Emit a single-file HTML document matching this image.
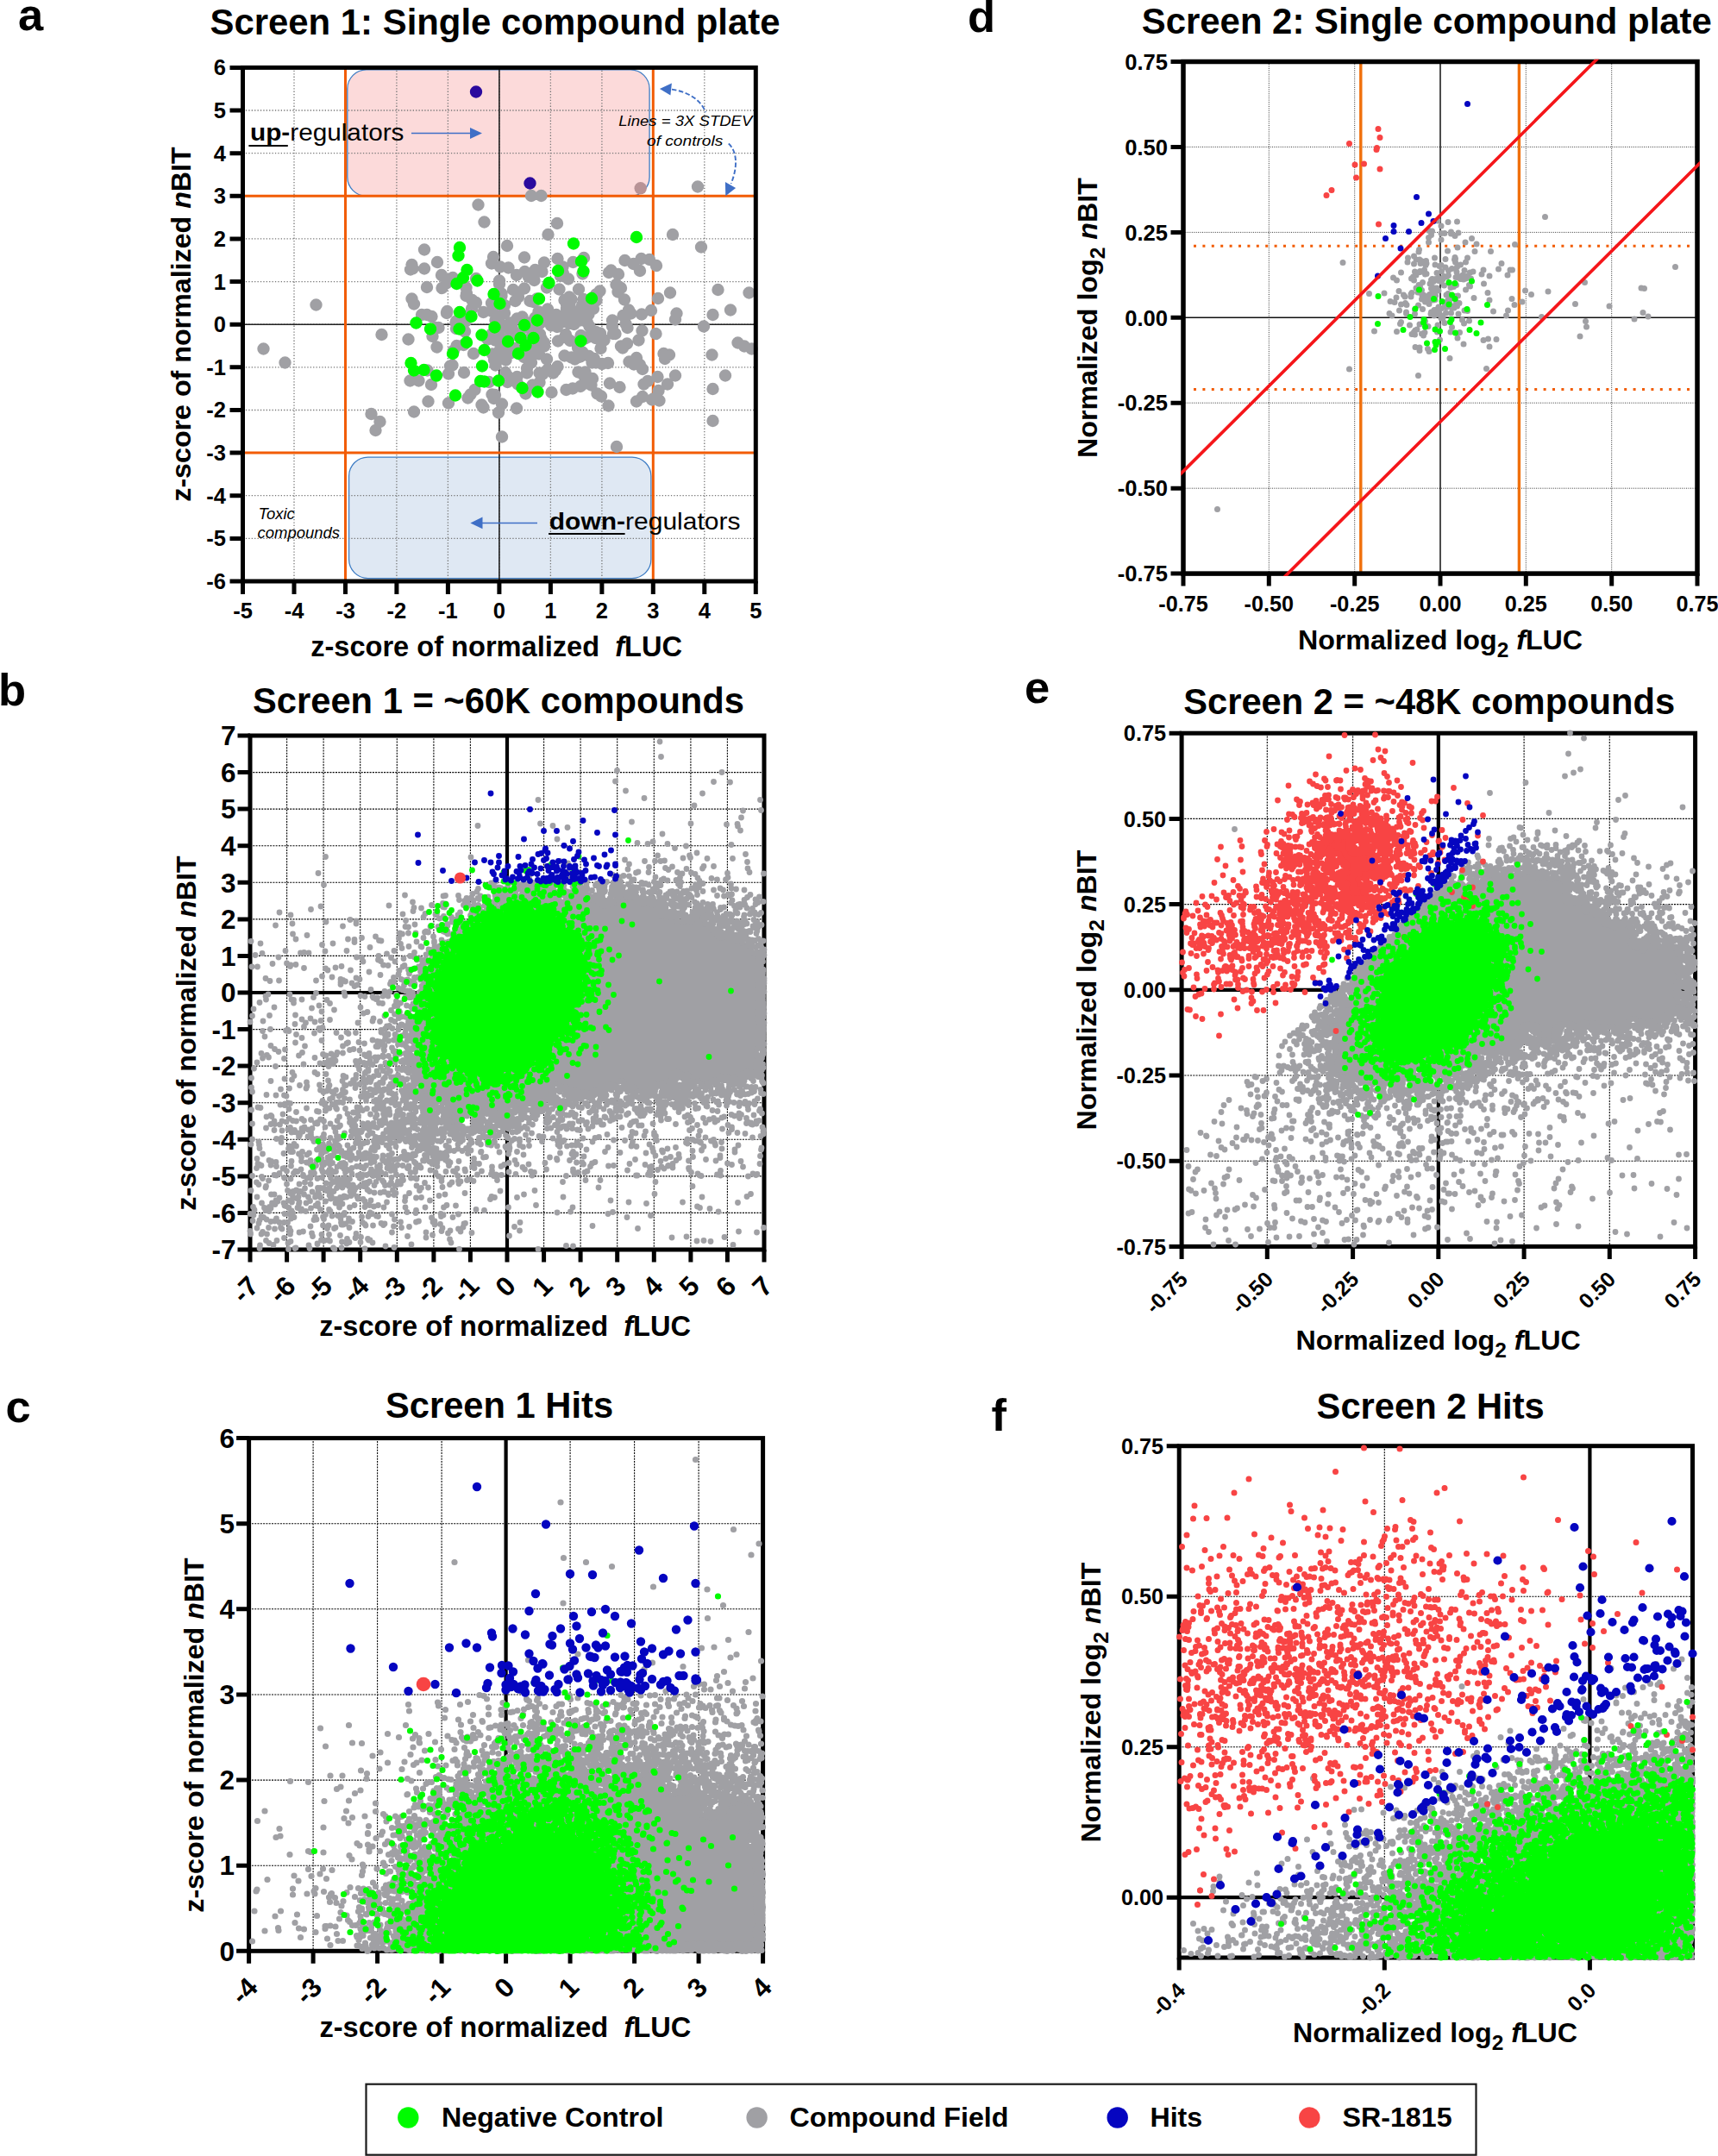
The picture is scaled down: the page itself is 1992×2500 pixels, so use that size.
<!DOCTYPE html><html><head><meta charset="utf-8"><title>Screen figure</title>
<style>html,body{margin:0;padding:0;background:#fff}svg{display:block}text{font-family:"Liberation Sans", Arial, Helvetica, sans-serif;font-weight:bold;fill:#000}</style></head><body>
<svg width="1992" height="2500" viewBox="0 0 1992 2500">
<rect width="1992" height="2500" fill="#fff"/>
<rect x="402.5" y="81" width="470" height="0" fill="none"/>
<rect x="402.8" y="80.9" width="350.3" height="146.4" rx="22" fill="#fcdada" stroke="#3d7cc4" stroke-width="1.3"/>
<rect x="404.6" y="530.1" width="350.3" height="140.5" rx="22" fill="#dfe8f3" stroke="#3d7cc4" stroke-width="1.3"/>
<path d="M341 78.4V674M400.5 78.4V674M459.9 78.4V674M519.4 78.4V674M578.9 78.4V674M638.4 78.4V674M697.9 78.4V674M757.3 78.4V674M816.8 78.4V674M281.5 624.4H876.3M281.5 574.7H876.3M281.5 525.1H876.3M281.5 475.5H876.3M281.5 425.8H876.3M281.5 376.2H876.3M281.5 326.6H876.3M281.5 276.9H876.3M281.5 227.3H876.3M281.5 177.7H876.3M281.5 128H876.3" stroke="#777" stroke-width="1.3" stroke-dasharray="1.3 2.1" fill="none"/>
<path d="M578.9 78.4V674M281.5 376.2H876.3" stroke="#222" stroke-width="1.6" fill="none"/>
<path d="M400.5 78.4V674M757.3 78.4V674M281.5 227.3H876.3M281.5 525.1H876.3" stroke="#f25c05" stroke-width="3" fill="none"/>
<path transform="scale(.5)" d="M1232 454h0m23 0h0m363-21h0m-509 42h0m183 43h0m-169-3h0m148 29h0m289 0h0m66 29h0m-450-3h0m-192 9h0m160 17h0m72 1h0m138 1h0m168 18h0m-16-14h0m-19-2h0m-18 12h0m-20-8h0m-120 4h0m-24 11h0m-12-19h0m-31 9h0m-83 12h0m-19-2h0m-20-8h0m-126-3h0m-30 15h0m-27 0h0m-2-9h0m-3 11h0m72 13h0m26 6h0m54 2h0m94-8h0m19-8h0m7 5h0m2 7h0m15-16h0m16 4h0m43 10h0m6-6h0m12 13h0m33-12h0m61-3h0m5-5h0m17 9h0m50-8h0m-44 40h0m-11-8h0m-87 11h0m-45 0h0m-29-4h0m-29-17h0m-23 19h0m-58-18h0m0 8h0m-77 8h0m-38-19h0m-8 9h0m-10 11h0m-35-2h0m-35 27h0m126-7h0m1-6h0m81 1h0m0 5h0m27-14h0m12 17h0m43 4h0m75-4h0m5 5h0m28 0h0m29-11h0m9-8h0m42 2h0m15 18h0m78-3h0m28-13h0m111-7h0m72 7h0m-43 40h0m-236 0h0m-75-22h0m-7 19h0m-2-8h0m-24 0h0m-29 1h0m-7-2h0m0 10h0m0-3h0m-5-18h0m-39 21h0m-33-17h0m-8-2h0m-34 0h0m-25 10h0m-14 4h0m-16-9h0m-36-1h0m-9-6h0m-1 20h0m-134-11h0m-227 2h0m245 23h0m12 0h0m11 4h0m35-10h0m0 2h0m1-4h0m45 12h0m39-10h0m20-2h0m8 21h0m11-11h0m10-6h0m29 13h0m12-4h0m30 2h0m8-14h0m18 13h0m16 1h0m7-7h0m3 5h0m7 0h0m23 2h0m7 0h0m5-13h0m10 19h0m5-7h0m3-9h0m12 2h0m55 14h0m25-11h0m18-5h0m25 2h0m22-9h0m56 21h0m3-14h0m84 3h0m-21 27h0m-143 10h0m-34-7h0m-4-9h0m-31 6h0m-53 0h0m-5-9h0m-31 4h0m0-7h0m-11 5h0m0-6h0m-13 2h0m-6-1h0m-9 13h0m-14-3h0m-26-5h0m-9-4h0m-7 13h0m0-14h0m-4 4h0m-10 10h0m-35-2h0m-4-8h0m0 14h0m-2-8h0m-22 10h0m0-17h0m-7 9h0m-73-11h0m-4 1h0m-17-2h0m0 17h0m-1-13h0m-40 11h0m-6 0h0m-126 16h0m62 11h0m56-7h0m75-11h0m53 18h0m10-13h0m5 1h0m2 14h0m17-3h0m18-6h0m7-8h0m2-3h0m13 6h0m27 7h0m6 8h0m11-12h0m3-3h0m3 10h0m2 4h0m37 2h0m16-9h0m2-6h0m10 14h0m25-12h0m1 4h0m9 3h0m6-3h0m18 2h0m1-14h0m10 3h0m9 16h0m21-15h0m5 0h0m54 15h0m40-15h0m222 35h0m-17-6h0m-15-8h0m-257 2h0m-10 10h0m-4-4h0m-47 5h0m-53-2h0m-78-3h0m0-8h0m-7 5h0m-22 15h0m-38-2h0m-1-5h0m-24-15h0m-1 19h0m-9-1h0m-85-11h0m-16 2h0m-7 11h0m-39-8h0m-402 4h0m487 11h0m44 1h0m4 13h0m16-17h0m11 18h0m11-16h0m31 9h0m22-12h0m13 5h0m18 12h0m41-8h0m16 4h0m8 4h0m10-5h0m3-1h0m5-10h0m15 9h0m12 6h0m81 7h0m17-9h0m63-10h0m3 12h0m10-9h0m99 0h0m-161 33h0m-6-10h0m-14-1h0m-60-3h0m-14 2h0m-14-3h0m-9 0h0m-16 22h0m-16 0h0m-48-13h0m-5 9h0m-18-2h0m-38-16h0m-10 13h0m-73-7h0m-100 0h0m-5 2h0m-53 10h0m-330-18h0m290 42h0m20 0h0m69-16h0m36-3h0m58 22h0m38-22h0m4 7h0m1 15h0m22-12h0m23-9h0m29 22h0m0-22h0m7 3h0m25-3h0m72 7h0m19 6h0m128 6h0m23-10h0m41-3h0m116 0h0m-29 31h0m-105-11h0m-21 15h0m-34-15h0m-56 7h0m-23-9h0m-43 4h0m-17-3h0m-8 6h0m-18 5h0m-15 3h0m-34 6h0m-44-17h0m-2 5h0m-32-7h0m-100 13h0m-101-12h0m-7 39h0m47 4h0m45-12h0m6-8h0m50 0h0m4 9h0m3-8h0m71-3h0m166 0h0m9 6h0m82 12h0m14-11h0m22 7h0m3-2h0m14 4h0m-118 12h0m-213 6h0m-34-10h0m-8 20h0m-35-12h0m-4-6h0m-157 16h0m-99 5h0m20 18h0m772-2h0m-782 22h0m293 15h0m266 23h0" stroke="#a0a0a4" stroke-width="28.8" stroke-linecap="round" fill="none"/><circle cx="742.7" cy="218.3" r="7.2" fill="#b89396"/><path transform="scale(.5)" d="M1476 550h0m-146 15h0m-264 9h0m-3 19h0m285 13h0m-274 38h0m9-18h0m211 2h0m59 1h0m-80 27h0m-166-5h0m-48 7h0m86 24h0m105 11h0m122-1h0m-213 12h0m-93 20h0m27 10h0m153 9h0m-30 11h0m-69 5h0m-82 4h0m-67 0h0m-33-14h0m152 28h0m90 7h0m30 0h0m110 7h0m-128 10h0m-41-9h0m-55 20h0m-41-18h0m-32 26h0m152 0h0m-84 29h0m-135 9h0m-23 1h0m-7-17h0m59 29h0m102 13h0m9 1h0m33-2h0m91 26h0m-36-9h0m-155 17h0" stroke="#00fb00" stroke-width="28.8" stroke-linecap="round" fill="none"/><path transform="scale(.5)" d="M1104 213h0m125 212h0" stroke="#2a0a9e" stroke-width="28.8" stroke-linecap="round" fill="none"/>
<rect x="281.5" y="78.4" width="594.8" height="595.6" fill="none" stroke="#000" stroke-width="5"/>
<path d="M281.5 674v15.0M341 674v15.0M400.5 674v15.0M459.9 674v15.0M519.4 674v15.0M578.9 674v15.0M638.4 674v15.0M697.9 674v15.0M757.3 674v15.0M816.8 674v15.0M876.3 674v15.0M281.5 674h-15.0M281.5 624.4h-15.0M281.5 574.7h-15.0M281.5 525.1h-15.0M281.5 475.5h-15.0M281.5 425.8h-15.0M281.5 376.2h-15.0M281.5 326.6h-15.0M281.5 276.9h-15.0M281.5 227.3h-15.0M281.5 177.7h-15.0M281.5 128h-15.0M281.5 78.4h-15.0" stroke="#000" stroke-width="5" fill="none"/>
<text x="262" y="682.9" font-size="25.5" text-anchor="end">-6</text>
<text x="262" y="633.3" font-size="25.5" text-anchor="end">-5</text>
<text x="262" y="583.7" font-size="25.5" text-anchor="end">-4</text>
<text x="262" y="534" font-size="25.5" text-anchor="end">-3</text>
<text x="262" y="484.4" font-size="25.5" text-anchor="end">-2</text>
<text x="262" y="434.8" font-size="25.5" text-anchor="end">-1</text>
<text x="262" y="385.1" font-size="25.5" text-anchor="end">0</text>
<text x="262" y="335.5" font-size="25.5" text-anchor="end">1</text>
<text x="262" y="285.9" font-size="25.5" text-anchor="end">2</text>
<text x="262" y="236.2" font-size="25.5" text-anchor="end">3</text>
<text x="262" y="186.6" font-size="25.5" text-anchor="end">4</text>
<text x="262" y="137" font-size="25.5" text-anchor="end">5</text>
<text x="262" y="87.3" font-size="25.5" text-anchor="end">6</text>
<text x="281.5" y="716.5" font-size="25.5" text-anchor="middle">-5</text>
<text x="341" y="716.5" font-size="25.5" text-anchor="middle">-4</text>
<text x="400.5" y="716.5" font-size="25.5" text-anchor="middle">-3</text>
<text x="459.9" y="716.5" font-size="25.5" text-anchor="middle">-2</text>
<text x="519.4" y="716.5" font-size="25.5" text-anchor="middle">-1</text>
<text x="578.9" y="716.5" font-size="25.5" text-anchor="middle">0</text>
<text x="638.4" y="716.5" font-size="25.5" text-anchor="middle">1</text>
<text x="697.9" y="716.5" font-size="25.5" text-anchor="middle">2</text>
<text x="757.3" y="716.5" font-size="25.5" text-anchor="middle">3</text>
<text x="816.8" y="716.5" font-size="25.5" text-anchor="middle">4</text>
<text x="876.3" y="716.5" font-size="25.5" text-anchor="middle">5</text>
<text x="574" y="40" font-size="41.9" text-anchor="middle">Screen 1: Single compound plate</text>
<text x="21" y="35" font-size="52.5" text-anchor="start">a</text>
<text x="575.6" y="760.8" font-size="32.6" text-anchor="middle" xml:space="preserve">z-score of normalized  <tspan font-style="italic">f</tspan>LUC</text>
<text x="221" y="376" font-size="32.2" text-anchor="middle" transform="rotate(-90 221 376)">z-score of normalized <tspan font-style="italic">n</tspan>BIT</text>
<text x="290" y="163.3" font-size="28.3" style="font-weight:normal" text-anchor="start" textLength="178.5" lengthAdjust="spacingAndGlyphs"><tspan style="font-weight:bold">up-</tspan>regulators</text>
<path d="M288.4 169H333.8" stroke="#000" stroke-width="2.2"/>
<text x="636.8" y="614.1" font-size="28.3" style="font-weight:normal" text-anchor="start" textLength="221.6" lengthAdjust="spacingAndGlyphs"><tspan style="font-weight:bold">down-</tspan>regulators</text>
<path d="M636.1 619H724.6" stroke="#000" stroke-width="2.2"/>
<text x="299.4" y="602" font-size="17.5" style="font-weight:normal" font-style="italic" text-anchor="start" fill="#111" textLength="42.4" lengthAdjust="spacingAndGlyphs">Toxic</text>
<text x="298.6" y="624.3" font-size="17.5" style="font-weight:normal" font-style="italic" text-anchor="start" fill="#111" textLength="95.4" lengthAdjust="spacingAndGlyphs">compounds</text>
<text x="717.3" y="145.9" font-size="17.3" style="font-weight:normal" font-style="italic" text-anchor="start" fill="#111" textLength="155" lengthAdjust="spacingAndGlyphs">Lines = 3X STDEV</text>
<text x="750" y="168.6" font-size="17.3" style="font-weight:normal" font-style="italic" text-anchor="start" fill="#111" textLength="88.3" lengthAdjust="spacingAndGlyphs">of controls</text>
<g stroke="#3f6fc6" fill="none" stroke-width="1.5">
<path d="M477 154.5H548"/><path d="M623 606.4H558"/>
<path d="M779 103.6C795 106 812 114 818.2 130.2" stroke-dasharray="5.5 2.6" stroke-width="1.9"/>
<path d="M844.8 166.5C853 174 857 190 847.6 213" stroke-dasharray="5.5 2.6" stroke-width="1.9"/>
</g>
<g fill="#3f6fc6"><path d="M559 154.5L545 148v13z"/><path d="M545.4 606.4L559.5 599.6v13.6z"/><path d="M764.9 103.1L778.9 96.6L777.4 110.6z"/><path d="M841.3 227.2L840.9 211L853.1 218z"/></g>
<path d="M1471.3 71.5V665.1M1570.7 71.5V665.1M1769.3 71.5V665.1M1868.7 71.5V665.1M1372 566.2H1968M1372 467.2H1968M1372 269.4H1968M1372 170.4H1968" stroke="#333" stroke-width="1" stroke-dasharray="1 1.45" fill="none"/>
<path d="M1670 71.5V665.1M1372 368.3H1968" stroke="#111" stroke-width="1.5" fill="none"/>
<path d="M1384 285.2H1962M1384 451.4H1962" stroke="#f25c05" stroke-width="3" stroke-dasharray="3 7.4" fill="none"/>
<path d="M1577.8 71.5V665.1M1761.4 71.5V665.1" stroke="#f0700c" stroke-width="3.4" fill="none"/>
<path transform="scale(.5)" d="M3583 503h0m-204 11h0m-21 1h0m-16 9h0m-8-12h0m-21 39h0m1-16h0m5 10h0m2-9h0m21 5h0m8 0h0m15 1h0m0-4h0m9 9h0m8-7h0m131 27h0m-89-1h0m-11-13h0m-15 9h0m-18 12h0m-38-18h0m-29 6h0m-48 36h0m14-4h0m11-10h0m1-5h0m36 19h0m30-16h0m17 15h0m29 1h0m17-15h0m37 0h0m428 36h0m-403-8h0m-83-3h0m-12 6h0m-8 5h0m-4-11h0m0-8h0m-2 2h0m-6 21h0m-15-3h0m0-19h0m-10 14h0m-4 2h0m-10-3h0m-20-3h0m-1-6h0m-1 10h0m-10-10h0m-2 6h0m-2-9h0m-8 0h0m-5 10h0m-15-4h0m-150 1h0m117 35h0m18-12h0m24 14h0m4-4h0m4-12h0m3 8h0m9-7h0m0-2h0m5 0h0m5-3h0m2 10h0m3-1h0m13 12h0m9 0h0m2-14h0m4 12h0m7-16h0m3 18h0m3-6h0m6 1h0m1-1h0m3-13h0m0 11h0m17 4h0m2-12h0m5 10h0m1 4h0m3 2h0m5-9h0m4-11h0m3 19h0m4-6h0m6-8h0m2 14h0m5-16h0m20 6h0m4-10h0m14 14h0m21-16h0m21 14h0m6-12h0m5 0h0m306 43h0m-7-1h0m-131-13h0m-234 3h0m-32 6h0m-2-3h0m-13-13h0m-17 13h0m-6 4h0m-2 0h0m-5 2h0m-3-10h0m-12 5h0m-5-12h0m-2 3h0m-6-2h0m-4 17h0m-3-20h0m-1 22h0m-1-2h0m0-19h0m-2-1h0m-1 5h0m-5 5h0m0-1h0m0 12h0m0-20h0m-3 9h0m-17-3h0m-6 10h0m-3-4h0m-6 7h0m-5-18h0m-40 0h0m-64 31h0m35-1h0m28 10h0m6-15h0m11 9h0m3 4h0m14-6h0m0 6h0m2-9h0m14-1h0m3-3h0m6 19h0m0-13h0m0-8h0m1 13h0m3-2h0m2 11h0m7-8h0m3 6h0m0 0h0m2-10h0m7-6h0m1-3h0m3 11h0m1 1h0m1 9h0m1-9h0m4-13h0m3 1h0m18 10h0m4-3h0m1 2h0m5 9h0m4-1h0m7-4h0m6-1h0m18-14h0m19 19h0m32-12h0m56 14h0m31-19h0m14 9h0m39-7h0m142 34h0m-79-5h0m-123-5h0m-18 7h0m-58-11h0m-70 7h0m-5 7h0m-2-10h0m-5 14h0m-4-4h0m-2 3h0m-5-12h0m0 3h0m-4-7h0m-3 16h0m-2-2h0m-1-5h0m-8 9h0m-7-3h0m-3 5h0m-7 2h0m-2-23h0m-10 9h0m-9-5h0m-6 17h0m-10-9h0m-8 10h0m-19-11h0m-3-4h0m-10 3h0m-15-5h0m-10-2h0m-2 28h0m6 5h0m17-12h0m16 7h0m0-3h0m20 4h0m37 0h0m1-4h0m4 4h0m1 1h0m2 3h0m3-3h0m8-6h0m4 8h0m1 7h0m4-1h0m7-11h0m12 0h0m17 2h0m9 14h0m5-22h0m7 1h0m60 1h0m30 10h0m4-12h0m78 15h0m215 5h0m20-15h0m12 9h0m-143 24h0m-2-13h0m-270-1h0m-12 6h0m-28 9h0m-17-10h0m-16 5h0m-22 3h0m-7-12h0m-13 7h0m-6 12h0m-4 2h0m-13-12h0m-20-7h0m-2 4h0m-60 17h0m52 1h0m35 6h0m5-5h0m2 6h0m16-2h0m4 4h0m3-7h0m29-1h0m6 18h0m25-18h0m16 14h0m5-13h0m55 18h0m11-3h0m19 1h0m194-7h0m-210 24h0m-60-6h0m-80 17h0m-3-6h0m-19-3h0m0 7h0m-10-8h0m80 26h0m85 24h0m-318 1h0m160 15h0m-466 310h0" stroke="#a0a0a4" stroke-width="14" stroke-linecap="round" fill="none"/><path transform="scale(.5)" d="M3413 652h0m-39 5h0m-14-2h0m-164 32h0m95-15h0m34 21h0m42-9h0m7 9h0m75 14h0m-47 10h0m-42-11h0m-16-7h0m-62 17h0m-12 19h0m32 6h0m64 0h0m68 7h0m-26 17h0m-45-18h0m-35 17h0m-23-6h0m-4-10h0m-47 17h0m-59-14h0m144 17h0m36 4h0m49 1h0m-73 36h0m-16-16h0m-5 7h0m-2-7h0m-1 18h0m-18-15h0" stroke="#00fb00" stroke-width="14" stroke-linecap="round" fill="none"/><path transform="scale(.5)" d="M3196 299h0m4 20h0m-71 14h0m63 14h0m1-4h0m-30 37h0m-21 2h0m58 10h0m-55 20h0m-69 41h0m12-12h0m109 79h0" stroke="#f84444" stroke-width="14" stroke-linecap="round" fill="none"/><path transform="scale(.5)" d="M3403 241h0m-118 216h0m28 39h0m11 17h0m-28 4h0m-64 6h0m0 14h0m35 0h0m-54 16h0m35 23h0m-53 64h0" stroke="#0505c0" stroke-width="14" stroke-linecap="round" fill="none"/>
<rect x="1372" y="71.5" width="596" height="593.6" fill="none" stroke="#000" stroke-width="5.5"/>
<clipPath id="cd"><rect x="1369.2" y="68.7" width="601.6" height="599.2"/></clipPath>
<path clip-path="url(#cd)" d="M1360.1 558.3L1860.7 59.6M1479.3 679L1979.9 180.3" stroke="#f5161a" stroke-width="3.7" fill="none"/>
<path d="M1372 665.1v14.5M1471.3 665.1v14.5M1570.7 665.1v14.5M1670 665.1v14.5M1769.3 665.1v14.5M1868.7 665.1v14.5M1968 665.1v14.5M1372 665.1h-14.5M1372 566.2h-14.5M1372 467.2h-14.5M1372 368.3h-14.5M1372 269.4h-14.5M1372 170.4h-14.5M1372 71.5h-14.5" stroke="#000" stroke-width="5" fill="none"/>
<text x="1354" y="674.3" font-size="25.6" text-anchor="end">-0.75</text>
<text x="1354" y="575.4" font-size="25.6" text-anchor="end">-0.50</text>
<text x="1354" y="476.4" font-size="25.6" text-anchor="end">-0.25</text>
<text x="1354" y="377.5" font-size="25.6" text-anchor="end">0.00</text>
<text x="1354" y="278.6" font-size="25.6" text-anchor="end">0.25</text>
<text x="1354" y="179.6" font-size="25.6" text-anchor="end">0.50</text>
<text x="1354" y="80.7" font-size="25.6" text-anchor="end">0.75</text>
<text x="1372" y="709.4" font-size="25.2" text-anchor="middle">-0.75</text>
<text x="1471.3" y="709.4" font-size="25.2" text-anchor="middle">-0.50</text>
<text x="1570.7" y="709.4" font-size="25.2" text-anchor="middle">-0.25</text>
<text x="1670" y="709.4" font-size="25.2" text-anchor="middle">0.00</text>
<text x="1769.3" y="709.4" font-size="25.2" text-anchor="middle">0.25</text>
<text x="1868.7" y="709.4" font-size="25.2" text-anchor="middle">0.50</text>
<text x="1968" y="709.4" font-size="25.2" text-anchor="middle">0.75</text>
<text x="1654.3" y="39" font-size="41.9" text-anchor="middle">Screen 2: Single compound plate</text>
<text x="1122" y="36.5" font-size="52.5" text-anchor="start">d</text>
<text x="1670" y="753" font-size="32.2" text-anchor="middle">Normalized log<tspan font-size="24.5" dy="9">2</tspan><tspan dy="-9"> </tspan><tspan font-style="italic">f</tspan>LUC</text>
<text x="1272.5" y="368.6" font-size="32.2" text-anchor="middle" transform="rotate(-90 1272.5 368.6)">Normalized log<tspan font-size="24.5" dy="9">2</tspan><tspan dy="-9"> </tspan><tspan font-style="italic">n</tspan>BIT</text>
<path d="M332.6 853V1449M375.1 853V1449M417.7 853V1449M460.3 853V1449M502.9 853V1449M545.4 853V1449M588 853V1449M630.6 853V1449M673.1 853V1449M715.7 853V1449M758.3 853V1449M800.9 853V1449M843.4 853V1449M290 1406.4H886M290 1363.9H886M290 1321.3H886M290 1278.7H886M290 1236.1H886M290 1193.6H886M290 1151H886M290 1108.4H886M290 1065.9H886M290 1023.3H886M290 980.7H886M290 938.1H886M290 895.6H886" stroke="#000" stroke-width="1.1" stroke-dasharray="2 1.3" fill="none"/>
<path d="M588 853V1449M290 1151H886" stroke="#000" stroke-width="4.2" fill="none"/>
<rect x="290" y="853" width="596" height="596" fill="none" stroke="#000" stroke-width="5"/>
<path d="M290 1449v14.5M332.6 1449v14.5M375.1 1449v14.5M417.7 1449v14.5M460.3 1449v14.5M502.9 1449v14.5M545.4 1449v14.5M588 1449v14.5M630.6 1449v14.5M673.1 1449v14.5M715.7 1449v14.5M758.3 1449v14.5M800.9 1449v14.5M843.4 1449v14.5M886 1449v14.5M290 1449h-14.5M290 1406.4h-14.5M290 1363.9h-14.5M290 1321.3h-14.5M290 1278.7h-14.5M290 1236.1h-14.5M290 1193.6h-14.5M290 1151h-14.5M290 1108.4h-14.5M290 1065.9h-14.5M290 1023.3h-14.5M290 980.7h-14.5M290 938.1h-14.5M290 895.6h-14.5M290 853h-14.5" stroke="#000" stroke-width="5" fill="none"/>
<path transform="scale(.5)" d="M1761 2211l-5-5l-8-3l-1-10l-5-5l-14-3l-10-11l-23-1l-10-4l-18 0l-3-12l-7-6l-9-1l-2-7l-6-7l9-7l1-10l-2-6l-9-8l-8-1l-7 2l-5 5l-10 20l-25 0l-8 3l-2-6l-7-6l-14-3l-20 0l5-9l0-9l-8-9l-59-6l-7-9l-7-2l-27-1l-7 6l-2 10l-3 3l-24 0l-7-10l-17-2l-7-9l-10-7l-7-2l-7 2l-8 9l-18 3l-8 10l-9-10l-15-3l-4-4l-7-2l-7 2l-5 5l-1 7l-4 4l-23 0l-3-3l-1-6l-5-5l-7-2l-10 4l-7 9l-15-3l-17 0l-7 6l0 11l-8 7l0 12l-3 3l-9 0l-7 6l-3 15l-28 3l-6 5l-9 3l-7 10l-9 2l-14 13l-1 10l-4 4l-14 2l-9 8l-11 2l-12 11l0 12l8 8l7 2l-4 2l-6 8l-1 28l-4 3l-9 1l-7 6l-4 15l-1 13l8 10l0 23l-4 6l1 31l-6 4l-16 1l-8 9l0 7l7 9l1 10l11 10l0 23l-4 4l-5-1l-7 2l-6 8l1 10l5 5l6 2l-3 5l2 25l4 7l-6 8l1 9l7 6l11 1l2 2l1 20l8 9l5 1l7-2l9-8l3-8l5 4l8 0l4 13l-1 33l7 9l8 2l7-2l5-5l1-21l5-8l12-4l16-1l5-4l10 5l8-3l22 0l4 4l2 16l5 5l19 4l6-1l8-9l0-8l-3-5l0-7l3-7l19 4l6-1l7-5l10-1l13 1l9 4l10-1l7-6l2-8l7 0l7-6l1-12l-2-13l9-5l26 8l8-2l5-5l2 11l7 6l8 1l22-2l6-4l20-1l9-10l27-2l6-5l5-1l6 5l13 3l13 14l19 2l16-5l5-5l1-7l3-4l23 0l9 4l7-2l6-8l0-15l6-3l22 1l2 2l1 15l7 6l15-1l4-3l6 6l7 2l7-2l6-6l18-2l8-10l23 0l9 8l10 0l7-6l3-9l30-5l8-9l-1-41l4-6l1-158l-1-17l-3-7z" fill="#a0a0a4" fill-rule="evenodd"/><path transform="scale(.5)" d="M1530 1720h0m3 35h0m-102 32h0m243 4h0m19 23h0m-38-1h0m-228-1h0m24 22h0m178 6h0m134 15h0m-153 13h0m-116-17h0m-246 4h0m475 25h0m42-1h0m-46 17h0m-8 20h0m-1-5h0m-25 1h0m-83-2h0m-137-4h0m-149 13h0m-34-4h0m-29-5h0m-145 5h0m428 19h0m181-8h0m-21 33h0m-105 3h0m-26 5h0m-17-10h0m-34-5h0m-12 5h0m-24-2h0m-186-9h0m-537 41h0m337 1h0m433-4h0m59 6h0m15-6h0m2 5h0m15-11h0m24 13h0m59 0h0m30-10h0m5 33h0m-1-15h0m-78 10h0m-23 0h0m-3 5h0m-37 1h0m-33-5h0m-16 3h0m-2-17h0m-9 1h0m-13 0h0m-14 14h0m-10-14h0m-36 7h0m-10-10h0m-132 8h0m-19-5h0m-560 28h0m490 6h0m87-9h0m7 15h0m2-10h0m97 2h0m16 5h0m9-3h0m10-15h0m3 16h0m16-8h0m5-2h0m24 1h0m16 11h0m18 5h0m1-1h0m11-21h0m21 6h0m6 12h0m5-9h0m21-2h0m9 3h0m6 9h0m32 1h0m37-12h0m1 10h0m50-12h0m33 3h0m-64 36h0m-11-2h0m-1-10h0m-12-10h0m-13 20h0m-7-20h0m-33 9h0m-8-6h0m-1 10h0m0 4h0m-8-5h0m-9 8h0m-25-14h0m-2 9h0m-4-5h0m-5-9h0m-20 1h0m-14-1h0m-2 12h0m-7-4h0m-1 8h0m-3-3h0m-4-9h0m-3 17h0m-10-10h0m-7-3h0m-2 1h0m-7-3h0m0 3h0m-8 9h0m-4 0h0m-1-1h0m0 5h0m-5-23h0m-3 17h0m-2-14h0m-1 19h0m-2 1h0m-5-12h0m-12 6h0m-5-12h0m-4 6h0m0-9h0m-2 19h0m0-10h0m-3 10h0m0-6h0m-2 5h0m-7-7h0m0-6h0m-3 10h0m-12-12h0m-2 2h0m-3 9h0m0-2h0m-5 1h0m-7 4h0m-1 1h0m-4-11h0m-4 4h0m-19 9h0m-1-19h0m0 16h0m-1-9h0m-9 9h0m0 4h0m-4-16h0m-2 14h0m-4-4h0m-5-1h0m0-1h0m-2 7h0m0-7h0m-6-1h0m0 2h0m-20-4h0m-1 7h0m-3-5h0m0 8h0m0-13h0m-1-2h0m0 11h0m-2 4h0m-11-11h0m0-1h0m-2-3h0m-1 6h0m-3-5h0m-1 14h0m-1-1h0m-9-8h0m-5 1h0m-7 8h0m-2-5h0m0 2h0m-1 1h0m-4-4h0m-5-5h0m-1-2h0m-1-7h0m-6 20h0m0-4h0m-4-11h0m-3 5h0m-5-1h0m-2 12h0m0-13h0m-1 1h0m-2 6h0m-2 5h0m-6-12h0m-1 7h0m-4-3h0m-6-2h0m-3 4h0m0 6h0m-2-7h0m-2-3h0m0 0h0m-2-4h0m-15-1h0m-3 6h0m-5 10h0m-6-1h0m-6-3h0m-4-1h0m-8-13h0m0 17h0m-4-8h0m-4-2h0m-2-4h0m-1 10h0m-29 3h0m-358-9h0m188 24h0m89 2h0m5-1h0m30 0h0m2 10h0m17-4h0m11-1h0m3-9h0m10-5h0m2 15h0m3 2h0m3-7h0m13 3h0m5-1h0m16-4h0m1 7h0m1-8h0m6-4h0m4 11h0m1 4h0m1-13h0m1-3h0m3-6h0m1 20h0m2 3h0m2-16h0m2 6h0m1 8h0m3-21h0m0 12h0m0 6h0m3-1h0m3 4h0m0-7h0m2 1h0m2 5h0m0-1h0m2-5h0m2-7h0m2 4h0m3-8h0m0 9h0m1 10h0m2 0h0m4-1h0m6-9h0m1-1h0m2-7h0m6 4h0m0-6h0m3 16h0m0 4h0m1-7h0m3-10h0m0-3h0m0 17h0m4-18h0m1 12h0m0 4h0m1-1h0m0-2h0m1-5h0m1-7h0m9 21h0m0-5h0m4 1h0m2-4h0m1 5h0m1-8h0m1 1h0m1-8h0m1 15h0m4-2h0m0-3h0m1-9h0m0 3h0m3-6h0m3 13h0m3-7h0m2-3h0m4-4h0m0 10h0m3-11h0m4 14h0m2-9h0m0 11h0m1-12h0m1-3h0m6 3h0m4 9h0m2 0h0m0 4h0m1-14h0m1 5h0m1 3h0m2-1h0m3 0h0m5-4h0m2-2h0m0-2h0m1 0h0m0 14h0m1-4h0m0 5h0m1-3h0m1 2h0m1-13h0m2 15h0m1-6h0m1-7h0m3 10h0m0-1h0m2-3h0m0-7h0m6 7h0m2 4h0m2-13h0m2-1h0m2-2h0m3 2h0m12 2h0m1 0h0m1 8h0m1 1h0m1-2h0m1 2h0m2-2h0m4 0h0m0 6h0m4 6h0m1-8h0m2 6h0m1-20h0m0 21h0m1-3h0m7 0h0m0-7h0m6 0h0m3-11h0m2 13h0m1-10h0m1 9h0m1 1h0m0 7h0m2-1h0m0-5h0m1-7h0m0 12h0m4-16h0m1-2h0m11 18h0m2-11h0m1 11h0m0-5h0m1-14h0m3 1h0m4 9h0m1-7h0m9 2h0m1 8h0m4-3h0m1-3h0m4-5h0m5 7h0m2 2h0m1 3h0m4-10h0m3 14h0m0-1h0m2-4h0m1 3h0m2-1h0m2-10h0m3 1h0m1 7h0m0-9h0m1 10h0m1 5h0m1-8h0m1-7h0m2 11h0m11 4h0m2-4h0m0-13h0m1-3h0m1 11h0m1 5h0m0-9h0m1 16h0m6 0h0m2-2h0m3-16h0m4 3h0m1 4h0m1 11h0m1-5h0m3 1h0m3-16h0m9 5h0m2 7h0m1-10h0m0 17h0m4-3h0m10-7h0m1 2h0m1 5h0m3-10h0m4-1h0m1-4h0m1 4h0m4-5h0m2 10h0m3-5h0m1 13h0m1-3h0m4-14h0m1 16h0m1-2h0m4 4h0m1-7h0m3-6h0m3-2h0m1 14h0m1-18h0m7 3h0m1 14h0m0-18h0m1 6h0m7 5h0m3 4h0m11-16h0m2 10h0m13-8h0m25-3h0m8 13h0m14-13h0m2 14h0m10-4h0m1 3h0m7-3h0m29 13h0m0-23h0m7 17h0m7-6h0m12 11h0m9-6h0m9 11h0m-12 2h0m-6 4h0m-7 10h0m-13-1h0m-4-7h0m-1-2h0m-10 0h0m-1 7h0m-1-7h0m-3 1h0m-6 13h0m-3-10h0m-5-13h0m-3 6h0m-16 10h0m-8 5h0m0-4h0m-16 3h0m-2-11h0m0 6h0m-9 4h0m-3-10h0m0 10h0m-1-2h0m-2 3h0m-5 3h0m-3-2h0m0-16h0m-4 7h0m-7 6h0m-2 4h0m-1-15h0m-4 10h0m-1-13h0m-14 6h0m-8-2h0m-2 5h0m0 4h0m-2 2h0m-1 2h0m-1-14h0m0 5h0m0 11h0m-2-22h0m-2 2h0m-1 12h0m-6-1h0m-4-3h0m-5 2h0m-1-3h0m-1-6h0m-1 8h0m-1 0h0m-3-3h0m0-7h0m-12 8h0m0 7h0m-2 4h0m0 2h0m-1-11h0m-1-8h0m-4-1h0m-1 17h0m-2-15h0m0 16h0m-1-6h0m-1 0h0m0-15h0m-6 6h0m-1-3h0m0 6h0m-3-3h0m-5 0h0m-4 4h0m-3-3h0m0 2h0m-2-7h0m-2 5h0m-2-1h0m-12 2h0m-5-2h0m-10-4h0m-53 5h0m-3-5h0m-2 5h0m-3-5h0m-5 9h0m-3 0h0m-2-10h0m-2 11h0m-2 0h0m-1-11h0m0 3h0m-3 1h0m-1 6h0m-1-4h0m0-4h0m-2 2h0m-3-2h0m-2 0h0m-1-3h0m-1 3h0m-76 0h0m-9 1h0m-46-1h0m-1-2h0m-6 1h0m-1 1h0m-2-1h0m-2-1h0m-5 2h0m-5-1h0m-7 2h0m-27-4h0m0 0h0m-35 6h0m-2 7h0m-7-12h0m-1 17h0m-2 3h0m-2-16h0m-1 10h0m-1 4h0m-1-7h0m-1-2h0m-1 6h0m-3-3h0m-2 4h0m-1-12h0m0 18h0m0-16h0m-1-3h0m-10 19h0m-1-11h0m-3 0h0m-11 4h0m-2 0h0m0 0h0m-2-5h0m-1 9h0m-4 1h0m-3-9h0m0 10h0m-2-9h0m0 4h0m-1-16h0m-4 13h0m-9-6h0m-1-6h0m-2 5h0m-4-6h0m-3 10h0m-40-1h0m-2-2h0m-2 8h0m-3-3h0m-1-6h0m0 8h0m-26-4h0m-24 7h0m-17-1h0m-3-13h0m-55 8h0m-158 2h0m-23 7h0m-73 7h0m26 6h0m138 11h0m122-13h0m7 15h0m17-22h0m24 14h0m4-8h0m24 2h0m3-1h0m6 10h0m8-2h0m2-3h0m18 2h0m7 6h0m8-11h0m3 3h0m1 8h0m0-1h0m1-16h0m24 7h0m2 9h0m1-16h0m5 16h0m4-18h0m2 6h0m8 15h0m1-20h0m2-1h0m5 20h0m2-13h0m3-1h0m2-6h0m0 20h0m0-5h0m2-2h0m2-1h0m0-1h0m5 8h0m0-12h0m2-6h0m5 10h0m8-2h0m2-1h0m3-6h0m376 9h0m1-9h0m6 0h0m0-1h0m4-2h0m4 2h0m0 9h0m3 0h0m2 2h0m3-12h0m2 8h0m0 4h0m0-12h0m5 7h0m0-8h0m3 10h0m1 3h0m3 2h0m1-6h0m0-4h0m1 7h0m2-7h0m2 0h0m6 1h0m0 2h0m1-9h0m1 23h0m0-9h0m3 3h0m2-4h0m1-3h0m4 8h0m0 2h0m6 1h0m0 2h0m2-9h0m4-7h0m0-4h0m2 12h0m2-8h0m4 11h0m1-6h0m1 9h0m0-4h0m1-9h0m1-4h0m1 3h0m3-6h0m1-1h0m3 1h0m8 21h0m5-6h0m6 0h0m2-9h0m1 9h0m1-8h0m0 14h0m7-6h0m5 6h0m2-18h0m1 18h0m0-7h0m0-3h0m6 9h0m0-4h0m8-5h0m1 8h0m3-4h0m2-9h0m8 1h0m3 13h0m1-6h0m2-5h0m12-4h0m15 8h0m1-4h0m2 13h0m11-15h0m2-3h0m7 16h0m2-17h0m1 4h0m8 1h0m6-4h0m1 28h0m-8 6h0m-2 8h0m0-21h0m-4 2h0m-1 12h0m-5-4h0m-8 11h0m-6-17h0m-7 2h0m-1 15h0m-2-13h0m0-7h0m-2 0h0m-3 20h0m-5-5h0m-2-8h0m-2-10h0m-5 13h0m-1 2h0m-2-13h0m-1 1h0m-2 19h0m-1-4h0m0 0h0m-2 1h0m-1-17h0m-2-1h0m0 1h0m-2 13h0m0 6h0m0-1h0m-1 3h0m-1-12h0m-6-8h0m-1 8h0m-2 0h0m-5-8h0m-4 18h0m-1-8h0m0-3h0m-10 9h0m-4-13h0m-2-1h0m-1 16h0m0-1h0m-2-16h0m-1 11h0m0-9h0m-2 10h0m-3-5h0m-8-7h0m0 2h0m-33-6h0m-6 1h0m-13 2h0m-1 0h0m-12-2h0m-440 2h0m-1 1h0m0 1h0m-2-5h0m-7 5h0m0 0h0m-3 0h0m-2 7h0m-1-3h0m-2-4h0m0 0h0m-1 5h0m0 2h0m-1-5h0m0 3h0m0-7h0m-2 4h0m-1-5h0m-1-2h0m-3 10h0m-2-5h0m-1 1h0m-1 7h0m-1-1h0m-1-6h0m-1 5h0m-1 7h0m-6 2h0m-1-13h0m0-3h0m-5 1h0m0 18h0m-7-13h0m-4 10h0m0-6h0m0-10h0m0 14h0m-6-15h0m-5 20h0m-1-4h0m-2-8h0m-10-9h0m-10 9h0m-1-4h0m-2 10h0m-1 0h0m-1-6h0m-9 2h0m-8 0h0m0 1h0m-18-1h0m-36-5h0m-15 6h0m-7-1h0m-114-13h0m0 6h0m-31 6h0m-39-10h0m-78 4h0m-39 4h0m-57 37h0m97-17h0m7 12h0m26-9h0m95 9h0m15 1h0m17-4h0m32-3h0m8 9h0m5 1h0m41-6h0m2-12h0m6 2h0m14-2h0m17 0h0m18 11h0m3-13h0m3-2h0m5 2h0m12 10h0m2 11h0m17-3h0m4-20h0m5 2h0m5 4h0m0-6h0m7 23h0m5-10h0m0-3h0m1-5h0m1 8h0m1 1h0m3 4h0m0-12h0m1 11h0m3 5h0m1-7h0m2 1h0m1-10h0m3 3h0m9-9h0m9 1h0m573 3h0m2 0h0m3 4h0m2 3h0m3 3h0m1-14h0m2 9h0m0 6h0m2-1h0m0-13h0m6 7h0m2-1h0m2 5h0m2-6h0m0-2h0m1 4h0m2 6h0m1-13h0m0 13h0m0-8h0m4-1h0m3 11h0m0-13h0m2 15h0m2 2h0m3-6h0m0-5h0m4 11h0m1-12h0m3 9h0m0-8h0m0 3h0m1-4h0m0 11h0m5-15h0m1 9h0m1-10h0m0 8h0m1-4h0m0 16h0m1-12h0m2-11h0m0 2h0m1-1h0m1 8h0m0-2h0m3 9h0m1 1h0m0-2h0m1-6h0m3 10h0m1 0h0m1 2h0m0-21h0m2 19h0m0 1h0m3-19h0m4 19h0m3 1h0m4 0h0m3-16h0m5 12h0m11 5h0m2 20h0m-1 3h0m-4-4h0m-2-6h0m-1-7h0m-2 5h0m-5 0h0m-4 5h0m-9-8h0m-2 5h0m0-7h0m-2 3h0m-3 2h0m-1-6h0m-1-1h0m0 5h0m-14-4h0m-668-2h0m-6 2h0m-1 11h0m-2-12h0m-3-2h0m-3 14h0m-2 0h0m-2-12h0m0 13h0m-3 1h0m-1-10h0m-6 16h0m-2-11h0m0 3h0m-2-4h0m-7 12h0m-2-5h0m0 3h0m-2-1h0m-1-9h0m-1-8h0m-8 17h0m-5-1h0m-16-6h0m-2-1h0m-10-11h0m-18 11h0m-16 4h0m-3-10h0m-15 16h0m-56-8h0m-36-12h0m-18 20h0m-32-17h0m-18 18h0m-7-15h0m-85 14h0m-58-17h0m-12 27h0m16-4h0m38 9h0m51-10h0m8-1h0m11 1h0m111 10h0m12 1h0m3 9h0m35-4h0m1-9h0m5 12h0m14-17h0m10 9h0m9 9h0m20-7h0m15-6h0m9 2h0m1-10h0m6 17h0m7-3h0m4 4h0m9-2h0m1-11h0m10 14h0m3-4h0m1-7h0m0-1h0m2 0h0m0-3h0m2 13h0m7-15h0m0 14h0m1 5h0m0-21h0m0 22h0m4-21h0m1 20h0m0 1h0m728-20h0m7 0h0m2-3h0m0 6h0m2 5h0m0-9h0m4 6h0m3 5h0m1 9h0m0 1h0m3-1h0m0-11h0m1-9h0m2 5h0m-2 36h0m0-2h0m-1-1h0m-2 0h0m-2-10h0m-1 6h0m-1 0h0m-1-12h0m-1 16h0m0-7h0m0 2h0m-3 0h0m0 3h0m0 2h0m-1-15h0m0 16h0m0-15h0m-1 8h0m-738 0h0m-3-2h0m-1 8h0m0 4h0m-1-8h0m-1 9h0m0-6h0m-1-12h0m0 1h0m-10 2h0m-2 13h0m-9-19h0m-1 22h0m-1-5h0m-5-5h0m0-12h0m-3 8h0m0 5h0m0-9h0m-2 3h0m-3 14h0m-1-7h0m-3-4h0m-12 5h0m-12 2h0m-9-10h0m-4 3h0m-8 9h0m-26-12h0m-11-1h0m-33 16h0m-43-4h0m-21-9h0m-14 3h0m-18 6h0m-5-4h0m-50-1h0m-19-8h0m-12 1h0m-1 3h0m-8-7h0m-33 1h0m-35 7h0m-13 0h0m32 27h0m10 6h0m21-1h0m86 0h0m14-10h0m23 2h0m20 5h0m0 7h0m5-5h0m6 3h0m25-8h0m8 3h0m48-10h0m25 16h0m6-10h0m1 10h0m10-17h0m6 11h0m5 2h0m10-1h0m4-14h0m0 17h0m0-19h0m5 23h0m3-2h0m4-10h0m1 2h0m7-3h0m6 6h0m2-5h0m0-1h0m1-10h0m1 15h0m2-9h0m3 12h0m1-14h0m2 4h0m12 7h0m0 6h0m3-19h0m0 18h0m1 3h0m1-17h0m1 15h0m5-6h0m0 7h0m0-16h0m1 15h0m1 1h0m744-4h0m0-14h0m0 13h0m0 2h0m2 4h0m0-12h0m1 10h0m0-6h0m0-4h0m1-10h0m0 10h0m2-8h0m0 5h0m0 7h0m0-3h0m0-8h0m0 4h0m0 2h0m1-5h0m0 12h0m0-2h0m0-5h0m2-9h0m0 8h0m1-2h0m1 13h0m1-4h0m1-5h0m0-9h0m0 8h0m2 10h0m1-7h0m0 5h0m0 6h0m0 20h0m-2-10h0m0 5h0m-1-2h0m0 2h0m-1-13h0m0-1h0m-1 7h0m0 15h0m0-13h0m-2-10h0m0 17h0m0-8h0m-1 7h0m-1-3h0m-2-1h0m0-5h0m0 11h0m-1 4h0m-1-8h0m0-4h0m0 4h0m-1-14h0m-1 14h0m-753-11h0m-10 0h0m-2 15h0m-1-12h0m0 17h0m0-4h0m-1 0h0m-1-9h0m-3 0h0m-2 13h0m-1-11h0m-2-7h0m-3 12h0m0-10h0m-2 12h0m-4 3h0m-10-20h0m-2 2h0m-3 18h0m-5-20h0m-2 17h0m0-1h0m-5 0h0m-5 0h0m-3-13h0m-3 11h0m-5-2h0m-6-3h0m-18-9h0m-1 18h0m-12-1h0m-32-4h0m-31-11h0m-7 3h0m-6-7h0m-18 22h0m-8-19h0m-57 20h0m-131 22h0m14-15h0m1 8h0m5-12h0m50 0h0m4 12h0m5 1h0m0 7h0m19-8h0m27-5h0m31 6h0m7 8h0m35-18h0m36 0h0m10 2h0m18 0h0m2 3h0m6 3h0m3-3h0m4 12h0m8 1h0m1-17h0m12 0h0m19 15h0m0-3h0m0-15h0m6 19h0m4 0h0m11-13h0m8-7h0m0 7h0m5 0h0m11-1h0m1 7h0m0 2h0m1-9h0m4 10h0m1 1h0m0-6h0m0-2h0m1-3h0m0 14h0m1-12h0m3 10h0m4-16h0m3 17h0m1-11h0m0 5h0m1 7h0m0-17h0m0 15h0m2 0h0m1-9h0m1 12h0m0-12h0m0 2h0m5 5h0m0-4h0m763-7h0m0-7h0m0 2h0m0 9h0m0 6h0m1-11h0m1 5h0m0 8h0m0-18h0m1 2h0m0 4h0m0-1h0m1 8h0m1-3h0m0 4h0m0-7h0m0-2h0m1 2h0m0-2h0m0 9h0m1-4h0m0-5h0m2 2h0m0 4h0m1-5h0m1 2h0m1-1h0m0 6h0m0-8h0m0-1h0m1 16h0m2 25h0m-1-14h0m0 10h0m0 3h0m-1-19h0m0 3h0m-1 6h0m0-9h0m0 1h0m0 1h0m-1 4h0m-1 15h0m-1-13h0m0-4h0m-1 17h0m0-19h0m-2 16h0m0-16h0m0 11h0m0-4h0m-1-4h0m0-3h0m-1 6h0m-1-6h0m-1 8h0m0 1h0m-1 4h0m0-13h0m-1 3h0m0-4h0m0 2h0m-1 15h0m0 3h0m-758-12h0m0 0h0m-3 12h0m0-21h0m-1 0h0m0 17h0m-1-9h0m-1 5h0m-1 0h0m0 5h0m-1-11h0m-4 8h0m-2-7h0m-1 9h0m-1-6h0m0 8h0m-1 0h0m-5 2h0m-4-5h0m0-6h0m-2 5h0m-1-11h0m-3 2h0m-6 4h0m-2-12h0m-2 11h0m-1-5h0m-2 1h0m-5 16h0m-5-19h0m-16 15h0m-1-2h0m-4-12h0m-7 0h0m-8 10h0m-55 4h0m-9 3h0m-7-14h0m-61 6h0m-29 4h0m-6-14h0m-17 6h0m-87-2h0m-48 4h0m-8 30h0m5-14h0m25 12h0m15-13h0m59 20h0m1-21h0m15 10h0m9 8h0m11-10h0m10 8h0m14-3h0m21-2h0m65 7h0m34-4h0m2-6h0m15 7h0m11-13h0m15 9h0m8 4h0m0-17h0m8 2h0m2 7h0m5-3h0m9 0h0m4-5h0m2 7h0m0-8h0m2 18h0m5-8h0m3 9h0m5-2h0m1-9h0m7 0h0m5 0h0m1-7h0m2 6h0m4 1h0m1 14h0m2-8h0m1-13h0m1 5h0m0 1h0m3 4h0m0 9h0m1-6h0m0-9h0m1 0h0m0 10h0m0 8h0m1-5h0m1-2h0m764-3h0m1-4h0m0 5h0m0-6h0m2 11h0m0-1h0m0-8h0m2 12h0m0-1h0m1-20h0m0 6h0m0 6h0m0-2h0m3-6h0m2 18h0m1 0h0m2 0h0m0-16h0m0 12h0m2 1h0m-1 11h0m0 7h0m0-8h0m-1 13h0m-2-18h0m-1 22h0m-1-16h0m0 9h0m0-2h0m-1-12h0m0 6h0m0 4h0m-1 8h0m0-15h0m-3 1h0m0 5h0m-1 11h0m0-8h0m0 7h0m0-16h0m-1 10h0m0 4h0m0-2h0m0 2h0m-1-6h0m0 10h0m-1-4h0m-762-18h0m-1 6h0m-3 3h0m-1-4h0m0-3h0m-1 3h0m-5 3h0m0 1h0m-1-3h0m-1-2h0m0 7h0m-2 3h0m-1-4h0m-1 0h0m-1-2h0m-1-1h0m-1 2h0m-2-2h0m0 0h0m-2 4h0m-1-8h0m-3-2h0m-3 16h0m0-15h0m-5 2h0m-2 18h0m-2-6h0m-2-7h0m-1-6h0m0-2h0m-5 0h0m-6 10h0m-1-8h0m0 15h0m-7-18h0m-2-1h0m-4 3h0m-2 2h0m-1 7h0m-8 11h0m-6-14h0m-7-6h0m-3 19h0m-3-18h0m-4 6h0m-9 3h0m0 5h0m-59 1h0m-17 2h0m-4-3h0m-24 1h0m-32-12h0m-6 6h0m-2-4h0m-11 11h0m-24-15h0m-18 18h0m-17-8h0m-3-3h0m-4 2h0m-36-3h0m-18 4h0m5 13h0m71 14h0m15-11h0m46 6h0m45-7h0m13 14h0m3-2h0m25-1h0m13 3h0m19-8h0m11 3h0m6 1h0m2 5h0m4-4h0m6-17h0m0 10h0m1-9h0m2 1h0m4-2h0m1 14h0m12-2h0m4-11h0m6 21h0m1-18h0m0 8h0m4-7h0m3 14h0m1 3h0m1-20h0m7 0h0m1-2h0m3 15h0m2-12h0m1 0h0m4 10h0m2-7h0m4-1h0m1 12h0m1-2h0m1-13h0m0 13h0m1-9h0m0 10h0m5-13h0m1 15h0m0-9h0m0-5h0m1 12h0m0 3h0m2-4h0m786 8h0m0-21h0m1 4h0m0 7h0m0-12h0m0 3h0m0-1h0m1 2h0m2-2h0m1 20h0m0-4h0m1-18h0m1 18h0m0-1h0m0-3h0m1-1h0m0-2h0m0-5h0m2 6h0m0 9h0m0-22h0m0 0h0m0 2h0m1 6h0m1-3h0m0 8h0m0-2h0m1-4h0m0 10h0m1-14h0m0 6h0m2 12h0m-1 15h0m-1 8h0m-1-14h0m0-3h0m0 8h0m0 8h0m-1-9h0m0 3h0m0-1h0m-1 9h0m-2-16h0m-1-2h0m-2 3h0m0-5h0m-5 4h0m-2 4h0m-1 11h0m-770-15h0m-6-5h0m-2 9h0m-1-8h0m-2 12h0m-1 6h0m-9-11h0m-2-5h0m-4 6h0m-1-2h0m-6 10h0m-6-11h0m-2 17h0m-1-21h0m-1 17h0m-12 1h0m-10-5h0m-2-1h0m-4 0h0m-3-8h0m-17-5h0m-1 11h0m-1-3h0m-13-6h0m-5 0h0m-16 16h0m-11 3h0m-11-10h0m-14-3h0m-9 2h0m-16-9h0m0 16h0m-13-1h0m-2 5h0m-12-2h0m-19 1h0m-42-19h0m-6 15h0m-40-7h0m-15 5h0m-9-6h0m-9-8h0m-9 22h0m-13-4h0m-10 21h0m13-10h0m14-2h0m36 3h0m34-7h0m11 20h0m26-15h0m12 13h0m13-1h0m1-17h0m6 12h0m5-1h0m2 5h0m4 3h0m1-12h0m2-6h0m2 11h0m0 0h0m47 1h0m2 8h0m7-8h0m10 4h0m4 5h0m1-21h0m1 18h0m7-15h0m1 8h0m3 8h0m3 1h0m6-17h0m2 8h0m1-2h0m4-6h0m11-4h0m1 3h0m5 14h0m7-16h0m6 9h0m6 1h0m1 0h0m0-1h0m2 6h0m1-16h0m1 3h0m12 11h0m2-1h0m3-2h0m1 6h0m0-2h0m9-12h0m1 3h0m0 0h0m1 11h0m2-9h0m3 2h0m1-10h0m0 8h0m1 9h0m0-5h0m4 0h0m1 7h0m0-8h0m0-9h0m0 1h0m3 19h0m5-13h0m1-5h0m3-1h0m5-1h0m0 8h0m1-4h0m0-4h0m0 4h0m4 2h0m2 1h0m770 9h0m1-17h0m2 17h0m1-10h0m0 11h0m0-4h0m2-6h0m0 7h0m0 7h0m2-3h0m1-8h0m1-12h0m0 11h0m1 4h0m1 4h0m2-13h0m1-6h0m1 20h0m1 8h0m-3 18h0m0-13h0m-2 10h0m-1 0h0m-1 0h0m0-14h0m-1-5h0m-3 20h0m0 3h0m-1-21h0m-2 1h0m-1 7h0m-1-7h0m-1 9h0m-2 5h0m-2-2h0m-3 2h0m-1-2h0m-8 2h0m-2 0h0m-1 3h0m-2-6h0m0 2h0m-1-2h0m0 0h0m-9 4h0m-7 1h0m-48 4h0m-1 0h0m-72-4h0m-2 3h0m-6 1h0m-4-2h0m-1-1h0m-2 3h0m-6-8h0m-6-1h0m0 3h0m-1-1h0m-1 7h0m0-7h0m-2 3h0m-3 2h0m-2-4h0m-1 2h0m-584-7h0m-4-5h0m-1 11h0m-5-11h0m-1-6h0m-1 13h0m-3-2h0m0-5h0m-1 2h0m-7 3h0m-3 4h0m0-11h0m-5 6h0m-5-5h0m-5 3h0m-1-2h0m-8 14h0m-1-14h0m-17 5h0m-7-9h0m-1 14h0m-9-6h0m-5-9h0m-5 19h0m-4-9h0m-20 0h0m0-4h0m-5 6h0m-3 3h0m-13-9h0m-1-5h0m-6 18h0m-30 2h0m-34-22h0m-6 18h0m-20 0h0m-6-4h0m-48 8h0m-4-8h0m-39-14h0m-50 5h0m-6 22h0m45 7h0m32-5h0m17 2h0m18 13h0m16-7h0m1 9h0m29-3h0m20-10h0m3 11h0m30-10h0m5 9h0m3 1h0m0-19h0m11 15h0m6-8h0m2 3h0m4 9h0m0-16h0m9 13h0m8-14h0m1 7h0m3 5h0m0-7h0m4 5h0m6-11h0m3 10h0m2-6h0m6-7h0m6 20h0m4-1h0m4-4h0m7 0h0m1-8h0m4-4h0m13 15h0m1-16h0m2 15h0m1-14h0m1 20h0m3-20h0m0-1h0m4 14h0m1-11h0m3 7h0m5 2h0m0-10h0m2 7h0m3 5h0m1-11h0m2 13h0m1-4h0m8-7h0m5 14h0m8-18h0m0-2h0m0 22h0m2-12h0m2 9h0m0-16h0m8 12h0m1-13h0m0 14h0m3-1h0m309 6h0m5-4h0m108 5h0m3 0h0m6 0h0m8-5h0m0 3h0m1-2h0m4 2h0m7 1h0m4 1h0m8-11h0m8 0h0m3 6h0m65 3h0m1-1h0m1-3h0m2-2h0m0 7h0m3-5h0m5 3h0m3 2h0m1-2h0m7 2h0m1-6h0m12 7h0m2-1h0m2-4h0m1-4h0m1-3h0m1 2h0m1-3h0m2-4h0m2 3h0m1 11h0m0-18h0m1 1h0m0 6h0m1 11h0m1-20h0m0 9h0m2 9h0m1-10h0m5-5h0m4 17h0m3 1h0m0-19h0m1 0h0m2 2h0m2 19h0m3-12h0m1-1h0m0 4h0m0 0h0m1-13h0m3 14h0m0-7h0m2 10h0m1-4h0m0-9h0m2-5h0m3 23h0m3 0h0m0-1h0m2-3h0m1-5h0m1 3h0m0 6h0m1-1h0m2-9h0m1 9h0m8-11h0m6 11h0m1-5h0m14-2h0m2 4h0m6-4h0m0 0h0m4-5h0m8 10h0m2-2h0m2-7h0m2-3h0m5-4h0m1 3h0m1 14h0m1-17h0m6 5h0m2-5h0m3 5h0m0-7h0m2 8h0m3-4h0m0 3h0m1-2h0m0-2h0m0 12h0m0 6h0m4-15h0m0 10h0m5 1h0m1-4h0m1-11h0m5 13h0m2-6h0m3 2h0m0-5h0m1 8h0m2 2h0m2-6h0m2 2h0m0 7h0m1-10h0m0-4h0m2 0h0m1 7h0m3-3h0m0-6h0m5-3h0m11 3h0m3-2h0m2 8h0m11-10h0m3-1h0m1 1h0m4 3h0m1 7h0m1 2h0m1 1h0m1 2h0m0 25h0m-5-2h0m-1-8h0m-12-6h0m-2 2h0m-1 3h0m0 5h0m-6-10h0m0 13h0m-1-9h0m-7 12h0m-3-17h0m-2 0h0m-2 18h0m-7-8h0m-3 10h0m-1 1h0m-1-4h0m-1-17h0m-2 14h0m-4 4h0m-6-11h0m-10 6h0m-3 6h0m0-16h0m-1 20h0m-3-9h0m-3 7h0m-3-10h0m-1 3h0m-4-9h0m-1 8h0m-1 1h0m0 6h0m-1-8h0m-6-7h0m0 7h0m0-7h0m-2 3h0m-3 8h0m-1-1h0m-6 0h0m-3 2h0m-2-6h0m-1-9h0m-4-2h0m-6 0h0m-2 8h0m-1-6h0m-4-2h0m-4 22h0m0-6h0m-4 1h0m-3-11h0m-1 8h0m-3 6h0m0-8h0m-2-3h0m-2 4h0m0-6h0m-5 16h0m0-6h0m-4 5h0m-6-17h0m-2 8h0m-2-9h0m-1 12h0m0 7h0m-2-13h0m-5-9h0m-2 0h0m0 9h0m-1 4h0m0 1h0m-9-1h0m-2-11h0m-2 7h0m-1 12h0m-6-3h0m0-12h0m-3-3h0m-5 7h0m-1 2h0m-1-11h0m0 18h0m-1-12h0m-1 9h0m-1-7h0m-6 12h0m-1-9h0m0-4h0m-5-4h0m-1 17h0m-1-20h0m-1 11h0m0 4h0m-6 6h0m-7-19h0m-2 7h0m-1 6h0m-5-12h0m-1 15h0m0-1h0m-2-18h0m-1 18h0m0-6h0m-1 8h0m-6-14h0m-3 14h0m-1-6h0m0-6h0m-5 5h0m0-2h0m-1 7h0m0-7h0m-2 1h0m-1 0h0m-1 9h0m-11-11h0m-5 8h0m-2 4h0m-1-21h0m-2 14h0m-4-13h0m-1 2h0m-2-1h0m-3 1h0m-2 7h0m-4-6h0m-8-4h0m-4 9h0m-3-8h0m-4 14h0m-1-1h0m0 6h0m0-5h0m0-2h0m-1-14h0m-1 2h0m-1 15h0m-10-10h0m-2-1h0m-2-3h0m-8 16h0m-1-2h0m-1 1h0m0-10h0m-3 11h0m-2-5h0m-6 6h0m-1-6h0m0 6h0m-1-14h0m-1 1h0m-3 8h0m-3 0h0m-3-6h0m-3 10h0m-1-2h0m-1 0h0m-1 3h0m0-13h0m-1 1h0m-1 1h0m-1 6h0m-1 2h0m0-4h0m-8 2h0m-5 4h0m-3-2h0m-3 0h0m0-4h0m0 3h0m-2-2h0m0 1h0m-4 7h0m0-1h0m0 1h0m-1-10h0m-6 6h0m-2-3h0m-1-3h0m-1 4h0m-1 4h0m0-13h0m-3 14h0m-6-15h0m0 7h0m-4-6h0m-3 1h0m-1-2h0m-2-1h0m-1 10h0m-1-15h0m-1 2h0m-1 4h0m-1 1h0m-1 11h0m-2-16h0m-4-2h0m-4-1h0m0 1h0m-1 11h0m-1-6h0m-1 0h0m-10 4h0m-1 2h0m0-4h0m-1 9h0m-1-4h0m-2-5h0m-1 4h0m-1-8h0m0 18h0m0-15h0m0-6h0m0 18h0m-1-16h0m-1 7h0m-1-5h0m0 2h0m-294 14h0m-2 2h0m-1-1h0m-2-20h0m-2 18h0m0 2h0m-3-14h0m-1 2h0m-3 3h0m-2 6h0m-4 2h0m-1-3h0m-1-15h0m-1-2h0m-1 19h0m-1-9h0m0 6h0m-2 6h0m-4-20h0m-4 6h0m-2 6h0m0-15h0m-5 6h0m-4 14h0m-2-6h0m-3-5h0m-14 9h0m-1 2h0m-7-4h0m-5-7h0m-2-9h0m0 14h0m-11-8h0m-2 3h0m-4 12h0m-2-13h0m-1 2h0m-5-8h0m-6 11h0m-5-5h0m-4 12h0m-4-14h0m-6 17h0m-1-6h0m-3 6h0m-1-5h0m-2-15h0m-1 11h0m-7 9h0m-13-20h0m-23 10h0m-6-6h0m-2 10h0m-7 5h0m-7-14h0m-5 9h0m-4-5h0m-8-11h0m-4 9h0m-8 3h0m-7-5h0m-33-4h0m-39 0h0m-7 18h0m-5-2h0m-8-14h0m-11 14h0m-22-1h0m-33-7h0m-2-10h0m67 40h0m10 1h0m1-3h0m8-2h0m4 1h0m73-1h0m0 0h0m2-5h0m5 9h0m1-3h0m11-10h0m6 12h0m0-15h0m9 11h0m7-1h0m8 1h0m4-10h0m12 3h0m27-6h0m11 8h0m18 2h0m2 0h0m3-1h0m0-2h0m3 12h0m4-6h0m0-1h0m1 4h0m2-15h0m7 21h0m1-9h0m7-5h0m10 5h0m1-6h0m1 0h0m1 0h0m3-5h0m2 6h0m2 11h0m1-16h0m7 14h0m9-10h0m1-1h0m7 9h0m0-8h0m1 14h0m3-20h0m3 21h0m4-5h0m8-14h0m2 8h0m6-8h0m2 0h0m5 20h0m3-11h0m2-10h0m6 17h0m0-2h0m2-17h0m0 14h0m1-6h0m14 15h0m6 0h0m2-11h0m1-2h0m13 5h0m5-3h0m4 1h0m1 1h0m141 9h0m6-4h0m11 3h0m2 1h0m0 0h0m15-1h0m3-3h0m4 2h0m1-2h0m9-4h0m8 3h0m22 5h0m3-6h0m4-11h0m2 16h0m2-16h0m2-1h0m4 4h0m2 5h0m5-1h0m3-9h0m1-3h0m2 19h0m1-4h0m0-1h0m1-14h0m0 18h0m0-7h0m5-6h0m1 4h0m3 11h0m7-6h0m1-6h0m6 3h0m1 5h0m5-15h0m2 12h0m2 4h0m5-15h0m0 19h0m3-5h0m3-7h0m1 4h0m1-1h0m5-10h0m1 20h0m6-18h0m5-5h0m4 15h0m4 0h0m0 1h0m2-15h0m0 20h0m2-21h0m7 7h0m2 0h0m6 7h0m10-3h0m0 11h0m1-15h0m7-3h0m4-3h0m5 8h0m0 9h0m2-8h0m8 1h0m0 1h0m2-4h0m4 5h0m3 1h0m4-13h0m8 9h0m0 11h0m4-7h0m8 6h0m2-17h0m2 14h0m4-7h0m2-9h0m5 5h0m1 10h0m12-16h0m6 5h0m2 16h0m0-19h0m7 5h0m7-3h0m1 9h0m3 0h0m2 1h0m15-14h0m3 3h0m0 2h0m1 4h0m2 7h0m2-11h0m1 14h0m9-5h0m1-2h0m3 7h0m1-7h0m2 3h0m7-12h0m5 14h0m5-16h0m5 14h0m2-3h0m1 11h0m0-9h0m2-9h0m1 4h0m2 6h0m2-15h0m3 15h0m2-4h0m3-10h0m6 14h0m3-5h0m2 9h0m14-4h0m12-15h0m4 5h0m1-1h0m4 9h0m4-4h0m2-5h0m0 17h0m1-11h0m1 12h0m1-22h0m13 6h0m8 6h0m3-2h0m2 8h0m17-10h0m1 12h0m0-8h0m6-1h0m11 2h0m12 8h0m1-8h0m11 2h0m2-4h0m6 11h0m3-7h0m13 2h0m0-7h0m7-6h0m10 34h0m-4-10h0m-2 4h0m-13 10h0m-13-13h0m-16 12h0m-5-3h0m-11 6h0m-7-3h0m-17 5h0m-15-13h0m-12-2h0m-33-5h0m-6-1h0m0 2h0m-12 20h0m-6-5h0m-7 4h0m-5-20h0m-4 1h0m-5 8h0m-9-11h0m-23 14h0m-3-2h0m0-3h0m0-7h0m-7 20h0m-2-4h0m-1-16h0m-1 2h0m-2 7h0m-3 6h0m-14-13h0m-1 4h0m-7-4h0m-6 10h0m-2 0h0m-1 5h0m-4-14h0m-2 13h0m-1-10h0m0 12h0m-3-12h0m-3 5h0m-2-4h0m-2-4h0m0-2h0m-3 1h0m-15 10h0m-4 3h0m-12-9h0m-3 14h0m-6 0h0m-2-13h0m-2-8h0m0 4h0m-9 11h0m0 4h0m-2-7h0m-3-4h0m-12 13h0m-2-18h0m-18 16h0m0-11h0m-5-9h0m-4 8h0m-6 4h0m-18-11h0m-14 16h0m-2 5h0m-5-9h0m-3-1h0m-5 6h0m-7 0h0m-4-17h0m-2 0h0m-3 12h0m-4 0h0m-3-5h0m-3 5h0m-11 10h0m-2-19h0m-8 8h0m-3 6h0m0-13h0m0 16h0m0-15h0m-12 3h0m-4 0h0m-6-6h0m-1 6h0m-1 9h0m-4-16h0m-2 11h0m-1-8h0m-4 18h0m-1-11h0m0 11h0m0-17h0m-11 0h0m-6-5h0m-1 14h0m-1-12h0m-7 14h0m0-3h0m-5-6h0m-9-4h0m0 8h0m-7 11h0m-2-1h0m-1 1h0m-1-7h0m0-7h0m-4 5h0m-3-4h0m-2 5h0m-24 7h0m-3-13h0m-1 10h0m0-8h0m-3-5h0m-1 6h0m-2-8h0m-2 13h0m-2-11h0m-1 5h0m-1 0h0m-4-8h0m-1 12h0m-1-4h0m-4 0h0m0-9h0m-2 1h0m-1 12h0m-1-7h0m-1 6h0m0-2h0m-3-1h0m-1 12h0m-1-3h0m-1-11h0m-4 1h0m-2 3h0m0-9h0m-1 14h0m-1-4h0m0 4h0m-1-17h0m-5 17h0m-2 0h0m0-3h0m-1-13h0m0 12h0m0 3h0m-1-2h0m-2-3h0m-1-2h0m-3 3h0m0-6h0m-2 1h0m-4 12h0m-1-13h0m-2-2h0m-1 7h0m-1 4h0m-2-7h0m-1-2h0m-1 2h0m0 10h0m-3-2h0m0-1h0m-1-8h0m-1 5h0m-8 6h0m-1-5h0m-18-1h0m-3-12h0m-2 8h0m-4 7h0m-2-7h0m0 8h0m-1-13h0m-1 11h0m-1 8h0m-3-17h0m-2 2h0m-2-8h0m-6 1h0m-1 0h0m0 12h0m-4 2h0m-4-2h0m-1 0h0m0-12h0m0 19h0m-3-7h0m-3 9h0m0-7h0m0-8h0m-1 14h0m-2-10h0m-1-11h0m-4 14h0m0-3h0m-1 12h0m-4-16h0m-2 5h0m-1-6h0m-2 6h0m-1-7h0m-2 17h0m-13-21h0m-1 9h0m-1-10h0m0 2h0m-4 15h0m-1-16h0m-2 16h0m-4-13h0m-3 14h0m0-16h0m0 20h0m-9-20h0m-5 15h0m-1 2h0m-6-13h0m-1-1h0m-3 13h0m0-8h0m-2-1h0m-3 10h0m-15-2h0m-1-8h0m-1-5h0m-1 12h0m-4-10h0m-3 13h0m-2-8h0m-1 10h0m-2-6h0m-6-12h0m-9 15h0m-3-11h0m-3-3h0m-9 12h0m-8-13h0m-10 4h0m-6-6h0m-4 19h0m-2-9h0m-1-11h0m-7 12h0m-2 0h0m-13 3h0m-5-12h0m-14 19h0m-6-18h0m-2-3h0m-15 1h0m-5 1h0m-3-3h0m-1 8h0m-16 2h0m-4-1h0m-24-7h0m-24 9h0m-17-7h0m-14 12h0m-26 5h0m-2-2h0m-10 3h0m-14-21h0m-6-1h0m-15 6h0m2 32h0m43 1h0m8-7h0m1 7h0m12 1h0m5-8h0m10 2h0m7-8h0m2 21h0m6-16h0m8 1h0m13-5h0m5 4h0m1 15h0m15-17h0m10 8h0m5-2h0m0 3h0m7-10h0m8 4h0m3 14h0m12-8h0m9 9h0m7-16h0m4 14h0m3-3h0m22-17h0m0 10h0m1-8h0m4 15h0m2-11h0m2 7h0m1-3h0m3 8h0m2-16h0m15 11h0m1 4h0m1-1h0m10-4h0m10 7h0m3-7h0m2 8h0m3-21h0m4 23h0m5-12h0m2-3h0m3 9h0m4-12h0m4-1h0m2 8h0m8 8h0m5-8h0m4 1h0m2 3h0m2 4h0m2-19h0m1 18h0m3-5h0m4 9h0m0-11h0m1-2h0m6-4h0m4 8h0m3-10h0m6 6h0m4 0h0m6 0h0m1 10h0m0-12h0m0-4h0m2-3h0m1 4h0m0-1h0m0 15h0m1 3h0m2-19h0m0 13h0m11-4h0m0-1h0m2-10h0m6 4h0m0 9h0m2-13h0m0 0h0m1 15h0m2-6h0m0 2h0m3-6h0m2 4h0m0-4h0m5 7h0m2 9h0m1-14h0m0-6h0m0 12h0m3-14h0m3 18h0m5-8h0m1 3h0m0-12h0m2 2h0m2 6h0m4 1h0m1-1h0m2 2h0m1 0h0m2-6h0m2-2h0m2 1h0m1-1h0m4 20h0m0-7h0m4 7h0m0-17h0m2 0h0m1 16h0m0-15h0m0 2h0m1 14h0m3-1h0m11-19h0m1 6h0m1 1h0m1 6h0m0 1h0m3 2h0m0 3h0m5-22h0m0 8h0m2-6h0m1 21h0m1-23h0m1 21h0m25-16h0m0 11h0m1-5h0m1-10h0m4 13h0m0-4h0m2 12h0m3-18h0m1 10h0m2 8h0m1-10h0m3-3h0m0 5h0m1-7h0m4-3h0m8 6h0m0 11h0m2 1h0m1-5h0m2-6h0m2 0h0m2-7h0m1-1h0m1 17h0m2 3h0m1-2h0m1-16h0m5 0h0m4 9h0m1 3h0m4-11h0m2 6h0m0-1h0m2 7h0m0 1h0m4-5h0m5 6h0m1 2h0m2-10h0m1-3h0m2 5h0m0-5h0m2-2h0m4-5h0m3 12h0m1 3h0m2 3h0m1-17h0m1 16h0m1-6h0m5-8h0m3-2h0m3 12h0m0-12h0m7 1h0m7 17h0m4-21h0m4 2h0m2 10h0m1-10h0m7 14h0m7-13h0m24 8h0m2-10h0m3 10h0m3-4h0m13 10h0m7-10h0m0 14h0m1-11h0m5-10h0m4 5h0m2 15h0m6 0h0m9-6h0m3 2h0m4-2h0m14-6h0m8-2h0m9 10h0m2-5h0m13 9h0m2-18h0m0 7h0m8 1h0m7-3h0m4 9h0m4 0h0m5-16h0m11 7h0m6-3h0m4-2h0m17 21h0m19-6h0m3-5h0m5-3h0m6-1h0m6 10h0m7 0h0m26-4h0m19-8h0m14-3h0m4 0h0m16 12h0m28-4h0m10-5h0m12 11h0m14-16h0m5 11h0m9-8h0m10-3h0m3 9h0m6-4h0m10-6h0m14 17h0m9 5h0m18-21h0m16 0h0m0 12h0m3-3h0m7 2h0m1 3h0m3 1h0m9-2h0m0-6h0m6-1h0m8 15h0m3 7h0m-1 9h0m0-6h0m-6 11h0m-19 3h0m-17-9h0m-18-2h0m-13-8h0m0-3h0m-7 11h0m-15-9h0m-39 20h0m0 0h0m-13-15h0m-3 11h0m-15-17h0m-6 4h0m-78 14h0m-4-8h0m0 5h0m-20-8h0m-3 10h0m-20-6h0m-8-3h0m-3 11h0m-55-5h0m-19 6h0m-9 2h0m-16-21h0m-19 3h0m-6-1h0m-12-3h0m-13 1h0m-14-2h0m-3 20h0m-5-11h0m-14-9h0m-9 1h0m-9 19h0m-10-1h0m-17-7h0m-10-10h0m-4 14h0m-11-15h0m-6 6h0m-3-7h0m-1 9h0m-10 1h0m-9-8h0m-1 21h0m-2-3h0m-3-3h0m-7-10h0m-8 4h0m-1 6h0m-8-13h0m0 14h0m-1 3h0m-1-16h0m-3 4h0m-3-2h0m0 8h0m-2-4h0m0-5h0m-4 14h0m-7 1h0m-2-15h0m0-5h0m-1 3h0m-4 16h0m-1-5h0m0 5h0m-1-20h0m-6 4h0m-2 3h0m0 16h0m-1-21h0m-10 7h0m-5 3h0m-1-11h0m-1 2h0m-6 3h0m-1-4h0m0 18h0m-4-18h0m-1 3h0m-5 5h0m-1-4h0m-1 8h0m-2 0h0m0 6h0m-1-6h0m-1-14h0m-2 15h0m-2-14h0m-6 19h0m-1-13h0m-2-5h0m-1 3h0m-2 18h0m-3-7h0m-2-14h0m-4 5h0m-1 7h0m-3-14h0m-6 1h0m-4 9h0m-1-7h0m-1 0h0m0 18h0m-1-19h0m-1 18h0m-3-18h0m-1 3h0m0 2h0m-6 4h0m-2-4h0m0 6h0m-2-5h0m-3-7h0m-3 9h0m0-6h0m0 6h0m-1 3h0m-1 9h0m-4-11h0m-3 8h0m0-14h0m0 13h0m-1-2h0m-1-10h0m-2 1h0m-2-6h0m-1 16h0m-2-12h0m-1 8h0m-2 5h0m-2-17h0m-1 0h0m-2 7h0m-1-2h0m0 0h0m-3 17h0m0-5h0m-3-2h0m-1 6h0m-5-19h0m-1 19h0m-3-2h0m-1-2h0m-2-18h0m-2 22h0m-8-4h0m-2-11h0m0-2h0m-3 18h0m-2-15h0m-1 4h0m-4-3h0m-2-7h0m-3 12h0m0-4h0m-3-9h0m-3 22h0m-4-2h0m0-9h0m-3 3h0m-2-14h0m-2 5h0m-2 15h0m-1-15h0m0 7h0m0-3h0m0 5h0m-1 4h0m-1-6h0m-2-6h0m-3 6h0m-2 4h0m0-15h0m-1 15h0m-2-14h0m-2 6h0m0-5h0m-4 1h0m-7 9h0m-8 9h0m-6 0h0m-4-2h0m-7-9h0m-3 0h0m-5-8h0m-2-4h0m-1 17h0m-8-17h0m-6 6h0m-1 3h0m-8 5h0m0-5h0m-1-3h0m-4 8h0m-5-6h0m-3-1h0m-2 0h0m-1 13h0m-15-8h0m-14 8h0m-4-1h0m-3-10h0m-12 14h0m-15-8h0m-4 8h0m-23-22h0m-1 22h0m-2-13h0m0 5h0m-1-9h0m-5-2h0m-1 16h0m-12-12h0m-2-7h0m-5 15h0m-2 4h0m0-8h0m-2 0h0m-8-7h0m0 4h0m-7 1h0m-3-10h0m-5 3h0m-14 3h0m-1 17h0m-17-18h0m-19-5h0m-35 38h0m3-12h0m15 6h0m1 7h0m1 8h0m39-22h0m9 1h0m2 7h0m19 9h0m5 4h0m6-9h0m5 5h0m39-16h0m2 5h0m7-6h0m5 21h0m3-7h0m6-1h0m2-14h0m4 21h0m5 1h0m3-10h0m5 7h0m1 1h0m6-3h0m2-11h0m5-3h0m2 13h0m3-16h0m0 19h0m19-3h0m14 6h0m5-11h0m2-9h0m1 1h0m1 3h0m2 5h0m0-10h0m1 10h0m1 1h0m0-12h0m3 21h0m6-9h0m2-1h0m8-2h0m11 13h0m4-3h0m0-12h0m2-4h0m1 17h0m2 0h0m3-3h0m1 3h0m1-14h0m9 3h0m7-9h0m3 16h0m6 7h0m2-19h0m2 7h0m0-11h0m10 11h0m2 8h0m8-14h0m12-3h0m3 5h0m3-5h0m5 5h0m5 4h0m1-8h0m0 18h0m3-8h0m2-13h0m0 5h0m0 1h0m1 6h0m2-1h0m4 6h0m8-15h0m1 15h0m4-15h0m0 21h0m1-13h0m2 6h0m6-14h0m4 7h0m1 13h0m1-2h0m1-19h0m1 8h0m4-4h0m1 5h0m3-7h0m2 20h0m8-17h0m6 1h0m3-2h0m10 12h0m7 4h0m0-15h0m15-5h0m6 13h0m4-5h0m2-2h0m0 1h0m3-3h0m2-1h0m8 19h0m7-8h0m3-12h0m3 7h0m14 0h0m3-6h0m1-4h0m3 14h0m15-8h0m1 2h0m0 6h0m2-3h0m6 5h0m3-6h0m5-2h0m6 10h0m19 1h0m2 3h0m7-7h0m1 7h0m5-17h0m6-4h0m12 15h0m0-14h0m0 5h0m8 13h0m13-16h0m1 13h0m30-10h0m25-7h0m11 6h0m1 9h0m4 4h0m6-11h0m4-3h0m7 13h0m11-2h0m9 0h0m3-7h0m1 1h0m7 7h0m6-17h0m22 8h0m36 13h0m13-17h0m26 1h0m15 13h0m2-4h0m1-6h0m9 11h0m30-5h0m7 9h0m7-20h0m3 2h0m44 16h0m24-11h0m3-8h0m0 10h0m12-9h0m6 3h0m10 2h0m3 2h0m7 9h0m17-13h0m6-3h0m3 9h0m1 4h0m14-7h0m39 7h0m54 6h0m-1 4h0m-2 15h0m-59-15h0m0 6h0m-30-8h0m-4 21h0m0-5h0m-43-12h0m0-1h0m-20 16h0m-1-14h0m-31 16h0m-1-8h0m-19 6h0m-7-19h0m-4 23h0m-7-15h0m-2-4h0m-15 12h0m-5-9h0m-17 3h0m-60-1h0m-35-2h0m-43-5h0m-6 16h0m-18-5h0m-6 6h0m-1-12h0m-3 5h0m-27-2h0m-8 13h0m-16-3h0m-61-6h0m-15-7h0m-18-3h0m-1-4h0m-1 12h0m-21-4h0m-31 11h0m-6 1h0m-5-13h0m-1 1h0m-16 15h0m-7-19h0m-7 7h0m-13-6h0m-10-5h0m-9 5h0m-10-1h0m-3-1h0m-4 14h0m0-10h0m-4 14h0m-1-2h0m-2-8h0m-7 11h0m-2-12h0m-1 2h0m-7 2h0m0-14h0m-4 14h0m-3-4h0m-1 7h0m0-7h0m-2-4h0m-3 0h0m0-5h0m-1 8h0m-6-6h0m-2 17h0m-1-4h0m-2-15h0m-2 14h0m-11-12h0m-1-1h0m-5 3h0m-5 10h0m-5-3h0m-2 6h0m-2 4h0m-2-1h0m-5-6h0m-7-2h0m-3 10h0m0-16h0m-6 12h0m-22-8h0m-6 11h0m0-22h0m-2 16h0m-13 2h0m0-2h0m0 6h0m-15-3h0m-4-15h0m-4 14h0m-4-15h0m-4 9h0m-9-2h0m-1 7h0m0 5h0m-2-10h0m-4 11h0m-3-3h0m-1-4h0m-4-3h0m-1-4h0m-6 14h0m-10-7h0m-4-8h0m-1-7h0m0 20h0m-1-14h0m-5 5h0m0 6h0m-1 1h0m-2-8h0m-1 0h0m-4 5h0m-5-11h0m0 4h0m-9-4h0m-9-2h0m0 12h0m-5 1h0m-3 6h0m0-5h0m-6 3h0m-3-15h0m-6 2h0m0-2h0m-3 1h0m-1-6h0m-2 12h0m-2 8h0m-8-18h0m-18 8h0m-5 4h0m-11-7h0m-2 13h0m-6-8h0m-14-5h0m-5 0h0m-5-7h0m-11 11h0m-49 1h0m-13 11h0m-1 22h0m3-10h0m4 2h0m4 2h0m18-12h0m4 11h0m1-9h0m11 2h0m1 10h0m15 5h0m3-1h0m16-5h0m1-11h0m23 0h0m12 3h0m9-5h0m0 9h0m6 2h0m1 8h0m6-7h0m1-11h0m12-4h0m1 10h0m1 5h0m3-2h0m7-6h0m1 1h0m2-5h0m4 9h0m6-3h0m11 9h0m6-5h0m3-3h0m2 8h0m4-9h0m1 14h0m3-2h0m0-9h0m12-10h0m3 19h0m11-4h0m7 0h0m3 1h0m7 4h0m5-7h0m10-15h0m0 0h0m1 2h0m0 7h0m1-3h0m7 0h0m7 12h0m6-4h0m0 5h0m6-18h0m2 2h0m0 0h0m6 5h0m3 13h0m0-16h0m1 16h0m0-3h0m3 4h0m4-22h0m0 15h0m2 1h0m1-3h0m2 4h0m4-16h0m1 19h0m5-20h0m1 14h0m2-14h0m10 15h0m9-13h0m2 19h0m3-2h0m0-3h0m13-9h0m3 16h0m0-13h0m9 5h0m0 0h0m3 5h0m5-17h0m3 1h0m12 2h0m6 5h0m2-4h0m3-7h0m2 1h0m1 10h0m2-10h0m2 2h0m0 5h0m0 9h0m19-15h0m6 5h0m1-2h0m1 10h0m3-7h0m16 14h0m4-17h0m31 13h0m3-7h0m2 10h0m1-11h0m1 0h0m9 1h0m30 7h0m21-1h0m7-4h0m11-4h0m14-6h0m4 9h0m14 7h0m14-7h0m38-3h0m28-7h0m29 1h0m0 0h0m16 5h0m13 0h0m3 4h0m16 5h0m4-7h0m7-3h0m31 9h0m12-1h0m37-4h0m13-10h0m23 12h0m11 6h0m4-2h0m21-12h0m2 13h0m6 4h0m9-6h0m1-1h0m10-4h0m0 1h0m0 8h0m8-17h0m29 1h0m0 17h0m40-20h0m23 3h0m27 6h0m10 3h0m21-8h0m5 13h0m39-7h0m-6 24h0m-3 2h0m-7-3h0m-11 6h0m-64-2h0m0-11h0m-8 9h0m-37 3h0m-3-1h0m-5-4h0m-15-3h0m-5-7h0m-73 1h0m-15 3h0m-2 9h0m-2-7h0m-3 6h0m-25 2h0m-3 0h0m-20-12h0m-93 2h0m-6 3h0m-15 0h0m-9 4h0m-3-11h0m0 5h0m-16 10h0m-46-15h0m-28 7h0m-5 7h0m-3-9h0m-14-5h0m-21 11h0m-16-5h0m-17 7h0m-9 1h0m-4-2h0m-5 3h0m-4-12h0m-2 8h0m-22-7h0m-10 8h0m-17 11h0m-11-19h0m-1-4h0m-16 15h0m-6-9h0m-5-2h0m-17 1h0m-10 15h0m-7-4h0m-7-9h0m-12-5h0m-32 20h0m-3-2h0m0-14h0m-10 14h0m-1-13h0m-19 14h0m-1-6h0m-13-3h0m-3-9h0m-8 16h0m-2-16h0m-12 8h0m-10-4h0m-2-2h0m-4 13h0m0 1h0m-2-19h0m-5 10h0m-4 4h0m-1-9h0m-1 10h0m-3-5h0m-1-10h0m-3 9h0m-8 4h0m-8 0h0m-3 5h0m-2-6h0m-2 0h0m-1 8h0m-4-6h0m-14-4h0m-5 12h0m-1-21h0m-7 22h0m-2-16h0m-2 12h0m-18 2h0m-2-16h0m0 0h0m-6 0h0m-3 3h0m-3-7h0m0 19h0m-3-19h0m0 5h0m-1 4h0m-2-4h0m-11 1h0m-2-2h0m-1 14h0m-1-19h0m-10 21h0m-7-12h0m-8-2h0m-1 13h0m-1-3h0m-7 3h0m-9-7h0m0 2h0m-5-15h0m-8 5h0m-5-1h0m-4 5h0m-7 13h0m-9-18h0m-5 16h0m-1-1h0m-11-10h0m-7 5h0m-5-1h0m-27 8h0m-2-4h0m-22-2h0m10 15h0m5 5h0m16 7h0m1-3h0m6-13h0m42 8h0m29 0h0m13-4h0m0 14h0m13-10h0m17 9h0m6 0h0m7 1h0m6-12h0m5 14h0m3-2h0m3-10h0m7-5h0m7-5h0m0 19h0m3-6h0m1-13h0m2 13h0m4-13h0m2 7h0m1 11h0m3-5h0m4-10h0m3 8h0m0-6h0m1-2h0m1 4h0m1-4h0m2 12h0m6-1h0m2 0h0m1-2h0m1 1h0m3 7h0m3-1h0m10-4h0m8 0h0m1-7h0m5 5h0m1-6h0m2 16h0m1-15h0m4-4h0m11 9h0m4-8h0m15-3h0m3 4h0m3 7h0m10-1h0m4-6h0m9 8h0m5-3h0m2-7h0m6 6h0m6-9h0m31 13h0m11 5h0m8-12h0m8 11h0m31-15h0m2 14h0m17-6h0m5-5h0m15-3h0m1 6h0m4-5h0m15-3h0m15 2h0m55-2h0m152 4h0m53-4h0m30 17h0m4-17h0m128 4h0m86 10h0m135 18h0m-9 6h0m-104 1h0m-110-7h0m-212 7h0m-66-15h0m-25 9h0m-16 7h0m-39-15h0m-13 15h0m-7-2h0m-3 6h0m-59-14h0m-46 3h0m-14 3h0m-41 4h0m-4-16h0m-8 17h0m-16-11h0m-9 9h0m-22-9h0m-4 4h0m-3-11h0m-10 11h0m-1-3h0m-9-4h0m-9 2h0m-14 0h0m-11-3h0m-15 18h0m-12-1h0m-2-5h0m-6-15h0m-2 8h0m-6 5h0m-2-10h0m-8 13h0m-6-2h0m-1 3h0m-8 0h0m-10 4h0m-5-18h0m-5 13h0m-2 4h0m0-14h0m-2 4h0m-1 2h0m-7-11h0m-14 16h0m-3-7h0m-2-8h0m-3 9h0m-4 5h0m-7-12h0m-9 12h0m-10-6h0m-8-7h0m-4 2h0m-1 11h0m-1-14h0m-3 17h0m-1-19h0m-7 5h0m0-2h0m-1 12h0m-1-5h0m-1-6h0m0 3h0m-3 1h0m-7-7h0m-19 17h0m-12-8h0m-7 0h0m-33 6h0m-14-15h0m5 38h0m3 7h0m17-16h0m6 11h0m3 6h0m9-8h0m3 3h0m3-12h0m7 3h0m2-9h0m4 2h0m14 4h0m2 6h0m3 1h0m6-13h0m1 17h0m7-13h0m13 13h0m3-9h0m1-4h0m5 16h0m11-14h0m9-5h0m2 17h0m11-6h0m5-5h0m0 6h0m6 8h0m12-19h0m8 19h0m15-15h0m8 2h0m1 8h0m1-13h0m1-2h0m3 6h0m2 1h0m17 8h0m11-5h0m24 4h0m0-13h0m5 8h0m6 1h0m3-11h0m7 14h0m10-3h0m13 5h0m7-12h0m42-3h0m1 15h0m25 7h0m21-7h0m11-16h0m32 16h0m7-5h0m21 1h0m47 9h0m19 2h0m56-7h0m64-5h0m85 5h0m88-16h0m42 4h0m41 3h0m84-3h0m34 10h0m6 3h0m23 2h0m65-14h0m-45 21h0m-157 9h0m-55 4h0m-33-12h0m-11 4h0m-87-5h0m-31 2h0m-229 4h0m-13 7h0m-22-5h0m-5 3h0m-1-6h0m-21 9h0m-37-11h0m0 0h0m-20-2h0m-29 17h0m-6-12h0m-32 5h0m-4-1h0m-10-5h0m-5-3h0m-4 9h0m-15 1h0m-30 4h0m0 4h0m-10-17h0m-1 4h0m-8 9h0m-2-6h0m-5-1h0m-13 1h0m-4-11h0m-11 8h0m-4 10h0m-2-5h0m-15 6h0m-3-6h0m-3 7h0m-19-20h0m-11-1h0m0 0h0m-16 15h0m-3-10h0m-3-5h0m-1 18h0m-5-11h0m-10 0h0m-19 11h0m-17-17h0m-6 19h0m-7-5h0m-5-2h0m-4 9h0m-14-12h0m-2 13h0m-6-16h0m0 40h0m16-7h0m4-11h0m23 10h0m5-14h0m9-1h0m0 18h0m11-15h0m3 12h0m3 3h0m5-15h0m8 0h0m4 19h0m0-6h0m3 7h0m46-11h0m29-2h0m10 7h0m3-7h0m13 7h0m3-2h0m13-12h0m1 5h0m4 0h0m5-2h0m8-6h0m1 0h0m0 15h0m7-14h0m24 2h0m5 4h0m2 3h0m17 0h0m19-5h0m5 4h0m3-3h0m21 6h0m16-10h0m2 13h0m18-2h0m16-11h0m6-2h0m33 2h0m4-2h0m0 8h0m13-1h0m3 16h0m2-7h0m18 6h0m19-4h0m11-4h0m2-8h0m3-1h0m114 8h0m12 9h0m1-19h0m168 8h0m105 6h0m292-2h0m-16 11h0m-42-2h0m-33 13h0m-32 10h0m-16-2h0m-16 1h0m-24-10h0m-34 2h0m-377-4h0m-87-7h0m-26-3h0m-25 18h0m-4-14h0m-36 4h0m-15-6h0m0 12h0m-43-3h0m-36-9h0m-51 18h0m-3 0h0m-2-3h0m-16-4h0m-11-8h0m-2 10h0m-19 2h0m-16-8h0m-24 13h0m-2-15h0m-2 13h0m-9 1h0m-6-14h0m-1 13h0m-20-9h0m-2-7h0m-20-4h0m-9 2h0m-20 21h0m-1-17h0m-14 9h0m-17 6h0m-23-15h0m-2 15h0m-8-20h0m-3 5h0m-25-2h0m0 2h0m21 33h0m1-7h0m21-5h0m10 4h0m34-4h0m1 14h0m15-2h0m2-1h0m30-6h0m2 7h0m18-10h0m0-1h0m37 10h0m3 3h0m16-3h0m1-14h0m11 4h0m6-3h0m26 0h0m10 15h0m18-14h0m30 8h0m20 3h0m40-7h0m92-4h0m19 15h0m183 0h0m65-8h0m16 1h0m371-3h0" stroke="#a0a0a4" stroke-width="13.6" stroke-linecap="round" fill="none"/><path transform="scale(.5)" d="M1271 2111l-5-1l-7 2l-7 9l-24 0l-2-12l-5-5l-9-3l-18 1l-16 7l-10 10l-22 1l-16 5l-12 10l-2 5l-7-2l-7 2l-5 7l-10 8l-2 17l-3 6l-17 2l-7 6l-1 21l2 4l-3 5l-15 1l-14 10l-2 33l-9 12l2 35l-11 4l-6 8l2 19l6 6l8 3l0 24l-6 8l1 27l11 8l1 22l9 8l16 1l4 5l2 12l5 5l9 2l8 7l9 1l9 8l26 1l4 5l3 10l7 6l11 0l11-9l2-24l25-1l21 2l7-2l7-8l17-3l4-3l10 5l12-3l6-8l1-36l14-4l8-10l10-2l7-6l0-31l2-4l6-1l5-5l1-27l12-4l6-6l1-14l8-8l2-15l-3-18l3-30l-6-8l-6-2l1-33l-4-13l-7-6l-9-1l-8-7l-10-1l-3-4l-1-23l-5-5l-11-5l-3-6z" fill="#00fb00" fill-rule="evenodd"/><path transform="scale(.5)" d="M1457 1949h0m-115 37h0m-15 27h0m-47-7h0m-1-2h0m-6 4h0m-178 10h0m73 5h0m50-4h0m8-2h0m82 11h0m37 18h0m-5-3h0m-8 8h0m-31 2h0m-1 8h0m-9-9h0m-16-5h0m-9 6h0m-4 0h0m-8-3h0m-8 5h0m0 7h0m-54-14h0m0 12h0m-14-13h0m-10-3h0m-34 14h0m-6-2h0m-2-3h0m-2 28h0m21-14h0m8 19h0m4-21h0m14-1h0m10 23h0m3-22h0m9 15h0m17 1h0m13-16h0m15 7h0m4 15h0m10-14h0m6 6h0m3-10h0m15 7h0m10-5h0m11 4h0m2-10h0m8 5h0m18 8h0m8-14h0m2 3h0m24 19h0m3-3h0m84 17h0m-85 11h0m-18-8h0m-22 3h0m-4-2h0m-1-9h0m-7 15h0m-22-13h0m-3 12h0m-3-10h0m-2 8h0m-4-6h0m-4 6h0m-5-6h0m-2 6h0m-2-1h0m-3-2h0m-3 3h0m0 4h0m-1-5h0m-6-2h0m-1-12h0m0 9h0m-7-2h0m-1-1h0m-1-8h0m-1 1h0m-6 4h0m-2 12h0m-2 1h0m0-2h0m-8 2h0m0-9h0m-1-7h0m0 5h0m-1-1h0m-1 1h0m-1-8h0m0 0h0m-1 18h0m0 1h0m-4-6h0m-2 4h0m-3-10h0m-1 8h0m-4-2h0m-3-9h0m-6 9h0m-1 6h0m-1 0h0m-2-13h0m-6 11h0m-2-4h0m-1-3h0m-2 10h0m-2-5h0m0 5h0m-2-7h0m-1 7h0m-6-3h0m-21 2h0m-3 2h0m-2-6h0m-5-4h0m-1 8h0m-1-18h0m-3 3h0m0-5h0m-6 1h0m-15 18h0m-12 3h0m-16-4h0m-34 5h0m-13-14h0m-19 4h0m-20 14h0m19-2h0m19 18h0m9-14h0m25 18h0m3-7h0m23 1h0m0 5h0m12-1h0m0-21h0m1 18h0m5-5h0m1 7h0m3-2h0m5 2h0m1-14h0m1 14h0m3-1h0m2 4h0m2-7h0m1-3h0m2 0h0m1-5h0m0-4h0m0 16h0m3-1h0m2-7h0m1-10h0m0-2h0m0 5h0m2 5h0m0 6h0m3-8h0m1 7h0m0 1h0m9-14h0m0 12h0m1-11h0m3 12h0m2-10h0m2 3h0m1 7h0m5-2h0m6-12h0m1 3h0m10-4h0m1 0h0m33 0h0m3 7h0m2 7h0m5-5h0m2 7h0m0-12h0m2 11h0m0-14h0m0 15h0m3-11h0m3 5h0m3-5h0m5-2h0m1 10h0m3-6h0m7-6h0m1 9h0m2-3h0m8-6h0m4 6h0m6 11h0m1-6h0m5-8h0m0 4h0m3 13h0m5-14h0m3 11h0m1-5h0m4-1h0m0 9h0m7-12h0m0 14h0m3-19h0m18 10h0m13 1h0m8-1h0m1 5h0m2-11h0m8-5h0m105 29h0m-24-8h0m-39 18h0m-21-1h0m-14 0h0m-7 1h0m-7-7h0m-13 11h0m-15-17h0m0 7h0m-3 3h0m0-6h0m-1 1h0m-2 9h0m0-14h0m-7 18h0m-6-2h0m0-21h0m-2 14h0m0-2h0m-2 0h0m-2 4h0m-4 2h0m-1-13h0m0 7h0m-1 0h0m-1 11h0m0-4h0m-1-7h0m-170-7h0m-2 4h0m-1 0h0m0 0h0m-11 0h0m-1-2h0m-1-7h0m-6 11h0m0 4h0m-3-2h0m-1-3h0m-3 10h0m-4-19h0m-5 19h0m-3-11h0m-2-3h0m0 6h0m-1 1h0m-3-2h0m-1 3h0m-11-13h0m-1 2h0m-5 7h0m0-8h0m-1 9h0m-2 7h0m-21 2h0m-1 1h0m-8-12h0m-1 10h0m-5 2h0m-19-10h0m-37 21h0m86 13h0m2 2h0m1-6h0m0-10h0m10 9h0m1 7h0m0-4h0m2-7h0m6 1h0m1 1h0m5 1h0m2-14h0m1 7h0m1 7h0m3 1h0m0 6h0m1-4h0m0-4h0m5-12h0m1 11h0m1-3h0m0 1h0m201-10h0m8 5h0m1 2h0m6-3h0m0-4h0m5 4h0m4-2h0m0 2h0m3 9h0m1-9h0m0 1h0m2 5h0m2-6h0m3 11h0m2-13h0m2 18h0m1-9h0m4-9h0m2 20h0m0-20h0m3 12h0m1 1h0m0-6h0m4 12h0m1-1h0m1 2h0m7-20h0m9 13h0m7-5h0m13 11h0m7-2h0m2-8h0m19 30h0m-19 4h0m-16-20h0m0 8h0m-4-2h0m-5 3h0m-4 9h0m0-14h0m-1 13h0m-4-13h0m-8 6h0m-3 2h0m0 3h0m-1-8h0m-4 2h0m-2-1h0m-2 4h0m-1 4h0m0 5h0m-1-19h0m-1 4h0m0 9h0m-1 0h0m-1-13h0m0 4h0m-1 7h0m-1 3h0m-1 4h0m-255-22h0m-11 1h0m0 3h0m-2 5h0m-3 10h0m-4-11h0m0 10h0m-1-14h0m-4 14h0m-5-8h0m-8-5h0m-3 17h0m-2-6h0m-8-12h0m0 13h0m-37-14h0m-23 37h0m28 4h0m6-18h0m6 19h0m0-21h0m4 12h0m2 6h0m1-11h0m1 0h0m0 8h0m0-6h0m3-2h0m1 14h0m0-15h0m5 1h0m2 3h0m10 10h0m1-10h0m1-8h0m1 17h0m3-10h0m0 2h0m1 3h0m3 1h0m4-10h0m2-4h0m3 14h0m2-1h0m7-5h0m2-4h0m268 4h0m0-8h0m0 17h0m0 0h0m1-18h0m1 2h0m1 6h0m0 7h0m1-10h0m3-5h0m0 0h0m3 17h0m2-11h0m0 11h0m3-6h0m5 2h0m2 10h0m6-18h0m2 7h0m0-3h0m3-7h0m1 3h0m18 1h0m1-5h0m2 5h0m1 11h0m31 1h0m15-10h0m-40 35h0m-6-11h0m-9 0h0m-4-1h0m-8-2h0m-3 12h0m-4-4h0m-3-10h0m0 8h0m-1-5h0m-2 14h0m0-5h0m-1-5h0m-1-8h0m-1 21h0m0-19h0m-2 10h0m-1-4h0m-1-6h0m-1 3h0m-1 14h0m0-12h0m-1 6h0m-2 4h0m-312-7h0m0 5h0m-1-16h0m-2-1h0m0 9h0m-4 2h0m-8 11h0m-3-14h0m-3-2h0m-7-3h0m-3 13h0m-2-4h0m-11 9h0m0-6h0m-25-1h0m-8 3h0m-11 28h0m33-8h0m6-4h0m4-5h0m3 10h0m2-3h0m2-2h0m1 1h0m1 10h0m2-11h0m2 7h0m0 2h0m6-12h0m3 0h0m4 2h0m1 12h0m0-12h0m1 10h0m1-16h0m1 17h0m2 2h0m0 0h0m1-12h0m0 12h0m1-11h0m1-8h0m0 8h0m2 6h0m1-15h0m3 7h0m0-5h0m1 8h0m0-4h0m315 12h0m1-14h0m2-1h0m6 7h0m1-2h0m2 1h0m2 1h0m1 11h0m0-12h0m3 5h0m0 2h0m3 3h0m8-20h0m4 22h0m1-19h0m10 17h0m1-18h0m2-1h0m4 2h0m135 17h0m166 22h0m-284-14h0m-24 19h0m-1-6h0m-7-3h0m-3-11h0m-9 12h0m-3 5h0m-5-4h0m-2-4h0m-1-5h0m-5-4h0m-2 13h0m-1-10h0m0 7h0m-2 3h0m-3-7h0m-2 9h0m-7 5h0m-309-2h0m-2-13h0m-1 0h0m-2-2h0m0 14h0m0-19h0m-1 10h0m-1-7h0m-1 15h0m-1-11h0m-1 1h0m-3 5h0m-1-6h0m-2 1h0m-3-7h0m-6 1h0m-4 14h0m-1-16h0m-1 20h0m0-20h0m0 22h0m-2-12h0m-4-1h0m0 7h0m-1 2h0m-26-12h0m-50 3h0m10 20h0m17 7h0m27 7h0m1-4h0m4-8h0m3 6h0m6-13h0m0 7h0m4-1h0m5-7h0m2 6h0m2 6h0m3-3h0m2 5h0m2-9h0m2 17h0m1-8h0m1-9h0m0 5h0m1-8h0m0 2h0m2-1h0m1 1h0m4 1h0m1 2h0m1-6h0m0 8h0m1 1h0m2-8h0m0 8h0m1-1h0m0-1h0m2-8h0m0 8h0m1 0h0m1-5h0m2 2h0m0-2h0m296 19h0m4-3h0m2-3h0m1 5h0m2-3h0m6-2h0m1-11h0m1-3h0m0 9h0m1-5h0m2 4h0m0-7h0m1 17h0m0 3h0m1-1h0m0-2h0m3-20h0m0 13h0m5 6h0m1-14h0m12-4h0m1 15h0m3 0h0m0-9h0m3 7h0m3-13h0m1 9h0m7 5h0m30 6h0m13-18h0m-19 28h0m-14 11h0m0 1h0m-49-17h0m-5 20h0m-1-20h0m-1 18h0m-2-1h0m-2-17h0m0 21h0m0-21h0m-3 14h0m-1 2h0m0-10h0m-3-6h0m-1 15h0m-1-14h0m-1 4h0m0 15h0m0-3h0m-1-8h0m0-1h0m0 2h0m0 5h0m-1-11h0m0 13h0m0 3h0m0-11h0m-3-7h0m0-4h0m-291 23h0m-4 0h0m0-11h0m-1 8h0m0 0h0m-1 0h0m0-7h0m-1 4h0m0-5h0m-1 4h0m0 7h0m-6 0h0m-2-13h0m0-6h0m-3-4h0m0 0h0m-4 23h0m-2-3h0m-1-10h0m-1 7h0m0 5h0m-1-3h0m-5-16h0m-1 19h0m-5-6h0m-2-16h0m-4 0h0m-1 2h0m-5 18h0m-4 3h0m-7-11h0m-17 9h0m-21-3h0m-29 7h0m57 4h0m10 1h0m6 4h0m0 7h0m3 0h0m3-15h0m0 10h0m10-7h0m1 2h0m1-7h0m0 8h0m2-2h0m6 12h0m0-14h0m1-2h0m1 14h0m9 3h0m1 3h0m1-3h0m1-5h0m1 5h0m2-5h0m1-13h0m2 9h0m2-3h0m1 11h0m0 2h0m0-2h0m0 4h0m1-21h0m0 11h0m1 9h0m0-14h0m1-5h0m0 2h0m0 10h0m2-13h0m0 0h0m0 18h0m2-12h0m279 13h0m2 3h0m0-12h0m0 4h0m2-8h0m1-4h0m1 8h0m1-3h0m3-1h0m1 15h0m2-15h0m0 1h0m0-1h0m2 5h0m4-11h0m1 2h0m0 5h0m1-4h0m5 2h0m1 11h0m1-1h0m1-13h0m2 11h0m1-9h0m4 8h0m0-1h0m3-9h0m1 0h0m4-1h0m11 20h0m2-21h0m52 36h0m-7-7h0m-30 3h0m-5-2h0m-11 2h0m-4-8h0m0 10h0m-1-1h0m-10-7h0m-1 4h0m0-7h0m-9 7h0m0-6h0m-1-1h0m-5 17h0m-3 4h0m-3-13h0m-4 3h0m0 0h0m-1 3h0m0 7h0m-1-1h0m-1-12h0m-1 5h0m-2 1h0m-2 2h0m-1-14h0m-3-1h0m-3 19h0m0 1h0m-1-14h0m-1-6h0m-5 22h0m-3-1h0m-1 1h0m-4-1h0m-271-21h0m-2 5h0m-1 2h0m0-3h0m-2 6h0m0 5h0m-2 2h0m0-13h0m-3 6h0m-1-7h0m-3 17h0m-3-15h0m-6-6h0m-4 10h0m-8 12h0m-16-12h0m-2-2h0m-37 27h0m1-6h0m36 8h0m9 10h0m7-12h0m10-11h0m0 2h0m1 1h0m6 0h0m4 3h0m3 11h0m1-14h0m0 1h0m2-4h0m5 9h0m3 9h0m1-7h0m3 0h0m0-6h0m0 0h0m1 6h0m1 11h0m1-17h0m0 3h0m1 12h0m0-7h0m1 4h0m0-2h0m0 6h0m2-7h0m1 5h0m1 1h0m235-3h0m0 4h0m3-11h0m2 12h0m0-13h0m6-1h0m3 2h0m0 11h0m1-14h0m0 8h0m6-15h0m0 5h0m1 2h0m1 1h0m1 1h0m1 0h0m2 14h0m3-1h0m1-8h0m2 7h0m7-20h0m2 7h0m8 2h0m0 2h0m6-1h0m9 2h0m4-11h0m2-1h0m2 1h0m0 2h0m3-2h0m43 26h0m-1 18h0m-22-20h0m-5-1h0m-7 8h0m-4 10h0m-24 2h0m-6-12h0m-7 1h0m-7 7h0m-1-11h0m-1-1h0m-22-4h0m-1 9h0m-1 7h0m0-15h0m-3 11h0m-3-4h0m-4 11h0m0-4h0m0 5h0m0-8h0m-1-2h0m0 8h0m-209-2h0m-1 2h0m0-4h0m-3-1h0m-2 1h0m-2 5h0m-1 2h0m-2-2h0m-2-4h0m-2 4h0m-2-3h0m0 6h0m-5-1h0m-1-22h0m-1 15h0m-3 5h0m-1-6h0m-2-3h0m-4-1h0m-3-2h0m-1 13h0m-1-9h0m-2 0h0m-3 3h0m-7-11h0m-1 18h0m-1-9h0m-16-7h0m-2 2h0m-1 14h0m-2-13h0m-2 12h0m-7-21h0m-3 18h0m-41-2h0m-22 26h0m14-10h0m54 14h0m9-13h0m4 9h0m2 4h0m9-14h0m2-7h0m0 0h0m4 19h0m2-15h0m3-2h0m2 5h0m5 10h0m8-4h0m2-2h0m1 3h0m1-14h0m0 7h0m1 0h0m1 8h0m1-12h0m0 2h0m1 14h0m3-19h0m1 0h0m1 1h0m11 5h0m2 8h0m0 3h0m4-6h0m0-3h0m0-5h0m1 2h0m3 2h0m1 5h0m3 10h0m0-4h0m3-6h0m5 2h0m1 0h0m0-1h0m2 4h0m2-2h0m1 1h0m0-1h0m0 2h0m92 4h0m1 1h0m10 0h0m3-1h0m4-3h0m1 3h0m11 1h0m9-2h0m8 2h0m0-2h0m2 2h0m3-7h0m1-6h0m0 5h0m1 8h0m2-10h0m2 6h0m5 2h0m1-13h0m0 4h0m5 6h0m1-12h0m9 0h0m2 15h0m1-7h0m0-3h0m4 8h0m4-11h0m1 2h0m2 11h0m3 2h0m3-4h0m0-3h0m3-11h0m3-1h0m1 7h0m5 6h0m4-17h0m2 3h0m7 11h0m38 3h0m12 3h0m304-17h0m-329 44h0m-36-17h0m-1-6h0m-7 11h0m-5 6h0m-10-8h0m-4-5h0m-2 6h0m-11-2h0m-10 12h0m-5-19h0m-3 6h0m-2-4h0m0 6h0m-1 2h0m-2-11h0m-1 13h0m-4-9h0m0 2h0m-1-6h0m0 1h0m0 22h0m0-8h0m-5 6h0m-1-12h0m-2-4h0m-3 15h0m0-16h0m0 17h0m-5-16h0m-1 4h0m-1-3h0m-4-5h0m-6 3h0m0 3h0m-1-4h0m-2 9h0m0-2h0m0 10h0m-2-17h0m-3 20h0m-2-19h0m-1 0h0m-1 3h0m-1-6h0m0-1h0m-1 3h0m-6 0h0m0 12h0m0-13h0m0 6h0m-1 13h0m-1-9h0m-2-6h0m0-4h0m-1 1h0m-1-2h0m-3 8h0m-24 3h0m-1 8h0m-1-9h0m0 7h0m-3 5h0m-1-6h0m-5-8h0m0-2h0m-2 7h0m-2 3h0m-1 2h0m-1-3h0m-1-5h0m-1-3h0m-1 6h0m0 1h0m-3-7h0m-1 0h0m0 3h0m-1 3h0m-3-4h0m-6 10h0m0 3h0m-2-16h0m-1 2h0m-2-8h0m-2 5h0m-2 6h0m-1-12h0m-1 18h0m0-2h0m-2-6h0m-2-6h0m0 6h0m-5-6h0m-1-3h0m0 2h0m-3-3h0m-3 12h0m-3-5h0m-5 14h0m-3-1h0m-5-19h0m-3 5h0m-1-1h0m-7-2h0m-5 8h0m-1-7h0m-1 1h0m-4-2h0m-1 4h0m0 11h0m-3-8h0m-2-6h0m-2 12h0m-5 4h0m-2-18h0m-1 6h0m-3 11h0m-5-3h0m-7 4h0m-9-12h0m-5-5h0m0 11h0m-67 20h0m10 9h0m49 3h0m11-22h0m18 21h0m3-20h0m12 1h0m8 0h0m2 16h0m4 1h0m6-5h0m14-9h0m4 10h0m1-5h0m1-9h0m2 10h0m5 2h0m3-12h0m0 1h0m5 5h0m10 10h0m3-4h0m1-9h0m4 4h0m5-8h0m1 1h0m2 10h0m3 6h0m0 3h0m14-18h0m0 4h0m3 4h0m0 9h0m2-18h0m1-1h0m2 5h0m1 15h0m2-10h0m1 5h0m3 1h0m6 0h0m4-5h0m0 2h0m2-10h0m0 14h0m0-3h0m0 5h0m1-14h0m2 3h0m1 11h0m4-11h0m0 10h0m2-10h0m3 4h0m0-12h0m3 4h0m1 6h0m2-5h0m3 8h0m0-7h0m1 3h0m2-3h0m3 13h0m3-5h0m2-9h0m5 1h0m0-1h0m3-3h0m3 20h0m4-21h0m2 22h0m1-12h0m1-4h0m7-7h0m6 23h0m12-10h0m3 0h0m1-8h0m8 4h0m18 3h0m6-11h0m9 7h0m-59 29h0m0-1h0m-8 10h0m-3-15h0m-8-6h0m-6 0h0m-2 19h0m-3-3h0m-6 4h0m-3-18h0m-16 19h0m-4-7h0m-8-1h0m-6 5h0m-6-19h0m-11 3h0m-11 4h0m-1-6h0m-12 9h0m-7-6h0m-6 14h0m0-11h0m-78 3h0m-1 6h0m-39-4h0m54 17h0m33 1h0m13-4h0m23 21h0m54-4h0m0-13h0m32-6h0m4 8h0m35-5h0m42 13h0m45 10h0m-123 17h0m-71-17h0m-4 15h0m-4-17h0m-3 13h0m-3-3h0m-24-2h0m-70-1h0m74 22h0m66 29h0m-340 8h0m-59 13h0m395 2h0m-349 36h0m-21-21h0m-38 42h0m13-17h0" stroke="#00fb00" stroke-width="13.6" stroke-linecap="round" fill="none"/><path transform="scale(.5)" d="M1138 1840h0m91 37h0m196 2h0m-73 24h0m-383 33h0m292-9h0m30 0h0m94 4h0m42 5h0m-98 15h0m-21 10h0m-93-15h0m-58 39h0m45 2h0m46-6h0m7-2h0m9-7h0m1-4h0m2 23h0m3-13h0m51-10h0m18 17h0m3-9h0m35 14h0m25-8h0m15-10h0m10 35h0m0-3h0m-19 2h0m-2 4h0m-17-1h0m-4-2h0m-26-3h0m-4-10h0m-21 21h0m0-7h0m-2 7h0m-1-22h0m-10 19h0m0-3h0m-13-11h0m-1 11h0m-12-12h0m-4 13h0m-1 5h0m-2-2h0m-6-13h0m-1 11h0m-12-2h0m-8-14h0m-7 19h0m-15-2h0m-4-19h0m-3 11h0m-14 3h0m-12 2h0m-28 0h0m-21-9h0m-3 12h0m-16-12h0m-15-5h0m-22 5h0m-131 1h0m57 18h0m55 17h0m60-14h0m3 5h0m19 3h0m6-10h0m0 5h0m5 12h0m14-3h0m9-13h0m3 17h0m3-13h0m1 8h0m3-15h0m7 21h0m8-4h0m1-9h0m3-5h0m4 1h0m3 3h0m12 2h0m14 10h0m8 0h0m0 1h0m4-19h0m5 14h0m1 3h0m2-7h0m1 9h0m3 0h0m7-18h0m2 15h0m1-18h0m6 17h0m3-4h0m0 2h0m2-12h0m4 16h0m1-8h0m1-5h0m0 3h0m1 13h0m2-12h0m13-1h0m1 9h0m1-5h0m2 9h0m1-8h0m6 6h0m1-14h0m5 14h0m6-8h0m0-4h0m8-6h0m13 16h0m8-1h0m14 5h0m22-13h0m12 12h0m2-6h0m-32 12h0m-41-4h0m-9 3h0m0 1h0m-26 1h0m-13-1h0m-14 1h0m-2-1h0m-2-3h0m-1 1h0m-9-2h0m-3 0h0m-1 1h0m-2 2h0m-8 1h0m-12 0h0m-7-3h0m-18 2h0m-15-3h0m-29 2h0m-13-2h0m-22 0h0m-40 5h0m-63-2h0" stroke="#0505c0" stroke-width="13.8" stroke-linecap="round" fill="none"/><path transform="scale(.5)" d="M1067 2036h0" stroke="#f84444" stroke-width="26.4" stroke-linecap="round" fill="none"/>
<text x="273.5" y="1460.2" font-size="31.5" text-anchor="end">-7</text>
<text x="273.5" y="1417.6" font-size="31.5" text-anchor="end">-6</text>
<text x="273.5" y="1375" font-size="31.5" text-anchor="end">-5</text>
<text x="273.5" y="1332.5" font-size="31.5" text-anchor="end">-4</text>
<text x="273.5" y="1289.9" font-size="31.5" text-anchor="end">-3</text>
<text x="273.5" y="1247.3" font-size="31.5" text-anchor="end">-2</text>
<text x="273.5" y="1204.8" font-size="31.5" text-anchor="end">-1</text>
<text x="273.5" y="1162.2" font-size="31.5" text-anchor="end">0</text>
<text x="273.5" y="1119.6" font-size="31.5" text-anchor="end">1</text>
<text x="273.5" y="1077" font-size="31.5" text-anchor="end">2</text>
<text x="273.5" y="1034.5" font-size="31.5" text-anchor="end">3</text>
<text x="273.5" y="991.9" font-size="31.5" text-anchor="end">4</text>
<text x="273.5" y="949.3" font-size="31.5" text-anchor="end">5</text>
<text x="273.5" y="906.8" font-size="31.5" text-anchor="end">6</text>
<text x="273.5" y="864.2" font-size="31.5" text-anchor="end">7</text>
<text x="302" y="1493" font-size="31.5" text-anchor="end" transform="rotate(-45 302 1493)">-7</text>
<text x="344.6" y="1493" font-size="31.5" text-anchor="end" transform="rotate(-45 344.6 1493)">-6</text>
<text x="387.1" y="1493" font-size="31.5" text-anchor="end" transform="rotate(-45 387.1 1493)">-5</text>
<text x="429.7" y="1493" font-size="31.5" text-anchor="end" transform="rotate(-45 429.7 1493)">-4</text>
<text x="472.3" y="1493" font-size="31.5" text-anchor="end" transform="rotate(-45 472.3 1493)">-3</text>
<text x="514.9" y="1493" font-size="31.5" text-anchor="end" transform="rotate(-45 514.9 1493)">-2</text>
<text x="557.4" y="1493" font-size="31.5" text-anchor="end" transform="rotate(-45 557.4 1493)">-1</text>
<text x="600" y="1493" font-size="31.5" text-anchor="end" transform="rotate(-45 600 1493)">0</text>
<text x="642.6" y="1493" font-size="31.5" text-anchor="end" transform="rotate(-45 642.6 1493)">1</text>
<text x="685.1" y="1493" font-size="31.5" text-anchor="end" transform="rotate(-45 685.1 1493)">2</text>
<text x="727.7" y="1493" font-size="31.5" text-anchor="end" transform="rotate(-45 727.7 1493)">3</text>
<text x="770.3" y="1493" font-size="31.5" text-anchor="end" transform="rotate(-45 770.3 1493)">4</text>
<text x="812.9" y="1493" font-size="31.5" text-anchor="end" transform="rotate(-45 812.9 1493)">5</text>
<text x="855.4" y="1493" font-size="31.5" text-anchor="end" transform="rotate(-45 855.4 1493)">6</text>
<text x="898" y="1493" font-size="31.5" text-anchor="end" transform="rotate(-45 898 1493)">7</text>
<text x="578" y="827" font-size="41.7" text-anchor="middle">Screen 1 = ~60K compounds</text>
<text x="-2" y="818" font-size="52.5" text-anchor="start">b</text>
<text x="585.6" y="1548.5" font-size="32.6" text-anchor="middle" xml:space="preserve">z-score of normalized  <tspan font-style="italic">f</tspan>LUC</text>
<text x="227" y="1198" font-size="32.2" text-anchor="middle" transform="rotate(-90 227 1198)">z-score of normalized <tspan font-style="italic">n</tspan>BIT</text>
<path d="M363.1 1667.6V2262.3M437.6 1667.6V2262.3M512.1 1667.6V2262.3M586.6 1667.6V2262.3M661.1 1667.6V2262.3M735.6 1667.6V2262.3M810.1 1667.6V2262.3M288.6 2163.2H884.6M288.6 2064.1H884.6M288.6 1965H884.6M288.6 1865.8H884.6M288.6 1766.7H884.6" stroke="#000" stroke-width="1.1" stroke-dasharray="2 1.3" fill="none"/>
<path d="M586.6 1667.6V2262.3" stroke="#000" stroke-width="4.2" fill="none"/>
<rect x="288.6" y="1667.6" width="596" height="594.7" fill="none" stroke="#000" stroke-width="5"/>
<path d="M288.6 2262.3v14.5M363.1 2262.3v14.5M437.6 2262.3v14.5M512.1 2262.3v14.5M586.6 2262.3v14.5M661.1 2262.3v14.5M735.6 2262.3v14.5M810.1 2262.3v14.5M884.6 2262.3v14.5M288.6 2262.3h-14.5M288.6 2163.2h-14.5M288.6 2064.1h-14.5M288.6 1965h-14.5M288.6 1865.8h-14.5M288.6 1766.7h-14.5M288.6 1667.6h-14.5" stroke="#000" stroke-width="5" fill="none"/>
<path transform="scale(.5)" d="M924 4496l1 9l8 7l38 1l11-5l4 5l9 3l96 0l27-2l25 3l55 0l11-2l27 0l6 2l148-2l6 2l87-3l6 2l71 1l64-3l8 3l16 0l6-2l35 2l9-3l24 0l6 2l21-1l8-7l1-14l3-7l-2-168l-3-35l-4-5l-9-3l-5 1l-2-3l6-3l4-5l1-28l11-14l-1-24l-5-16l-6-8l-13-5l-11 2l-35-1l-8 7l-1 17l-10 12l-27 0l-12-6l7-5l3-6l1-17l-5-8l-9-3l-11 0l-7-14l-11-5l-9 3l-4 5l-17 1l-10 5l-5-8l-10-5l1-9l-4-10l-6-4l-10-1l5-8l-1-10l-4-5l-9-3l-24 6l-6 12l-6-10l-9-3l-28 1l-9 3l-5 8l0 15l-2 2l-11 1l-8 7l-1 20l-2 2l-26 0l-15-5l0-4l9-3l12-16l4 0l6-4l3-6l0-6l-3-6l-6-4l-9 0l-10-4l-5 1l-5-6l-9-3l-11 5l-3 6l0 12l-6 5l-26-1l-1-13l-6-11l-7-8l-9-3l-17 0l-11 5l-3 6l0 34l-21 0l-14-4l-20 2l-6 4l-2-9l-5-6l-9-3l-5 1l-7 5l-15 4l-11 18l-9 8l-1 9l8 13l7 3l3 6l-9 3l-5 6l0 14l-7 1l-8 6l-3-4l8-7l0-12l-12-10l-10 0l-6 4l-2 5l-7 7l-1 19l-10 5l-3 11l-14 17l-22 1l-6 4l-3 6l0 7l3 6l14 7l1 10l8 7l10 2l9-1l6-4l5-11l25 0l1 26l-2 2l-34 0l-6 4l-6 13l-8 1l-8 7l-3-5l-8-6l-2-5l-7-5l-12 0l-6 4l-3 6l0 6l4 7l0 25l-4 3l-9 0l-9 3l-12 19l-1 32l6 11l-13 0l-6 4l-3 6l0 18l-2 2l-16 1l-6 4l-3 6l0 6l8 11l-6 4z" fill="#a0a0a4" fill-rule="evenodd"/><path transform="scale(.5)" d="M1613 3385h0m-313 99h0m401 63h0m59 33h0m-706 43h0m253-10h0m52 10h0m383-17h0m-323 27h0m221 53h0m-125-6h0m-209 38h0m371 5h0m-36 30h0m95 32h0m-47 18h0m19 34h0m-52-17h0m-29 2h0m-287 14h0m-115 14h0m288 6h0m181-12h0m71 8h0m-86 25h0m-16 10h0m-79-22h0m-90 6h0m-54 10h0m-103 11h0m128 18h0m144 1h0m13-6h0m11 1h0m28-9h0m8 14h0m19-8h0m0 0h0m41-2h0m17-9h0m22 42h0m-41-18h0m-28 6h0m-51-4h0m-15 0h0m-20 12h0m-21 0h0m-25 1h0m-23-9h0m-25 9h0m-12 1h0m-21 0h0m-4-18h0m-4 4h0m-38 13h0m-119 1h0m-199 1h0m-10-2h0m-165 22h0m68-5h0m2 8h0m50-3h0m18-6h0m44-7h0m37 9h0m6 10h0m49-19h0m1 2h0m3 17h0m2-14h0m7 12h0m11-14h0m2-5h0m4 13h0m13 8h0m26-2h0m6-5h0m7 0h0m20-11h0m17-3h0m22 11h0m7 2h0m11 4h0m18 2h0m11-4h0m13-6h0m9 7h0m11-1h0m5-6h0m0 12h0m1-21h0m8 3h0m12 10h0m8-1h0m23 4h0m20-2h0m11 7h0m2-18h0m17 10h0m1-9h0m1 15h0m12-17h0m13 12h0m11-3h0m8 6h0m1-17h0m10 7h0m18 6h0m6 5h0m16-1h0m15 1h0m2-18h0m2 17h0m3-17h0m19 5h0m14 12h0m20-10h0m4 12h0m28-6h0m-1 17h0m-42 3h0m-2 3h0m0-12h0m-36 10h0m-3-5h0m-17 4h0m-1-5h0m-15-5h0m-12-1h0m-3 0h0m-8 21h0m-8-3h0m-16 2h0m-9-17h0m-11 9h0m0 0h0m-12 11h0m-21-1h0m-14-13h0m-6 13h0m-17-7h0m-3-3h0m-1-1h0m-8 2h0m-12-10h0m-11 12h0m-2-10h0m-17-5h0m-14 2h0m0-1h0m-3 12h0m-1 3h0m-24-6h0m-4 3h0m-12-3h0m-4-5h0m0 4h0m-1 9h0m-17-7h0m-1-6h0m-29 0h0m-6 2h0m-4 3h0m-4 3h0m-1-3h0m-18 9h0m-1-9h0m-2 8h0m-17-7h0m-37-1h0m-1 11h0m-1-21h0m-2 21h0m0-15h0m-26-2h0m-2 12h0m-13-9h0m-11 3h0m-5 1h0m-21 6h0m-1-12h0m-29-5h0m0 16h0m-36 1h0m-64-12h0m-84 3h0m-140 33h0m132 0h0m90-17h0m32 4h0m6 12h0m22-8h0m7 15h0m20-16h0m1 2h0m15 14h0m4-1h0m11-4h0m13-2h0m1 1h0m10-3h0m5-1h0m0 6h0m14-2h0m16-16h0m5 16h0m15 4h0m2-10h0m3-2h0m3 4h0m0 3h0m0-2h0m4 9h0m7-10h0m0-11h0m3 0h0m9 17h0m2-7h0m17-2h0m11 10h0m5-15h0m14 7h0m5 1h0m2-8h0m8 4h0m7 14h0m0-15h0m4-2h0m1 7h0m4 1h0m2 7h0m7-18h0m6 17h0m0-19h0m6-1h0m7 9h0m6-5h0m7 16h0m3-18h0m3-2h0m7 14h0m3 6h0m4-1h0m6-12h0m10 0h0m18 11h0m1 0h0m1-1h0m9-17h0m3 18h0m24-4h0m1-7h0m8-3h0m7 16h0m0-19h0m17 20h0m0-4h0m2-7h0m1 3h0m26 0h0m24-2h0m12 11h0m8-2h0m7 3h0m3-22h0m2 20h0m15 0h0m13 2h0m0-23h0m10 14h0m1 9h0m2-14h0m28 1h0m1-6h0m19 0h0m0-4h0m7 8h0m9 8h0m9 2h0m8 1h0m8-2h0m28-7h0m4 2h0m1-6h0m3-5h0m8 7h0m-1 33h0m-3-10h0m-1-3h0m-28 14h0m-7-14h0m-35 10h0m-9 0h0m-5 9h0m-2-5h0m-7-2h0m-7-8h0m-27-1h0m-2 11h0m-22-2h0m-10 5h0m-4-15h0m-11 13h0m-4-15h0m-1 10h0m-13-7h0m-4 7h0m-5 3h0m-1-15h0m0 9h0m-2-2h0m-2-8h0m0 19h0m-9-6h0m-15 7h0m-11-10h0m-1-5h0m-1-2h0m-14 6h0m-7-3h0m-3 11h0m-1 1h0m-1-1h0m-1-4h0m-5-11h0m-4 13h0m-1-8h0m-1 12h0m0-1h0m-1-11h0m-4-1h0m-8 4h0m-4-5h0m0 8h0m-1 9h0m-4-23h0m-6 5h0m0 4h0m-4 2h0m-1-4h0m0 9h0m-7 7h0m0-18h0m-2 12h0m-1-3h0m0-1h0m-10-8h0m-4 14h0m-1-1h0m-2-11h0m-3 3h0m-1 12h0m-15-17h0m0 12h0m-9 2h0m-1 2h0m-7-1h0m-6 2h0m-2-12h0m-9-9h0m-2 4h0m-3 9h0m-3-10h0m0 2h0m-3 6h0m-2 1h0m-5-9h0m-2-1h0m-7 3h0m-9 15h0m-1-10h0m-1 5h0m0-4h0m0-8h0m-4 14h0m-16-1h0m-4-15h0m0 11h0m-1-5h0m-5 2h0m-1 0h0m-1-3h0m-1-5h0m-1 0h0m-1 5h0m-2 9h0m-1-7h0m-5-7h0m-2 16h0m-1-13h0m-1 0h0m-3 18h0m-3-17h0m-3-3h0m-1 13h0m-7 3h0m-3-17h0m-2 0h0m-5 0h0m-6 10h0m-2 7h0m-6-7h0m-4 6h0m-4-4h0m-3-3h0m-3 3h0m-6 6h0m-13-3h0m-1 1h0m-7-18h0m-1 19h0m-12-14h0m-2 15h0m-2-10h0m-8 2h0m-3-6h0m-8-3h0m-4 20h0m-23 0h0m-19-7h0m-5-7h0m-7 14h0m-5-8h0m-13 5h0m-13 1h0m-3-12h0m-30 9h0m-44-5h0m-22 10h0m-9-8h0m-38 6h0m-26-8h0m-156-13h0m12 42h0m62-8h0m22 1h0m118-11h0m1 20h0m14-12h0m1 2h0m36-2h0m39-5h0m6 1h0m4 6h0m16-9h0m2 2h0m1 18h0m5-15h0m9 0h0m4-5h0m28 14h0m18 4h0m6-8h0m0 9h0m4-1h0m0-12h0m7 0h0m8-7h0m4 19h0m8 2h0m5-12h0m0-1h0m3-5h0m10 1h0m2 5h0m12 8h0m5-16h0m8 12h0m5 3h0m3-13h0m1-1h0m2 9h0m5 9h0m1 2h0m2-3h0m4-4h0m3 8h0m1-17h0m2 6h0m2 3h0m2 7h0m6-1h0m7 0h0m0 1h0m23-7h0m1-10h0m2 18h0m10-5h0m3 3h0m3-4h0m1-14h0m10 1h0m10 8h0m12 10h0m2-7h0m8 6h0m4-3h0m7-8h0m4-6h0m0 16h0m4-14h0m1 9h0m4-9h0m0-4h0m6 4h0m1 0h0m1 4h0m1-1h0m0 11h0m3-11h0m3 4h0m0 8h0m0-1h0m1-20h0m5 3h0m19 19h0m0-22h0m2 5h0m1 8h0m1-12h0m6-1h0m2 6h0m0 14h0m0-14h0m1 14h0m5-4h0m2 7h0m2-21h0m4 15h0m5-14h0m1 19h0m0 0h0m4-17h0m0 3h0m7 7h0m1-6h0m10 0h0m3 14h0m13-4h0m0 1h0m2-10h0m2 13h0m3-11h0m2 9h0m11 2h0m1-23h0m1 18h0m6 5h0m2-19h0m9 12h0m2-16h0m6 16h0m0 1h0m2-4h0m1 6h0m3-5h0m0-13h0m7 2h0m0 7h0m2-4h0m1 8h0m8 1h0m8-6h0m3 14h0m5-13h0m3 0h0m4 6h0m19-10h0m2 1h0m1 2h0m5-6h0m11 15h0m0-8h0m3-3h0m3 1h0m5-2h0m0 1h0m2 3h0m9-3h0m23 12h0m2-3h0m9-2h0m8 6h0m7-2h0m16-6h0m2 4h0m5 7h0m0-8h0m5 2h0m0-3h0m2 2h0m6-10h0m9 8h0m13 5h0m2 0h0m14-7h0m2 22h0m0 0h0m-1 11h0m-1-7h0m-1 3h0m-2 6h0m-3-18h0m-11 2h0m-1 8h0m-3-8h0m-1-3h0m-1 17h0m-8-16h0m-5 11h0m-1 0h0m-1-12h0m-3 14h0m-12-17h0m-2 2h0m-1 10h0m-4 7h0m-4 3h0m-6-8h0m-2 7h0m-21-5h0m-1-7h0m-11-8h0m-2 9h0m-18 12h0m-1-14h0m-3 12h0m0 2h0m-3-8h0m-5-15h0m-3 10h0m-1 0h0m-3-9h0m-2 9h0m0-6h0m-2 9h0m-1 7h0m-1-4h0m-3 5h0m-1-10h0m-3-2h0m-4 4h0m-1-13h0m-9 10h0m-5 11h0m-5-5h0m-1-4h0m-1-8h0m0 17h0m-1 2h0m-1-18h0m-1 13h0m-12 3h0m-1-17h0m-1 10h0m-1 4h0m-3-12h0m0-1h0m-1 10h0m-3-3h0m-2 1h0m-2 1h0m-2-1h0m-3 7h0m-8-19h0m-1 12h0m-2 0h0m-8 0h0m-4 3h0m-1-1h0m-3-13h0m0 10h0m-1 0h0m-1 8h0m-5-8h0m-6 1h0m-3 5h0m-3-3h0m-1-13h0m-1 19h0m-1-6h0m-3-9h0m-2 2h0m-10 6h0m-5 7h0m-7 1h0m-4-11h0m-6 0h0m-6 12h0m-14-4h0m-8-7h0m-2 4h0m-2-8h0m-1 3h0m-4-7h0m-1 12h0m0-3h0m-3-1h0m-4-3h0m-1 2h0m-1-1h0m-2 0h0m-4-1h0m-1 7h0m-2-7h0m0 12h0m-3-2h0m-5-2h0m0 1h0m-3 1h0m-6-6h0m-3-4h0m-2-3h0m-1-6h0m-3 6h0m-2 10h0m-2 6h0m0-19h0m-1-1h0m-4 10h0m0-10h0m-1 14h0m-8 2h0m-9-12h0m-2 4h0m-7-5h0m-1 17h0m-1-14h0m0 4h0m-1-7h0m-3 12h0m-3-16h0m-1 12h0m-2 2h0m0-1h0m-1-14h0m0 6h0m0-1h0m-4 5h0m-5 5h0m0 3h0m-4 2h0m0-3h0m-5-10h0m-3 7h0m-3-13h0m-8 5h0m-5 12h0m-3-1h0m-4-13h0m-1 13h0m-2-9h0m-4 13h0m-1-9h0m-2 6h0m-2-15h0m-14 18h0m-1-1h0m-1 0h0m-1 3h0m-3-18h0m0 10h0m-2-13h0m-4 20h0m-5-14h0m-4-1h0m-2-1h0m-6 11h0m-6-16h0m-4 17h0m-11 3h0m-2-5h0m0 4h0m-1-14h0m0 12h0m0 3h0m-2-1h0m-1-13h0m-5 5h0m-1-2h0m-2 9h0m-3-6h0m-9 6h0m-1-15h0m0 13h0m-2 3h0m-4-1h0m-22-8h0m-14-3h0m-13 10h0m0-6h0m-2 3h0m-1 2h0m0-1h0m-5-1h0m-3-11h0m-11 18h0m-3-1h0m-17-6h0m-4-8h0m-1 6h0m0-1h0m-3 11h0m-25-22h0m-31 0h0m-38 3h0m-33 9h0m-70-5h0m-18 8h0m16 30h0m19-14h0m33 15h0m6-17h0m21 7h0m7-5h0m12-6h0m32-1h0m5 15h0m19-2h0m16-11h0m6-3h0m4 6h0m1 8h0m14 8h0m1-11h0m11 8h0m12-2h0m0-10h0m10-4h0m3 14h0m7-6h0m5-9h0m11 20h0m1-7h0m2 0h0m5 2h0m1-12h0m5 1h0m1 8h0m6-11h0m1 16h0m0 1h0m4-7h0m1 10h0m3-20h0m1 13h0m0-1h0m4 7h0m0-6h0m6-11h0m1-4h0m5 7h0m4-7h0m7 0h0m2 1h0m2 3h0m0 4h0m2 13h0m2-10h0m0-10h0m4 9h0m3 10h0m2-8h0m1 2h0m1-15h0m2 5h0m0 16h0m1-1h0m1-14h0m0-2h0m3 0h0m3 4h0m1 1h0m3 8h0m1-2h0m0-14h0m4 16h0m1-7h0m8-6h0m0 12h0m1 7h0m1-1h0m4-15h0m1-3h0m6 13h0m1-14h0m7 3h0m1-6h0m3 1h0m2 11h0m6 0h0m0-5h0m9 6h0m2-8h0m2-3h0m2 15h0m0 1h0m2-18h0m0 16h0m1-1h0m2-15h0m1 7h0m2 14h0m0-20h0m1 1h0m1 4h0m0-2h0m4 2h0m5 13h0m1-3h0m6 1h0m6-17h0m3 11h0m2 3h0m4 1h0m1-11h0m1-2h0m0 21h0m2-11h0m3-1h0m1 5h0m4-7h0m1-3h0m2 2h0m1 5h0m2 3h0m0 1h0m1-2h0m2-13h0m2 9h0m0 2h0m3 10h0m2-16h0m0 1h0m4-4h0m7 10h0m0-14h0m2 15h0m5 2h0m2-11h0m2-5h0m1-1h0m2 1h0m1 8h0m1 2h0m1 6h0m2 2h0m4-4h0m4-1h0m1-13h0m3 1h0m0 5h0m2 0h0m0-5h0m2 3h0m1 1h0m0 5h0m2-10h0m2 20h0m3-13h0m3 11h0m2-11h0m2 13h0m1 0h0m0-20h0m4 13h0m0-11h0m0 20h0m7-1h0m2-2h0m3-14h0m2-2h0m0 9h0m6 0h0m0-1h0m3 4h0m7 0h0m4 2h0m1 1h0m1-7h0m8 8h0m0-5h0m1-2h0m2 3h0m1-3h0m1-1h0m3-7h0m0 7h0m1-6h0m0 6h0m4-10h0m2 9h0m0 7h0m0-6h0m2-7h0m6 9h0m1 5h0m3-6h0m3 0h0m3 2h0m3-9h0m1 11h0m0-12h0m1 6h0m1 1h0m0-8h0m3 0h0m3 9h0m1 9h0m6-19h0m1 9h0m4-6h0m5-2h0m3 17h0m2-6h0m0-3h0m2 0h0m1 11h0m1-1h0m0-3h0m1 1h0m0-9h0m1-5h0m9 1h0m2 11h0m4-7h0m6-7h0m3 17h0m2-17h0m3 5h0m1 9h0m5-10h0m0 3h0m3 9h0m3-16h0m5 2h0m3 11h0m6 5h0m2-14h0m3 8h0m7 6h0m1-22h0m6 6h0m1-5h0m2 13h0m3 5h0m2-15h0m1 11h0m1-11h0m0 9h0m6 10h0m5-10h0m5 1h0m1-1h0m3 5h0m6-8h0m5 9h0m3-16h0m1 6h0m3-1h0m1 2h0m10-5h0m11 12h0m8-6h0m3-1h0m1 9h0m1-16h0m1 13h0m3 7h0m4-1h0m24-18h0m1 19h0m4-21h0m13 18h0m3-12h0m2-3h0m15 39h0m-4-5h0m0 2h0m-6 6h0m-1-18h0m-6 3h0m-2 0h0m0 14h0m-7-6h0m-2 7h0m-4-20h0m-12 14h0m-7 4h0m-9 2h0m-3-9h0m-6 3h0m-1-8h0m-3 6h0m-5-14h0m-2 10h0m-1 0h0m-1 8h0m-11-1h0m-6-6h0m-2 9h0m-2-9h0m-2-1h0m-2 10h0m-7-4h0m-1-12h0m-11 5h0m-4 11h0m-2-11h0m-1-8h0m-2 5h0m-1 7h0m-4-10h0m-2 16h0m-5-18h0m-10 16h0m-3 3h0m-3 1h0m-3-9h0m-10 3h0m0-16h0m-2 3h0m-1 1h0m-3-2h0m-1 17h0m-1-3h0m-1 7h0m-1 0h0m0-5h0m0-6h0m-5-1h0m0-8h0m-2 5h0m0 0h0m-1 12h0m-2-10h0m-3 0h0m0 4h0m-14 6h0m-3 1h0m0-18h0m-1 19h0m-1 0h0m0-14h0m-2 7h0m0 4h0m-1 4h0m-4-11h0m-1 3h0m0 0h0m-1-1h0m0-12h0m-2 4h0m-2 16h0m-4-14h0m-2 13h0m-5-13h0m-2 2h0m-2-8h0m-21-1h0m-9 2h0m0 9h0m-8 3h0m-6-11h0m-1-2h0m-1 1h0m-11 1h0m-5-1h0m-10-1h0m0-2h0m-4 1h0m-1 2h0m-4 0h0m-6 19h0m-3 1h0m0-1h0m-3 1h0m-3-13h0m-2 9h0m-6-17h0m-3-2h0m0 22h0m-4-4h0m0-18h0m-4 23h0m-3 0h0m0-3h0m-1-15h0m-1 4h0m-1-1h0m0 14h0m-1-5h0m0-3h0m-1-2h0m0-8h0m-1 19h0m0-5h0m-1-13h0m-1-3h0m-1 21h0m-1-17h0m-2 2h0m-2 7h0m-3-10h0m-8 3h0m-9-4h0m-12-2h0m-18 15h0m-2 2h0m0-1h0m-1-14h0m0 10h0m-2-6h0m-1 11h0m-1-19h0m-2 9h0m0-6h0m-2 5h0m-3 3h0m-2 7h0m0-10h0m-2 10h0m0 4h0m-1-11h0m-6 8h0m-6-8h0m-1 10h0m0-19h0m0 13h0m0-12h0m-1 0h0m-3-2h0m-2 20h0m-1-1h0m-4-16h0m-1 10h0m0 1h0m0-12h0m-40 4h0m-1-4h0m0 7h0m-3 5h0m-1 7h0m-4-21h0m-4 22h0m0-18h0m-2 17h0m-3-2h0m-8-20h0m-3 14h0m-2 1h0m-4-1h0m0-14h0m-2 0h0m-1 19h0m-2-13h0m-1 2h0m0-3h0m-1 13h0m-1-18h0m-3 16h0m0-4h0m-3 4h0m-3 2h0m-4 0h0m-6-17h0m-2 4h0m-2 6h0m-2 9h0m-4-18h0m0 21h0m0-1h0m-5-15h0m-1 5h0m0 2h0m-2 0h0m-3-13h0m0 15h0m-2-10h0m0-6h0m0 5h0m-2 7h0m-3-3h0m0-2h0m-5-6h0m-4 16h0m-1-10h0m-1 2h0m-3 6h0m-6-5h0m-10 7h0m-1-10h0m0 10h0m-12-16h0m-6 14h0m-1-14h0m-6 10h0m-1 12h0m-22-20h0m-5 18h0m-1-16h0m0 7h0m-3 11h0m-10-15h0m-3 14h0m-2-7h0m-16 8h0m-6-1h0m-10-3h0m-10-4h0m-2-2h0m-7 4h0m-38-10h0m-28 14h0m-94-12h0m-1 12h0m-13-19h0m-43 12h0m-28 0h0m-93 13h0m42 2h0m66 16h0m9-5h0m164-14h0m11 18h0m16 0h0m7-11h0m4-3h0m9-1h0m12 14h0m6 0h0m0 1h0m17-2h0m6 5h0m15-7h0m1-8h0m1 15h0m2-19h0m0 10h0m8-2h0m1 6h0m1-11h0m4-1h0m0-1h0m3 15h0m1 1h0m2-10h0m2 5h0m2-7h0m8 3h0m7 2h0m4-13h0m2 11h0m2-6h0m3 0h0m4 10h0m0 2h0m3-3h0m8 7h0m1-4h0m0-15h0m2 12h0m3-3h0m0-4h0m4-7h0m1 8h0m1 4h0m2-1h0m3-8h0m2-4h0m5 2h0m0-1h0m32 3h0m5 4h0m1 0h0m3-3h0m4-1h0m12-3h0m5 0h0m2 0h0m4 0h0m7 1h0m0 1h0m3 3h0m6 0h0m0 2h0m1 0h0m6-6h0m3 0h0m0 3h0m4 1h0m5 2h0m2-3h0m1-4h0m62-1h0m11 0h0m26 23h0m9-9h0m2 0h0m3 1h0m2 7h0m7-14h0m0-8h0m1 16h0m2 7h0m1-10h0m1-10h0m1 6h0m0 14h0m9-15h0m4 1h0m0-9h0m1 6h0m0 2h0m4 2h0m2 3h0m0-4h0m1 8h0m1-3h0m0-8h0m1 15h0m3-19h0m2 0h0m8 6h0m1-7h0m106-1h0m8 16h0m1-12h0m1 16h0m2-6h0m5 5h0m1 0h0m2-3h0m6-6h0m4 2h0m2 1h0m0 8h0m3-7h0m13 9h0m3-4h0m0-2h0m0-3h0m1-12h0m4 15h0m3 4h0m2-15h0m3 16h0m1-12h0m3-6h0m1 8h0m1-2h0m1 10h0m2-14h0m3 1h0m1 10h0m4 3h0m0-16h0m2 15h0m3-1h0m4-18h0m0 11h0m1 4h0m0 3h0m0-10h0m6-2h0m8-3h0m1 5h0m2 8h0m2 5h0m0-2h0m1 0h0m4-6h0m2-9h0m1 12h0m2-5h0m8 11h0m1-9h0m2 1h0m8-11h0m2 2h0m3 12h0m1 0h0m2-16h0m2 10h0m2-3h0m2-5h0m0 0h0m1 13h0m1 0h0m6-9h0m1 15h0m2-2h0m2-9h0m0-4h0m3-1h0m2 12h0m0 1h0m1-18h0m2 1h0m8 21h0m0-9h0m1-4h0m3-4h0m3 4h0m1 5h0m3-11h0m0-2h0m6 10h0m0 4h0m2 1h0m0-5h0m3-2h0m8-1h0m1-3h0m3 1h0m2-6h0m2 10h0m1 10h0m3-9h0m8 0h0m3 0h0m2-8h0m1 2h0m3 18h0m0 17h0m-10-2h0m-1 0h0m-3 4h0m-7-17h0m-1 9h0m-8 10h0m0-15h0m-9 7h0m-3 7h0m-1 0h0m-3 3h0m0-9h0m-2-4h0m-3-5h0m-3 14h0m-1-18h0m-8 3h0m-1 15h0m-2-11h0m-4 7h0m-2 5h0m-1 2h0m-4-8h0m0 9h0m-1-6h0m-2-4h0m-2-8h0m0 17h0m0-5h0m-1 3h0m-2-1h0m0-3h0m0-13h0m-5 3h0m-4 5h0m0 10h0m-2-8h0m-2 3h0m-4-12h0m-5 11h0m0-11h0m-7-1h0m0 5h0m-1-3h0m-2 2h0m0 5h0m0-1h0m-2 2h0m-2-11h0m-1-2h0m-1 19h0m-5 0h0m0-3h0m-4-13h0m-3 3h0m-1 0h0m-1 4h0m-2 3h0m-3-3h0m-4-5h0m0 7h0m-3-11h0m-3 3h0m-4 9h0m-1 3h0m0-13h0m0 1h0m0-4h0m-1 0h0m-2 8h0m0-1h0m-1-5h0m-14-1h0m-7 5h0m-10-5h0m-8 6h0m-3-5h0m-1 6h0m-14-7h0m-1-1h0m-1 2h0m-142 1h0m0-2h0m-1 2h0m-3 11h0m0-4h0m-2-9h0m-2 2h0m-4 11h0m-1-10h0m-2 3h0m0-7h0m-2 11h0m-2 3h0m0-2h0m-3-1h0m0-5h0m-1-5h0m0 12h0m-3-11h0m-1 3h0m-1 0h0m0 3h0m-2-4h0m-3 3h0m-1 1h0m-8 3h0m-6-3h0m-213 14h0m-5-5h0m-3-1h0m-1-3h0m0 2h0m-2 0h0m0-5h0m-10-3h0m-4 15h0m-3-8h0m-1-8h0m-2-6h0m0 11h0m-1-10h0m-1 9h0m-1-2h0m-1-4h0m0-3h0m-3 20h0m-1-6h0m-1 1h0m0-16h0m-9 16h0m-3-8h0m-2-2h0m0-3h0m-8 17h0m-2-3h0m0 3h0m-1-14h0m-1 2h0m-1 4h0m-5-9h0m-7 8h0m0 3h0m-9-6h0m0 1h0m-6 12h0m-9 1h0m-17-2h0m-6-7h0m0-9h0m-9 16h0m-2-13h0m0 4h0m0 3h0m-2-10h0m0-3h0m-5 19h0m-3-1h0m-31-14h0m-22 4h0m-1 1h0m-108-10h0m-13 7h0m-71 18h0m57-1h0m62 6h0m89 10h0m3-7h0m7 5h0m5-13h0m2 12h0m4 7h0m6-4h0m7-5h0m1 5h0m4-4h0m5 5h0m6-3h0m1-6h0m13 0h0m2-7h0m3 16h0m8-9h0m2 9h0m9-7h0m1 2h0m2 3h0m2 0h0m7-14h0m5 7h0m1-6h0m1 5h0m2-2h0m3 12h0m0-6h0m0-4h0m0 3h0m1 3h0m10 0h0m1-6h0m4 15h0m9-16h0m2-1h0m7 2h0m5 7h0m1 6h0m6-14h0m0 14h0m6 2h0m2-1h0m2-15h0m3 13h0m1-16h0m0 1h0m1 16h0m1-15h0m0 11h0m8-10h0m2 1h0m4-2h0m1 0h0m478 14h0m5-6h0m3-6h0m0-3h0m0 4h0m3-3h0m3 16h0m4-18h0m2-2h0m0 21h0m1-18h0m0 6h0m1-4h0m3-2h0m6-3h0m8 18h0m6-16h0m0-1h0m0 8h0m1 9h0m1-13h0m2 7h0m0 2h0m1 5h0m2-16h0m2 8h0m0 8h0m0-12h0m2-5h0m1 15h0m2-11h0m16-3h0m28-3h0m9 4h0m2 0h0m0-2h0m7 7h0m1 4h0m0 9h0m1-2h0m7-18h0m2 19h0m1-2h0m1-12h0m3 5h0m4 26h0m-3 1h0m0-10h0m-1-4h0m0 21h0m-1-12h0m-1 11h0m-3-5h0m0-10h0m-2 1h0m-1 12h0m-1-1h0m-3-1h0m-2-10h0m-73-3h0m-5-1h0m-1 3h0m-3 0h0m-1 7h0m-1-6h0m-1 0h0m-2-7h0m-1 3h0m0 8h0m-1-10h0m-1 1h0m-1-1h0m-4 6h0m-1 1h0m-1 5h0m-5 1h0m0-7h0m-3 3h0m-2 0h0m-3-7h0m0 5h0m0 3h0m-1-2h0m-1-10h0m-2 8h0m-10 1h0m-1-1h0m-507 7h0m0-11h0m-5 14h0m-7-6h0m-20-7h0m0 1h0m-5 4h0m-4 11h0m0-21h0m-3 23h0m-1-16h0m-1 2h0m-5 10h0m-1-6h0m-7 10h0m-1-18h0m-2 2h0m-19 1h0m-3-5h0m-1 11h0m-4-2h0m-2 4h0m-2 4h0m-9-5h0m-2-5h0m-1 6h0m-2 3h0m-1 1h0m-2-13h0m-11-4h0m-9 18h0m-15-1h0m-10-3h0m-2-5h0m0-1h0m-12 7h0m0-17h0m-18 12h0m-8 4h0m-6-5h0m-23 0h0m-5-5h0m-18-6h0m-25 11h0m-29 3h0m-14-15h0m-5 17h0m-184-17h0m-17 23h0m51 18h0m102-3h0m58-10h0m47 7h0m41-11h0m13 15h0m12 0h0m1-13h0m7 9h0m4 8h0m3-8h0m1 10h0m8-19h0m3 9h0m2-2h0m5-5h0m0 6h0m1 3h0m5 8h0m3-7h0m3-7h0m6 3h0m7-4h0m1 6h0m3 11h0m1-11h0m2-8h0m7 1h0m1-2h0m6 14h0m4-7h0m0-9h0m1 19h0m1-15h0m2 11h0m6-3h0m1 1h0m0-2h0m2-11h0m2 4h0m1 1h0m1 4h0m0 12h0m1-11h0m5 4h0m0-8h0m4 1h0m1 9h0m13 1h0m1-5h0m3-5h0m2 3h0m0 9h0m5-8h0m0-11h0m5 6h0m1 11h0m0 2h0m1-5h0m2-1h0m1-11h0m3-2h0m4 6h0m0 0h0m671-2h0m0 15h0m0-13h0m4 3h0m2 8h0m1-3h0m1 3h0m3-14h0m3 10h0m1-7h0m2 5h0m1-12h0m1 0h0m1 14h0m4-1h0m-2 32h0m-3-8h0m-1-1h0m-3 6h0m0-4h0m-5 5h0m-1-16h0m-1 9h0m0 6h0m-1 1h0m-1-2h0m0 1h0m0-4h0m0-5h0m-5-3h0m-1 7h0m-2-4h0m-1-5h0m0-3h0m-1 2h0m0 14h0m-1 2h0m0-4h0m-3 3h0m-680-16h0m-2 2h0m-2-4h0m-2 5h0m-7-1h0m-3-3h0m0-1h0m-3 5h0m-5 16h0m-7-16h0m-1 5h0m-3 0h0m0 10h0m0-20h0m-5 8h0m-1 15h0m-4-12h0m-8-8h0m-17-1h0m-5 4h0m0-2h0m-7-3h0m-1 7h0m0 12h0m-7-12h0m-8 12h0m-6-1h0m-4-15h0m0 9h0m-6 5h0m-11-8h0m-4 5h0m-2-10h0m-7 2h0m-7 1h0m-13 14h0m-12-22h0m-3 7h0m-12 8h0m-19-12h0m0 2h0m-203 5h0m-10 3h0m75 32h0m5 2h0m108-20h0m6 5h0m19-2h0m3 16h0m0-5h0m8-7h0m17 11h0m12-16h0m13-4h0m7 7h0m2 11h0m11 4h0m3-13h0m3-2h0m1 8h0m5 4h0m6-12h0m0 13h0m4-21h0m2 9h0m2-4h0m7 8h0m2-12h0m0 0h0m2 7h0m1 3h0m2-3h0m2-3h0m3 1h0m4 17h0m3-5h0m2-1h0m4 3h0m1-9h0m0 5h0m1 4h0m6-7h0m1 5h0m7-8h0m0-6h0m3 3h0m2-6h0m1 2h0m3 13h0m0 0h0m5-1h0m9-6h0m10 5h0m0-5h0m1-2h0m1 9h0m1-5h0m3-2h0m0-6h0m1 9h0m0 8h0m2 2h0m1-7h0m1 0h0m0-15h0m0 17h0m1-12h0m1 13h0m1 1h0m1 4h0m1-1h0m6-5h0m5 3h0m2-3h0m3 4h0m5-12h0m0 0h0m3 14h0m0-3h0m1-12h0m3-6h0m1 1h0m0 4h0m1 14h0m0-4h0m0-9h0m0-7h0m5 16h0m4-5h0m5-6h0m0 1h0m2-6h0m1 3h0m0 0h0m0 1h0m0 8h0m1-7h0m3 9h0m1 5h0m0-9h0m2-4h0m3 12h0m1-11h0m0-4h0m4 17h0m620-15h0m9 5h0m3 0h0m1-1h0m2 0h0m1 1h0m0-1h0m2-7h0m1 11h0m1 4h0m0-14h0m2 4h0m0 11h0m1-11h0m1 11h0m0-10h0m1 0h0m0-5h0m1 12h0m1-3h0m0-7h0m0 0h0m1-3h0m0-3h0m0 14h0m0-4h0m0-7h0m1 2h0m0-2h0m0 4h0m1 2h0m2-4h0m0 18h0m0 0h0m0-21h0m1-1h0m1 2h0m2 13h0m1-12h0m-1 39h0m-1 0h0m-1 2h0m0-7h0m0 1h0m-1-13h0m0 18h0m-1-6h0m0-9h0m-1 7h0m-2 7h0m0-3h0m-1-5h0m-1-10h0m-2 19h0m0 2h0m0-13h0m-2 9h0m-2-6h0m-642-11h0m-1 7h0m0 4h0m-2 3h0m-2 0h0m-1-11h0m-3 12h0m0-2h0m-1-10h0m-4 0h0m-3 11h0m-2-5h0m-2 3h0m-1-2h0m-1 0h0m-3-2h0m-3 9h0m0-14h0m-4 13h0m0-6h0m-2 4h0m0-6h0m0 6h0m-7-10h0m0 13h0m-2-15h0m-2 4h0m0 2h0m0 5h0m-1 8h0m0-16h0m-1 11h0m-2-11h0m0 5h0m-1-7h0m-1 1h0m-2 2h0m-3 4h0m0 6h0m-1-17h0m-2 3h0m-2 0h0m-12 3h0m-1 2h0m-1 6h0m-1-3h0m-1-3h0m-2-3h0m-1 6h0m0 10h0m0-3h0m-1-3h0m0-5h0m-1-8h0m-4 6h0m-2 3h0m-1 11h0m-1-8h0m-3-10h0m0 6h0m-1 3h0m-1-5h0m-2 4h0m0 9h0m-5 1h0m0-1h0m-3-12h0m-3 14h0m-3-8h0m-2-1h0m-1-11h0m-1 19h0m-2-9h0m-3 3h0m-1-9h0m0 12h0m-9 2h0m-1-14h0m-5 9h0m-2 7h0m-1-18h0m-1 4h0m-2 8h0m-3-6h0m-2-7h0m-10 9h0m0 4h0m-4-9h0m0 13h0m-6-16h0m0 4h0m-1 3h0m-3 3h0m-9-2h0m-6-1h0m-2-11h0m-10 4h0m-2-4h0m-1 18h0m-7-14h0m-85 11h0m-6-9h0m-60-7h0m-78 5h0m43 34h0m34-1h0m21 3h0m71 3h0m0-16h0m2 5h0m31 5h0m15-14h0m4 7h0m9 13h0m3 0h0m12-11h0m7 8h0m2-3h0m1-14h0m3 21h0m4-1h0m15-3h0m7-5h0m5-3h0m0-3h0m16 0h0m2 7h0m1 9h0m8-4h0m0-14h0m1 9h0m1 1h0m3-1h0m5-10h0m0 3h0m1-5h0m4 18h0m0-2h0m3-13h0m0 18h0m1-12h0m0 7h0m2 6h0m1-7h0m13-14h0m1-2h0m4 6h0m4-6h0m2 14h0m0-10h0m2 10h0m2-9h0m2 12h0m4-17h0m0 15h0m5-1h0m3-10h0m1 5h0m1-3h0m1-4h0m2 9h0m1-7h0m0 0h0m3 6h0m4-10h0m687 15h0m1-13h0m2 12h0m1 4h0m0-13h0m1 1h0m1 11h0m0-2h0m2-5h0m1 6h0m0-16h0m1 13h0m0-12h0m0 1h0m1 16h0m2-14h0m0-3h0m2 8h0m1 13h0m1 5h0m-1 17h0m0-14h0m-2 2h0m-1-7h0m-1 9h0m-2 0h0m-2-3h0m0 11h0m-3 4h0m0-17h0m0 9h0m-1-4h0m-1 10h0m-1-17h0m-1 6h0m0 5h0m-746 8h0m0-12h0m-1-10h0m-1 10h0m-1 2h0m0 0h0m-2 10h0m-1-18h0m0 18h0m-1-16h0m0 0h0m-1 0h0m-1 2h0m0 1h0m-1-4h0m0 14h0m0 2h0m-1-8h0m-6 2h0m-2-1h0m-3-1h0m-3 10h0m-3-1h0m-2-16h0m-2 6h0m-3-7h0m0-4h0m-4 10h0m-3-6h0m0 3h0m-5 4h0m0 0h0m0 1h0m-4-10h0m-5 11h0m-4 6h0m-2-1h0m-3-14h0m-6 15h0m-6-13h0m-3 11h0m-1-17h0m-10 10h0m0 5h0m-2-2h0m-2 5h0m-17-18h0m-30 21h0m-26-17h0m-82 8h0m-15-11h0m-20 5h0m-30 11h0m-10-12h0m-62 9h0m-26 27h0m2-4h0m83-2h0m49 6h0m4-7h0m19 8h0m18 4h0m35-2h0m8-12h0m19 2h0m6 12h0m5-1h0m1-2h0m0-8h0m4 11h0m8-10h0m7 7h0m9-13h0m7 14h0m12-9h0m5-8h0m2 19h0m2-13h0m4-8h0m1 15h0m6-1h0m1-16h0m3 18h0m1-10h0m2 10h0m6-12h0m8 12h0m1 1h0m3-7h0m3-3h0m7 12h0m0-9h0m7 4h0m1-11h0m9 1h0m0-4h0m0 1h0m3 0h0m0 17h0m1 3h0m0-19h0m4-1h0m0 11h0m2-3h0m2 1h0m6-8h0m1 8h0m3-6h0m6-6h0m763 22h0m0-10h0m0-5h0m2 4h0m2-9h0m1 11h0m0 1h0m1-4h0m1 12h0m0-3h0m0-8h0m1-5h0m0 7h0m1-6h0m0 3h0m1 7h0m0-8h0m0-5h0m1 7h0m0-6h0m3 1h0m0 12h0m0-6h0m0 7h0m1-3h0m0 4h0m0 2h0m1-1h0m-1 11h0m-1 8h0m0-15h0m0 17h0m0-18h0m0 21h0m0-15h0m-3-3h0m-1 8h0m0 2h0m-1-7h0m0 14h0m-1-10h0m0-4h0m0 14h0m-1-9h0m0 12h0m-1-22h0m0 18h0m0-11h0m0-2h0m0 10h0m-1-6h0m-1-8h0m-1 1h0m-1 16h0m0-19h0m-1 21h0m-1-10h0m-779-7h0m-5 11h0m-1-4h0m-2 8h0m-1-10h0m0-1h0m-1-3h0m-4 14h0m-2-15h0m-1-3h0m-2 21h0m-7 1h0m-16-7h0m-8-10h0m-2 4h0m-10 2h0m-4 3h0m-1 8h0m-4-13h0m-9 11h0m0 0h0m-1-18h0m-1-3h0m-12 23h0m-2-13h0m0-6h0m-1-3h0m-4 16h0m0 0h0m-1-2h0m-5-2h0m-4-11h0m-5 16h0m0-11h0m-9 12h0m-4-6h0m-10 2h0m-12-8h0m-27 10h0m-16 4h0m-3-12h0m-10-8h0m-2 18h0m-2-11h0m-33-8h0m-18 0h0m-33 2h0m-89 38h0m61 0h0m139 3h0m2-15h0m39 13h0m2-10h0m6 3h0m0 3h0m10 10h0m6-16h0m1 6h0m9-8h0m2 3h0m5 14h0m1 0h0m14-11h0m1 10h0m4 2h0m2-2h0m10 1h0m4-2h0m5-19h0m2 13h0m7-10h0m0 8h0m1-10h0m4 16h0m1-11h0m3 6h0m5 3h0m0 0h0m2-5h0m0-7h0m0 1h0m4 8h0m1-1h0m1 4h0m1 7h0m1-20h0m7-3h0m2 6h0m0 0h0m0 9h0m3-5h0m3-1h0m0 6h0m3-9h0m3 7h0m0 2h0m1-6h0m0 0h0m1 8h0m1-15h0m0 17h0m6-15h0m778 11h0m0-10h0m0-1h0m1 16h0m0-20h0m0 6h0m0 3h0m1-7h0m0 13h0m1 5h0m0-3h0m2-1h0m0-5h0m1-10h0m1-1h0m1 16h0m0-16h0m0 11h0m1 0h0m0-3h0m1-3h0m0 7h0m0-1h0m1 10h0m1-5h0m0-10h0m0 6h0m0-10h0m1 19h0m0-1h0m0-13h0m0 6h0m0 4h0m1-3h0m0-12h0m0 10h0m0-6h0m1 1h0m-1 25h0m0 10h0m0-4h0m0-13h0m0 0h0m-1 4h0m0 9h0m-1-10h0m0 0h0m0 14h0m0-13h0m0-4h0m-2 8h0m0 5h0m0 4h0m-1 2h0m-1 2h0m0-6h0m0 0h0m-1-10h0m0 4h0m-1-1h0m0-5h0m0 9h0m0-5h0m0 1h0m-1 9h0m0-17h0m0 21h0m-1-14h0m-1 6h0m0-14h0m-1 14h0m-2-9h0m0 9h0m-1-2h0m0-6h0m-794 0h0m-3 16h0m-1-2h0m-1 1h0m0-19h0m0 3h0m-4 5h0m-1 3h0m0 7h0m-3 2h0m-1-9h0m-8 0h0m-4-3h0m-7 9h0m-1-13h0m-6 10h0m-1-10h0m-4 6h0m-1 6h0m-5-6h0m-1 9h0m0-6h0m-1-10h0m-1-4h0m-5 0h0m-1 20h0m-24-19h0m-7 16h0m-12 1h0m-6-19h0m-13 12h0m-1-8h0m-2 15h0m-23-2h0m-4-4h0m-3-11h0m-17 8h0m-52-7h0m-46-3h0m-5 19h0m-46-15h0m-24 34h0m31-7h0m1 6h0m47-5h0m12 2h0m27 7h0m22-8h0m0-6h0m3 0h0m9-1h0m12 2h0m3 17h0m36-20h0m8 0h0m11 8h0m2 9h0m3-14h0m1 14h0m5-4h0m0-8h0m6 7h0m8-7h0m0 8h0m9 7h0m11-10h0m1-11h0m2 16h0m6 4h0m4 2h0m2-11h0m2 0h0m0-5h0m0 2h0m1 9h0m0-8h0m2-4h0m1 13h0m7-15h0m1-1h0m8 13h0m0-3h0m0-1h0m3 2h0m2-12h0m8 4h0m2 8h0m1-10h0m6 20h0m813-8h0m0-4h0m0 3h0m2-2h0m0 9h0m1-14h0m0 0h0m0-2h0m0 7h0m2 3h0m1-6h0m0-9h0m1 6h0m0-5h0m0 10h0m0 5h0m0-4h0m1-10h0m0 2h0m1 9h0m1-12h0m1 13h0m0-11h0m1 9h0m0-7h0m0 16h0m1 2h0m0-15h0m1 14h0m1 0h0m1-13h0m0 14h0m0-16h0m0 26h0m-3-3h0m0-2h0m0 3h0m-1-2h0m0 16h0m0-10h0m0-3h0m-2 2h0m0 8h0m-1-1h0m-1-15h0m0 21h0m0-9h0m-2 8h0m-1-19h0m0 19h0m0-18h0m0 1h0m-1 14h0m0-5h0m0-10h0m0 5h0m0 0h0m-1-6h0m0 5h0m0 0h0m0 15h0m-1-21h0m0 21h0m0-13h0m0-5h0m0 8h0m0-12h0m-1 9h0m0 7h0m-1-16h0m0 12h0m-2-3h0m0 10h0m0-6h0m-2 8h0m-4 0h0m-8 1h0m0-2h0m-11 1h0m-5 0h0m0-2h0m-1 2h0m-1-1h0m-1 2h0m-2-3h0m-1 1h0m-4 1h0m-4-3h0m-1 3h0m-2 1h0m-1-2h0m0 1h0m-8 0h0m-2 0h0m-1-1h0m-1 0h0m-5 2h0m-4-1h0m-2 0h0m-5 1h0m-3 0h0m-4-1h0m-2-1h0m-2 0h0m-2-1h0m-7 3h0m-7 0h0m-5-1h0m-6 1h0m0 0h0m-3 0h0m0-1h0m-3 1h0m0 0h0m-3-3h0m-2 3h0m0-2h0m-2 1h0m-3 1h0m-1-4h0m-4 3h0m-1-1h0m0 0h0m-7-1h0m-11 3h0m0-1h0m-3 0h0m0-1h0m-8 1h0m0-1h0m0 1h0m-3-1h0m-2 1h0m-5 0h0m0-1h0m-13 2h0m0 0h0m-2-1h0m-5 0h0m-17 1h0m-4-1h0m-1 1h0m-3-1h0m-3 1h0m-8-2h0m-7 0h0m-1 0h0m-6 2h0m-2-2h0m0 2h0m-7 0h0m-15 0h0m0-2h0m0-2h0m0 0h0m-1 1h0m-1 2h0m0-1h0m-3-2h0m0 4h0m-2-3h0m0 1h0m-3-2h0m-2 0h0m-7 3h0m-1-1h0m-10 0h0m0 2h0m-1 0h0m-2-3h0m-2 3h0m0-3h0m-1 3h0m0-2h0m-1 1h0m-2-1h0m0 1h0m-3 1h0m0-2h0m0 0h0m-6 2h0m-8 0h0m-2-1h0m-1-1h0m0 2h0m-4-1h0m-3 0h0m0 0h0m-1 0h0m-2 0h0m-21-1h0m-2 0h0m0 2h0m-1-1h0m0-1h0m0 0h0m-3 1h0m-1 0h0m-1-1h0m-1 2h0m0-1h0m-1 1h0m-2-3h0m-3 3h0m-5 0h0m-7 0h0m-7 0h0m-3 0h0m-3-1h0m-13 1h0m-1-2h0m-3 2h0m0-2h0m-1 1h0m-3 0h0m-2-1h0m-2 1h0m-2 1h0m-2-1h0m-3 1h0m-1-1h0m-2 1h0m-13-1h0m-11 0h0m-6 1h0m-3 0h0m-8 0h0m-1-1h0m0 0h0m-6-1h0m-2 1h0m-1-1h0m-8 2h0m-1 0h0m0-2h0m-1 1h0m-2 1h0m0 0h0m-1-1h0m0 1h0m-3 0h0m0-1h0m-6 1h0m-1 0h0m-2 0h0m-1 0h0m0-2h0m0 0h0m-1 2h0m-1 0h0m-3-1h0m-2-2h0m-1 3h0m-4-2h0m-8 2h0m-1-2h0m0 0h0m-1 2h0m-9-3h0m-1 1h0m-3 1h0m0 1h0m-5 0h0m-1-1h0m-6 0h0m-2 0h0m-2 0h0m-2 0h0m-5 1h0m-8 0h0m-2 0h0m-1 0h0m-4 0h0m-1 0h0m-6-1h0m-2 1h0m-6-1h0m-1-1h0m-4 2h0m-6 0h0m-4-2h0m-5 1h0m-1 0h0m-3-1h0m-1-1h0m-3 2h0m-1-1h0m-2 1h0m-2 1h0m-1-2h0m-1 1h0m-2 1h0m-1-1h0m-6 1h0m-6-2h0m-1 2h0m-5-3h0m-3 1h0m-1-1h0m-8 2h0m-2-1h0m-2 2h0m-2 0h0m0-2h0m-1 0h0m-13 0h0m0 2h0m-10-2h0m-4-1h0m-7 2h0m-2 1h0m-12-1h0m-4 0h0m-9 0h0m-3-1h0m0 2h0m-1-2h0m-2 1h0m-4 0h0m-16-1h0m0 1h0m-12-8h0m-3 4h0m-3 4h0m-3 1h0m-3-3h0m0-1h0m-7 4h0m-1 0h0m-12-1h0m-10-2h0m0-3h0m-1 1h0m-4-1h0m0 4h0m-1-7h0m-1-2h0m-1-7h0m-3-4h0m-3 19h0m-5-14h0m0-3h0m-3 11h0m-1-12h0m-4 16h0m-3 2h0m-7-6h0m-2-1h0m-4-10h0m-2 12h0m-5 2h0m-3-12h0m-3 2h0m-2-5h0m0 11h0m-4 5h0m-8-9h0m0-7h0m0 8h0m-3 12h0m-4-16h0m-12 12h0m-5-17h0m-7 3h0m-3 7h0m-4-7h0m-1-3h0m-32 12h0m-11 0h0m-18 10h0m-7-15h0m-62-3h0m-112 9h0m243 10h0m4 0h0m7 3h0m1 4h0m8-6h0m4 8h0m0 4h0m3-4h0m13-3h0m7-2h0m5 2h0m9-1h0m1 1h0m7 4h0m8-4h0m3 4h0m3-7h0m3 5h0m9-3h0m1-4h0m1 4h0m0 5h0m6-4h0m1-5h0m3-1h0m5 8h0m9 3h0m1 0h0m0-9h0m2 6h0m1-7h0m5-1h0m4 6h0m1-2h0m0-3h0m4 9h0m2-8h0m1 6h0m0-6h0m4 9h0m3-1h0m4 0h0m0-4h0m5 6h0m2-3h0m1-3h0m1-5h0m2 9h0m3-4h0m1 6h0m0-1h0m2-8h0m0 3h0m0 6h0m1-10h0m0 10h0m3-10h0m3 8h0m1-4h0m2 1h0m0-7h0m0 11h0m1-9h0m0-1h0m1 2h0m1-3h0m2 5h0m1-3h0m0 6h0m1-6h0m3 11h0m2-10h0m0-2h0m0 3h0m6 5h0m2-5h0m0 0h0m1 2h0m2 0h0m1 6h0m0-12h0m3 6h0m0 6h0m2-2h0m1-2h0m3-2h0m3-6h0m2 10h0m0 0h0m1-8h0m1-2h0m1 10h0m2-10h0m2 11h0m4-11h0m3 6h0m0 4h0m0-1h0m1-1h0m1 1h0m1-6h0m0-2h0m1 2h0m1 2h0m0-3h0m2 9h0m0-4h0m1 5h0m0 0h0m1-1h0m3-5h0m1-1h0m1-1h0m2 1h0m0-3h0m1 9h0m0-3h0m1-5h0m0 1h0m0 7h0m0-11h0m0 5h0m1 3h0m0 4h0m1-9h0m0 1h0m1 7h0m0-7h0m3 2h0m0 0h0m2 5h0m1-6h0m0-2h0m1-3h0m1 3h0m0 2h0m1 1h0m1 2h0m2-2h0m1-6h0m0 7h0m1-7h0m1 12h0m0-2h0m0 1h0m2-9h0m1 2h0m0-3h0m3 9h0m0-5h0m3 1h0m0-4h0m6 1h0m0 4h0m0-6h0m0 7h0m2-3h0m0 4h0m0 1h0m0 1h0m1-3h0m0-1h0m0-4h0m1-1h0m1 8h0m0-10h0m0 3h0m0 1h0m2-1h0m0-2h0m0 6h0m2-3h0m0 2h0m1-2h0m1-4h0m1 0h0m0 6h0m3 4h0m0-8h0m0 8h0m1-7h0m0 8h0m0-10h0m1 4h0m0 2h0m1-1h0m1 0h0m0-3h0m0 4h0m0-5h0m0 0h0m1 9h0m1-2h0m0 1h0m1-1h0m1-1h0m0 1h0m0-1h0m1 1h0m0 3h0m0-7h0m2 4h0m0-7h0m1 5h0m0-5h0m1 6h0m1 3h0m0 0h0m0-7h0m1 4h0m1-8h0m0 6h0m0-4h0m2 9h0m1-10h0m1 1h0m1 6h0m0 0h0m0 1h0m0-4h0m2-1h0m0 0h0m0 1h0m1 4h0m0-2h0m1 2h0m0 2h0m0-11h0m1 12h0m0-2h0m1 1h0m0-1h0m0 3h0m1-2h0m0-3h0m0-6h0m0 5h0m0-5h0m0 6h0m0-6h0m1 6h0m0-1h0m1 5h0m2-8h0m0 2h0m0 5h0m1-4h0m1-5h0m3 1h0m1 0h0m0 5h0m0 3h0m1-4h0m1 3h0m0-7h0m0 5h0m1 3h0m0 0h0m1-1h0m1 2h0m0-1h0m0-5h0m0 1h0m0-4h0m1 6h0m0-6h0m2-3h0m0 0h0m0 11h0m0-6h0m0-1h0m0-2h0m1 8h0m0 0h0m2-9h0m0 2h0m0 4h0m1-2h0m1 4h0m0 3h0m0-9h0m1-3h0m0 4h0m0-1h0m1 0h0m1-1h0m0 5h0m0 4h0m0 0h0m1-4h0m1-6h0m0 10h0m2-7h0m0 6h0m1-5h0m1 0h0m0 1h0m0-4h0m0 5h0m2 6h0m1-7h0m0 3h0m1-4h0m2 7h0m1-2h0m0-7h0m1 2h0m1 2h0m1-5h0m1 10h0m0-4h0m1-1h0m0-1h0m1 0h0m1 0h0m0 4h0m0-4h0m1 3h0m0-1h0m0-5h0m1 0h0m0 4h0m0 3h0m1 1h0m0 0h0m0 1h0m0-4h0m1-6h0m0 8h0m1-1h0m0-2h0m1-6h0m0 2h0m1 4h0m1 0h0m0 2h0m1-6h0m0 7h0m1-5h0m0-2h0m0 2h0m0-4h0m0 9h0m1-2h0m1-8h0m0 8h0m1-2h0m0 2h0m0-7h0m0 8h0m1 2h0m0-4h0m0 0h0m0 1h0m1 2h0m0-3h0m1 2h0m0-9h0m0 1h0m1 9h0m1-2h0m1 3h0m1-5h0m0 2h0m0-3h0m0-3h0m0 3h0m2 0h0m1 1h0m0 0h0m1 1h0m0-1h0m1-4h0m0 4h0m0 3h0m0-6h0m1-1h0m0 5h0m0 3h0m0-7h0m0 1h0m0-3h0m3 6h0m1-5h0m0 0h0m0 1h0m0 1h0m0 1h0m3 0h0m0-1h0m0 1h0m1 2h0m0-3h0m1-4h0m0 9h0m0-3h0m1-2h0m0 0h0m0 8h0m2-2h0m0-8h0m1 0h0m0 0h0m1 5h0m0 1h0m1-3h0m1-5h0m0 10h0m0 1h0m0-3h0m1 1h0m0 4h0m0-13h0m0 11h0m1-2h0m1 1h0m0 2h0m1 0h0m0-9h0m1 7h0m0-5h0m0 4h0m2 3h0m1-4h0m0 3h0m0-11h0m1 2h0m1 3h0m0 5h0m0 3h0m0-3h0m1-3h0m1-4h0m0 7h0m0-4h0m2-4h0m0 8h0m1-2h0m1 1h0m2-6h0m0 9h0m1-3h0m0 1h0m0-5h0m1 2h0m0-3h0m1-1h0m0 8h0m1-7h0m2 2h0m0 4h0m2 1h0m0-9h0m0-1h0m0 1h0m0 9h0m2-7h0m1-3h0m0 9h0m0-6h0m1-1h0m0 6h0m0-2h0m0 4h0m0-11h0m1 6h0m0 2h0m0-7h0m1 0h0m0 3h0m1-4h0m0 0h0m1 0h0m1 12h0m1-10h0m0 9h0m0-11h0m1 9h0m0-4h0m0 3h0m1 0h0m0-8h0m0 4h0m1 3h0m0 1h0m0 0h0m0-8h0m1 1h0m1 2h0m0-2h0m2 5h0m0 6h0m0-5h0m1 0h0m0-1h0m1-3h0m1 4h0m0 1h0m0-5h0m2-3h0m0 9h0m0-2h0m1 4h0m0-4h0m1-4h0m0 6h0m0 2h0m2-5h0m0 5h0m0-3h0m0 1h0m0 3h0m2-2h0m0 2h0m2-12h0m2 9h0m1 2h0m0-10h0m1 4h0m1 4h0m0 3h0m0-11h0m0 11h0m1-9h0m0 7h0m0-3h0m0 1h0m1 4h0m0-7h0m2-5h0m0 1h0m2 7h0m0-6h0m0-1h0m0 3h0m1-2h0m1 0h0m0 9h0m1 0h0m0-5h0m0 5h0m0-10h0m1 1h0m1 0h0m1 10h0m2-6h0m2-2h0m0 1h0m0 5h0m1-9h0m1 5h0m0-2h0m0 3h0m0-7h0m1 9h0m0 3h0m1-7h0m1-3h0m0 7h0m0-2h0m0 1h0m1 5h0m0-13h0m1 4h0m0 6h0m1-4h0m0-5h0m2 9h0m0-8h0m1 2h0m0-2h0m0 2h0m2 4h0m1-7h0m0 3h0m1 1h0m1 2h0m0-2h0m0-1h0m1 0h0m1 7h0m0-10h0m1 7h0m0 1h0m1-4h0m1-2h0m0 7h0m0-1h0m1-4h0m0 0h0m0 3h0m0-8h0m1 2h0m1 2h0m0 6h0m1-8h0m0-2h0m0 2h0m0-1h0m0 0h0m1 1h0m1 3h0m0-3h0m0 5h0m0 0h0m0 5h0m1-11h0m0 4h0m1 0h0m0 0h0m1 2h0m1 3h0m1-7h0m1-2h0m0 5h0m1-2h0m0-4h0m0 9h0m1 1h0m1 0h0m0-1h0m0 3h0m1-12h0m0 11h0m2-10h0m0 8h0m1 1h0m0-7h0m1 9h0m1-11h0m1 2h0m0 3h0m1-1h0m0-2h0m2-3h0m0 10h0m1 1h0m1-11h0m0 5h0m2 5h0m1-3h0m0-4h0m0 2h0m0-1h0m2 0h0m1 3h0m0 3h0m0-2h0m1-5h0m0 5h0m0-6h0m1 4h0m1 4h0m0-7h0m1 4h0m0 3h0m0-10h0m2 5h0m0-3h0m2 6h0m1-7h0m0 6h0m1-3h0m1-4h0m1 2h0m1 0h0m0 6h0m1-4h0m1 0h0m0 8h0m0-9h0m1-3h0m1 12h0m0-9h0m1-1h0m1 5h0m0 4h0m0-3h0m2 2h0m1-1h0m1-9h0m0 2h0m1-1h0m1 8h0m0-5h0m0 0h0m2-4h0m1 3h0m0 9h0m1-1h0m0-2h0m0-4h0m4 0h0m1 1h0m1 5h0m0-1h0m0 2h0m2-6h0m1-3h0m0-1h0m1 6h0m0-4h0m0 4h0m1-6h0m2 8h0m0 2h0m2-10h0m0 0h0m0-1h0m1 3h0m0 0h0m1 2h0m0 0h0m0-2h0m0 8h0m1 0h0m0-4h0m1 3h0m1-9h0m0 8h0m1 2h0m0-9h0m1 3h0m1 1h0m0 1h0m1-5h0m0 8h0m1-10h0m0 9h0m2 1h0m0-3h0m1-5h0m1-1h0m0 4h0m0-5h0m1 5h0m1 2h0m1-2h0m1-3h0m1 8h0m0-4h0m2-7h0m0 1h0m1 8h0m1-1h0m0-1h0m1-4h0m2 3h0m1-6h0m1 10h0m1-2h0m0-6h0m0-2h0m1 1h0m1 5h0m2 3h0m0 1h0m1-4h0m1 4h0m0-5h0m1 2h0m2 3h0m0-5h0m0-2h0m2 2h0m1-5h0m0 3h0m0 6h0m1-6h0m3 1h0m0 7h0m1-4h0m0-4h0m0 3h0m1 4h0m0-3h0m1-5h0m1 5h0m0 1h0m1 0h0m1-3h0m1-1h0m1 4h0m1-7h0m1 1h0m1 3h0m1 3h0m1-7h0m1 1h0m0 1h0m0-3h0m2 9h0m0 1h0m1-10h0m2 12h0m0-6h0m1 4h0m0-4h0m2 4h0m1-3h0m0-6h0m0 9h0m2-4h0m1 2h0m0 2h0m1-4h0m1 5h0m1-2h0m0 1h0m2 2h0m0-2h0m1 2h0m0 0h0m1-12h0m1 9h0m1-7h0m1 9h0m1-6h0m0-5h0m1 12h0m0-1h0m2 1h0m2-4h0m1-8h0m0 2h0m1 3h0m2 0h0m0 0h0m6 2h0m1 4h0m2-1h0m0-9h0m1 9h0m2 2h0m1-5h0m1-5h0m0 0h0m0 1h0m1 10h0m0-3h0m4-10h0m0 3h0m1 0h0m1 4h0m0 0h0m1-5h0m0 9h0m1-11h0m0 10h0m1-5h0m0 4h0m0 0h0m1-4h0m3-5h0m0 12h0m0-11h0m2 2h0m1 1h0m1-3h0m3 4h0m0 1h0m0-6h0m2 0h0m1 12h0m0-10h0m1 2h0m0 0h0m1-1h0m0 2h0m0 5h0m2 0h0m0-7h0m0 1h0m1 3h0m0-3h0m0-1h0m1 0h0m0 4h0m0-1h0m2 6h0m0 0h0m1-11h0m3 2h0m3 5h0m0 4h0m1-9h0m0-2h0m1 2h0m1 9h0m1-11h0m1 11h0m1 0h0m0-11h0m2 7h0m0-6h0m0 5h0m1 3h0m2-9h0m1 10h0m1-11h0m1 10h0m1-1h0m0-3h0m1-3h0m2 7h0m0-1h0m1 2h0m0-5h0m1 1h0m1-1h0m0 1h0m1-4h0m1 3h0m0 6h0m2-9h0m1 2h0m2 0h0m1-2h0m0 4h0m1-3h0m0 3h0m2-4h0m0 7h0m3-4h0m2-2h0m1 4h0m1-6h0m2-1h0m0 0h0m0 10h0m1 0h0m1-11h0m0 1h0m6 0h0m2-1h0m0 1h0m0 2h0m1-3h0m2 2h0m0 6h0m0-1h0m4-2h0m0 3h0m1 2h0m0-1h0m1 3h0m0-8h0m0 8h0m2 0h0m2-6h0m2 0h0m2-2h0m1 8h0m1-3h0m0 2h0m1-6h0m0 3h0m1-2h0m0 6h0m0-10h0m1 6h0m1-4h0m0 0h0m2 1h0m0-3h0m1 6h0m1-3h0m0 4h0m1 2h0m1-5h0m1 1h0m0-1h0m1 1h0m1-1h0m0 6h0m1-2h0m2-9h0m2 10h0m0-3h0m1-6h0m0 9h0m0-7h0m0 0h0m0 6h0m1-6h0m0 3h0m0-6h0m1 9h0m0-3h0m1-4h0m1 6h0m0-8h0m0 11h0m0-6h0m2 0h0m1 6h0m1-8h0m2 2h0m0 3h0m1-3h0m3 3h0m0-5h0m2 0h0m2 2h0m0 1h0m0-7h0m3 5h0m0-4h0m2 10h0m1-8h0m0 7h0m1-3h0m0-1h0m1-5h0m1 7h0m1-4h0m0 7h0m1-3h0m1 4h0m0-5h0m0 5h0m0 0h0m1-2h0m1-2h0m3-5h0m0 2h0m0 0h0m1-2h0m0 10h0m0-1h0m1-12h0m2 8h0m1 3h0m0-8h0m0-3h0m0 2h0m1 5h0m0 4h0m0-11h0m1 2h0m0 8h0m0-4h0m0 1h0m0 1h0m1 3h0m2-8h0m1 4h0m1 4h0m0-4h0m0-3h0m0 1h0m1-2h0m1-3h0m0 12h0m2-2h0m0-4h0m1-5h0m1 7h0m1-2h0m2-1h0m2 3h0m0-2h0m4 2h0m1-5h0m1 6h0m0-3h0m1-1h0m0-1h0m1-2h0m0 1h0m2 4h0m1 3h0m0-1h0m0-3h0m0-5h0m2 11h0m0 1h0m1-9h0m0 1h0m0 5h0m1-10h0m0 9h0m0-3h0m1-1h0m0 2h0m1-2h0m0-3h0m1 3h0m2 4h0m0-9h0m0 1h0m1 4h0m1 8h0m0-12h0m2 7h0m0 0h0m2-4h0m0-4h0m0 3h0m1 5h0m1 0h0m2 0h0m1-5h0m0 8h0m0-4h0m3 1h0m0-3h0m1 7h0m0-1h0m0-2h0m0-9h0m1 1h0m0 4h0m0-3h0m1 9h0m0-8h0m0 1h0m1-2h0m0 4h0m1 0h0m0-4h0m0 0h0m0 5h0m1-1h0m0 4h0m1-5h0m0-2h0m1 0h0m2 7h0m1-1h0m0 0h0m2-3h0m3 6h0m0-7h0m1 4h0m1-5h0m0 2h0m1 4h0m1 1h0m2-9h0m0 9h0m1-1h0m0-10h0m1 11h0" stroke="#a0a0a4" stroke-width="14.4" stroke-linecap="round" fill="none"/><path transform="scale(.5)" d="M1413 4293l-4-5l-10-3l-11 4l-6 9l-5-2l2-14l-7-15l0-11l-4-5l-9-3l-11 2l-6 4l-3 6l-6-6l-1-8l-4-5l-14-4l-12 4l-3 4l-6 0l-8 6l-5-6l-9-3l-11 1l-7 5l-25 0l-7-5l-10 0l-8 7l-1 11l-2 2l-19 1l-6 4l-4 7l-8 2l-29-6l-9 3l-5 6l-14 3l-4 5l-3 12l-9 5l-4 5l-2 26l-12 6l-3 10l-7 7l-1 33l-4 2l-23 1l-6 4l-3 6l1 30l-2 11l5 18l13 6l0 37l8 7l37 2l252 0l22-7l5-8l0-10l8 7l5 1l9-3l5-8l0-15l2-3l19-1l7-6l13-3l5-8l-2-19l-6-9l9-8l0-12l-9-8l-19 0l7-7l1-7l6-3l5-6l1-9l-2-9l-9-8l-14-1l-8-4l5-8l0-17l10-15z" fill="#00fb00" fill-rule="evenodd"/><path transform="scale(.5)" d="M1665 3702h0m-257 91h0m-103 75h0m-67 35h0m141-3h0m40-2h0m-57 32h0m-52-5h0m-135 29h0m141-18h0m67 12h0m22 4h0m52 31h0m-245-4h0m48 15h0m22 6h0m37-1h0m14 3h0m27-1h0m48-17h0m111 21h0m-76 7h0m-14 19h0m-55-2h0m-58-9h0m-34 11h0m-7-21h0m-67 6h0m-125 14h0m-132-16h0m204 22h0m7-4h0m4 22h0m4-12h0m23 10h0m26-16h0m5 8h0m20 8h0m2-15h0m3 8h0m3-12h0m24 5h0m91 13h0m83-4h0m-11 17h0m-75-7h0m-23 0h0m-8 0h0m-9 21h0m-7-10h0m0 9h0m-29-18h0m-4 2h0m-12 17h0m-1-2h0m0-5h0m-6-3h0m-6 6h0m-13-1h0m-9-15h0m-39 16h0m-30 5h0m-67-16h0m-77 12h0m-26-17h0m-7 25h0m13 12h0m131-9h0m18 5h0m33 7h0m28-6h0m0 11h0m1-3h0m29 2h0m1-21h0m18 19h0m8 3h0m16-9h0m2-6h0m6 2h0m6-2h0m9-6h0m5 18h0m3-11h0m1 1h0m6 11h0m100-16h0m1-3h0m147 40h0m-55-11h0m-2-3h0m-45 8h0m-5 3h0m-20-3h0m-15 10h0m-4-5h0m-16-14h0m-15 7h0m-7-8h0m-16 2h0m-2 15h0m-51 2h0m-9-3h0m-6-18h0m-11 20h0m-4-9h0m-1 0h0m-23 0h0m-2-4h0m-3 14h0m-3-6h0m-5 1h0m-28-3h0m-14 8h0m-4-10h0m-17-7h0m-13 11h0m-2-14h0m-2 19h0m-27-12h0m-2 11h0m-3-13h0m-16 2h0m-46 0h0m-53-7h0m-13 21h0m-83 1h0m98 12h0m20 11h0m86-21h0m8 22h0m4-19h0m2 6h0m8 11h0m5-3h0m15-11h0m5 12h0m4-15h0m8 12h0m6-12h0m14 16h0m1-10h0m7 1h0m11 12h0m6 0h0m9-1h0m4-9h0m4-2h0m1 3h0m0-12h0m1 17h0m3-13h0m0 0h0m4 2h0m1 11h0m7-8h0m3 10h0m1-16h0m0 11h0m0-1h0m7 1h0m1-16h0m0 1h0m1 5h0m1-6h0m18 9h0m1-9h0m2 13h0m10 1h0m0-12h0m4 1h0m10 9h0m2-10h0m0 5h0m13 7h0m12 4h0m31-18h0m29 14h0m7 6h0m2-1h0m0-16h0m24-2h0m6 1h0m3 14h0m3-2h0m17-3h0m53 11h0m-76 3h0m-12 0h0m-9 5h0m-2 3h0m-18 13h0m-13-10h0m-10 2h0m-11 9h0m-4-8h0m-6-6h0m-7 14h0m-5-21h0m-9 13h0m-8-10h0m-5 0h0m-21-3h0m-4 20h0m-3-21h0m0 4h0m-2 4h0m0-7h0m0 5h0m-1 14h0m-1-7h0m-6 7h0m-1-19h0m-10-2h0m-2 23h0m-6-20h0m-3 4h0m0-1h0m-3 11h0m-1 4h0m-9-11h0m-5-7h0m-1-2h0m-14 14h0m-4-9h0m-18 1h0m-3-1h0m-1 0h0m-5 6h0m-4 4h0m0-1h0m-4 1h0m-6-1h0m-1-8h0m-4 1h0m0-7h0m-1 2h0m-13 17h0m-3-14h0m-3 17h0m-18-18h0m-13 11h0m-24-7h0m-3 1h0m-4 11h0m-31-1h0m-2-7h0m-7-3h0m-2 8h0m-66-12h0m-26 4h0m-4 5h0m-15 5h0m22 16h0m15 8h0m19-9h0m3-6h0m0-5h0m20 21h0m17-10h0m1-4h0m4 11h0m8-7h0m4 2h0m2 7h0m12-18h0m14 3h0m24-3h0m7 7h0m13 1h0m1-3h0m10 6h0m10-12h0m8 18h0m1 2h0m1-8h0m0 10h0m11-13h0m0 11h0m1-13h0m9-8h0m1 20h0m2-14h0m2 17h0m6-16h0m0 4h0m2-2h0m1 8h0m5-13h0m4 17h0m5-11h0m10 12h0m6-18h0m2 17h0m1-11h0m1 6h0m4-1h0m2 0h0m0-4h0m0-1h0m6 10h0m5-19h0m2 1h0m4 8h0m1 2h0m2-12h0m1 22h0m2-2h0m8-1h0m1-8h0m1 11h0m4-2h0m3 2h0m0-9h0m0 3h0m1-10h0m1 1h0m3 3h0m0-1h0m3 6h0m1-11h0m1-4h0m3 14h0m6-12h0m1 19h0m1-7h0m2-11h0m2-1h0m1 1h0m2 0h0m3 19h0m1-15h0m1-1h0m5 6h0m1 7h0m0-14h0m3 5h0m1-2h0m0 2h0m1-4h0m0 13h0m2-8h0m1 6h0m2-17h0m7 23h0m2-11h0m2 4h0m1 0h0m3-1h0m2-12h0m2 2h0m2-2h0m10 4h0m4 1h0m1 10h0m4-4h0m1 6h0m0-15h0m3 18h0m7-18h0m9 0h0m26 9h0m3 8h0m4-7h0m1 6h0m1-11h0m20-1h0m6-2h0m2 15h0m1-12h0m5 9h0m5-2h0m7 2h0m6-18h0m2 12h0m13 9h0m23 21h0m-20-19h0m-8 2h0m-36 14h0m-6-6h0m-19-1h0m-23-9h0m-1 4h0m-2-1h0m-9 18h0m-17-21h0m-2 21h0m-4-9h0m-3-1h0m-12 1h0m-3 1h0m0-12h0m-1 15h0m-4-16h0m-2 8h0m-5 3h0m-3 5h0m-2-15h0m-1 9h0m-2-6h0m-1-3h0m-1 8h0m0 11h0m-15-10h0m-3 8h0m-2 4h0m-1-8h0m-8-8h0m-5-6h0m-1 5h0m0 4h0m-1 12h0m-6-9h0m-1-10h0m-2 12h0m-3 3h0m0 1h0m-3-6h0m-3-6h0m-2 10h0m-4-4h0m-6 7h0m0-15h0m-3 11h0m-1-7h0m0 4h0m0-1h0m-3-4h0m-2 9h0m-1-14h0m0-2h0m0 18h0m-2-3h0m-2-9h0m0 12h0m0 4h0m-1-16h0m0 14h0m-2-11h0m-6 14h0m-1-21h0m-1-2h0m-1 3h0m0 16h0m-3-7h0m-2-8h0m-3 5h0m0 10h0m-7-14h0m-2 14h0m-1-1h0m-2-7h0m-7-1h0m0 11h0m-1-11h0m-1 13h0m-1-19h0m-2 16h0m-1-13h0m-3 14h0m0-7h0m-4 3h0m0-5h0m0 3h0m-5-14h0m-2-1h0m-8 21h0m0-3h0m-3 4h0m-3-9h0m-2-8h0m0 8h0m-3 5h0m0-15h0m-13 0h0m-1 13h0m0 4h0m-1-11h0m-3 4h0m0-4h0m0-6h0m-2-1h0m-3 1h0m-1 13h0m0 1h0m-1-2h0m-3-7h0m0-1h0m-6 14h0m-3-10h0m-1-2h0m-9-6h0m-14 19h0m-5-19h0m-4 5h0m-2 2h0m-5 0h0m-6 13h0m-4-1h0m-5-14h0m-4 1h0m0 1h0m-19 7h0m-5 4h0m0-17h0m-12 16h0m-20-6h0m-12-10h0m-5 19h0m-75-13h0m-33 7h0m22 30h0m25-11h0m34-5h0m42 7h0m6-8h0m12 4h0m11 0h0m11 0h0m9 8h0m9 5h0m3-7h0m8 6h0m5-3h0m0-8h0m4 6h0m1-3h0m8 8h0m1-10h0m6-11h0m2 18h0m2-11h0m0-2h0m2 5h0m1 7h0m1-8h0m2-4h0m1-5h0m1 12h0m0 1h0m1-7h0m0 2h0m4-9h0m1 19h0m2-8h0m1 5h0m0 3h0m2-10h0m2 5h0m3 0h0m3 2h0m1-3h0m0-6h0m7 8h0m1-11h0m1 8h0m2-7h0m3 11h0m1 4h0m1 2h0m0-3h0m9-11h0m4-2h0m5-6h0m2 8h0m2 3h0m0 1h0m1 4h0m5-16h0m1 3h0m0 19h0m3-22h0m0 9h0m4 9h0m2-13h0m2 11h0m0-13h0m0 1h0m0 10h0m6 3h0m1-15h0m0 3h0m1 18h0m4-3h0m2-19h0m0 13h0m1-7h0m0 2h0m1-4h0m2 5h0m2-3h0m0-3h0m1 14h0m0-5h0m2-2h0m1-8h0m0 11h0m1 7h0m0-1h0m2 0h0m4-1h0m2 4h0m9-7h0m0-7h0m3 1h0m0 1h0m2 12h0m3-17h0m1-4h0m1 7h0m0 7h0m0 6h0m1-10h0m6 6h0m0-7h0m0 7h0m0-6h0m1 4h0m5-5h0m3 5h0m0-3h0m2 6h0m6-9h0m0 6h0m1-9h0m2-2h0m0 3h0m5 12h0m1 2h0m0-19h0m3 17h0m0-18h0m1 18h0m6-6h0m1-6h0m0-2h0m1 1h0m1 9h0m0-5h0m9 5h0m2-4h0m2 9h0m0-2h0m1-10h0m1 6h0m0-10h0m2 18h0m11-17h0m0 6h0m2 2h0m2 1h0m4 6h0m4-18h0m2 10h0m0 5h0m0-12h0m1 9h0m0-7h0m1-7h0m2 11h0m4 3h0m2 4h0m7-10h0m1-9h0m4 13h0m1-3h0m0 13h0m7-17h0m2 7h0m3 3h0m4 3h0m0-17h0m1 4h0m2-4h0m1 11h0m8-5h0m2-1h0m1 15h0m0-9h0m2 4h0m1-2h0m1-12h0m4 16h0m5-4h0m3-14h0m5 13h0m2-9h0m3 11h0m8-5h0m15-3h0m26 13h0m3-14h0m20 3h0m0 3h0m17-8h0m13 15h0m169 17h0m-68 5h0m-65-13h0m-8-2h0m-46 13h0m-6-3h0m-14-9h0m-1 3h0m-33 9h0m-4 0h0m-8-7h0m0-8h0m-8 20h0m-1-19h0m-10-1h0m-5 18h0m-2-16h0m-3 13h0m-5-11h0m-1 10h0m-1 4h0m-2 4h0m-1-20h0m-3 9h0m-1 10h0m-4-16h0m-2 3h0m0 10h0m-1 2h0m0-2h0m-1 4h0m-1-22h0m-1 5h0m0 14h0m-7 1h0m-1 0h0m-3-3h0m-1-11h0m-3 3h0m-10 2h0m-3 9h0m-1-14h0m-1 0h0m-2-7h0m-2 7h0m-7 2h0m-5 0h0m-1 5h0m0-8h0m-3-2h0m-12 9h0m-3-12h0m-2 3h0m0-4h0m-1 0h0m-33 6h0m-7 4h0m-7-6h0m-2-2h0m-17 0h0m-6 4h0m-1-1h0m-6 0h0m-3 1h0m-2 0h0m-6-3h0m-2 4h0m0 0h0m-3-1h0m-1 1h0m-20-3h0m-1 5h0m-2-2h0m0-7h0m-1 13h0m-1-5h0m0-6h0m-1 16h0m-1-14h0m0-1h0m0 13h0m0 1h0m-4-14h0m0 8h0m-1-8h0m0 2h0m-2 5h0m0 5h0m-1-3h0m-2 4h0m-2 2h0m-2-1h0m-2-3h0m-1-4h0m-6-5h0m0 4h0m0 7h0m0-2h0m0-11h0m-2 1h0m-1 11h0m0-5h0m-1-2h0m0 14h0m-2-6h0m0-8h0m-4 13h0m-2-5h0m-2-12h0m-7-4h0m-2 22h0m-1-16h0m-4 12h0m-2-2h0m-1-4h0m-2 3h0m-1 1h0m-2 6h0m0-1h0m-1-10h0m-2 1h0m-1 2h0m-6 2h0m-14-5h0m0-4h0m0 15h0m-1 0h0m0-6h0m-5-16h0m-1 6h0m-13 17h0m-3-19h0m-1 14h0m-4-14h0m-1 18h0m0-7h0m-6-10h0m0 14h0m-3 0h0m-16-6h0m-3-13h0m-3 17h0m-7-12h0m-12 0h0m-2 5h0m-1 8h0m-2-1h0m-27 4h0m-8-12h0m-16 9h0m-33-2h0m-2 0h0m-220 29h0m180-18h0m26 4h0m2 13h0m2-13h0m56 4h0m11-11h0m10 8h0m1 9h0m6-6h0m20-10h0m1 18h0m3-9h0m2 2h0m2 6h0m1-2h0m9 4h0m6-18h0m1 5h0m7-2h0m17 15h0m1-3h0m1-10h0m3 9h0m3-12h0m4 4h0m4 10h0m2-2h0m0-14h0m5 9h0m0-3h0m2-7h0m0 11h0m0-4h0m1-4h0m1 6h0m5-1h0m1 3h0m0-6h0m1 0h0m6 1h0m4-7h0m0 5h0m2 1h0m0-6h0m5 2h0m2 1h0m2-1h0m5 2h0m1-2h0m3 4h0m7 6h0m1 0h0m4-2h0m5-4h0m1 1h0m2-1h0m193 17h0m4-20h0m7 2h0m0 7h0m1 4h0m0-15h0m2 9h0m8-5h0m3-5h0m2 19h0m1-2h0m3-13h0m9 12h0m1-5h0m4 11h0m0-10h0m8-11h0m3 18h0m2-15h0m9 7h0m8 7h0m3-18h0m0 0h0m0 4h0m6 1h0m3 11h0m1 5h0m5-17h0m5 15h0m6 4h0m5-16h0m37 9h0m31-13h0m1-1h0m50 12h0m52-5h0m-74 28h0m-27 5h0m-70 1h0m-10-3h0m-4-14h0m-7 2h0m-17 13h0m-17-14h0m0 9h0m-3 7h0m-5-16h0m0 17h0m-2-19h0m-1 3h0m0-3h0m-3 15h0m0 7h0m0-2h0m-1-11h0m-1 4h0m-1-5h0m0 10h0m-8 2h0m-8-21h0m-12 7h0m-273 1h0m-2-5h0m-1 4h0m-1 2h0m-1 2h0m-1-6h0m-7 7h0m-2 0h0m-1-9h0m-3 15h0m-5 3h0m-2-20h0m-2 8h0m-5 2h0m-5-6h0m-4 0h0m-2 15h0m-1 2h0m-5-1h0m-1-19h0m0 17h0m-8 0h0m-3 3h0m-8-21h0m-1 10h0m-11-8h0m-6 13h0m-4 4h0m-8-4h0m-1-5h0m-7 9h0m-37-10h0m-7-2h0m-66 37h0m40-17h0m13 2h0m0 5h0m2-5h0m31 8h0m0-14h0m2 15h0m22-2h0m2-11h0m23 15h0m1 2h0m3-19h0m3 14h0m3 9h0m2-9h0m3 5h0m4-9h0m1-1h0m0-2h0m3 1h0m1 15h0m6-18h0m3 5h0m3-10h0m4 6h0m1 6h0m1 4h0m0-4h0m8 10h0m0 1h0m0-4h0m2-4h0m3-14h0m1 18h0m0-6h0m1 1h0m0-14h0m0 17h0m3 0h0m5 0h0m1-10h0m3 2h0m0-8h0m307-1h0m1 11h0m3-2h0m1 2h0m4 5h0m0-16h0m0 12h0m0-1h0m1-10h0m0 0h0m0 13h0m1 0h0m2-9h0m0 16h0m5 2h0m7-5h0m10 5h0m4-15h0m2 8h0m5-15h0m1 20h0m2-2h0m0-17h0m4 20h0m3-18h0m9 9h0m3 10h0m1-16h0m3 11h0m6-14h0m3-2h0m9 5h0m4 14h0m3-19h0m3 17h0m4-5h0m2-7h0m1 15h0m40-1h0m50-20h0m94 5h0m-45 38h0m-37-4h0m-35 0h0m-5 4h0m-6-18h0m-37 10h0m-24 6h0m-11-2h0m-15 4h0m-4-10h0m-2-7h0m-3-2h0m-1 0h0m-1 12h0m-3 0h0m-6-12h0m-1 7h0m-2 6h0m-8 6h0m-3-6h0m-2-7h0m-1 14h0m0-1h0m-6-1h0m0 1h0m-3 1h0m-2 0h0m-1-9h0m-4-9h0m-3-3h0m-1 7h0m-14-5h0m-6 0h0m-317-1h0m-9-1h0m-1 2h0m-4 8h0m-4 8h0m-2-1h0m-1 2h0m-2-15h0m-2 6h0m-1 7h0m-2-6h0m-3-7h0m-7 12h0m0-10h0m-4 1h0m-2 16h0m-9-8h0m-3-7h0m-17 4h0m-8-11h0m-29 8h0m-2-2h0m-5-2h0m-9-4h0m-20 2h0m-2 11h0m-16-3h0m-67 29h0m10 6h0m6 1h0m45-18h0m17 12h0m4-5h0m1-10h0m4-2h0m7 15h0m9-14h0m3 19h0m19-12h0m0 0h0m0 12h0m3-6h0m7-11h0m9 17h0m5-14h0m6 15h0m2-3h0m1-1h0m7 6h0m1 0h0m2-11h0m1-8h0m0-2h0m2 18h0m1-3h0m2-4h0m2-3h0m1 13h0m2-7h0m1 1h0m2 0h0m2 5h0m0-10h0m3 5h0m0 1h0m1-17h0m5 18h0m4 2h0m1-19h0m3 20h0m5-4h0m0-2h0m1-7h0m0 6h0m1-1h0m0-3h0m1 12h0m3-19h0m1-4h0m3 18h0m1 0h0m2-11h0m341 15h0m3-4h0m2-2h0m1 3h0m4-7h0m3 6h0m3 4h0m1-9h0m1-9h0m1 13h0m0-7h0m2 5h0m1 0h0m2-1h0m9 1h0m2-4h0m0 1h0m1-10h0m8 11h0m9-4h0m0 5h0m13-12h0m6 10h0m0 7h0m7 2h0m3-13h0m9-5h0m0 9h0m1-8h0m1 4h0m24 12h0m16 2h0m44-12h0m7 6h0m10 1h0m100-5h0m-172 30h0m-17-6h0m-1 6h0m-4-2h0m-4-2h0m-1-3h0m-2-8h0m-7 16h0m-4-8h0m-5-5h0m-3 6h0m-1-4h0m-2 7h0m-1-13h0m-1 1h0m-7 4h0m-3 2h0m-7 6h0m0-7h0m-3 0h0m-2 14h0m-1-2h0m-2-2h0m-2-2h0m-2 7h0m-3-19h0m0 14h0m-2-3h0m-1 8h0m0-6h0m-7-2h0m-1-13h0m-1 3h0m0 2h0m-7-1h0m-11 5h0m-352-4h0m-3-7h0m-3 6h0m0-6h0m-1 6h0m0 3h0m-1 0h0m-1-3h0m0-3h0m-8 2h0m-12-1h0m-2-3h0m-3 10h0m0 2h0m-2 8h0m-9-19h0m-2 6h0m0 15h0m-2-8h0m-7-13h0m-1-1h0m-2 16h0m-1-10h0m-3 6h0m-1-8h0m-1 5h0m-5-1h0m-2 10h0m0-10h0m-2 3h0m0 5h0m-12-10h0m-2 2h0m-2 0h0m-1 4h0m0 10h0m-12-19h0m-6 3h0m-86-1h0m-12-5h0m-16 17h0m-44-17h0m66 44h0m4-19h0m14 9h0m22 1h0m12 10h0m7-8h0m7 9h0m16-5h0m11-12h0m0 1h0m1-3h0m10-4h0m24 5h0m1 14h0m1 0h0m2-10h0m1-8h0m2 5h0m0-6h0m6 20h0m0-20h0m3 13h0m4 1h0m2 1h0m4 6h0m4-3h0m1 1h0m0-15h0m2 3h0m2-6h0m1-1h0m2 23h0m1-19h0m0 12h0m397-14h0m4 14h0m6 0h0m1 0h0m1 2h0m0 1h0m0 3h0m1-6h0m0-13h0m2 13h0m3 3h0m3-4h0m4-5h0m0-10h0m3 16h0m1-6h0m0 4h0m2-1h0m2-9h0m5 14h0m5-12h0m2-6h0m11 10h0m4 8h0m1-18h0m8 6h0m6 1h0m6 9h0m5 5h0m15-9h0m3-11h0m1 7h0m5 8h0m45-8h0m2 3h0m-50 32h0m-27-6h0m-8 8h0m-15-20h0m0 12h0m-2 6h0m-15 0h0m-1-13h0m-1 0h0m-14 3h0m-3 4h0m-1 2h0m-3 6h0m-3 2h0m-3-16h0m0-1h0m-1 11h0m-5-3h0m-5 3h0m-1 5h0m-1 1h0m-1-1h0m-2-1h0m-1 2h0m-7 0h0m-10 0h0m-369-1h0m-4-12h0m0 11h0m0-8h0m0 10h0m-1-5h0m0-8h0m0-1h0m-1 11h0m-1 3h0m-1-13h0m0 2h0m-2-7h0m-6 11h0m0 2h0m-8-16h0m-1 11h0m-2-6h0m-2 8h0m-2-5h0m-1 13h0m-1-16h0m-3-4h0m0 6h0m0 4h0m-4 5h0m0-12h0m0-1h0m-5 8h0m-5 4h0m-1-10h0m-3 9h0m-2-7h0m-2 0h0m0 5h0m0-7h0m-17 14h0m-12-11h0m-22-2h0m-5 3h0m-15 5h0m-31-4h0m-3 9h0m-29-4h0m-45-16h0m14 40h0m36-7h0m28-9h0m20 18h0m31-8h0m1-1h0m6 7h0m4 3h0m3-2h0m0 0h0m9-10h0m15-8h0m7 7h0m3 12h0m3-8h0m1-4h0m8-6h0m5 1h0m4 17h0m2-8h0m1-2h0m2-2h0m1 4h0m1 5h0m4-10h0m2 9h0m1 5h0m1-4h0m1-5h0m3 2h0m0-5h0m2-2h0m0 1h0m1-1h0m0 17h0m2-8h0m1-5h0m2-5h0m1 3h0m3-8h0m3 4h0m1 5h0m2-3h0m1-2h0m0 0h0m3 13h0m3-15h0m0-2h0m0 13h0m0 5h0m1-18h0m1 23h0m1-14h0m0-3h0m1-2h0m0 19h0m1-17h0m1 7h0m1-3h0m1 9h0m0 1h0m317 1h0m7 2h0m13 0h0m2-17h0m0 16h0m0-7h0m1 5h0m0-16h0m1 0h0m1 10h0m3 8h0m1-18h0m0 3h0m1 4h0m0-1h0m0 3h0m2-11h0m1 15h0m1-4h0m0 5h0m1-3h0m2-14h0m4 1h0m4 7h0m0-4h0m4-3h0m0 10h0m2 10h0m3-15h0m1 10h0m0 5h0m5-8h0m3-13h0m2 2h0m3 19h0m2-19h0m7 5h0m0-7h0m5 1h0m3 6h0m8-3h0m1-4h0m10 16h0m3 3h0m4 1h0m0 0h0m0-11h0m1 13h0m9-12h0m0-8h0m1 5h0m3-4h0m7-4h0m27 7h0m7-7h0m18 21h0m24-18h0m-10 37h0m-11 5h0m-11-13h0m-43-3h0m-12 5h0m-3 7h0m-2-15h0m-1 4h0m-4 0h0m-5 4h0m0 12h0m-1-22h0m-1 3h0m-2 17h0m-7-7h0m-1-11h0m-1 11h0m-1-6h0m0 9h0m-3-13h0m-1 20h0m-2-7h0m-7-6h0m-4 10h0m0-6h0m0-4h0m0 11h0m-2-18h0m0-2h0m-1 7h0m-1-5h0m0-3h0m-2 9h0m-3 8h0m0 6h0m-1-2h0m-1-1h0m-2-3h0m-1-3h0m-2-10h0m-2 5h0m0 0h0m-1-7h0m-3 20h0m-1-10h0m-1 8h0m-1-1h0m-2 0h0m-2-7h0m0-6h0m-2 3h0m-1 6h0m0 2h0m-2 5h0m-6-4h0m-1-15h0m-1 13h0m-1 1h0m0 2h0m-2-14h0m-1 17h0m0-3h0m-1-19h0m-1 12h0m-1-8h0m-1-2h0m0-2h0m-1 1h0m-1 11h0m-2 11h0m0-9h0m-3-11h0m0 0h0m-1 18h0m-1-5h0m0-4h0m0 11h0m0-19h0m0 2h0m-1 0h0m0 6h0m-2-9h0m-1 4h0m-1 8h0m-1 0h0m0-3h0m0-9h0m-1 3h0m-2 6h0m-1 10h0m0-1h0m-2-1h0m-2 3h0m-1-3h0m-2 1h0m-2-5h0m0 0h0m0 1h0m-4-9h0m0-1h0m0 5h0m-1 6h0m0 5h0m-1-8h0m0 7h0m-1-6h0m-1 3h0m-3 0h0m-1 2h0m-2-2h0m0 2h0m-4-2h0m-3 4h0m-10-1h0m-2 0h0m-6-1h0m0 2h0m-1-2h0m-2 1h0m0 0h0m-1 0h0m-2 1h0m-5 0h0m-9-2h0m-3 1h0m-1 0h0m-5 0h0m-1 1h0m-1-1h0m0 0h0m-4 1h0m0 0h0m-1 0h0m-8 0h0m-8-1h0m-1 1h0m-1 0h0m-6 0h0m-2-1h0m-6-1h0m-3 0h0m-1 2h0m-1 0h0m-1 0h0m0 0h0m-1 0h0m-1-2h0m0 1h0m-3-1h0m0 2h0m0 0h0m-2-1h0m-2 0h0m0-1h0m0 1h0m-1 0h0m-1 1h0m-2-1h0m0 0h0m-1 0h0m-4-1h0m-1 2h0m-1-1h0m0-1h0m-2 0h0m-4 0h0m0 2h0m0-1h0m-6 1h0m-1 0h0m-5 0h0m-1-2h0m-3 1h0m-3 0h0m0-1h0m-4 0h0m0 0h0m-5 0h0m-3 0h0m-2 2h0m-7 0h0m-2-1h0m-1-1h0m-1 2h0m0-2h0m-7 1h0m0 0h0m-2 0h0m0 0h0m-1 0h0m-4 1h0m-1-1h0m-1 0h0m-5-1h0m0 1h0m-2 0h0m-2 0h0m-1 0h0m-1-1h0m-4 2h0m-2-1h0m-1 1h0m-1-1h0m-1 0h0m-1-1h0m-3 2h0m-2-2h0m-1 1h0m-1 0h0m-5 1h0m-3-1h0m-3 0h0m-1-1h0m-6 0h0m-3 2h0m-3-2h0m-2 1h0m0-1h0m-1 1h0m-5 1h0m-3 0h0m-2-2h0m-3 1h0m-14-1h0m-8-1h0m-3 3h0m-3-2h0m0 0h0m-2-1h0m-8 3h0m-6-5h0m-3-9h0m-1 3h0m-1-8h0m0 12h0m-1 0h0m0-13h0m0 20h0m-1-2h0m0 2h0m-2-12h0m0 6h0m-1 4h0m-1-8h0m0-12h0m-1 11h0m0 3h0m-1 4h0m0 2h0m0-16h0m-1-2h0m-3 14h0m-1-3h0m-2-1h0m-2 3h0m0-5h0m-3-8h0m0 2h0m-1 17h0m0-7h0m-3-11h0m0 16h0m-1-16h0m-1 7h0m-3 2h0m-1 8h0m-2 0h0m-2-15h0m-3 10h0m-1-1h0m-2 1h0m-2-9h0m-6 2h0m-15 11h0m-5-12h0m-2 5h0m-3-9h0m-1 19h0m-1-7h0m-6-4h0m-7-9h0m0 17h0m0-11h0m-5 1h0m-1 3h0m-7-3h0m0 13h0m-9-17h0m-1 0h0m-16 10h0m-2 3h0m-20-8h0m-1-5h0m16 21h0m12 2h0m1 4h0m4 3h0m32 0h0m0 0h0m5 0h0m11-5h0m1-4h0m5-2h0m1 1h0m3-1h0m0 6h0m1-7h0m2 11h0m2-2h0m1-8h0m5 3h0m5 8h0m3-4h0m1-5h0m3 6h0m3-2h0m0 1h0m2 2h0m5-10h0m5 4h0m0 1h0m2 5h0m2 1h0m0-9h0m1-2h0m1 9h0m0-6h0m2 4h0m1-5h0m1 0h0m2 9h0m0-5h0m1 4h0m1-2h0m1 1h0m0 1h0m1 2h0m0-6h0m3 0h0m1 0h0m2 6h0m1-11h0m0 9h0m1-4h0m0 6h0m1-3h0m2-9h0m1 9h0m2-1h0m0-3h0m0 7h0m1-1h0m1-9h0m1 4h0m4 0h0m0 0h0m1 3h0m2 1h0m1-6h0m1 4h0m1-7h0m1 0h0m0 2h0m1 1h0m0 3h0m2-7h0m1 3h0m1 3h0m1 4h0m1-7h0m1-1h0m1 2h0m0 8h0m1-8h0m0 6h0m1-2h0m1 2h0m2-2h0m1 2h0m0 0h0m2-10h0m1 1h0m0 1h0m0-1h0m0 6h0m1 2h0m0-9h0m1 0h0m2 3h0m1 2h0m1-3h0m2 8h0m0 1h0m1-7h0m0 5h0m1 1h0m1-8h0m0-2h0m0 8h0m1 4h0m0-1h0m2-8h0m0 6h0m2 1h0m2-7h0m0-3h0m1 8h0m1 1h0m0-2h0m1 6h0m0-4h0m1-1h0m1-7h0m1 10h0m0-10h0m3 3h0m0 3h0m1 0h0m1 4h0m0-11h0m3 6h0m0 3h0m1 2h0m0-4h0m1-2h0m0 6h0m0-6h0m0-4h0m0 8h0m1 0h0m1-8h0m0 3h0m1-3h0m1 7h0m1-4h0m1 2h0m0 3h0m3-4h0m1-4h0m0 10h0m0-4h0m0 4h0m1-6h0m0 4h0m0-5h0m1 1h0m0-4h0m0-1h0m0 1h0m1 9h0m0-5h0m0-1h0m2 8h0m0-9h0m1 8h0m0-3h0m1-7h0m1 7h0m0-7h0m0 10h0m0-8h0m2 0h0m0 8h0m1-2h0m0-4h0m0 1h0m0 1h0m1 2h0m0-5h0m1 1h0m1-5h0m0 2h0m0-1h0m0 8h0m1-5h0m0-2h0m1 4h0m1 2h0m0-7h0m0 7h0m0-8h0m1 5h0m0 4h0m1-4h0m0 0h0m1 7h0m0-1h0m1-4h0m1 3h0m0-10h0m0 11h0m0-4h0m0 6h0m0-1h0m1-2h0m1-9h0m0 4h0m1 7h0m0-5h0m0-3h0m0 3h0m0 2h0m0-1h0m0-3h0m1-5h0m0 2h0m0 2h0m1 1h0m0-2h0m0 1h0m0 5h0m0-2h0m0-1h0m1-6h0m0 6h0m1 0h0m0 6h0m0 0h0m0-6h0m1 0h0m0-3h0m0 0h0m2 8h0m0-5h0m1 1h0m0 2h0m2-2h0m0-2h0m0 0h0m0 1h0m1-2h0m0-4h0m1 3h0m0 4h0m1-5h0m0 0h0m0 1h0m0 6h0m1-2h0m0-1h0m1 6h0m0-1h0m1-11h0m0 8h0m0-1h0m0 1h0m1-3h0m0-4h0m0 9h0m0 0h0m0-9h0m2 1h0m2-2h0m0 11h0m0-3h0m1-6h0m0 2h0m0-2h0m0 8h0m0 0h0m1-7h0m0 1h0m1 8h0m0-9h0m1 3h0m1 1h0m0 1h0m0 1h0m1 2h0m0-11h0m0 4h0m0 3h0m0-7h0m1 2h0m1 5h0m0 0h0m0 0h0m0-6h0m0 11h0m1-7h0m0 3h0m0 4h0m1-12h0m0 12h0m2-7h0m0-4h0m1 2h0m1 6h0m0 1h0m0 0h0m0-7h0m1 1h0m0-1h0m2 8h0m0-2h0m1 1h0m0 0h0m1-7h0m0 0h0m1 3h0m1 3h0m0 2h0m0-6h0m0-2h0m0-1h0m1 1h0m0 3h0m0-4h0m0-2h0m0 8h0m1-4h0m0 7h0m0-5h0m1 5h0m1-1h0m0-4h0m1 0h0m1 1h0m0-4h0m1-3h0m0 2h0m0 5h0m1-6h0m1 8h0m0 1h0m0-8h0m0 6h0m1-7h0m0-1h0m1 12h0m0-11h0m0 0h0m1-1h0m0 10h0m0-6h0m1 8h0m0-5h0m1-1h0m0 3h0m1-4h0m0 4h0m1-1h0m0-6h0m1 4h0m0-1h0m0-4h0m0 10h0m0-4h0m1-5h0m0-2h0m0 5h0m0 6h0m1-6h0m0-4h0m1 3h0m0-2h0m1 8h0m0-7h0m1 5h0m1-5h0m0 7h0m0-3h0m0-1h0m1-2h0m0-2h0m0-2h0m0 11h0m0-3h0m1 3h0m0-2h0m1-3h0m0 5h0m1-9h0m0 10h0m0-10h0m1 3h0m0 4h0m0-7h0m0-1h0m2 9h0m0 0h0m1-4h0m0-3h0m1 7h0m0 0h0m0-3h0m0-7h0m1 9h0m1-4h0m1 5h0m0-8h0m0 9h0m0 1h0m2-4h0m0-8h0m1 7h0m0 4h0m0-9h0m0 6h0m1 2h0m0-6h0m0 7h0m0-7h0m0-3h0m1 8h0m0 2h0m1-9h0m0-1h0m0 2h0m1 1h0m0 8h0m0-5h0m0-2h0m0 7h0m0 0h0m1-9h0m0-1h0m1 3h0m1-4h0m0 5h0m0-4h0m2 5h0m0-7h0m0 9h0m1-3h0m0-4h0m0 10h0m0-12h0m1 6h0m2-4h0m0 0h0m2 4h0m0 4h0m0-5h0m1-3h0m0 3h0m0-1h0m0 0h0m0 5h0m0-9h0m1 10h0m1-5h0m0 0h0m0 0h0m1 4h0m2-1h0m0 3h0m0-6h0m1-4h0m0 0h0m1 8h0m0 1h0m0-3h0m0 3h0m1 0h0m0-10h0m0 5h0m1-5h0m0 12h0m1-9h0m3 6h0m1-7h0m0 10h0m0-11h0m1-1h0m1 7h0m0-3h0m0 1h0m0 7h0m0-5h0m1-5h0m3-2h0m0 8h0m1-3h0m0 6h0m1-5h0m0 3h0m0-2h0m0-3h0m0-3h0m0 2h0m0 5h0m1-8h0m2 12h0m1-5h0m0 0h0m1-4h0m0 4h0m1 1h0m0-2h0m1 2h0m0-7h0m0 5h0m3-4h0m0 2h0m1-1h0m0 1h0m1 1h0m0 5h0m0 1h0m0-11h0m0 3h0m1 5h0m0-4h0m0 4h0m0-6h0m1 6h0m1 1h0m0-8h0m0 8h0m0-3h0m1-5h0m0-1h0m0 0h0m1 10h0m0 1h0m1-10h0m0-1h0m0 4h0m0 8h0m0-1h0m1-10h0m0 6h0m1 5h0m0-11h0m0 9h0m0-8h0m1 9h0m0-2h0m1-2h0m1-5h0m0 2h0m1 9h0m0-6h0m1-2h0m0 1h0m0-5h0m0 3h0m0 7h0m0 1h0m1-3h0m0-7h0m0 10h0m0-9h0m2 0h0m1 6h0m1 3h0m0-1h0m0 1h0m1-4h0m2 0h0m0-3h0m0-2h0m1 4h0m0 0h0m1 4h0m0-9h0m0 6h0m1-8h0m0 0h0m0 5h0m3-5h0m1 4h0m0 0h0m1 2h0m0-4h0m0 1h0m1 0h0m1 7h0m0-6h0m2 4h0m0-4h0m1 4h0m0-7h0m2 9h0m1-3h0m1-3h0m1 3h0m0-4h0m1 8h0m0-1h0m0 2h0m0-7h0m1-2h0m0 6h0m1 2h0m1 1h0m0-1h0m0-3h0m1-5h0m0-2h0m1 0h0m0 5h0m0 1h0m0 4h0m3-10h0m1 6h0m2-7h0m2 7h0m1 4h0m1 0h0m0-10h0m3 0h0m0 10h0m0-6h0m2-3h0m1 0h0m1 1h0m1 2h0m0 5h0m1-7h0m1 2h0m0 5h0m1 0h0m0-9h0m0 6h0m1 0h0m1-3h0m1 1h0m9-5h0m1 7h0m2-6h0m2 2h0m1 4h0m1-3h0m1-2h0m1 0h0m4 0h0m2 7h0m3 3h0m0 0h0m1 0h0m1-1h0m1 0h0m1-11h0m2 9h0m8-5h0m0 3h0m2-3h0m2 2h0m2-1h0m3 2h0m0 2h0m1-5h0m1-1h0m0 9h0m1-9h0m1 2h0m6 2h0m4-3h0m2 0h0m5 0h0m4-1h0m0 2h0m3-2h0m7 5h0m11 2h0m4-9h0m4 7h0m0-3h0m20 7h0m2-10h0m4 6h0m8-4h0m6 1h0m5-4h0m16 5h0" stroke="#00fb00" stroke-width="14.4" stroke-linecap="round" fill="none"/><path transform="scale(.5)" d="M1106 3448h0m504 91h0m-344-4h0m216 60h0m-160 55h0m52 2h0m164 8h0m75 12h0m-802 0h0m431 24h0m162 36h0m-32 6h0m-145-2h0m103 12h0m96 0h0m38 17h0m131-8h0m-27 22h0m-170 8h0m-61-16h0m-37 6h0m-82 14h0m-29-14h0m-49 10h0m-59 24h0m61-16h0m133 18h0m5 2h0m1-21h0m41 17h0m22-11h0m38 15h0m104-8h0m127 24h0m-35 4h0m-27-6h0m-13 8h0m-26-14h0m-18 8h0m-90-14h0m-17 4h0m-28 0h0m-31 4h0m-101 10h0m-121-14h0m-64 0h0m-229 2h0m351 39h0m15 1h0m58-11h0m21 6h0m1 1h0m73-8h0m36-10h0m3 1h0m8 2h0m47-1h0m23-2h0m6 21h0m12 1h0m21-16h0m13 11h0m84 28h0m-10 0h0m-85-6h0m-5 4h0m-31-6h0m-6-11h0m-6 10h0m-3-1h0m-23 7h0m-8-10h0m-25 13h0m-19-5h0m-27 2h0m-16-19h0m-12 7h0m-35 14h0m-27-16h0m-57 8h0m-27 3h0m-27-13h0m-224-1h0m97 40h0m122-2h0m42 3h0m9-15h0m9 14h0m16 5h0m10-4h0m24-5h0m2-6h0m12 14h0m40-4h0m22-11h0m1 0h0m22-4h0m35 7h0m1 11h0m18-13h0m4 12h0m5-10h0m1 3h0m23 1h0m6 2h0m6-3h0m13 1h0m3 3h0m9 5h0m19-15h0m13 15h0m16-16h0m20 13h0m6-7h0m9-2h0m66-1h0m0-4h0m0 4h0m3-1h0m-52 25h0m-9-7h0m-69 5h0m-6-4h0m-16-2h0m-1 4h0m-3 8h0m-1-8h0m-2 2h0m-19-5h0m-22 6h0m-22 3h0m-49 2h0m-54-1h0m-4-6h0m-24 0h0m-3 5h0m-9 0h0m-3-2h0m-30 4h0m-3-7h0m-11-1h0m-3-1h0m-16-4h0m-12 7h0m-45-5h0m-70 12h0m-111-4h0" stroke="#0505c0" stroke-width="20.8" stroke-linecap="round" fill="none"/><path transform="scale(.5)" d="M982 3906h0" stroke="#f84444" stroke-width="33.2" stroke-linecap="round" fill="none"/>
<text x="272.1" y="2273.5" font-size="31.5" text-anchor="end">0</text>
<text x="272.1" y="2174.4" font-size="31.5" text-anchor="end">1</text>
<text x="272.1" y="2075.2" font-size="31.5" text-anchor="end">2</text>
<text x="272.1" y="1976.1" font-size="31.5" text-anchor="end">3</text>
<text x="272.1" y="1877" font-size="31.5" text-anchor="end">4</text>
<text x="272.1" y="1777.9" font-size="31.5" text-anchor="end">5</text>
<text x="272.1" y="1678.8" font-size="31.5" text-anchor="end">6</text>
<text x="300.6" y="2306.3" font-size="31.5" text-anchor="end" transform="rotate(-45 300.6 2306.3)">-4</text>
<text x="375.1" y="2306.3" font-size="31.5" text-anchor="end" transform="rotate(-45 375.1 2306.3)">-3</text>
<text x="449.6" y="2306.3" font-size="31.5" text-anchor="end" transform="rotate(-45 449.6 2306.3)">-2</text>
<text x="524.1" y="2306.3" font-size="31.5" text-anchor="end" transform="rotate(-45 524.1 2306.3)">-1</text>
<text x="598.6" y="2306.3" font-size="31.5" text-anchor="end" transform="rotate(-45 598.6 2306.3)">0</text>
<text x="673.1" y="2306.3" font-size="31.5" text-anchor="end" transform="rotate(-45 673.1 2306.3)">1</text>
<text x="747.6" y="2306.3" font-size="31.5" text-anchor="end" transform="rotate(-45 747.6 2306.3)">2</text>
<text x="822.1" y="2306.3" font-size="31.5" text-anchor="end" transform="rotate(-45 822.1 2306.3)">3</text>
<text x="896.6" y="2306.3" font-size="31.5" text-anchor="end" transform="rotate(-45 896.6 2306.3)">4</text>
<text x="579" y="1644" font-size="41.7" text-anchor="middle">Screen 1 Hits</text>
<text x="6.5" y="1649.3" font-size="52.5" text-anchor="start">c</text>
<text x="585.8" y="2362" font-size="32.6" text-anchor="middle" xml:space="preserve">z-score of normalized  <tspan font-style="italic">f</tspan>LUC</text>
<text x="236" y="2012" font-size="32.2" text-anchor="middle" transform="rotate(-90 236 2012)">z-score of normalized <tspan font-style="italic">n</tspan>BIT</text>
<path d="M1469.3 850.2V1445.4M1568.6 850.2V1445.4M1767.1 850.2V1445.4M1866.3 850.2V1445.4M1370.1 1346.2H1965.6M1370.1 1247H1965.6M1370.1 1048.6H1965.6M1370.1 949.4H1965.6" stroke="#000" stroke-width="1.1" stroke-dasharray="2 1.3" fill="none"/>
<path d="M1667.8 850.2V1445.4M1370.1 1147.8H1965.6" stroke="#000" stroke-width="4.2" fill="none"/>
<rect x="1370.1" y="850.2" width="595.5" height="595.2" fill="none" stroke="#000" stroke-width="5"/>
<path d="M1370.1 1445.4v14.5M1469.3 1445.4v14.5M1568.6 1445.4v14.5M1667.8 1445.4v14.5M1767.1 1445.4v14.5M1866.3 1445.4v14.5M1965.6 1445.4v14.5M1370.1 1445.4h-14.5M1370.1 1346.2h-14.5M1370.1 1247h-14.5M1370.1 1147.8h-14.5M1370.1 1048.6h-14.5M1370.1 949.4h-14.5M1370.1 850.2h-14.5" stroke="#000" stroke-width="5" fill="none"/>
<path transform="scale(.5)" d="M3896 2207l-6-6l-1-6l-11-10l-8-1l-18 5l-11-2l-5-5l-7-2l-16 8l-5 5l-2 8l-2-6l-5-5l-13-5l1-33l-6-8l-7-2l-23 2l-24-2l-4-4l-1-13l-5-5l-17-2l-7-9l-14-2l-2-2l-1-9l-5-5l-7-2l-21 0l-9-3l-2-3l2-43l-8-9l-23 1l-45-4l-8-9l-7-2l-32 8l-11-3l-16 0l-6 2l-5-4l-14 0l-8 7l-12 3l-8 11l-10 1l-5 5l-1 9l-3 4l-17 1l-10 11l-37-2l-8 7l-10 3l-15 14l-6 12l-5 2l-15 16l-9 6l-7 7l-2 5l-18 13l-3 9l-13 14l-10 7l-6 9l-6 2l-12 14l-12 8l-2 11l-4 6l-10 3l-19 14l-5 7l-4 14l-9 11l0 11l3 5l0 24l-30 3l-9 12l-1 10l-4 4l-2 7l-9-3l-5 1l-6 5l-5 1l-6 8l1 12l5 5l7 2l21 0l3 4l0 22l-11 15l0 11l-8 16l0 16l8 15l5 5l12 2l6 6l7 2l8-2l13-14l6 7l9 2l7 6l71 6l7-2l8-11l18 0l10-3l7-10l11 4l7-2l4-4l17-1l5-4l11 18l6 6l7 2l10-5l10-1l7-6l2-22l3-3l32 0l7-2l6-8l0-18l3-3l24 2l6 7l7 2l41-4l6-8l0-14l7-8l6-1l5-5l2-23l23 0l4 7l1 20l7 6l15 1l11 4l7-2l5-5l2-27l6-5l14-1l4-3l7 0l7 9l7 2l7-2l8-9l21 0l10 8l7 2l17-1l27 3l11-2l5-5l2-8l16-7l6 4l10 2l21-2l8 2l5 4l10 0l25-24l2-7l23 0l8 3l7-2l7-9l-1-15l-5-5l-7-2l-9 3l-2-7l-5-5l1-23l8-7l3-13l-1-10l-9-8l0-24l5-7z" fill="#a0a0a4" fill-rule="evenodd"/><path transform="scale(.5)" d="M3641 1700h0m32 12h0m-36 36h0m12 44h0m16-8h0m-36 16h0m-91 15h0m-83 24h0m314 6h0m-16 10h0m-161 30h0m310-13h0m-155 29h0m-44 6h0m-179 12h0m-661 4h0m647 19h0m17-22h0m5 16h0m34-6h0m0 3h0m40-7h0m26 13h0m68-19h0m65 21h0m3-8h0m-33 27h0m-60 1h0m-13-11h0m-4 4h0m-6 6h0m-5 0h0m-2 5h0m-6-1h0m-31-5h0m0 8h0m-20-7h0m-1 6h0m-10-4h0m-4-2h0m-10-14h0m-7 19h0m-14-17h0m-9 17h0m-3 0h0m-14-13h0m-13-7h0m-2 17h0m-18 4h0m-4 1h0m-26-22h0m-1 15h0m-26 24h0m2 5h0m48-17h0m11 2h0m6 13h0m16-16h0m1 9h0m12 10h0m4-6h0m13-10h0m2 14h0m5-10h0m8 6h0m0-1h0m2-2h0m7-6h0m7 5h0m12 11h0m3-2h0m1-8h0m3 10h0m9-20h0m14 20h0m0-6h0m6-9h0m11-3h0m0 12h0m2-12h0m3 4h0m0-6h0m26 1h0m8 14h0m9-11h0m33-1h0m17-1h0m2 2h0m10 6h0m23-2h0m27 11h0m85 12h0m-9 4h0m-9 9h0m-33-5h0m-26-9h0m-51-7h0m-16 19h0m-33-4h0m-6-13h0m-2 17h0m-5-5h0m-11-11h0m0 15h0m-8-11h0m-4 0h0m-11 2h0m-2 8h0m-2-17h0m-2 21h0m-4-4h0m-4-6h0m-1-10h0m-1 13h0m0 7h0m-12-17h0m-1 11h0m-4 1h0m-1-3h0m-6-10h0m0 3h0m0 0h0m-1 6h0m-2-11h0m-1 12h0m-6-13h0m0 5h0m-7 6h0m0 6h0m-7-7h0m-2-8h0m-6 8h0m-6-8h0m-7-2h0m-4 5h0m-1 13h0m-1-2h0m-2-14h0m-7 19h0m-3-7h0m0-12h0m-2 15h0m-2-7h0m-1-10h0m-2 17h0m-1-18h0m-2-1h0m0 9h0m-2 9h0m-1 3h0m-8-19h0m-2 19h0m-3-1h0m-1-15h0m-2-2h0m-1-1h0m0 8h0m-10 11h0m-1-21h0m-3 3h0m-4 18h0m-5-17h0m-13 7h0m-2-4h0m-2 2h0m0-7h0m0 19h0m0-13h0m-3 11h0m0-13h0m-5 15h0m-2 2h0m-11-6h0m0 6h0m-6-2h0m-6-7h0m-6-6h0m-9 3h0m0 10h0m-2-9h0m-6 6h0m-12 2h0m-4 0h0m0-12h0m-11 14h0m-1-12h0m-1 2h0m-30 30h0m3-4h0m3 2h0m3 0h0m17 5h0m2-13h0m1 12h0m4-12h0m1-1h0m2 2h0m0-2h0m9 15h0m1-15h0m1 12h0m1-7h0m1 1h0m6-2h0m5 12h0m1-1h0m2-3h0m0-8h0m1-4h0m3 1h0m4 0h0m1-1h0m2 7h0m3 5h0m0-11h0m0 10h0m2-12h0m2 9h0m4-11h0m1 10h0m2-2h0m7 0h0m2-2h0m1 0h0m6-8h0m0 8h0m1 0h0m2-4h0m2 0h0m4 8h0m10-9h0m3 3h0m1-8h0m1 1h0m4 10h0m1-10h0m1 11h0m0-6h0m1-1h0m5 7h0m2-9h0m2 11h0m2-14h0m1 15h0m6-1h0m2-11h0m6 10h0m1-3h0m5 1h0m5-2h0m4-6h0m0 2h0m4-3h0m6 4h0m4 4h0m1-5h0m2 0h0m4 4h0m2 9h0m2-3h0m2-4h0m0-5h0m2 10h0m1-6h0m0 9h0m3-1h0m1 0h0m2-6h0m0-1h0m1 5h0m1-12h0m1 0h0m6 9h0m2-1h0m1-5h0m2 3h0m3 11h0m7 1h0m1-14h0m2 0h0m0 10h0m1-2h0m5 5h0m0-8h0m0-4h0m1 3h0m1 7h0m4 2h0m3-15h0m7-5h0m0 21h0m1-11h0m8-4h0m1 10h0m4-8h0m3 12h0m4-8h0m0 5h0m3-16h0m1 4h0m0 3h0m6 7h0m2-2h0m3 7h0m6-17h0m8 14h0m9 0h0m3-8h0m2 8h0m1-18h0m1 20h0m1 0h0m4-16h0m3 9h0m4-13h0m17 3h0m4 2h0m5 5h0m6 2h0m2 7h0m3-12h0m8 5h0m48 0h0m71 6h0m23 4h0m37-18h0m-10 26h0m-20 7h0m-71-2h0m-20 7h0m-5 0h0m-13-16h0m-12 18h0m-15-6h0m-4-1h0m-8 7h0m-9-16h0m-13 16h0m-20-5h0m-3-9h0m0 12h0m-1-3h0m-5-13h0m-2 3h0m-6-1h0m-4 0h0m-1 1h0m-3 8h0m-1-1h0m-11 0h0m-1 11h0m-3-1h0m0-1h0m-2-3h0m-2-18h0m0 19h0m-2-9h0m-1 3h0m0-10h0m0 14h0m-3 6h0m-1-1h0m-5-4h0m-2-1h0m-1-6h0m-2-1h0m-2 11h0m-1-1h0m-1-6h0m-1-7h0m0 11h0m-1-6h0m-5 9h0m-3-7h0m0 7h0m-2-20h0m0 2h0m-1 18h0m-188-19h0m-13 3h0m-3 2h0m-1-3h0m0 14h0m-3 1h0m0-14h0m-1 5h0m-1-3h0m-2-3h0m-1-3h0m0 8h0m-1 0h0m0 1h0m-2-1h0m-1 5h0m0 9h0m-2-11h0m0 11h0m-1-1h0m0-2h0m-2 0h0m-1 3h0m0-5h0m-1-2h0m0 6h0m-2-4h0m-3 5h0m-2-8h0m-3-3h0m-1 0h0m-1-2h0m-3 4h0m-1-10h0m-2 10h0m0 7h0m-1 1h0m-2-9h0m-2-2h0m-7-2h0m-6-6h0m-1 11h0m-1 1h0m-1-3h0m-1-2h0m-1 5h0m-2 0h0m-1 2h0m-4-6h0m0 5h0m-1 0h0m-1 5h0m-2-11h0m-3 2h0m-2 9h0m-2-1h0m-1 1h0m-32 24h0m4-2h0m1-3h0m1 5h0m2-6h0m2 6h0m1 2h0m2-12h0m1 4h0m2-7h0m1 4h0m1 9h0m2 1h0m1-10h0m1 2h0m5 0h0m0-9h0m0-5h0m1 20h0m4-8h0m0 7h0m7-12h0m1 6h0m0-6h0m5 6h0m1-10h0m2-1h0m0 6h0m1-6h0m2 10h0m1-8h0m0 1h0m0 6h0m1-7h0m6-1h0m2 2h0m3 10h0m0-4h0m3-9h0m1 11h0m1-10h0m7 3h0m2 1h0m2 1h0m1 4h0m0-9h0m0-1h0m1 0h0m16-2h0m6 2h0m0 0h0m211 14h0m1-14h0m2 18h0m1-9h0m1 9h0m0-14h0m1 5h0m1-11h0m0 14h0m2-10h0m1 16h0m1-5h0m2 7h0m2-21h0m0 19h0m1-5h0m1 1h0m7 3h0m0 3h0m3-3h0m3 1h0m3-18h0m5 16h0m4-10h0m1-2h0m0 3h0m2-2h0m2 2h0m3 8h0m9-1h0m2-10h0m2 6h0m1 7h0m0 1h0m1-15h0m6 16h0m3 0h0m3-11h0m10 13h0m15-5h0m1-14h0m8-2h0m0 12h0m0 9h0m7-3h0m7-14h0m4 7h0m7-7h0m3 0h0m26 10h0m3 1h0m7-17h0m2 8h0m6-3h0m4-4h0m5 6h0m13 6h0m25 5h0m3-13h0m8 10h0m6-14h0m21 7h0m2-4h0m27 35h0m-51 3h0m-4-2h0m-3-1h0m-1 1h0m-4 1h0m-11-15h0m-2 13h0m-6 0h0m-3-7h0m-30 7h0m-12 5h0m-8-15h0m-5-4h0m0 8h0m-7 12h0m-1 0h0m-19-1h0m-3-17h0m-5 16h0m-1-14h0m-11-1h0m-5 5h0m-6 8h0m-1 2h0m0-14h0m-4 17h0m-1-19h0m-10-1h0m-1 8h0m-2-9h0m0 22h0m-2-21h0m-1 17h0m-2-1h0m-1-13h0m-8 13h0m-1-4h0m0 7h0m-1-3h0m-8-10h0m-2 11h0m-1-15h0m-3 3h0m0 13h0m-1-5h0m-1 7h0m0-20h0m-9 2h0m-1-4h0m-7 3h0m-5 4h0m0-3h0m-5-3h0m-2 6h0m-6-6h0m-2 5h0m-2-4h0m-1-1h0m-4-1h0m-306 0h0m0 2h0m-2 2h0m-1 4h0m-2 3h0m0-4h0m-1-5h0m0 17h0m-1 0h0m-1-11h0m-1 12h0m-1-13h0m-2 3h0m-1 12h0m0-10h0m-3-7h0m-6 13h0m-4-5h0m-7 7h0m-4 1h0m-19 24h0m1-7h0m0-1h0m1 9h0m0 0h0m3-1h0m1-2h0m4-5h0m1-7h0m2 4h0m1 0h0m1 7h0m0-5h0m4 5h0m0-14h0m2 9h0m0-9h0m1-1h0m1 7h0m1-1h0m1 5h0m0-4h0m3-7h0m0 7h0m0-4h0m2 3h0m2-2h0m1 1h0m1-4h0m2-2h0m10-2h0m362 0h0m2 1h0m2 1h0m3-1h0m17 7h0m0-6h0m1 4h0m2 3h0m7-2h0m2-5h0m0 3h0m2 4h0m2 8h0m0-9h0m2 7h0m1 8h0m0-10h0m2-4h0m1 11h0m4-8h0m0 8h0m1-9h0m1 9h0m2-12h0m1 12h0m2-14h0m3-6h0m11 2h0m1 17h0m1-11h0m2 13h0m16-15h0m1 15h0m2-3h0m3-14h0m11 18h0m2-15h0m2 12h0m7 1h0m10-13h0m6 0h0m0-2h0m2 6h0m5 6h0m8-1h0m5-10h0m15 10h0m3-2h0m1-10h0m6 1h0m18 11h0m3-1h0m32-10h0m22 24h0m-7 14h0m-3-19h0m-10 23h0m-10-6h0m-9-4h0m-9 4h0m-3-12h0m-6 7h0m-3-5h0m-7 6h0m-9-13h0m-16 18h0m-1 3h0m-1-9h0m-3 2h0m-2-8h0m-1 9h0m-6-5h0m-2-4h0m-1 12h0m-1-14h0m-1 13h0m-1-11h0m-5 6h0m-9 11h0m-1-7h0m-2-3h0m-2 1h0m-2-11h0m-4-2h0m0 5h0m-7 10h0m-6-9h0m-1-4h0m-1 10h0m0-8h0m-4 0h0m-10 6h0m-1-5h0m-2 5h0m0-9h0m-3 9h0m-4-4h0m-4-3h0m-3 6h0m-2 4h0m-4-12h0m-2 5h0m-2 3h0m-6-6h0m-2 5h0m-1-9h0m-1 1h0m-6 5h0m-4-3h0m-433-3h0m-3 3h0m-2-3h0m-2 3h0m-2 3h0m-4 6h0m-1 2h0m-1 0h0m0-3h0m-2-7h0m-1 5h0m-1 5h0m0 5h0m0-13h0m-4 2h0m-1-6h0m-1 8h0m-1 1h0m-1-7h0m-2 4h0m0 11h0m0 3h0m-2-4h0m0 1h0m-4-10h0m-1 7h0m0 1h0m0-7h0m-3 6h0m-394 9h0m369 19h0m0 1h0m2-8h0m2 8h0m1-6h0m3-2h0m1 4h0m0-5h0m2 11h0m3-4h0m0-12h0m1 6h0m0-1h0m1-4h0m1 11h0m0 3h0m0-2h0m1 0h0m1-8h0m0-10h0m0 12h0m0-12h0m3 4h0m1 9h0m2-5h0m0 3h0m0 3h0m1-5h0m0-4h0m2-3h0m3 2h0m0-3h0m1 9h0m1-9h0m2 3h0m0 2h0m3-4h0m526 5h0m2 5h0m2 9h0m1-20h0m1 13h0m3 7h0m1-16h0m2-5h0m1 20h0m6 0h0m9-4h0m5-3h0m1 5h0m3-9h0m5-11h0m0 16h0m2-2h0m1 8h0m1-5h0m4 0h0m0-8h0m0 8h0m3-5h0m4-10h0m0-2h0m1 10h0m2 8h0m5 3h0m3-19h0m4 3h0m1 3h0m4 9h0m0-9h0m1 15h0m1-8h0m1 6h0m2-2h0m7-6h0m1 3h0m8 6h0m3-5h0m3 0h0m6 5h0m2-6h0m7 7h0m6-6h0m2-3h0m1 9h0m8-12h0m3 6h0m4-9h0m0 20h0m-3 17h0m0 0h0m-3-4h0m-3-1h0m-3 6h0m-1-1h0m-3-10h0m-2 5h0m-2-8h0m0-5h0m-7 8h0m-1 0h0m-1 8h0m-1-14h0m-1 5h0m-1 7h0m-3 2h0m0-2h0m-2 5h0m-3-10h0m-1 0h0m-1 3h0m-9-11h0m-4 3h0m-3-6h0m-5 2h0m-1 1h0m-3 0h0m-13 6h0m-2-5h0m0-5h0m-1 6h0m-8-4h0m-1-2h0m-16 3h0m-1 1h0m0 6h0m-5 7h0m-1-16h0m-1 20h0m0-15h0m-1-1h0m-1 1h0m-2 0h0m-1-3h0m-5 8h0m-4 4h0m-5-14h0m0 1h0m-1 8h0m0-2h0m-2 2h0m-5-8h0m-2 3h0m0-5h0m-2 1h0m-545 1h0m-3 3h0m-1 2h0m0-4h0m0 7h0m-5-10h0m-2 16h0m0-4h0m-1-10h0m-2 8h0m-1 1h0m-2-11h0m0 14h0m-2-8h0m-1 4h0m0-3h0m0-5h0m-1 15h0m-1-4h0m-3-1h0m-1-6h0m0-1h0m0 11h0m-4 3h0m-1-11h0m0 5h0m-3 0h0m0 2h0m-3 3h0m-4 4h0m0-1h0m-8 2h0m-17 23h0m9-1h0m2-1h0m3-7h0m1-1h0m0-8h0m2 7h0m1 1h0m1 8h0m1-6h0m0-7h0m0 12h0m1-15h0m2 19h0m1-14h0m1 3h0m0 1h0m1-9h0m1 10h0m1-2h0m0-5h0m1 0h0m6 3h0m2-2h0m4-6h0m676 18h0m0-2h0m1 4h0m7-3h0m1 0h0m2-3h0m0 6h0m0-11h0m0-9h0m10 8h0m1 3h0m1 7h0m1-4h0m0 1h0m2-16h0m2 10h0m2-2h0m1 1h0m1 0h0m2 12h0m1 0h0m0-10h0m2 4h0m2 0h0m1-4h0m4 10h0m0 5h0m-1 12h0m-1-6h0m-2 0h0m0 3h0m-1 3h0m-3 5h0m-3 1h0m-1 2h0m0-3h0m-1-4h0m-1-11h0m0 13h0m-1 5h0m-1-21h0m-6 16h0m0 0h0m-2-5h0m-1 3h0m0 2h0m-3-3h0m0-1h0m-1 7h0m-4-9h0m0-5h0m-4 14h0m-1-19h0m0 15h0m0 1h0m-1 5h0m-1-3h0m-2-11h0m-1-6h0m0 11h0m-702-10h0m-4 2h0m-2 1h0m-3-2h0m-1 2h0m-1 6h0m-1 0h0m-1 4h0m-2-11h0m0-1h0m0 9h0m-4-5h0m-1 0h0m-1 13h0m-3-18h0m-1 10h0m-4 3h0m0-9h0m0 3h0m0 5h0m-4 2h0m-1 4h0m-1 0h0m0-9h0m-1 6h0m-5 2h0m-20 16h0m10 3h0m2 7h0m1-6h0m2-1h0m0 5h0m2-13h0m0 11h0m5-15h0m0 1h0m3 18h0m0-2h0m1-15h0m2 6h0m3-6h0m6-3h0m1-2h0m726 22h0m0 0h0m0 0h0m6-7h0m5-14h0m0 20h0m1-16h0m3-6h0m2 0h0m2 0h0m0 6h0m0 0h0m1-4h0m1 12h0m0-9h0m1-2h0m0 0h0m1 14h0m1-12h0m0-1h0m1 8h0m0 2h0m2 3h0m1-4h0m5 9h0m2-3h0m5 4h0m2 4h0m-2 17h0m-1-5h0m-1 3h0m-1-4h0m-2 1h0m0-12h0m-2 14h0m0-16h0m-4 6h0m-4 7h0m0-14h0m-1 21h0m0-14h0m-1 0h0m-1 16h0m-4-14h0m-3-7h0m0 6h0m-1 0h0m-1-4h0m-2-4h0m-3 5h0m-1 17h0m0-15h0m-1-3h0m0-2h0m-1 17h0m-1-14h0m-1 13h0m0-9h0m-1 9h0m0-18h0m-1 19h0m0 4h0m-2-14h0m-1 4h0m-2-3h0m0-3h0m-736 12h0m-4-10h0m-4 8h0m0 0h0m0 4h0m-1 2h0m-1-1h0m-1-10h0m0 9h0m0-9h0m-2 3h0m0 2h0m0-10h0m-2 9h0m0-2h0m-2 6h0m-1 1h0m-1-11h0m0-1h0m-2 7h0m-1-11h0m-7 4h0m-1 5h0m-1-5h0m-1 6h0m0 2h0m0-15h0m-3 13h0m-2-4h0m-1 10h0m-2-1h0m-14 1h0m-20 22h0m3-4h0m3 3h0m0 3h0m4-7h0m1 5h0m1-13h0m4 3h0m6 14h0m1-18h0m0 14h0m1-18h0m4 21h0m0-8h0m1 7h0m0-8h0m2 3h0m2 5h0m2-6h0m1-11h0m1 2h0m3 17h0m0-22h0m4 6h0m3 6h0m3 10h0m3-5h0m2 3h0m0-4h0m4-16h0m2 1h0m3 12h0m0-2h0m0 1h0m0 1h0m1-13h0m2 0h0m0 20h0m2-5h0m1-10h0m1-1h0m0 13h0m2-9h0m1 5h0m0 5h0m738-17h0m1 2h0m0-4h0m0 6h0m3 1h0m0 6h0m1 6h0m0-14h0m1 5h0m0-3h0m2-7h0m1 0h0m5 4h0m0-4h0m2 8h0m0 13h0m1-14h0m2 0h0m5-7h0m0 11h0m1 9h0m0-12h0m3 5h0m1-6h0m2 2h0m0-7h0m2-1h0m3 11h0m3 6h0m5-7h0m0 30h0m-4-4h0m0-11h0m-2-2h0m-3 17h0m-2-5h0m0 6h0m0-15h0m-1 13h0m-4 4h0m-5-4h0m-3 4h0m0-1h0m-3-5h0m-1 6h0m-2 2h0m-1-6h0m-2-4h0m0 1h0m-6 0h0m-3 2h0m0 6h0m-1 1h0m-5 1h0m-4-9h0m-1 6h0m-1-8h0m-6 8h0m-4-2h0m-722-17h0m-5 2h0m-13-3h0m-1 3h0m-15 9h0m-3-11h0m-5 16h0m-2-2h0m0-15h0m0 1h0m-1 16h0m0-16h0m-5 1h0m0 21h0m0-23h0m-8 13h0m-1-1h0m-1 2h0m-1-2h0m-3-4h0m-2 0h0m-1 0h0m-1 11h0m0-14h0m0 13h0m-1-18h0m-1 19h0m-10-13h0m-2-1h0m-2 5h0m-11 10h0m-7 9h0m2 3h0m4 7h0m4-9h0m6 9h0m1 1h0m0 5h0m1-19h0m1 18h0m4-19h0m5 5h0m0 10h0m0 3h0m2-9h0m0 6h0m2-12h0m8 9h0m5-8h0m8 10h0m7-12h0m1 4h0m2-7h0m2 0h0m511 23h0m13 0h0m0-1h0m5-1h0m36-1h0m6 3h0m2-2h0m14 1h0m1-1h0m3 1h0m71-2h0m1 1h0m4 2h0m2-4h0m2 3h0m4-10h0m10-1h0m6 10h0m5-4h0m10 5h0m11-6h0m2 0h0m4 0h0m18 1h0m6-7h0m3 0h0m2 6h0m0-12h0m4 12h0m4 4h0m2-11h0m3 4h0m1-12h0m1 4h0m2 3h0m7 7h0m10-15h0m1 6h0m3 2h0m1 5h0m10-6h0m1 15h0m1-12h0m5-8h0m0 15h0m1-16h0m2 21h0m1-9h0m4 3h0m4-8h0m2-2h0m2 21h0m-2-3h0m-2 3h0m-6 20h0m-7-11h0m-5-11h0m-3 3h0m-3 0h0m-9 19h0m-6-10h0m0 7h0m0-13h0m-2-3h0m-2 6h0m-3-8h0m-2 7h0m-3 7h0m-12-11h0m-4-3h0m-3 14h0m-3 7h0m-4-16h0m-1 9h0m-1-5h0m-1-8h0m-1 9h0m0-3h0m-8 0h0m-3-7h0m-4 20h0m-2-8h0m-1-9h0m-1 17h0m-5-2h0m-1 0h0m-2-17h0m-2-1h0m-7 1h0m-2 4h0m-2 15h0m-1-9h0m-1-10h0m-4-3h0m-1 13h0m-1-10h0m-2 6h0m-5-1h0m0-6h0m0 3h0m-10-3h0m-2 18h0m-1-15h0m-1-3h0m-2-2h0m-3 10h0m-2 4h0m-1-1h0m-4-7h0m-4 10h0m-3 4h0m-2-11h0m-1 0h0m-5 10h0m-3-7h0m0-2h0m-1 10h0m-4-3h0m-1-12h0m-8 1h0m-5 14h0m0-1h0m-3-13h0m-3 13h0m-1-4h0m-1-3h0m0-4h0m-1-2h0m-1 12h0m0-4h0m-7 0h0m-3-9h0m-1 13h0m0-1h0m-2 2h0m-1-3h0m-1-2h0m0-1h0m-2-9h0m-2 10h0m-2 7h0m0-4h0m-3-16h0m-2 3h0m0 9h0m-3-3h0m-9-5h0m-5 13h0m-4-11h0m-2 9h0m0 5h0m0-18h0m-2 4h0m0 6h0m-1 10h0m0-18h0m-1 0h0m-2-4h0m-1 6h0m0 10h0m-4 0h0m-3 4h0m-1-11h0m-3-7h0m-4 0h0m-2-3h0m-1 6h0m-3-4h0m0 9h0m0-5h0m-1-2h0m0 15h0m-1-3h0m-1-2h0m0-1h0m-1-9h0m-3 16h0m-1-4h0m-8-16h0m-2 5h0m-3 5h0m-1 4h0m-2 6h0m0-16h0m-1-1h0m-1 3h0m-1 5h0m-1 4h0m-5-9h0m-5 8h0m-34 8h0m-4-18h0m-1-1h0m-1 8h0m0 2h0m-3 7h0m-3-19h0m0 16h0m-1-7h0m-1-1h0m0 7h0m-1-5h0m0 4h0m0-10h0m-1 2h0m-1 0h0m-3-5h0m0 9h0m-1-8h0m-1 4h0m0-5h0m-3-2h0m-3 5h0m-1 8h0m-1-7h0m0 16h0m-1 0h0m0-12h0m0 4h0m-2-4h0m0-6h0m-2-2h0m0 17h0m-1-17h0m-1 10h0m0-1h0m-1-2h0m0-2h0m-1 5h0m-2-5h0m-420 15h0m-5-12h0m-1 5h0m-1-4h0m-1 9h0m-6-5h0m-3 4h0m-1-6h0m0-3h0m0 6h0m-3-4h0m-2 5h0m-1-4h0m0 8h0m0-7h0m-4 2h0m-3-8h0m-5 2h0m-3-3h0m0 16h0m-5-5h0m-3 4h0m-4-17h0m0 18h0m-1-14h0m-8 6h0m-3 8h0m-3-6h0m-12-14h0m-7 7h0m-3-8h0m-1 3h0m-6 18h0m0-3h0m-3-7h0m0 10h0m-10-3h0m-20 20h0m11-14h0m10 13h0m6 7h0m6-12h0m8-9h0m4 20h0m3-7h0m1-5h0m6 3h0m4 7h0m3-2h0m13-14h0m4 3h0m2-6h0m1 3h0m1 8h0m1-4h0m1 4h0m9 6h0m2 0h0m1-16h0m2 19h0m2 3h0m3-4h0m2 0h0m4 1h0m3-4h0m2-7h0m1-4h0m1 14h0m2-6h0m1-9h0m1 9h0m2-4h0m5 2h0m401 7h0m3 2h0m0 3h0m7-9h0m3-7h0m2 6h0m3 8h0m1-20h0m2 12h0m1-1h0m4-11h0m2 15h0m5-6h0m0 9h0m3 0h0m2-14h0m1 8h0m3 3h0m5-8h0m2 1h0m3 13h0m5-8h0m3-7h0m7 12h0m2 4h0m2-2h0m4-10h0m4 2h0m0 4h0m3-2h0m1 6h0m2-6h0m3 0h0m7-1h0m1-10h0m2 4h0m3-3h0m0-4h0m0 1h0m1 9h0m0 1h0m2-10h0m2 16h0m5-9h0m0 8h0m8-9h0m1 6h0m3 9h0m1-22h0m4 2h0m0 6h0m3-7h0m1-2h0m2 3h0m2-3h0m0 6h0m3 10h0m1-4h0m8 5h0m2-11h0m2-6h0m8 6h0m2 5h0m0 2h0m2-2h0m1-1h0m7 13h0m2-18h0m10 5h0m0 1h0m3 5h0m3-10h0m4-2h0m10 10h0m11-2h0m5-7h0m2-4h0m6 12h0m2 7h0m12-6h0m2-2h0m2-11h0m1 6h0m1-6h0m4 21h0m1-19h0m3 2h0m4 1h0m3 12h0m3 0h0m0-18h0m1 11h0m3 11h0m0-19h0m9 6h0m12 2h0m11 8h0m9 0h0m4 3h0m0-16h0m13-2h0m3-4h0m27 10h0m2 3h0m3-1h0m31 8h0m23 1h0m0-21h0m1 41h0m-10-16h0m0 20h0m-23-8h0m-24-10h0m-7 2h0m-13 9h0m-8-11h0m-3 18h0m-14-12h0m-6-2h0m-6 10h0m0-4h0m-6-13h0m-9 15h0m-4-5h0m-1 9h0m-4 3h0m-10-9h0m-8-11h0m-9 8h0m-5 4h0m-3-4h0m-3-4h0m-27 13h0m-2-1h0m-6-16h0m-7 4h0m-1 12h0m0-10h0m-1 6h0m-10-8h0m0 6h0m-9-1h0m-1-7h0m-4-3h0m-2 11h0m-17 5h0m-9-15h0m-2 0h0m-12 0h0m-1 20h0m-4-16h0m0 14h0m0-2h0m-3-8h0m-5-5h0m-5 7h0m-1-9h0m-4 3h0m-6-5h0m-2 13h0m0 8h0m-4-6h0m-2-12h0m-4 6h0m0 7h0m0-4h0m-5 0h0m-2-5h0m-4 15h0m-5-19h0m-4 16h0m-12-3h0m-2-17h0m-1 12h0m0-8h0m-2 8h0m-7 6h0m-1 5h0m-1-2h0m-1-16h0m0 16h0m-2-16h0m0-5h0m-14 23h0m-11-7h0m-2-15h0m-4 20h0m-1-20h0m0 1h0m-1 5h0m-1 5h0m-1 9h0m-1-20h0m-2 1h0m-1 19h0m-1-17h0m-5 17h0m0-4h0m-2-4h0m-3 1h0m-1-1h0m0 7h0m-6-6h0m-1 8h0m-2 0h0m0-2h0m-1-4h0m-2 1h0m-5 0h0m-7-2h0m-3 0h0m-1 2h0m-4 6h0m-7-4h0m-1 3h0m-4-10h0m0 0h0m-1 8h0m0-7h0m-1 2h0m0 1h0m-1 6h0m-1-10h0m-1-5h0m0 6h0m-1-5h0m-2 2h0m-1 3h0m-2 3h0m0-1h0m-1-1h0m-1 3h0m-2-9h0m0-3h0m-2 11h0m-1-2h0m-2-8h0m-1-2h0m-1 3h0m0-1h0m-1 3h0m0 0h0m-1-2h0m-2 5h0m0-7h0m-2 3h0m-1 4h0m0 10h0m-5-2h0m-324-16h0m-1 5h0m-1 7h0m-1-9h0m-3-3h0m-7-1h0m-3 20h0m0 0h0m0-12h0m0 11h0m-3-3h0m0-16h0m-2 3h0m-11-6h0m-6 3h0m-1 2h0m0 6h0m-5-9h0m-3 10h0m-4 2h0m-6-6h0m-2-3h0m-3 17h0m0-7h0m-3-14h0m-1 14h0m-1-14h0m-4 8h0m-3 13h0m-27 0h0m-6-13h0m-18-7h0m-7 22h0m32 15h0m3 8h0m27-8h0m5 3h0m1-4h0m24-8h0m1 4h0m3 13h0m3-18h0m0-4h0m5 6h0m5 14h0m3-12h0m0-3h0m1 15h0m1-1h0m2-12h0m1 3h0m1 0h0m2-5h0m1 12h0m0 3h0m1-17h0m1 13h0m0-4h0m1-4h0m1-5h0m3-3h0m0-1h0m281 19h0m3 3h0m1 1h0m1-8h0m3-1h0m1 6h0m0-2h0m0 0h0m0-3h0m0 2h0m3-2h0m2 4h0m2-2h0m1-5h0m1 11h0m4-10h0m3 0h0m1-3h0m1 12h0m1 1h0m7-12h0m5 7h0m0-4h0m0 8h0m2-1h0m3-7h0m4-14h0m4 7h0m0 12h0m3 1h0m3-6h0m2-8h0m0 11h0m3 2h0m2-1h0m4-1h0m4 2h0m3-13h0m1 9h0m0 3h0m0-7h0m1 2h0m0-12h0m0 10h0m4-10h0m8 17h0m2-10h0m1-7h0m2 13h0m3-4h0m4-4h0m3 10h0m11-10h0m5 10h0m1 4h0m9-13h0m2 10h0m1-5h0m3 2h0m0-9h0m5 2h0m9-3h0m5 15h0m2-14h0m2 14h0m9-16h0m8 4h0m6-3h0m8 17h0m14-4h0m2-5h0m5-6h0m7-2h0m10 3h0m9 9h0m15 3h0m2-17h0m14 4h0m4-2h0m23 11h0m3-7h0m15-1h0m10-1h0m3 12h0m5 5h0m12-4h0m18 2h0m5-18h0m4 15h0m23-13h0m9-3h0m15 16h0m23 2h0m14-18h0m7 21h0m10-14h0m7 7h0m0-10h0m12 15h0m29-15h0m6 5h0m10 6h0m15 23h0m-14 0h0m-2-12h0m-11 15h0m-35-9h0m-12 4h0m-3 5h0m-11-5h0m-11-9h0m-13 15h0m-36-11h0m-9 13h0m-27-6h0m-24-15h0m-6 7h0m-16 1h0m-3 14h0m-32-16h0m-38-3h0m-18 7h0m-7 4h0m-10 3h0m-8-17h0m-33 18h0m-7 0h0m-4-18h0m-7 19h0m0-18h0m-9 16h0m-6-2h0m-1-10h0m-6 15h0m-5-7h0m-3 5h0m-9-13h0m-5 3h0m-2-2h0m-2 5h0m-15-4h0m-4-4h0m-1 10h0m-2-14h0m-4 1h0m-1 14h0m-3 0h0m-1 3h0m-6-18h0m-1 23h0m-1-13h0m-5-5h0m0 18h0m-1-18h0m-1 3h0m-1 10h0m-1-18h0m-4 4h0m-1 13h0m-1-13h0m-2 0h0m-3 2h0m0-3h0m-1 6h0m-1-3h0m0 0h0m-4 8h0m0-9h0m-4 1h0m-1-2h0m-2-1h0m-2 10h0m-1 3h0m-4 5h0m-3-4h0m-8 1h0m-6-11h0m-1 3h0m-3-4h0m0 11h0m-5 3h0m-2-13h0m-1 8h0m-4 5h0m-6 0h0m-19-1h0m-6-4h0m-4 7h0m-2-14h0m-1-2h0m-1-3h0m0 0h0m-2 2h0m-1 7h0m0 11h0m-2-18h0m0 12h0m-1 1h0m0-9h0m-1 1h0m-1-1h0m-1-2h0m-1 8h0m0-3h0m-1-8h0m-1 6h0m0-2h0m-1 4h0m-1-1h0m0-7h0m-1 7h0m-5-7h0m-1 1h0m-1 14h0m-1 2h0m-1-1h0m0-15h0m-2 6h0m-2-7h0m-1 2h0m-2 6h0m0 8h0m0 1h0m-1 0h0m-1-6h0m0 4h0m-2 3h0m0-5h0m0-3h0m-1 9h0m-4-15h0m-1 15h0m-1-1h0m-7-16h0m-3 17h0m0-2h0m0 0h0m-1-3h0m-1 3h0m0-5h0m-3 3h0m0 4h0m0-5h0m-11 1h0m-1 2h0m0-3h0m-1 5h0m-3-2h0m-7 0h0m-1-3h0m-107 0h0m-2 3h0m-3-5h0m-3 3h0m-7 4h0m-28-2h0m-10-15h0m0 8h0m-1 6h0m-4-11h0m-5 11h0m-5-20h0m-1 6h0m-6 7h0m0-4h0m-1-6h0m-2-1h0m-2 6h0m-1-8h0m-11 11h0m-6-4h0m-5-5h0m-6 13h0m0 3h0m-12-4h0m-8-14h0m-4 6h0m-6 6h0m-11-6h0m-7-3h0m-9-3h0m-5 10h0m-1-8h0m-3 14h0m-3-16h0m-73 37h0m3 8h0m7-2h0m8-18h0m3 1h0m15 9h0m9-5h0m23 9h0m37-4h0m5-5h0m4-6h0m9 18h0m16-8h0m5-8h0m5 0h0m8 0h0m1 20h0m3-8h0m1-11h0m2-1h0m1-2h0m4 20h0m13 1h0m7-17h0m1-1h0m0 14h0m2 1h0m1-11h0m1 1h0m1-4h0m2 19h0m5-10h0m0 1h0m1-3h0m2 4h0m1 6h0m1 0h0m0-9h0m1 4h0m9-9h0m2 0h0m2-5h0m1 20h0m1-20h0m0 16h0m2-10h0m3 9h0m2-11h0m4 12h0m0-5h0m2-6h0m3-2h0m0 3h0m1 5h0m2-11h0m2 9h0m3 11h0m2-20h0m7 6h0m6-8h0m1 12h0m0 4h0m0-6h0m1 5h0m2-15h0m3 7h0m1-6h0m1 5h0m0 9h0m9-7h0m2 8h0m3-8h0m0 6h0m6 5h0m5-9h0m0 2h0m4-6h0m1 6h0m1-6h0m0 5h0m0-6h0m4 15h0m1-7h0m2 3h0m4 0h0m0-7h0m6-2h0m2 1h0m1 9h0m6-10h0m1-1h0m3 4h0m0 7h0m0-11h0m1 14h0m2-13h0m3 5h0m3 2h0m2-2h0m3 7h0m2-9h0m0-5h0m1 10h0m1-3h0m1 6h0m0-8h0m1 0h0m2 9h0m3-11h0m3 9h0m1-5h0m0 5h0m0-16h0m0 2h0m0 14h0m1-17h0m1 4h0m0-4h0m3 0h0m3 1h0m2 1h0m3 5h0m3-5h0m1 0h0m1 11h0m1-8h0m2 5h0m1-3h0m2 13h0m1-4h0m2-5h0m0-7h0m2 19h0m0-19h0m0 5h0m1-5h0m1 7h0m3 0h0m2-11h0m1 12h0m1-3h0m0-7h0m1 9h0m1 5h0m0 3h0m3-13h0m2-2h0m0 9h0m5-13h0m1 20h0m3-14h0m1 1h0m2 4h0m2 1h0m0-6h0m0 14h0m1-11h0m1-2h0m0 2h0m3 8h0m0 2h0m14 0h0m1-16h0m2 5h0m1 7h0m2 2h0m1-2h0m0-1h0m10-10h0m2 4h0m2-8h0m2 13h0m0 8h0m1-8h0m1 3h0m0-12h0m2 7h0m2-5h0m2 8h0m5-3h0m7 12h0m1-20h0m3-3h0m1 1h0m0 1h0m3 13h0m0 1h0m0-1h0m1 8h0m1-14h0m0-1h0m0-2h0m3 16h0m3-2h0m5-14h0m5 13h0m3-11h0m2 10h0m4 3h0m1-20h0m1 11h0m2-3h0m4-4h0m0 2h0m2 5h0m6 0h0m0-6h0m2 2h0m8-4h0m3 3h0m3 1h0m14 11h0m3 4h0m6-12h0m35 0h0m21-6h0m1-3h0m10 12h0m9-7h0m11 15h0m11-12h0m4 9h0m19 3h0m34 1h0m10-10h0m26-12h0m3 1h0m18 13h0m28-14h0m16 21h0m16-6h0m81 0h0m4 2h0m8-11h0m3 13h0m32-7h0m8-11h0m24 2h0m19 6h0m14 1h0m-66 16h0m-4 15h0m-20-8h0m-144 5h0m-33 8h0m-8-8h0m-6-1h0m-15 2h0m-2-3h0m-23 2h0m-17-9h0m-34-1h0m-13 0h0m-37 15h0m-18-9h0m-6 6h0m-17-10h0m-8 11h0m-13 2h0m-22-19h0m-1 10h0m-18-7h0m-13 0h0m0 12h0m-9 1h0m-1 4h0m-4-10h0m-1-9h0m-2 0h0m-1 3h0m-2-3h0m-7 0h0m-10 6h0m-5-3h0m-3-3h0m0 9h0m-2-11h0m-2 19h0m0-17h0m-6 14h0m-1-14h0m-10 14h0m-1-10h0m-1-4h0m-2 16h0m-5-14h0m-2 0h0m-1 19h0m-2-19h0m-1 19h0m-2-22h0m-5 2h0m-3 6h0m-2 10h0m-2-5h0m0 8h0m-5-15h0m-3 12h0m0 0h0m-2-3h0m0-8h0m0 1h0m-2-9h0m-10 9h0m-3-3h0m-2 2h0m-2 7h0m-1 4h0m-4-11h0m-1 3h0m-3 5h0m-1-4h0m-2 0h0m-3-11h0m-1 21h0m0-12h0m-1-6h0m-2 15h0m0-9h0m-1-9h0m-2 1h0m-1 9h0m0 5h0m-5 3h0m-1 1h0m-1-1h0m-1-9h0m0 5h0m-2-13h0m-7 7h0m-1-7h0m-2 8h0m0 2h0m-10 11h0m-1-1h0m-4-8h0m0-12h0m-1 9h0m-1-5h0m-1-1h0m-2 2h0m-2-3h0m-2 13h0m-1-17h0m-8 9h0m-12-2h0m0 15h0m-2-7h0m0 6h0m0 1h0m-6-9h0m-3 1h0m0 6h0m-1-14h0m-1-2h0m-1 14h0m-2 3h0m-1-11h0m-1-1h0m-1 0h0m-1 7h0m-3-7h0m-2 10h0m0-6h0m-5 1h0m-2-3h0m-2-8h0m-7 8h0m-4 2h0m-2 10h0m-4-12h0m0 7h0m0-15h0m-4-3h0m-1 14h0m-8 4h0m0 1h0m-2-16h0m-4 17h0m-1-5h0m-9-13h0m-1 6h0m-2 5h0m-8-9h0m-8 3h0m-2-3h0m-1 15h0m-2-10h0m-17 6h0m-7-8h0m-4 1h0m-2 2h0m-5 7h0m-8-8h0m-11 3h0m0-11h0m-2 3h0m-7 1h0m-3 0h0m-36 7h0m-7-5h0m-9 16h0m-20-9h0m-2 5h0m-3 3h0m-17-14h0m-15 10h0m-62 25h0m12-12h0m64 16h0m3-5h0m0-18h0m1 18h0m1 1h0m43-9h0m12 9h0m10 0h0m22-13h0m6 0h0m0 3h0m46-4h0m2 8h0m7 6h0m0-16h0m2 20h0m1-21h0m5 20h0m1-3h0m1-11h0m4-5h0m11 10h0m11-2h0m2 4h0m1-5h0m3 13h0m6-15h0m6 7h0m2-8h0m6 15h0m8 1h0m6-8h0m3-10h0m0 3h0m2 10h0m5-18h0m6 4h0m6-2h0m6 14h0m3-5h0m4 12h0m8-17h0m14 13h0m3-10h0m0-8h0m2 2h0m4 7h0m2-3h0m9-5h0m4-2h0m11 20h0m8-13h0m0-1h0m7-5h0m0 5h0m6 7h0m5 2h0m2-5h0m6 8h0m1-11h0m4-4h0m12 15h0m3 0h0m0-13h0m1-3h0m2 10h0m8-5h0m14 14h0m1 0h0m11-11h0m10-9h0m4 2h0m0 5h0m2-3h0m4 5h0m15-6h0m15-1h0m2 2h0m7 8h0m6-8h0m9 8h0m14 7h0m5-5h0m10-2h0m5 8h0m9-15h0m1 1h0m17 13h0m43-9h0m11-11h0m2 20h0m2-10h0m3 2h0m11 6h0m2-2h0m21 0h0m4-5h0m6-6h0m1 3h0m11-5h0m2 20h0m7-11h0m27-6h0m11 5h0m7 6h0m132-10h0m16-4h0m77 30h0m-8 4h0m-178 7h0m-12-7h0m-33 10h0m-8-2h0m-77-19h0m-5 14h0m-9 7h0m-14-18h0m-3 6h0m-14-7h0m-6 9h0m-1-9h0m0-2h0m-28 3h0m-20 0h0m-54 1h0m0 14h0m-9 1h0m-13-19h0m-4 19h0m-6-18h0m-13 20h0m-1-18h0m-12 1h0m-3 2h0m-6-3h0m-1 17h0m-13-14h0m0 7h0m-39-13h0m-7 12h0m-4-12h0m-13 9h0m-20 12h0m-7-21h0m-20-1h0m0 17h0m-1-4h0m-7 8h0m-1-1h0m-4-16h0m-6 10h0m-8 7h0m-2-18h0m-10 15h0m-16-10h0m-8-2h0m-15 12h0m-16-8h0m-8-1h0m-5-2h0m-1 6h0m-5-1h0m0 2h0m-27-2h0m-13-12h0m-3 21h0m-1-1h0m0-12h0m-3 12h0m-3-4h0m-43 1h0m-34-13h0m-2 8h0m-30 4h0m-16-3h0m-3 7h0m-13-6h0m-1-8h0m-13-5h0m-46 9h0m-16 22h0m18 5h0m34 8h0m57-9h0m24-11h0m5-1h0m43 7h0m3 0h0m28 5h0m4-7h0m9 3h0m30 1h0m10 6h0m2 0h0m0 7h0m43-19h0m9-1h0m27 18h0m1-15h0m3 10h0m3 2h0m9 5h0m12-23h0m31 14h0m10-9h0m18 13h0m4-4h0m12-13h0m0 5h0m13-4h0m2 10h0m8-6h0m5 14h0m18-13h0m9-4h0m7-3h0m5 13h0m24-1h0m1-1h0m18 7h0m10-8h0m63 8h0m1-15h0m145 20h0m33-17h0m103 8h0m14-5h0m79 6h0m20-6h0m8 1h0m22 18h0m-75 2h0m-102 12h0m-102 3h0m-27-7h0m-21-1h0m-34 2h0m-5-6h0m-21 7h0m-4 0h0m-18-7h0m-9 6h0m-20-13h0m-18 9h0m-5-3h0m-1-7h0m-14 2h0m-20 10h0m-11 0h0m-1-1h0m-7-5h0m-16-7h0m-3 11h0m-5-7h0m-14 16h0m-51-18h0m-15 18h0m-6-13h0m-1 4h0m-4-10h0m-8-1h0m-40 20h0m-35-7h0m-12 3h0m-1-1h0m-18-7h0m-3 1h0m0 5h0m-23 8h0m-27-7h0m-11-5h0m-13 7h0m-6-16h0m-5 4h0m-45-4h0m-2 22h0m-11-23h0m-11 6h0m-23 9h0m-1-1h0m-2 8h0m-5 0h0m-15-22h0m-5 3h0m-30 16h0m-24 3h0m-69-3h0m-1-1h0m-13-7h0m42 19h0m6 15h0m26-10h0m10 9h0m15-17h0m3 0h0m16 1h0m15 1h0m14 4h0m11 7h0m10-15h0m76 1h0m12 5h0m26 7h0m10-6h0m9-4h0m30 10h0m1-5h0m6-3h0m9-5h0m3 12h0m0 9h0m15-9h0m4 8h0m32-14h0m2 11h0m5-4h0m6 5h0m0-2h0m46 1h0m2-5h0m5-2h0m3 7h0m11-10h0m26 15h0m7 0h0m21-17h0m8-3h0m18 8h0m8-3h0m4 0h0m9-1h0m39 0h0m21-4h0m15 6h0m26 13h0m14-3h0m56 0h0m32-9h0m15 0h0m29 5h0m54-5h0m112 11h0m132 16h0m-18 1h0m-96 9h0m-69-2h0m-132-3h0m-28-14h0m-33 12h0m-62 6h0m-31-21h0m-6 10h0m-11-2h0m-49 14h0m-9-9h0m-19-4h0m-8-4h0m0 11h0m-1 6h0m-14-15h0m-12 15h0m-18-23h0m-3 14h0m-1-2h0m-10-1h0m-4-4h0m-8 11h0m-24-5h0m-4-2h0m-20 0h0m-15-11h0m-26 20h0m-4-10h0m-34 6h0m-29 2h0m-6 0h0m-6-2h0m-27 5h0m-7-11h0m-23 11h0m-54-2h0m-11-19h0m-9 18h0m-10 3h0m-1-18h0m-21 6h0m-98-7h0m-19 15h0m-14-3h0m-55-11h0m4 38h0m156-8h0m15-9h0m31 3h0m3 15h0m19-11h0m4 5h0m13-12h0m7 17h0m70-14h0m32 1h0m4-3h0m7 5h0m17-6h0m63 14h0m28-14h0m38 23h0m8-23h0m2 3h0m11-1h0m23 11h0m3 9h0m11 0h0m65-19h0m30 8h0m27 1h0m16-10h0m65 15h0m9-8h0m17-5h0m86 3h0m24-4h0m77 0h0m156 43h0m-105-9h0m-26 1h0m-138-14h0m-10 22h0m-100-10h0m-44-7h0m-1 0h0m-1 8h0m-35-3h0m-43-6h0m-18 8h0m-41 1h0m-42-1h0m-17 6h0m-28 0h0m-1-13h0m-12 10h0m-61 5h0m-13-14h0m-7-5h0m-38 17h0m-3-18h0m-10 18h0m-32-5h0m-10 3h0m-4-9h0m-16 14h0m-18-2h0m-10-14h0m-16 9h0m-8-5h0m-1 11h0m-11-6h0m-9-9h0m0-4h0m-114-1h0m-4 16h0m-6 3h0m-63-19h0m-5 6h0m-5 17h0m-10 23h0m52-14h0m8 12h0m20-10h0m37-9h0m59 22h0m19-21h0m4 1h0m17 0h0m10 12h0m34-8h0m2-3h0m39 3h0m66-7h0m1 21h0m17-12h0m18 5h0m51 7h0m2-5h0m16-13h0m34 13h0m59 1h0m26 6h0m5-15h0m30-3h0m9 10h0m52-12h0m77 0h0m2 6h0m81 11h0m4-12h0m37 8h0m2 4h0m143 0h0m40-11h0m36 12h0m22 14h0m-155-5h0m-40 14h0m-51-15h0m-123-5h0m-6 23h0m-52-15h0m-2 9h0m-25-1h0m0 2h0m-14-16h0m-13 3h0m-33 4h0m-13-1h0m-3 0h0m-71 10h0m-2-3h0m-17-7h0m-11-4h0m-18 9h0m-47-4h0m-26 14h0m-27-14h0m-24-2h0m-34 3h0m-20 8h0m-1 5h0m-26-18h0m-50-1h0m-5 3h0m-66 11h0m-8-7h0m-85 9h0m-1-13h0m-27-6h0m-19 7h0m-11-7h0m84 45h0m18-1h0m5-3h0m18-8h0m20 4h0m48-3h0m1 7h0m50-18h0m7 0h0m19 15h0m11 0h0m36-7h0m17 8h0m50 7h0m2-1h0m29-21h0m1 7h0m4-4h0m15 1h0m78 11h0m16 2h0m25-18h0m5 21h0m23-19h0m6 2h0m17 16h0m61-9h0m11-11h0m49 2h0m86 14h0m8-4h0m27-8h0m3 15h0m4-8h0m-87 23h0m-27 3h0m-190 2h0m-2-15h0m-6 12h0m-40 8h0m-8-20h0m-6 15h0m-8-8h0m-19 11h0m-2 4h0m-23 1h0m-21-2h0m-34 1h0m-8-11h0m-12 10h0m-18-18h0m-38 19h0m-20-3h0m-50-1h0m-13-13h0m-143 9h0m-13-12h0m-7 8h0m-25 10h0m-32-17h0m-8 3h0m39 33h0m47 4h0m51 0h0m28-1h0m18-13h0m6 10h0m10 0h0m2-12h0m60-3h0m9 3h0m31 11h0m18-13h0m37 4h0m50 5h0m1 3h0m33-11h0m68 1h0m41 15h0m7-3h0m21-1h0m115-13h0m22 15h0m1-14h0m92 14h0m46-9h0m51 5h0m222-9h0m30 13h0m-62 20h0m-77-6h0m-27-5h0m-239 22h0m-27-3h0m-71-3h0m-8-13h0m-44 15h0m-79-11h0m-117 0h0m-15 11h0m-19-1h0m-9 1h0m-41 4h0m-10-20h0m-20 3h0m-34 5h0m-23 1h0m-30 2h0m-59-3h0m-52 10h0m-46-20h0m11 29h0m51 0h0m76-5h0m107 7h0m92-2h0m81-4h0m245 2h0" stroke="#a0a0a4" stroke-width="13.6" stroke-linecap="round" fill="none"/><path transform="scale(.5)" d="M3065 1951l-6 8l1 9l5 5l18 2l9 10l9 1l7 9l11 2l3 4l0 22l-12 14l1 9l7 7l1 30l5 5l7 2l21 0l7-2l6-8l0-26l-9-11l5-2l9-12l26 1l7-2l6-8l-1-9l-5-5l-7-2l-1-8l-9-8l-6-1l-2-8l-5-5l-7-2l-6 2l-23 0l-3-3l0-28l-8-9l-10 0l-9 7l-23 2l-6 5z" fill="#f84444" fill-rule="evenodd"/><path transform="scale(.5)" d="M3189 1704h0m-71 1h0m78 33h0m16 4h0m64 27h0m-67-4h0m-7-8h0m-18 6h0m-102-9h0m-31 42h0m71-9h0m20-5h0m13 3h0m55 8h0m30 17h0m-19 5h0m-4-14h0m-38 11h0m-3 0h0m-3 0h0m-3-2h0m-4 9h0m-1-14h0m-57 5h0m-7-1h0m-2 1h0m-25 0h0m-3-4h0m-17 17h0m-9-5h0m-8-6h0m-49 10h0m75 4h0m10 19h0m6-20h0m1 20h0m1-1h0m28-14h0m21 8h0m7-7h0m8 10h0m4-8h0m2 3h0m9 10h0m1-12h0m4-1h0m6 11h0m2-20h0m7 10h0m2-6h0m1 4h0m8 2h0m4-1h0m14 1h0m10 1h0m3 0h0m10 3h0m9 7h0m8-20h0m122 2h0m32 36h0m-70-15h0m-4 10h0m-9 0h0m-52 12h0m-11-8h0m-5 8h0m-1-10h0m-5 7h0m-14-8h0m-13-10h0m-8-1h0m-2 4h0m-19 4h0m-4 5h0m-14 8h0m-4-7h0m-8-10h0m-5 18h0m-1-1h0m-15-20h0m-1 17h0m-11-12h0m-7-4h0m-1 4h0m-2-4h0m-13 16h0m-2-15h0m-4-2h0m0 20h0m-11-4h0m-6-11h0m-5-1h0m-7 11h0m-3-9h0m-4 10h0m-2 6h0m-2 0h0m-5-5h0m-1-9h0m-6 10h0m-2-5h0m-12 4h0m-17-7h0m-2 8h0m-1-9h0m-5-4h0m-44 2h0m26 32h0m8 1h0m4 5h0m1 1h0m17-8h0m3 6h0m8-8h0m15 10h0m8-19h0m22 2h0m7 17h0m4-16h0m2 6h0m2-4h0m2-2h0m2 0h0m1 1h0m7-6h0m4 19h0m2-20h0m3-1h0m2 17h0m3 3h0m2-4h0m6-6h0m2-9h0m1 15h0m0-3h0m2 3h0m0-16h0m1 17h0m1 2h0m4-14h0m0 6h0m1 1h0m4 3h0m1-13h0m5 4h0m3 0h0m9 10h0m3-9h0m1-7h0m0 5h0m1 0h0m1-1h0m1-3h0m3 6h0m1 7h0m2 8h0m10-10h0m7 9h0m3-2h0m2 2h0m2-17h0m20 16h0m14-11h0m19 13h0m0-1h0m3-15h0m9 7h0m13-12h0m0 13h0m24 0h0m4-5h0m138 10h0m-47 10h0m-93 1h0m-6-5h0m-11 16h0m-16-4h0m-2-11h0m-1 9h0m-3-6h0m-12 16h0m-2-6h0m-1-5h0m-1-10h0m-5 22h0m-20-1h0m-3-17h0m-2 11h0m-2-1h0m-5 2h0m-1 1h0m0 0h0m-4-9h0m0-6h0m-5 16h0m-2-17h0m-2 7h0m-1 0h0m-3-3h0m-1-4h0m-2 11h0m0 4h0m-3-15h0m-3 6h0m-1 11h0m-3-9h0m-3-2h0m-2-3h0m-1 1h0m-2-4h0m-1 12h0m0-4h0m-3 0h0m0 0h0m-4-5h0m0 5h0m-5 13h0m-1-2h0m0-17h0m-4 17h0m0-13h0m-2 4h0m-1 6h0m-2 1h0m0 3h0m-5-12h0m-4 13h0m-4-18h0m-1 1h0m-1-3h0m0 4h0m-9 15h0m0-10h0m-1 4h0m-9-14h0m-5 14h0m-1-1h0m-9 1h0m-3 1h0m-2-3h0m-3-3h0m-1 3h0m0-8h0m0-3h0m0 1h0m-3 15h0m0-1h0m-2-8h0m-2 0h0m-3-9h0m-3 2h0m-3 13h0m-1 3h0m-8-18h0m-1 17h0m-1-12h0m-2 14h0m-2-7h0m-3-3h0m-1-4h0m-1 5h0m-8-8h0m-3 15h0m-2-15h0m-2 16h0m-1-5h0m-5-9h0m-8 8h0m-1-10h0m-2 11h0m-2-12h0m-32 4h0m-48 28h0m17-6h0m18 7h0m6 4h0m11 8h0m1-16h0m13 15h0m5-1h0m7-11h0m26-3h0m1 3h0m7-8h0m0 21h0m6-7h0m5 6h0m14-3h0m0-12h0m2 4h0m1-10h0m3 9h0m1 6h0m0 6h0m4-1h0m2-5h0m4 1h0m3 1h0m2 5h0m1-6h0m0 3h0m5 1h0m3-1h0m1-13h0m2 2h0m3 5h0m4 7h0m0-11h0m5 7h0m1-6h0m4-4h0m1 5h0m1 4h0m0 8h0m7-5h0m3-15h0m1-2h0m2 15h0m1 1h0m2-12h0m3 2h0m0 6h0m3-5h0m3 11h0m1-19h0m1 7h0m0 8h0m1-14h0m4 10h0m2 8h0m2-2h0m0-6h0m0 2h0m2-3h0m3-7h0m7 16h0m2 1h0m1-14h0m2 7h0m8 5h0m6-17h0m1 19h0m0-19h0m0 5h0m2 0h0m4 13h0m6-17h0m0 8h0m4 13h0m3-14h0m1 12h0m1-8h0m2 4h0m1-8h0m1 11h0m4-10h0m0-8h0m6 0h0m2 8h0m1 9h0m9-2h0m12 3h0m3-8h0m5 7h0m7-12h0m3 2h0m30-9h0m19 17h0m23-12h0m8 18h0m75-5h0m-82 26h0m-8-14h0m-1 1h0m-28 2h0m-25 9h0m-2-6h0m-3 6h0m-1-13h0m-1 5h0m-12 6h0m-8-12h0m0 9h0m0-2h0m-1 0h0m-1-5h0m-4 12h0m0-5h0m-2-7h0m-4 12h0m-6-8h0m-2-10h0m-1 13h0m-1-5h0m-8 10h0m-3-17h0m-1 19h0m-3-4h0m-2-8h0m0 6h0m-1-14h0m-2 7h0m-4 11h0m0-18h0m-5 3h0m-1 7h0m-3 4h0m-1 9h0m-2-2h0m-4-17h0m-2 14h0m-4-3h0m0-11h0m0 7h0m-1-6h0m0 13h0m-6 0h0m-1 2h0m-1 0h0m-1-16h0m-3 1h0m-1 13h0m-4-6h0m-3 5h0m-1-15h0m-1 21h0m-1-12h0m-3 2h0m-1-8h0m0 11h0m-1-11h0m-1 12h0m-1-4h0m0-11h0m-1 4h0m-2-4h0m-5 3h0m-5-3h0m-1 2h0m-1 18h0m-1-15h0m-2 3h0m-2 2h0m0 3h0m0-9h0m-1 10h0m-4-2h0m-1-2h0m-1 0h0m0 3h0m0-10h0m-1 10h0m-1-7h0m0 10h0m-1-9h0m-22-5h0m-5 0h0m-17 2h0m-8 5h0m-3-10h0m-4 6h0m-3 4h0m0 11h0m-1 1h0m0-2h0m-5-9h0m-1 9h0m-3-7h0m-3 3h0m-1-6h0m-2 12h0m-1-6h0m-1-3h0m0-6h0m-4 1h0m-7 5h0m-18 7h0m-4-1h0m-9-17h0m-1 17h0m-11-2h0m-6-1h0m-10 6h0m-1-10h0m-1 4h0m-2 4h0m-2-14h0m-2 12h0m-7-5h0m-23 1h0m-1 4h0m-5-14h0m-53 14h0m-4-14h0m-45 15h0m93 12h0m1 5h0m35-2h0m9 10h0m7-10h0m3 0h0m5-9h0m0 19h0m6 2h0m0-1h0m1-6h0m1-15h0m0 9h0m7 11h0m5-3h0m2 1h0m6-4h0m0 5h0m3-4h0m10 5h0m5-16h0m3 18h0m7-10h0m8 5h0m0-1h0m5-16h0m1 11h0m1-3h0m0 1h0m1 5h0m5 5h0m0-2h0m1 2h0m4-16h0m1 10h0m8-7h0m3 0h0m2 7h0m0 1h0m3-15h0m0 8h0m1 4h0m1 4h0m2 3h0m2-15h0m1 12h0m0 4h0m1 1h0m2-8h0m6-1h0m6 0h0m1 1h0m3 7h0m19-20h0m4 0h0m0 8h0m1-4h0m1 5h0m3 1h0m3 3h0m1-12h0m3 6h0m0 0h0m5-2h0m1-3h0m1 10h0m0-8h0m4 7h0m0-10h0m2 3h0m3-4h0m2 10h0m10-2h0m5 8h0m0-2h0m3-10h0m1 19h0m2-8h0m1-2h0m1-11h0m2 18h0m7 3h0m1-7h0m4-4h0m1-7h0m3 3h0m3-5h0m0 0h0m1 6h0m3 7h0m1-16h0m0 6h0m1-6h0m2 17h0m2-7h0m5 2h0m2 0h0m1-6h0m5 13h0m3 0h0m6-10h0m1 14h0m1-4h0m0-16h0m2 9h0m3-9h0m2 10h0m15-2h0m3-10h0m7 17h0m1-10h0m5-3h0m2 6h0m15-1h0m9-7h0m12 13h0m7-7h0m1 4h0m16-4h0m99 21h0m-89-4h0m-15 7h0m-29-8h0m-13 18h0m-3-4h0m-10-13h0m-2 21h0m-9-6h0m-6 5h0m-2-8h0m-2 9h0m-4-13h0m-3 5h0m-3-4h0m-5 7h0m-2-4h0m-1-11h0m-3 15h0m-12-15h0m-3 19h0m-2-16h0m0 14h0m-1-14h0m-1 9h0m-4 0h0m-1-14h0m-1 10h0m-1-6h0m-2 18h0m0-15h0m0 7h0m-1-2h0m-5-11h0m-1 15h0m-3 1h0m-3-15h0m-4 16h0m-1-16h0m-3 11h0m-6-13h0m-8-1h0m-50 16h0m0-1h0m-2-2h0m-2 7h0m-1-7h0m0-5h0m-2 0h0m-3 7h0m-3-14h0m-2 0h0m-1 6h0m-1 1h0m-1-8h0m-1 8h0m-1-3h0m-5-1h0m-1 13h0m0-8h0m-3 2h0m-1-7h0m0 14h0m-3-9h0m-4-7h0m-3-2h0m0 12h0m-1 8h0m0-5h0m-1 6h0m-5-18h0m0 13h0m-1 6h0m-2-6h0m-1 5h0m-3-8h0m-2 10h0m-4-13h0m-10 7h0m-1-12h0m-1 7h0m-1-10h0m-1 8h0m-4-2h0m-7 0h0m-1 2h0m-1 10h0m-1-16h0m-2 19h0m-5-4h0m0-6h0m-1 1h0m-1-5h0m0-1h0m-10-5h0m-3 0h0m-1 10h0m-10 0h0m-1-8h0m-1 8h0m-3 6h0m-3 0h0m-1-10h0m-9 4h0m-3-11h0m0 20h0m-1-16h0m-2-5h0m-1 14h0m-3-6h0m-5 7h0m-39-4h0m-55-10h0m-35 14h0m-19-15h0m13 37h0m46-8h0m45-4h0m2 20h0m13-6h0m1-8h0m16-1h0m3 16h0m17 0h0m2-8h0m9 3h0m6-18h0m14 22h0m1-16h0m6 0h0m5 16h0m2 0h0m3-21h0m3 6h0m0-3h0m0 12h0m1 5h0m0-11h0m8 11h0m1-1h0m3 1h0m2 2h0m0-12h0m0-1h0m1 13h0m1-23h0m5 16h0m0-11h0m3 18h0m1-14h0m8 5h0m1 5h0m2 3h0m3-7h0m0 5h0m1 0h0m4-14h0m1 16h0m2-14h0m1-8h0m3 6h0m1-1h0m1 3h0m2-5h0m1 7h0m2 4h0m0-13h0m0 17h0m0-6h0m0 8h0m1-4h0m0-8h0m4 10h0m6-6h0m0 2h0m1 3h0m2-8h0m0 5h0m2 9h0m0-10h0m2-1h0m0-5h0m2 5h0m0-3h0m0-2h0m1 10h0m0-9h0m2-3h0m0 1h0m0 17h0m2-13h0m1-2h0m1 13h0m1-8h0m8-5h0m37 13h0m3-10h0m0 2h0m4-1h0m2 5h0m6-9h0m4 2h0m2 8h0m5 3h0m3-14h0m3 4h0m5 10h0m2-7h0m0-10h0m3 8h0m1-3h0m2-2h0m3 3h0m1 3h0m0 4h0m1-14h0m1 14h0m2-7h0m2 4h0m2-5h0m2-5h0m3 5h0m3 4h0m7 9h0m2 0h0m5-3h0m6-4h0m3-15h0m8 14h0m21 0h0m1-13h0m39 8h0m72-7h0m24 40h0m-126-3h0m-31 7h0m-8-20h0m-11 6h0m-4 8h0m-1-10h0m-4 10h0m-3 7h0m-4-12h0m-16 11h0m-1-1h0m-1-21h0m-3 0h0m-1 8h0m-1-4h0m-9 16h0m-1-3h0m-10 2h0m-2-10h0m-1 0h0m0 1h0m-2 9h0m-5 3h0m0-6h0m0-16h0m-3 6h0m0 15h0m-7-6h0m-2 2h0m-4-7h0m-4-10h0m-26 10h0m-2 11h0m-3-11h0m-2 10h0m-3 0h0m-4-2h0m-1-11h0m-4-7h0m-3 12h0m-5-12h0m-3 20h0m-7 0h0m-3-1h0m-1 3h0m-1 0h0m-4-22h0m0 1h0m-2-1h0m-1 16h0m-1-11h0m0 5h0m-6 7h0m-3-13h0m0 9h0m-4 7h0m-2 2h0m0 0h0m-3-1h0m-1-9h0m-2-8h0m-3 0h0m-2 18h0m-3-1h0m-2-18h0m-1-3h0m0 17h0m0 6h0m-1-20h0m-1 1h0m-1 3h0m-1 8h0m0-4h0m-3 1h0m-3 3h0m0-2h0m-2 6h0m0-13h0m-4-3h0m-8 8h0m-2-3h0m-1 5h0m-15-1h0m-1-11h0m-23 16h0m-8-13h0m-13 10h0m-3 1h0m0-9h0m-7-4h0m-6 10h0m-2 5h0m0-10h0m-3 2h0m-7-2h0m-14 9h0m-38 5h0m-4-6h0m-11-14h0m-44 6h0m-28 32h0m22-1h0m11 8h0m17-16h0m5 11h0m6-4h0m11-8h0m14 8h0m4 10h0m5-10h0m5-10h0m1 3h0m25 10h0m0-16h0m11 19h0m1-8h0m9 10h0m13-19h0m2 5h0m1 10h0m2 3h0m6 2h0m1-13h0m0-6h0m1 12h0m3-5h0m5-5h0m9 2h0m5-4h0m2 7h0m2 3h0m9 3h0m2-11h0m2 12h0m3-9h0m3-2h0m0 12h0m2-7h0m1-6h0m5 18h0m6 0h0m2-13h0m5 3h0m5-13h0m1 19h0m6 0h0m1-2h0m1-14h0m1 20h0m0-7h0m1-9h0m3 5h0m4-4h0m1 8h0m11-6h0m4-8h0m1 19h0m0-20h0m5 0h0m1 0h0m1 18h0m2-13h0m1 8h0m1-8h0m1 5h0m1-11h0m1 0h0m3 8h0m0-2h0m3 13h0m1 4h0m2-18h0m3 14h0m0 0h0m0-13h0m2-6h0m1 5h0m4 10h0m8-5h0m1 9h0m3-2h0m3-13h0m3 14h0m0 0h0m2-3h0m1-13h0m3 2h0m1 6h0m1 8h0m8 4h0m1-2h0m9 0h0m10 0h0m3 0h0m4-16h0m1 19h0m0-17h0m5 10h0m2-4h0m4 11h0m2-23h0m5 15h0m2 7h0m1-5h0m2 2h0m2-18h0m5 16h0m3-2h0m0 2h0m2 6h0m3-21h0m1 17h0m3 0h0m0 3h0m6-2h0m2-1h0m2-17h0m6 11h0m2 1h0m14-6h0m3 1h0m4 14h0m1-14h0m4-8h0m2 0h0m12 2h0m9-3h0m96 5h0m28 12h0m20 20h0m-8-12h0m-163 4h0m-6-3h0m-2 10h0m-2-12h0m-2 7h0m-3-3h0m-2 7h0m-3-2h0m-21 8h0m-2-16h0m-3 22h0m-4-19h0m-6-4h0m-2 2h0m-1 12h0m-1-10h0m-1 15h0m-2-19h0m-3 17h0m-5-10h0m-4 9h0m-9-8h0m0 3h0m-2 11h0m-3-22h0m-2 12h0m-2 0h0m-4-8h0m-1-2h0m-4 0h0m-2 5h0m-6 14h0m-1-13h0m-2 4h0m0 2h0m-1-11h0m-2 1h0m-1 7h0m-1 5h0m0-16h0m-1 12h0m0 1h0m-1 8h0m0-19h0m-1 16h0m-2-1h0m-3-2h0m-2 8h0m0-8h0m-1 1h0m-2-9h0m0 15h0m-2-3h0m-1-19h0m-2 21h0m-6-5h0m-2-7h0m-2 1h0m-9-7h0m0 14h0m-1 2h0m-2-15h0m-3 17h0m-1-21h0m0 8h0m-1 3h0m0-6h0m-1 10h0m-5 3h0m0-4h0m-1 1h0m-2 1h0m0-5h0m-1 5h0m-1-6h0m0 13h0m-1-13h0m-6-4h0m-12 1h0m-7 3h0m-1 7h0m0 4h0m-2-19h0m-4-1h0m-9 4h0m-1 8h0m-2 0h0m-2-2h0m-2 2h0m-1 6h0m-1 4h0m-9-14h0m-1-1h0m0-4h0m-2 9h0m-4 10h0m-1-14h0m-1-9h0m-3 4h0m-6 1h0m-2 14h0m-3-2h0m-1 1h0m0-10h0m-4-7h0m-2 5h0m-1-5h0m0 22h0m-3-12h0m-2 4h0m0-3h0m0-3h0m-1 0h0m-3-3h0m-2 9h0m-1 5h0m-7-6h0m-1 2h0m-12-12h0m-1-1h0m-3 18h0m-5 0h0m-3-7h0m-27 1h0m-8 0h0m-1 7h0m-14-12h0m-2 9h0m0-11h0m-3 5h0m-2 3h0m-11-10h0m-6 4h0m-9-9h0m0 22h0m-52-8h0m-5-5h0m-21-4h0m-29 34h0m0 2h0m3-11h0m2-5h0m3 7h0m13 3h0m12-12h0m5 16h0m15-6h0m9 11h0m23-16h0m3 6h0m2 7h0m26-7h0m22-2h0m26-4h0m3 14h0m1 1h0m0 3h0m5-21h0m3 11h0m0-4h0m4 12h0m1-10h0m4 2h0m14 1h0m0 0h0m7-5h0m3-8h0m1 13h0m11 6h0m1-13h0m1-5h0m1 12h0m3 8h0m2-17h0m1-4h0m4-1h0m1 13h0m6 1h0m3-11h0m2 5h0m10-4h0m0 13h0m1-9h0m1-4h0m0 19h0m6-1h0m2-21h0m3 9h0m2-3h0m5 16h0m0-7h0m13-11h0m1 16h0m0-4h0m3-4h0m7 9h0m1-14h0m0 6h0m1-6h0m4 8h0m17-12h0m13 17h0m3-3h0m2-9h0m1 14h0m2 0h0m1-20h0m1 3h0m6 1h0m10 13h0m5-3h0m0-7h0m11-9h0m4 0h0m1 3h0m1-2h0m0-1h0m2 15h0m3-15h0m1 5h0m1 9h0m0-14h0m0 11h0m7 4h0m0-11h0m1 0h0m4 2h0m7 5h0m11 2h0m1-2h0m9-7h0m1 0h0m8 12h0m0-16h0m4 4h0m1 16h0m7-11h0m5 7h0m1-12h0m7 0h0m0-3h0m9 6h0m176 33h0m-211-14h0m-17-2h0m-5 12h0m0-3h0m-6 5h0m-3-8h0m-20-6h0m-4 21h0m-2-21h0m0 4h0m-7 6h0m-7 3h0m-4 0h0m-7-9h0m-6 8h0m-11 6h0m-11 0h0m-2-8h0m-4-4h0m-4 10h0m-1-6h0m-2 5h0m-1-6h0m-1-6h0m-1-4h0m-1 10h0m-3-9h0m-5 3h0m-3 13h0m-6 1h0m-5-10h0m-2 6h0m0-10h0m-3 1h0m-3 14h0m-4-3h0m0 7h0m-2-11h0m-6-5h0m-3-4h0m-4 8h0m-1 6h0m-2-1h0m-2-3h0m-15-5h0m-1 7h0m-2-7h0m-3 15h0m-2-3h0m-4-15h0m-1 17h0m0-15h0m-1-7h0m-2 14h0m-2 9h0m-7-14h0m-15 1h0m-2 7h0m-3-3h0m-1-14h0m-1 5h0m-5 7h0m-4-1h0m0 0h0m0 2h0m-5 3h0m0-1h0m-1-3h0m-1 7h0m0-11h0m-1 14h0m-9-20h0m-4 0h0m0 15h0m-1-16h0m-1 12h0m-1-6h0m-22 16h0m-4-9h0m-1-14h0m0 6h0m-4-5h0m-14 20h0m-6-11h0m-3-7h0m0 20h0m-5-10h0m0 0h0m-3-8h0m-2 17h0m-7-22h0m-5 10h0m-10-6h0m-5 0h0m-5 10h0m-6-4h0m-6-9h0m-7 11h0m-2-12h0m-7 14h0m-1-6h0m-26 11h0m-7-3h0m2 11h0m12 12h0m6-11h0m9 18h0m2-3h0m6-9h0m1 7h0m2-4h0m1-1h0m11-2h0m8 1h0m1 2h0m4 2h0m6 5h0m6-17h0m5 2h0m0 12h0m7 6h0m11-15h0m2 7h0m0 7h0m0-22h0m5 16h0m3-11h0m5 3h0m16-8h0m1 7h0m3 13h0m5-3h0m1 5h0m3-20h0m2 21h0m2-13h0m6 6h0m0 5h0m0-1h0m1-12h0m2-5h0m4 7h0m5 8h0m0-1h0m0 6h0m5-6h0m7-17h0m3 12h0m3-1h0m6-2h0m1 2h0m2-1h0m7 10h0m4-1h0m1-2h0m0-12h0m2 6h0m2-7h0m2 1h0m1 7h0m4 10h0m2 1h0m5-3h0m2-8h0m2-5h0m2 12h0m1-2h0m4-16h0m11 12h0m4-12h0m8 8h0m4 0h0m0-7h0m0 6h0m0 8h0m0-9h0m9 15h0m7 0h0m2-18h0m2 7h0m1-2h0m3-5h0m15 3h0m1 2h0m4-8h0m1 7h0m1 2h0m6 1h0m1 11h0m3-4h0m1-6h0m3-4h0m20 14h0m5-18h0m3 14h0m1-5h0m1-5h0m1 7h0m1-11h0m7 7h0m0 10h0m11-18h0m5 11h0m2-8h0m4 8h0m11 1h0m1 8h0m7-22h0m3-1h0m20 7h0m4-7h0m78 13h0m8 4h0m-112 13h0m-22 7h0m-13 5h0m-40-7h0m-4 6h0m-1-15h0m-1 5h0m-10 3h0m-2-4h0m-7-5h0m-10 20h0m-7-19h0m-5 19h0m-20-18h0m-1 18h0m-1-11h0m-1 0h0m-16-5h0m-2 1h0m0 6h0m-2 10h0m-11-3h0m-3-18h0m-1 0h0m0 4h0m-7-2h0m-4 17h0m-2-19h0m-3 1h0m-2 19h0m-6-13h0m-9-4h0m-2 12h0m-7-15h0m-2 9h0m-11 8h0m0-3h0m-4-14h0m-4 3h0m0 3h0m-2 4h0m-1 12h0m-1-8h0m-1-9h0m-2 4h0m0 2h0m-4 3h0m-12 0h0m-3-10h0m-7 10h0m-5-1h0m0-8h0m-3-5h0m-4 7h0m-4 3h0m-14 1h0m-5-1h0m-1-7h0m-5 17h0m-2-10h0m-5 12h0m-17-20h0m-4-3h0m-4 15h0m-1 4h0m-8-8h0m-2-8h0m-8 7h0m-2 5h0m-1-13h0m0 11h0m-1-11h0m-6 13h0m-5-11h0m-4 3h0m-4-3h0m-18 20h0m19 3h0m13 6h0m16-5h0m10 19h0m30-7h0m6-12h0m15 3h0m1 7h0m2-4h0m0 8h0m1-4h0m5-11h0m2-2h0m2 6h0m2 4h0m3 0h0m9 5h0m1 4h0m16-5h0m0-6h0m14 4h0m3-3h0m7-6h0m2 1h0m8 12h0m5 1h0m2-13h0m3 16h0m8-10h0m5 2h0m4-4h0m1 3h0m2-9h0m1-3h0m2 7h0m5 6h0m9-10h0m0 13h0m9 5h0m15-8h0m0-10h0m19 8h0m1-10h0m14 10h0m28-11h0m8 13h0m1-3h0m5-8h0m46 12h0m-51 14h0m-3 18h0m0-16h0m-10 7h0m-30-9h0m-6 2h0m-13 16h0m-8-13h0m-23 14h0m-10-9h0m-17-5h0m-10 12h0m-5-19h0m-9 7h0m-4-4h0m-8 15h0m-1-2h0m-1-6h0m-18-3h0m-15 4h0m-4 8h0m-13 1h0m-6-14h0m-1 2h0m0 7h0m-1-2h0m-7-3h0m-4 8h0m-3-11h0m-2 2h0m-5 8h0m-10 4h0m-1-5h0m-12-7h0m-14 8h0m-41-6h0m-10 4h0m-6-17h0m2 24h0m3 8h0m29-4h0m1 9h0m49 0h0m2 7h0m37-14h0m1-4h0m0 14h0m5 0h0m13-4h0m4 3h0m19 0h0m4-13h0m22 10h0m7-8h0m36 2h0m21 3h0m12 5h0m1-6h0m36 3h0m6 12h0m8 1h0m-33 21h0m-24-18h0m-2 3h0m-3-6h0m-4 15h0m-12-11h0m0 9h0m-6 0h0m-13-11h0m-9 19h0m0-12h0m-16 6h0m-10 5h0m-19-16h0m-1-4h0m-4 20h0m-12-4h0m-9 3h0m-11-16h0m0 8h0m-18-9h0m-2 0h0m-7 0h0m-12 7h0m-15-9h0m-2 14h0m0-11h0m-21 10h0m-26-3h0m4 21h0m8-5h0m6-2h0m76 14h0m40 9h0m0-13h0m4 8h0m52 4h0m-28 17h0m-15 0h0m-45-5h0m-111 4h0m-5-1h0m19 16h0m15 6h0m43-11h0m267 39h0m-271 11h0" stroke="#f84444" stroke-width="13.6" stroke-linecap="round" fill="none"/><path transform="scale(.5)" d="M3437 2144l-20-2l-4-4l-7-2l-17 0l-7 2l-6 8l-23-1l-9 4l-13 0l-14 3l-7 6l-1 12l-5 6l-15 1l-7 6l-1 23l-2 5l-4 4l-21 2l-9 9l-2 13l-4 4l-13 2l-7 6l-1 19l-8 11l2 28l-5 9l0 8l-3 5l0 9l-3 6l1 31l-12 11l-1 11l6 8l1 19l7 6l10 1l-2 4l1 9l12 11l7 2l21-2l11-5l20-1l10-10l32-1l7-6l1-9l2-2l15 0l8-3l11 2l18-3l6-8l2-19l11-14l6-1l5-5l1-18l16-4l13-10l4-15l-2-14l1-22l2-2l10-1l7-6l0-10l6-8l-1-9l-5-5l-20-3l0-24l20-2l18-15l1-15l-6-8l-14-5l-9-10l-9-1l-2-9z" fill="#00fb00" fill-rule="evenodd"/><path transform="scale(.5)" d="M3519 2005h0m-130 30h0m46-12h0m69 9h0m4 31h0m-52-13h0m-2 13h0m-47-5h0m-9 3h0m-17-8h0m-2 1h0m-1 1h0m-2 0h0m-14 8h0m-35-12h0m-43 22h0m58 12h0m56-12h0m9 4h0m2-4h0m3 9h0m9 1h0m18-5h0m19-14h0m27 17h0m9-1h0m26 14h0m-13 1h0m-26 1h0m-10 7h0m-1-11h0m-4 14h0m-6 1h0m-2 3h0m-9-6h0m-1-11h0m-6 3h0m0 14h0m0 1h0m-13-13h0m-5-10h0m-1 3h0m-9 1h0m-8 10h0m-5-9h0m-2 9h0m-5-9h0m-9-3h0m-2 16h0m-2 4h0m-7-13h0m-2 6h0m-1-5h0m-1 5h0m-8 6h0m-2 2h0m-2-20h0m0 19h0m-5-19h0m-7 6h0m-18 9h0m-11-2h0m-31 3h0m0 17h0m18 6h0m14-15h0m3 17h0m3-8h0m1 7h0m17 0h0m1-13h0m1 13h0m3 0h0m0-6h0m3-3h0m1 1h0m4 11h0m11-9h0m2-5h0m7 10h0m3 2h0m3-8h0m0 6h0m0-2h0m1 7h0m2-5h0m1-14h0m2 6h0m0 0h0m0 11h0m1-12h0m3 14h0m8-23h0m3 16h0m0 4h0m5-5h0m1-9h0m3 3h0m1 11h0m3-1h0m0 4h0m0-9h0m0 0h0m2-6h0m1-1h0m5 6h0m1-7h0m10-1h0m3 14h0m0 2h0m2-10h0m0 11h0m3-4h0m4-17h0m3 8h0m22 13h0m5-16h0m2 14h0m2 3h0m4-17h0m7 8h0m2-2h0m10 10h0m3-3h0m23-11h0m20 23h0m-21 7h0m-16-3h0m-18 0h0m-9-11h0m-14 11h0m-1 2h0m-3 1h0m-11 9h0m-2-6h0m-1-6h0m-1 0h0m0 1h0m-2 6h0m-3-18h0m0 19h0m0 1h0m-1-8h0m0-12h0m-1 22h0m0-21h0m-3 17h0m-1-11h0m-1 13h0m-1-20h0m-1 18h0m-1-8h0m-1-2h0m-1 5h0m-1 1h0m-2-4h0m-2-7h0m0-1h0m-2 1h0m0 5h0m0-4h0m-1 1h0m-2 8h0m0-1h0m-6-12h0m-2 9h0m-6-9h0m-1 7h0m-2-6h0m-5 3h0m-1 2h0m-9 0h0m-3 1h0m-1-7h0m-4 0h0m-4 0h0m0 14h0m-2-1h0m-1-4h0m-2 8h0m0-4h0m-1-1h0m-3-4h0m-1 3h0m-3-1h0m-2-1h0m0-5h0m-1 9h0m-1-5h0m-3 5h0m-2 4h0m0-4h0m-2-3h0m-2-2h0m-2 4h0m-5 3h0m-2-7h0m-2 3h0m-1 2h0m-1 6h0m-1-8h0m0-10h0m-8 14h0m0-5h0m-5 9h0m0 1h0m-1-8h0m-2-6h0m-3 11h0m0 0h0m-1 3h0m-2 0h0m0-14h0m-1 9h0m0 7h0m-7-3h0m-5-12h0m-2 7h0m0 9h0m-1-5h0m-2-10h0m-1 3h0m-1-8h0m-8-2h0m-15 3h0m-14 2h0m-20 27h0m15 4h0m0 1h0m5 6h0m8-12h0m5 4h0m2 6h0m1-17h0m5 15h0m1-11h0m1 11h0m3-1h0m5-4h0m1 5h0m0 1h0m4 3h0m2-12h0m2 1h0m0 7h0m1-15h0m1 4h0m0 3h0m2 14h0m1-5h0m3 3h0m0 0h0m1-8h0m1-4h0m2 4h0m2-9h0m128 5h0m6 4h0m4-2h0m3 4h0m0-4h0m1 4h0m0-11h0m1 5h0m5 12h0m0-6h0m1 8h0m4-13h0m1-9h0m3 8h0m1 1h0m1 9h0m8-7h0m3 10h0m4 2h0m6-10h0m5 3h0m4 1h0m2 1h0m10 0h0m6-2h0m3-4h0m49 35h0m-26-2h0m-20-9h0m-2-9h0m-14 9h0m0 3h0m-6-14h0m-12 3h0m-1 12h0m-2-4h0m0 2h0m-2-5h0m-2 3h0m0 7h0m-3-16h0m-4 5h0m-1 12h0m0-17h0m-1 19h0m-191-8h0m-1-11h0m0 16h0m0-19h0m-2 4h0m-4 12h0m-2 5h0m-1-12h0m0-2h0m-5-2h0m0 13h0m-2-16h0m-16 10h0m0 3h0m-1 7h0m-2-10h0m-4 1h0m-2 10h0m-1-1h0m-5-21h0m-10 15h0m0 7h0m-10-12h0m-12 7h0m-1 1h0m-4 3h0m-114 20h0m97-4h0m15-4h0m6-9h0m7 11h0m2 11h0m8-14h0m13 1h0m1 6h0m2-2h0m1 1h0m0-3h0m1 11h0m1-19h0m1-1h0m5 2h0m2-3h0m4 13h0m2-7h0m4-7h0m1 10h0m4 3h0m1-7h0m2-3h0m0 2h0m2 4h0m1-10h0m1 7h0m1 7h0m0-2h0m2 1h0m1-2h0m1-9h0m0 8h0m1 2h0m1-6h0m3 0h0m159 15h0m2-12h0m0 0h0m2 11h0m0 3h0m2-5h0m1-6h0m1-5h0m1 10h0m0 5h0m6-10h0m2-3h0m1-3h0m1 1h0m0 7h0m1-8h0m1 11h0m1-10h0m5-1h0m2 14h0m0-16h0m0-3h0m4 22h0m0-12h0m1 1h0m0-8h0m2-3h0m1 20h0m1-18h0m0-1h0m1 13h0m0-5h0m1-3h0m1 1h0m7-1h0m8 8h0m3-1h0m1-12h0m6 13h0m1 6h0m5-20h0m30 39h0m-37-4h0m-1-2h0m-9 11h0m-3-13h0m-4 13h0m-8-14h0m0 5h0m-2 1h0m0 2h0m-1-1h0m-1 8h0m-5-21h0m0 14h0m-2-5h0m0-10h0m-2 8h0m0 6h0m-1 7h0m0-9h0m-4 6h0m0-7h0m-1 4h0m0-2h0m0 3h0m-1 3h0m0-3h0m-3-5h0m0 9h0m0-4h0m-1-8h0m-1 4h0m-2-1h0m0 0h0m-1 5h0m-1-11h0m0 13h0m-3-7h0m0 7h0m-2-10h0m0 10h0m-1-14h0m-5 2h0m0-2h0m-193-4h0m0 9h0m-3 2h0m-4 3h0m-1 4h0m-1-10h0m-2-3h0m0-5h0m-4 3h0m-3 2h0m-1 10h0m0-9h0m-6 14h0m-2-7h0m-2-6h0m-4 4h0m0 8h0m-1-13h0m-2 13h0m-6-11h0m-5 13h0m-2-4h0m-7 6h0m-13-10h0m-39 23h0m16 9h0m21-9h0m2 0h0m2 11h0m8-3h0m4-5h0m5 5h0m5-7h0m3 7h0m1 2h0m6-2h0m1-15h0m1 9h0m0-14h0m5 15h0m1-9h0m0 0h0m1 6h0m238 11h0m1-11h0m2 6h0m7-12h0m1 17h0m2-3h0m1 3h0m1-16h0m2 13h0m1-4h0m1-7h0m1 5h0m6 1h0m2-9h0m1 1h0m2 6h0m0-3h0m2 1h0m1-5h0m70 8h0m-63 28h0m-14 1h0m-3-3h0m-1-6h0m0 8h0m-1-15h0m-1 11h0m-2-7h0m-4-5h0m-3 8h0m-2-3h0m-1-1h0m0 8h0m-2-4h0m-11-2h0m-1 12h0m-2-7h0m-3 4h0m-5-4h0m-1-5h0m0 13h0m0-5h0m-2 0h0m0-4h0m-1 9h0m-225-18h0m-1 8h0m-1 1h0m-2-11h0m-1 7h0m-1 11h0m-1 3h0m-4-9h0m-1 1h0m-1-5h0m-10 1h0m-1-10h0m-2 4h0m-18 9h0m-6 6h0m-20-3h0m-13 18h0m11 12h0m0-21h0m5 6h0m19 8h0m14-6h0m4-8h0m7 0h0m2 17h0m6 4h0m1-3h0m1-13h0m0 14h0m0-5h0m2 2h0m1 0h0m2 0h0m2 1h0m1-6h0m1 5h0m2-13h0m230 11h0m2-2h0m0-2h0m1-1h0m1-8h0m5 7h0m2-6h0m1 11h0m7 2h0m1 3h0m1-7h0m8 3h0m2-7h0m7 2h0m5 7h0m1 1h0m1-17h0m4 2h0m5 20h0m5 11h0m-14 10h0m-12-8h0m-2-5h0m-17 11h0m-2-12h0m-2-5h0m-1 21h0m-4-19h0m-2 14h0m-3-12h0m0 9h0m-7-2h0m-7 10h0m-1-1h0m-1 0h0m-3-2h0m-1 1h0m-10 0h0m-202-19h0m-2 13h0m-1 2h0m0-12h0m-3-2h0m-2 1h0m0 1h0m-1 15h0m0-2h0m0-4h0m-1 8h0m-3 2h0m-2-7h0m-1-10h0m-6 13h0m-5-8h0m-6-2h0m-3 4h0m-2 4h0m-3-8h0m-2-3h0m-2 13h0m-1-5h0m-7 2h0m-4 1h0m-12 5h0m0-8h0m-3 3h0m-1 1h0m-12 29h0m6-9h0m6-7h0m12 3h0m4 8h0m4-14h0m3 17h0m0-21h0m8 11h0m0-3h0m7-2h0m3 2h0m3-6h0m3 2h0m6-1h0m3 13h0m0 6h0m2-18h0m3 16h0m2-1h0m5-11h0m0-4h0m1 12h0m191 6h0m11-17h0m0 9h0m1-5h0m1 13h0m1-5h0m2-12h0m4 8h0m0-8h0m1 18h0m5-20h0m3 2h0m2 15h0m1-20h0m5 23h0m1-6h0m2-3h0m1-10h0m2 16h0m2-7h0m1-9h0m7-2h0m2 0h0m5 0h0m6 1h0m1-2h0m13 16h0m3-11h0m9-5h0m-21 33h0m-7-6h0m-7 17h0m-8-15h0m-2 7h0m-9-8h0m-11-2h0m-1 15h0m-2-18h0m-1 8h0m-1-5h0m-9 2h0m-1 2h0m-3 1h0m0 9h0m-1-14h0m-2-1h0m-5 15h0m-1-10h0m-2 13h0m0-17h0m-189-1h0m-1-1h0m-5 0h0m-1 1h0m0-2h0m-2 11h0m0-5h0m-2-2h0m-2 14h0m0-9h0m0-3h0m-2-2h0m-2 10h0m-1 3h0m-1-2h0m-1-14h0m-1 20h0m0-13h0m-1-3h0m-2-1h0m-1-2h0m-1 16h0m0-17h0m-2 10h0m-7-6h0m-1 5h0m-2-7h0m-4 18h0m-7-19h0m-3 16h0m-1-9h0m0 4h0m0-5h0m-7 14h0m-15-9h0m-4 5h0m-11 15h0m29-1h0m0 13h0m5-16h0m12 12h0m6-7h0m2-5h0m10-1h0m2 6h0m2 1h0m1 1h0m6 8h0m1-9h0m0-6h0m1 6h0m4-4h0m2 4h0m0 4h0m127 8h0m0-4h0m1 3h0m0 1h0m7 0h0m0-7h0m0 4h0m0-3h0m3 6h0m5-4h0m4 1h0m4 0h0m0-4h0m1 1h0m1 3h0m0 0h0m1 1h0m4-5h0m2 4h0m1-5h0m0 5h0m4 3h0m0-6h0m1 2h0m3 1h0m2-5h0m1 4h0m1-4h0m0 2h0m1-2h0m3 2h0m3 1h0m7-7h0m5-11h0m2 16h0m0-16h0m2 11h0m1-1h0m1 9h0m0-18h0m13 12h0m5-2h0m1-10h0m18 20h0m7-21h0m17 19h0m10-17h0m11 6h0m-77 37h0m-10-20h0m-2 15h0m-3-16h0m-2 3h0m-2-2h0m-3 1h0m-3 0h0m-2 3h0m-2 11h0m-11-2h0m-3-7h0m-6 7h0m-1-10h0m-2 2h0m-11-3h0m-1 16h0m-2-18h0m0 17h0m-1-15h0m0 10h0m-1-12h0m-3 16h0m-1-12h0m-1-3h0m0-2h0m0 3h0m-2 6h0m0 10h0m0 3h0m-1-16h0m0 11h0m0-4h0m-1 4h0m-1-9h0m-4 11h0m-1-9h0m-5 7h0m-1-1h0m-2 2h0m-1-4h0m-1-2h0m-1-2h0m-1-1h0m-1 3h0m0 3h0m-1 4h0m-1-6h0m-2 3h0m-3-6h0m-1 13h0m0 0h0m-5-13h0m-2 10h0m-2-2h0m-2-3h0m-2 3h0m-5 5h0m-8-2h0m-9 0h0m-51-6h0m-2-13h0m-5 19h0m-1-1h0m0-3h0m-5-12h0m-2 7h0m-2-5h0m-1 9h0m-7-2h0m-2-14h0m-1 15h0m-2-3h0m-6 9h0m0-9h0m-2 10h0m0-16h0m0 4h0m-7-1h0m-14-9h0m-2 0h0m-18 8h0m-16 13h0m-1 5h0m11 8h0m14-7h0m10 8h0m4 7h0m1-17h0m6 9h0m3-9h0m4 1h0m4 3h0m4 8h0m3 2h0m4-6h0m3-1h0m11 1h0m4-8h0m1 2h0m4 2h0m0-5h0m3 10h0m1 13h0m1-18h0m1 11h0m3-5h0m0-9h0m4 5h0m1-2h0m2 10h0m1 2h0m1 4h0m0 2h0m2-16h0m0-3h0m8 17h0m4-9h0m1-1h0m3 4h0m0-4h0m3 3h0m1 2h0m3-11h0m3 11h0m1-3h0m1-1h0m1-1h0m4-11h0m2 14h0m2-7h0m3-1h0m5-4h0m2 8h0m1-2h0m1-1h0m4 7h0m1-9h0m0 3h0m1-4h0m3-4h0m0 8h0m3-3h0m4-4h0m1 12h0m3 9h0m1-6h0m2 1h0m11-9h0m2 6h0m6-6h0m2 4h0m2-8h0m0-1h0m1 10h0m4-12h0m3 3h0m2 8h0m2 1h0m0-9h0m1 11h0m2-9h0m2-5h0m0 10h0m6 7h0m7-10h0m2-5h0m3 15h0m0 0h0m1 3h0m19-8h0m8-4h0m15 10h0m0-12h0m0 9h0m4 5h0m13-17h0m-38 25h0m-9 2h0m-12 10h0m-10-3h0m-27-1h0m-6-3h0m-3 13h0m-1-12h0m-1-9h0m-6 7h0m-2-4h0m-2 14h0m-6-12h0m-6 1h0m-20 4h0m-1 6h0m-2-1h0m-4 5h0m-2-7h0m-7-2h0m-3-3h0m-8-3h0m-4 1h0m-1-2h0m-3 0h0m-5 8h0m-5 3h0m-7-8h0m-7 10h0m0-7h0m-7 7h0m-2-8h0m-8-1h0m-5-6h0m-33 12h0m-38-11h0m50 22h0m9 0h0m11 11h0m21-14h0m6 4h0m9 15h0m1-18h0m2 9h0m5-5h0m1 0h0m6-1h0m0 3h0m28-2h0m1 16h0m9-17h0m10 7h0m18-2h0m12 2h0m15 8h0m6-8h0m24 14h0m-164 22h0m-4-18h0m-26-1h0m-2-2h0m112 28h0m-102 31h0m-28 4h0" stroke="#00fb00" stroke-width="13.6" stroke-linecap="round" fill="none"/><path transform="scale(.5)" d="M3399 1800h0m-75 8h0m58 52h0m-118-9h0m-155 36h0m244 1h0m55-16h0m11 33h0m-2 6h0m-10 8h0m-96-19h0m10 33h0m5-9h0m62 14h0m11-11h0m28 3h0m-4 36h0m-1-10h0m-2 1h0m-16 2h0m-5-14h0m-13 4h0m-7 12h0m-1-3h0m-3-8h0m-9 5h0m0-7h0m-3 12h0m-17 0h0m-44-13h0m-52 4h0m56 37h0m29-6h0m3-4h0m22 6h0m5-1h0m4-5h0m3-10h0m8 8h0m7-6h0m14 3h0m10-4h0m4 5h0m-18 23h0m-8 7h0m-1-7h0m-6 2h0m-4-3h0m-3 17h0m0-3h0m-1-2h0m-1 3h0m-5-19h0m-3 8h0m-2-4h0m-3 14h0m-3-16h0m-6 3h0m-17 8h0m-16-9h0m-6 18h0m-8-16h0m-6-1h0m-116-1h0m84 33h0m45 8h0m10-6h0m10-14h0m4 17h0m4 2h0m5-2h0m1 5h0m1-11h0m6-4h0m2 9h0m1-12h0m1 3h0m1 2h0m2 2h0m6-12h0m-15 26h0m-1 1h0m-9 10h0m0-7h0m-6 12h0m-1-6h0m-1 7h0m-4-15h0m-5 4h0m-5-5h0m-31 19h0m-23-22h0m-63 6h0m31 24h0m6 4h0m7-4h0m15 8h0m8 8h0m15-16h0m4-2h0m2 13h0m2 2h0m4-7h0m3 8h0m0 1h0m1-19h0m3 19h0m1-7h0m0 8h0m9-7h0m4-3h0m1-12h0m-24 27h0m-3 6h0m-1-1h0m-2 9h0m-10 2h0m-3-12h0m0 16h0m-9-14h0m-3 12h0m-21-21h0m-1 13h0m-1 7h0m-5-7h0m-6 8h0m-10-10h0m-6 3h0m-13 5h0m-1-3h0m-53 30h0m58-12h0m23-4h0m4 7h0m10-5h0m0 14h0m6-9h0m4-9h0m5 18h0m0-3h0m4 1h0m2-10h0m2-7h0m10 1h0m5-3h0m-40 42h0m-2-2h0m-2-10h0m-3 10h0m-1-10h0m-4 10h0m-11-5h0m-1-2h0m-3 10h0m-40 1h0m-11 22h0m15-10h0m11 11h0m10-5h0m4 3h0m4-6h0m5 9h0m-7 5h0m-15 14h0m-4 2h0m-11 5h0m-10-4h0m-6-10h0m-4-2h0m-10 0h0m-37-7h0m-1 34h0m22-9h0m2 22h0m23-6h0m5 6h0m9-12h0m9-1h0m2-1h0m-33 18h0m-3 6h0m0 0h0m-6-1h0m-2 7h0m-3 8h0m-47 19h0m44-8h0m-27 21h0m-5 5h0m-8 4h0m-1-12h0m-4 3h0m-7 9h0m-4-4h0m-9-12h0m-11 0h0m12 31h0m12 16h0" stroke="#0505c0" stroke-width="13.6" stroke-linecap="round" fill="none"/>
<text x="1352.1" y="1454.5" font-size="25.3" text-anchor="end">-0.75</text>
<text x="1352.1" y="1355.3" font-size="25.3" text-anchor="end">-0.50</text>
<text x="1352.1" y="1256.1" font-size="25.3" text-anchor="end">-0.25</text>
<text x="1352.1" y="1156.9" font-size="25.3" text-anchor="end">0.00</text>
<text x="1352.1" y="1057.7" font-size="25.3" text-anchor="end">0.25</text>
<text x="1352.1" y="958.5" font-size="25.3" text-anchor="end">0.50</text>
<text x="1352.1" y="859.3" font-size="25.3" text-anchor="end">0.75</text>
<text x="1378.6" y="1484.9" font-size="24.8" text-anchor="end" transform="rotate(-45 1378.6 1484.9)">-0.75</text>
<text x="1477.8" y="1484.9" font-size="24.8" text-anchor="end" transform="rotate(-45 1477.8 1484.9)">-0.50</text>
<text x="1577.1" y="1484.9" font-size="24.8" text-anchor="end" transform="rotate(-45 1577.1 1484.9)">-0.25</text>
<text x="1676.3" y="1484.9" font-size="24.8" text-anchor="end" transform="rotate(-45 1676.3 1484.9)">0.00</text>
<text x="1775.6" y="1484.9" font-size="24.8" text-anchor="end" transform="rotate(-45 1775.6 1484.9)">0.25</text>
<text x="1874.8" y="1484.9" font-size="24.8" text-anchor="end" transform="rotate(-45 1874.8 1484.9)">0.50</text>
<text x="1974.1" y="1484.9" font-size="24.8" text-anchor="end" transform="rotate(-45 1974.1 1484.9)">0.75</text>
<text x="1657.2" y="827.6" font-size="41.7" text-anchor="middle">Screen 2 = ~48K compounds</text>
<text x="1188" y="814.5" font-size="52.5" text-anchor="start">e</text>
<text x="1667.6" y="1564.8" font-size="32.2" text-anchor="middle">Normalized log<tspan font-size="24.5" dy="9">2</tspan><tspan dy="-9"> </tspan><tspan font-style="italic">f</tspan>LUC</text>
<text x="1271" y="1148" font-size="32.2" text-anchor="middle" transform="rotate(-90 1271 1148)">Normalized log<tspan font-size="24.5" dy="9">2</tspan><tspan dy="-9"> </tspan><tspan font-style="italic">n</tspan>BIT</text>
<path d="M1605.3 1676.7V2270M1367.2 2025.7H1962.5M1367.2 1851.2H1962.5" stroke="#000" stroke-width="1.1" stroke-dasharray="2 1.3" fill="none"/>
<path d="M1843.4 1676.7V2270M1367.2 2200.2H1962.5" stroke="#000" stroke-width="4.2" fill="none"/>
<rect x="1367.2" y="1676.7" width="595.3" height="593.3" fill="none" stroke="#000" stroke-width="5"/>
<path d="M1367.2 2270v14.5M1605.3 2270v14.5M1843.4 2270v14.5M1367.2 2200.2h-14.5M1367.2 2025.7h-14.5M1367.2 1851.2h-14.5M1367.2 1676.7h-14.5" stroke="#000" stroke-width="5" fill="none"/>
<path transform="scale(.5)" d="M3912 4127l-11-5l-19 4l-6-12l-10-3l-9 3l-4 5l-2 19l-16 1l-6 4l-13-4l-14 0l-6-12l-11-5l-18 1l-13 12l-27 2l-8 7l0 10l-2 2l-4-11l-8-5l-10-2l-13 2l-6 3l-5 8l-2 19l5 8l0 4l-4 3l-3 7l-6 4l-4 10l-11 4l-6-9l-7-5l-19-1l-11 5l-3 6l0 9l-3 2l-26 0l-4-5l-12-4l-11 5l-4 12l-6-1l-25 7l-5 8l0 13l-6 6l-11 1l-7 3l-4 5l-2 13l4 7l1 8l8 8l0 25l-14 3l-6 4l-12-5l-12 5l-8-3l-13 0l-6-8l3-6l0-15l-3-6l-6-4l-17-1l-8-3l-22 6l-5 8l0 13l3 6l6 4l9 1l11-4l4-5l5 8l-3 8l-9 3l-7 7l-2-8l-8-7l-5-1l-18 4l-6 4l-4 8l0 18l2 6l-10 6l-34-2l-6 4l-3 6l1 13l19 18l15 1l12-7l6-9l8 9l22 7l0 25l-3 5l0 8l3 5l0 12l4 9l10 6l-15-1l-22 2l-8 7l0 12l10 14l7 5l10 0l7-6l33 0l8-7l4 13l11 5l6-2l24 0l8 3l122 3l8-3l53 2l27-3l73 3l103-1l9 2l38-1l11-4l5-8l0-23l3-7l0-37l2-6l-2-12l0-24l2-4l-2-55l2-186l-2-5l0-27zM3644 4235l5-2l19 3l-1 27l-24-1z" fill="#a0a0a4" fill-rule="evenodd"/><path transform="scale(.5)" d="M3841 3859h0m59-11h0m-19 22h0m-145-1h0m-346 42h0m437-6h0m17 2h0m5-5h0m64-11h0m10 22h0m-1 17h0m-9-4h0m-77 3h0m-26-16h0m-21 11h0m-20-10h0m-6 19h0m-15-1h0m-76 9h0m76 9h0m0-2h0m48 3h0m40-8h0m32 11h0m21 3h0m5-12h0m24 11h0m6-9h0m-26 35h0m-1-18h0m-3 1h0m-9 8h0m-23 4h0m-26 1h0m-10 3h0m-12-7h0m-23 5h0m-14-7h0m-16 0h0m-47-7h0m-41 25h0m3 1h0m2-4h0m12 9h0m24-4h0m62 5h0m7-13h0m1 2h0m19 16h0m2-18h0m27 11h0m15-6h0m1 10h0m28-6h0m18 10h0m4-16h0m2 8h0m8-3h0m1 11h0m5 4h0m2-10h0m7 3h0m-2 18h0m-8 6h0m-6-3h0m-10 4h0m-7-8h0m-34-1h0m-11 3h0m-29-4h0m-13 10h0m-2-10h0m-2 12h0m-7-16h0m-3 8h0m-10 3h0m-15-6h0m-1 2h0m-26 9h0m-3 2h0m-12-20h0m-6 10h0m-12-6h0m-57 10h0m-5 3h0m-16-17h0m-124 5h0m-22 15h0m18 14h0m73-2h0m3-6h0m44 13h0m55-12h0m2 11h0m6 3h0m24-16h0m35 5h0m12-5h0m4 7h0m7 11h0m3-5h0m14 3h0m2 0h0m3 4h0m3-8h0m1 8h0m3-19h0m36 14h0m4-7h0m4 6h0m4 0h0m3-9h0m2 4h0m9 11h0m2-11h0m1 12h0m1-13h0m21 6h0m0-10h0m10-6h0m3 12h0m1 0h0m0-12h0m3 10h0m3 6h0m7-14h0m1-1h0m5 2h0m7-1h0m1 19h0m0-4h0m3 3h0m0 25h0m-1-17h0m-7 16h0m0-4h0m-1-5h0m-3-8h0m-3 4h0m0-1h0m-1-3h0m-8 12h0m-1 1h0m-4 0h0m-3 4h0m-1 2h0m-2-5h0m-1-4h0m-2 0h0m-2-2h0m-1 4h0m0-5h0m0 5h0m-1 0h0m0-1h0m-2-8h0m0 0h0m-3-4h0m-1 18h0m-1-1h0m0 3h0m-1-20h0m-2 3h0m-2 15h0m-3-20h0m0 22h0m-1-17h0m-6 2h0m0 1h0m-3 3h0m-11 9h0m-1 1h0m-1 1h0m-3-6h0m-2-7h0m-9-7h0m0 15h0m-1-16h0m-11 12h0m-1 10h0m-9-2h0m-11 1h0m-4-13h0m0 12h0m-6-16h0m-8 15h0m-2-3h0m-7 0h0m-1-1h0m-12-13h0m-2 20h0m-1 0h0m-12-1h0m-11-11h0m-4 10h0m-1-1h0m-8-9h0m-1 5h0m-9 6h0m-4-22h0m-8 19h0m-20-4h0m-7-3h0m-13-7h0m-10 17h0m0-6h0m-1-7h0m-4-2h0m-6-7h0m-3 18h0m-23-3h0m-1 7h0m-2-20h0m0 5h0m-39 13h0m-3-20h0m-2 19h0m-55 2h0m-79-1h0m-2-11h0m-8 8h0m53 25h0m16-17h0m33 1h0m4 9h0m1 5h0m2-13h0m22 0h0m5 4h0m13-3h0m6-1h0m11-1h0m3 18h0m6-9h0m7 5h0m4 4h0m1-12h0m2 8h0m1-12h0m1 13h0m10-8h0m6 8h0m2-14h0m4 18h0m9-18h0m14 17h0m13-17h0m1 14h0m6-5h0m3 9h0m4-8h0m4 4h0m7-2h0m14-4h0m5 11h0m1-2h0m14 3h0m3-11h0m3 5h0m2-16h0m3 21h0m6-9h0m6-13h0m0 9h0m1 5h0m1-8h0m2 6h0m4 1h0m3-5h0m5 3h0m9 3h0m2 5h0m0-15h0m3-1h0m0 3h0m6 1h0m1 14h0m2-15h0m3 15h0m0-17h0m1 18h0m7-3h0m2 3h0m2-4h0m7-3h0m1-5h0m0-7h0m2 12h0m1-2h0m10 10h0m3-20h0m3 6h0m6-5h0m1-1h0m1 13h0m3 5h0m2-20h0m3 19h0m0-13h0m4 12h0m3 3h0m1-21h0m3 10h0m2 0h0m5-5h0m1 13h0m2 0h0m8 4h0m6 0h0m4-11h0m6-5h0m2 11h0m7-13h0m1-5h0m2 4h0m3-3h0m0 20h0m5-12h0m0 14h0m2-9h0m0 9h0m0-4h0m1-12h0m7 16h0m1-16h0m2 10h0m2 27h0m-1-20h0m-1 19h0m-2-18h0m-2 13h0m0 3h0m-1-4h0m-1-1h0m-1 4h0m-1-1h0m0 3h0m-1-8h0m-2-4h0m-1-5h0m-1 0h0m0 19h0m-1-12h0m-1 0h0m-1 14h0m-5 1h0m0-17h0m0 17h0m-1-23h0m0 23h0m-1-13h0m0-6h0m-1 5h0m-5-4h0m-7 11h0m0 3h0m-1-14h0m-1-2h0m-5 11h0m-2 2h0m0-16h0m0 22h0m0 1h0m0-12h0m0 5h0m0-4h0m0 11h0m-2-1h0m-1-10h0m-1 10h0m-9-22h0m0 14h0m-5-9h0m-1 4h0m0 9h0m0-12h0m-1 14h0m0-7h0m-2 5h0m-2 0h0m-2-13h0m0 14h0m-1-17h0m-1 19h0m-5-9h0m-1 5h0m-5-7h0m-1-10h0m-2 4h0m-4 5h0m0-8h0m0 3h0m-2 19h0m-1-11h0m-1-1h0m-4-7h0m-1 16h0m0 2h0m-7-13h0m0 1h0m-6-6h0m-3 6h0m-3 13h0m-1-9h0m-2-8h0m-1 5h0m-6 11h0m-4-16h0m0 9h0m-1-11h0m-1 19h0m0-2h0m-2-2h0m-3 3h0m-2-13h0m0 12h0m-6-6h0m-2 7h0m-4-5h0m0-6h0m-2 2h0m-5 7h0m0-4h0m-1-5h0m-1-3h0m-1 3h0m-2 4h0m0-3h0m-4-2h0m0 4h0m-14-9h0m-11 9h0m-1 3h0m-3-11h0m-4 4h0m-2 10h0m-2-18h0m-1 16h0m-3-15h0m-3 19h0m-3-15h0m-2 8h0m0 1h0m-2 4h0m-1 0h0m-10-12h0m-10 15h0m0-17h0m-18-1h0m0 17h0m-2-5h0m-4 3h0m-4-4h0m-2-7h0m-1 2h0m-3 4h0m0 7h0m-20-8h0m-2-10h0m-9 9h0m-11 10h0m-4-6h0m-2-13h0m-16 19h0m-18-21h0m-5 15h0m-1-12h0m-2 6h0m0-7h0m-17-1h0m0 2h0m-10 2h0m-2-3h0m-1 0h0m-7 1h0m-9 16h0m-1 2h0m-7-3h0m-2-6h0m-3-3h0m-9 0h0m-51 11h0m-7 1h0m-6-3h0m-40-15h0m-41 0h0m-19 17h0m-280-2h0m180 20h0m32 2h0m79-11h0m25 16h0m2-6h0m10 2h0m2-6h0m14 5h0m21-8h0m5 5h0m22 0h0m17 2h0m22-4h0m11-4h0m1 8h0m9-3h0m16-2h0m17-9h0m4 13h0m3 1h0m5 2h0m3-15h0m7 11h0m2 1h0m3 7h0m4-16h0m0 9h0m0-12h0m8 15h0m1-5h0m1 1h0m0-7h0m4 1h0m3 10h0m0-7h0m3-8h0m1-4h0m5 6h0m2 15h0m5-13h0m1 0h0m3 6h0m4 8h0m6-7h0m13 8h0m2-3h0m2-4h0m2-2h0m2 8h0m1-4h0m1-3h0m1-15h0m11 8h0m4 8h0m3-8h0m8 2h0m5 12h0m1 0h0m2-16h0m4 10h0m2-9h0m0 15h0m1-18h0m1-4h0m7 7h0m1 12h0m4-10h0m3 4h0m6-11h0m2 15h0m0-2h0m2-14h0m7 9h0m3 0h0m3 11h0m7-9h0m5-9h0m2 14h0m5-11h0m1 0h0m3 3h0m1-1h0m1 1h0m3-8h0m5 0h0m2 2h0m0 1h0m1 6h0m5-2h0m6-8h0m4 8h0m0 1h0m9-9h0m23 1h0m0 9h0m2-3h0m1-2h0m9-5h0m1 12h0m1-3h0m4 0h0m5 4h0m3 5h0m0-8h0m1-1h0m1 3h0m2 7h0m0-2h0m0-3h0m0 2h0m2-14h0m1 12h0m3-11h0m4 7h0m2 7h0m1-4h0m2 1h0m3-5h0m2 2h0m2-7h0m1 12h0m1-10h0m0 2h0m5-8h0m1 15h0m26-12h0m9-1h0m17 3h0m1-1h0m0 6h0m1 2h0m0 8h0m2-6h0m1-13h0m2-1h0m3 12h0m1-5h0m0-6h0m1 21h0m1-2h0m1-3h0m0-5h0m0-3h0m1 3h0m3-6h0m0-4h0m0 39h0m0 3h0m0-11h0m-1 0h0m-1-8h0m0 12h0m0-6h0m0 12h0m-1-1h0m-1-2h0m0-11h0m-2 10h0m0 7h0m-1-8h0m0-1h0m0 0h0m0-1h0m-2 1h0m0-8h0m-1-2h0m0 14h0m0-3h0m-2 1h0m-1-1h0m0-4h0m-2-7h0m0 17h0m0-6h0m-1-1h0m0-10h0m-183-2h0m-4 8h0m-11-2h0m-34 5h0m0-7h0m0-5h0m-2 12h0m0-10h0m-1 9h0m-4 6h0m0-7h0m-1 13h0m-2-1h0m-2-11h0m-3-2h0m0-6h0m-10 15h0m-7 1h0m-8-11h0m-8-5h0m-3 14h0m-1-5h0m-7-7h0m-2 9h0m-4-8h0m0 2h0m0-2h0m-4 5h0m-1 5h0m-7-8h0m-5 8h0m-6-4h0m0-9h0m-7 0h0m-8 12h0m-1-10h0m-1 16h0m-1-2h0m-3-1h0m-13 1h0m-5-3h0m-4-5h0m-7 10h0m-1-4h0m-2 1h0m-3-4h0m-2-4h0m-2-4h0m-3 6h0m-2 2h0m-10-2h0m-1 5h0m-7-2h0m-5 2h0m-6-6h0m-6 11h0m0-4h0m-5-11h0m-6 4h0m-1 9h0m-4 2h0m-1-16h0m-2-3h0m-3 14h0m-2 5h0m-1-6h0m-2 7h0m-2-19h0m-1 2h0m-13 11h0m-3 4h0m-9 2h0m-5-15h0m-11 13h0m-5-12h0m-8 1h0m-7-5h0m-1 18h0m-12-8h0m-16 3h0m-1-3h0m-3-13h0m-13 4h0m-12 13h0m-1-11h0m-199 37h0m17-1h0m81 2h0m48 1h0m8-8h0m19-1h0m0 2h0m8 2h0m1 2h0m34-16h0m18-4h0m4 9h0m0 11h0m6-3h0m7 1h0m1 4h0m11-15h0m9-1h0m13 12h0m2 1h0m3-11h0m2 1h0m8 2h0m5 4h0m3-2h0m2-6h0m13 13h0m2-15h0m3 14h0m5 4h0m1-3h0m1-9h0m5 8h0m3-2h0m5-13h0m6 3h0m1 15h0m4-21h0m11 8h0m3 0h0m3 8h0m4 5h0m6-7h0m2-13h0m3 5h0m0-3h0m2 3h0m1-4h0m3 12h0m0 6h0m3-11h0m3 5h0m1 1h0m0-14h0m1 11h0m7-1h0m0 9h0m5-5h0m1 3h0m3-1h0m8 0h0m1-4h0m7 0h0m2-5h0m2 6h0m5-13h0m0 4h0m5 13h0m6 1h0m1-13h0m2-4h0m4 6h0m0-3h0m2 10h0m9-2h0m2-1h0m2 3h0m0-4h0m5 11h0m1-13h0m3 12h0m0-7h0m2-14h0m2 14h0m1-10h0m0 13h0m1 3h0m0-11h0m3-7h0m2 6h0m3-7h0m2 4h0m1 0h0m2 13h0m1-11h0m7 12h0m0 3h0m2-17h0m0 13h0m0-15h0m3 19h0m1-19h0m5 3h0m0-5h0m0 21h0m0-17h0m1 1h0m2 2h0m5 7h0m1-4h0m2-1h0m0-7h0m232 18h0m1 1h0m1-15h0m0-2h0m0-2h0m1 13h0m1-4h0m0 1h0m0-13h0m3-1h0m0 6h0m0 6h0m0-11h0m0 13h0m1 9h0m0-14h0m0-4h0m1 7h0m0 4h0m2-1h0m0-1h0m0-7h0m0-5h0m0 0h0m3 14h0m1-11h0m1 12h0m0-10h0m-1 17h0m0 2h0m0 9h0m-1 7h0m0-1h0m-1-12h0m0 5h0m-1 8h0m0-7h0m0 3h0m-2-6h0m0-7h0m-1 17h0m-1 2h0m0-6h0m-1-7h0m0-2h0m-2 5h0m0 7h0m0-15h0m0 8h0m0 6h0m-1-7h0m0-7h0m0 7h0m-1 13h0m0-3h0m0-8h0m0-3h0m-1-1h0m0 1h0m0 3h0m-1 11h0m0-12h0m-246-4h0m0 0h0m-2 5h0m0-11h0m-1 9h0m-2 3h0m0-9h0m0 4h0m-2-7h0m-4 14h0m-2-12h0m-1 14h0m-11-3h0m-2-11h0m0-1h0m-1 9h0m-1-9h0m-4 0h0m0 0h0m-16-1h0m-3 1h0m-6 7h0m-5-6h0m0 12h0m-2 2h0m-1 7h0m0-19h0m0 11h0m-1-8h0m-4 10h0m0-1h0m0-3h0m-1-3h0m-4 0h0m-4 6h0m-3-3h0m-3 4h0m0 0h0m0 5h0m-2-8h0m-1-13h0m0 6h0m-2-2h0m-2 2h0m-3 11h0m-3-12h0m-2 7h0m-6-13h0m-6 13h0m-1-2h0m-4 8h0m-1-2h0m-4-10h0m0 10h0m-2-1h0m-5-14h0m-1 11h0m-6-1h0m-3 9h0m0-8h0m-1-2h0m-2-7h0m-1-3h0m-3 21h0m-3-1h0m-5-21h0m-3 7h0m-1-4h0m-2 20h0m-2-5h0m-1-9h0m-1 0h0m0-3h0m-1 1h0m-4-2h0m0 13h0m-6 5h0m-12-15h0m-2 12h0m-2 1h0m-3-14h0m-2 3h0m-2-7h0m-1 6h0m0-8h0m-2 14h0m-1-6h0m-1 3h0m-6 11h0m-1-19h0m0-2h0m-3 20h0m-7-12h0m-2 8h0m-1-10h0m-2-6h0m-1 15h0m-4 0h0m-4-1h0m0-13h0m-7 3h0m-2-3h0m-5 2h0m-1 3h0m-1 2h0m-3 11h0m0-14h0m-9 14h0m-8 1h0m-4-15h0m-1 2h0m-6-2h0m-2 5h0m-1 7h0m-7-14h0m-6 17h0m-6-16h0m-12 16h0m0 0h0m-2-19h0m-4 14h0m-19-4h0m-2-13h0m-2 10h0m-15 5h0m-10 3h0m-36-7h0m-2 5h0m-2-4h0m-10 1h0m-10 3h0m-3 1h0m-23-13h0m-89 28h0m49 14h0m78-1h0m11-1h0m14-17h0m9 17h0m3-17h0m3 7h0m0-10h0m10 17h0m6-7h0m2 7h0m2 6h0m10-6h0m7-13h0m4-2h0m4-1h0m2 4h0m4 4h0m4-4h0m0-2h0m2 10h0m1-12h0m2 11h0m3-7h0m5-2h0m3 7h0m1 13h0m4-7h0m3-4h0m9 4h0m2 7h0m3-5h0m2-8h0m18 13h0m0-11h0m3-11h0m1 15h0m1 3h0m6-2h0m0-10h0m1 5h0m5 3h0m5-1h0m5-5h0m5 0h0m9 3h0m2 0h0m0 6h0m3-7h0m1 4h0m0 8h0m1-10h0m4 4h0m2-16h0m1 4h0m2-4h0m1 19h0m2 2h0m7-4h0m2 0h0m0-5h0m3-5h0m0 15h0m1-5h0m5-2h0m0-9h0m1 5h0m0-8h0m3 7h0m13-9h0m0 5h0m2-7h0m4 15h0m2-15h0m0 2h0m6 19h0m1 2h0m2-13h0m1 6h0m4-6h0m1-1h0m3 1h0m9-4h0m3-1h0m3 1h0m12-2h0m47-4h0m47 17h0m1-5h0m1-1h0m1 10h0m0-1h0m2-3h0m0-13h0m3 11h0m0-4h0m1-5h0m0 9h0m2-11h0m1 13h0m2-13h0m0 10h0m1 1h0m1-11h0m2 11h0m5-11h0m1 19h0m1-3h0m1 1h0m0-4h0m1 0h0m1-3h0m0-5h0m2 3h0m1-1h0m2-1h0m0 13h0m1 0h0m235-11h0m1-1h0m0 7h0m0-5h0m1-4h0m0 0h0m0 8h0m0 1h0m0 2h0m0-17h0m0 11h0m1-7h0m1 14h0m0-2h0m1-12h0m1 2h0m0 8h0m1 1h0m1-11h0m0 4h0m0-3h0m1 13h0m1-6h0m0 5h0m1-11h0m0 14h0m1-2h0m0-12h0m0 14h0m0-17h0m0 15h0m1-8h0m0 4h0m1-10h0m1 3h0m0 5h0m0-14h0m0 33h0m0 5h0m-1-8h0m0-1h0m0 15h0m0-7h0m0-12h0m0 18h0m0-6h0m-1 8h0m-1-2h0m0-8h0m0 1h0m-1-7h0m0 14h0m0-5h0m-1-5h0m-1 6h0m0-3h0m-1 1h0m0-9h0m0 3h0m-1 7h0m0-7h0m0 13h0m0-20h0m-1 19h0m0-14h0m0 7h0m0 0h0m-1-12h0m0 20h0m0-21h0m0 16h0m0-8h0m0-1h0m-1-6h0m0 15h0m0-7h0m0 5h0m0 6h0m-1-11h0m0-5h0m0 10h0m0-4h0m-1 12h0m-1-4h0m0 5h0m0-1h0m-1-8h0m0 1h0m-236-2h0m-1 4h0m0-7h0m0-6h0m-1-2h0m-3-1h0m-2 5h0m-1-1h0m0 7h0m0-5h0m-1-5h0m0 18h0m0-13h0m-1 2h0m0-4h0m-1 2h0m-1 15h0m-3-7h0m0 7h0m0-1h0m0 0h0m-1-10h0m-1 1h0m-1 10h0m0-8h0m0-4h0m0 11h0m-2-12h0m-3 4h0m-1 1h0m0 8h0m-1-5h0m0-6h0m-2 7h0m0-13h0m-1 9h0m0-9h0m0 12h0m-1-8h0m-3 8h0m-1 0h0m-2-10h0m0 9h0m-1-2h0m-1-3h0m-1 3h0m-125-12h0m-7 3h0m-1 3h0m-1 4h0m0-9h0m-5 3h0m-1 8h0m-1-4h0m-2-10h0m-6 16h0m-3-1h0m-1 5h0m0-15h0m-3 14h0m-2-1h0m-2-16h0m-2 1h0m0 0h0m-2 20h0m-1-20h0m-4 11h0m-1-8h0m-6-3h0m-1 16h0m-4-3h0m-2-11h0m-3 0h0m-3 15h0m-1-11h0m0 0h0m-1 9h0m-2-7h0m0 0h0m-3 0h0m0-2h0m0 0h0m-3 1h0m0 1h0m-1 9h0m-2-16h0m-1 4h0m0 5h0m-1 10h0m-1 0h0m-1-8h0m0-5h0m0-2h0m-1 8h0m0 5h0m-1-12h0m-1 1h0m-3-8h0m0 5h0m-2 15h0m-4-20h0m0 19h0m-5-4h0m-1-12h0m-5-2h0m0 3h0m-1 5h0m-5 9h0m-3 3h0m-5-2h0m-1-12h0m0-2h0m-4-2h0m-2 16h0m-2-9h0m-3-2h0m-2-4h0m-2 15h0m-3-6h0m-2-8h0m0 13h0m-8-17h0m-5 6h0m-3-3h0m-4-3h0m-13-2h0m-4 10h0m0-10h0m-5 21h0m-2-20h0m-7 20h0m-27-10h0m-8-10h0m-3 14h0m0 7h0m-1-8h0m-5-6h0m-3 13h0m-3-20h0m-1 5h0m-8 4h0m-4 12h0m-1-14h0m-9 0h0m-5 4h0m-14 10h0m-21-6h0m-15-4h0m-14-12h0m-2 15h0m-8-11h0m-10-1h0m-30 14h0m-5-5h0m-3-10h0m-38-1h0m-52 16h0m13 29h0m33-10h0m9-9h0m6 19h0m37-13h0m15 1h0m12-11h0m13 7h0m21 13h0m0-17h0m6 8h0m19-2h0m9-9h0m5 4h0m1-2h0m38 13h0m4 6h0m4 0h0m0-21h0m12 7h0m4-1h0m0 13h0m1-19h0m2 4h0m6 7h0m1 5h0m0 6h0m1-11h0m1-5h0m2 7h0m6 10h0m2-1h0m3-10h0m4 3h0m2 1h0m1-1h0m7-1h0m0 8h0m5 1h0m2-1h0m2-1h0m5-14h0m4 2h0m1 14h0m2-7h0m2-15h0m4 10h0m3 12h0m10-20h0m1 6h0m1 6h0m6-4h0m2 3h0m1-10h0m0-3h0m0 21h0m0-12h0m0-1h0m4-9h0m1 6h0m2-2h0m1 9h0m1-7h0m4-5h0m0 12h0m3 2h0m1-1h0m1 3h0m3 2h0m1-5h0m6 9h0m1-23h0m1 13h0m3 3h0m0-8h0m0-4h0m1-1h0m1 15h0m1-7h0m3 6h0m0-1h0m1-12h0m1-3h0m2 13h0m3-8h0m1-3h0m0 13h0m3 2h0m0-7h0m1-2h0m0 14h0m10-16h0m3 9h0m10-1h0m0 8h0m1-8h0m4-4h0m2 9h0m4 0h0m2-12h0m4-4h0m1-1h0m2 6h0m0-1h0m3-4h0m1 14h0m1-1h0m0-13h0m0-1h0m4 10h0m2 9h0m422 1h0m0-16h0m0 6h0m0 0h0m0-2h0m1-8h0m0 16h0m1-12h0m0 3h0m0-4h0m0 13h0m1-13h0m0 15h0m0 1h0m0-22h0m1 8h0m0 9h0m0-2h0m0 1h0m0-7h0m1-5h0m0 19h0m0-6h0m0-11h0m0 15h0m0-14h0m1 12h0m1-8h0m2 9h0m0-6h0m0-10h0m1 9h0m0-7h0m0-3h0m0 12h0m0-1h0m1 5h0m0-8h0m0 9h0m0-2h0m1 5h0m0-20h0m0 14h0m0-9h0m1-1h0m0-6h0m0 14h0m2 6h0m0-17h0m1 17h0m0-6h0m-1 17h0m0-2h0m0 9h0m0-8h0m-1 0h0m0 14h0m0-7h0m-1-1h0m0 10h0m0-6h0m0-5h0m0 0h0m0 8h0m0-15h0m-1 9h0m0-5h0m0-3h0m-1 5h0m0 1h0m-1-12h0m0 22h0m0-10h0m0-10h0m-1-1h0m0 13h0m-1 1h0m0-8h0m-1-2h0m0 13h0m0-7h0m0 10h0m-1-16h0m-1 6h0m0 11h0m0 1h0m0-11h0m-1 10h0m0-2h0m0-6h0m-1-13h0m-1 12h0m0-2h0m-1 6h0m0-12h0m-1-2h0m-416 7h0m-3 3h0m-1-1h0m-1 2h0m-1-6h0m-2 4h0m-1-2h0m-1 8h0m-4-14h0m0 6h0m0-10h0m-1 12h0m0-6h0m0 6h0m-11 1h0m-2 2h0m-3-8h0m-1 2h0m-1 4h0m-1-6h0m0-1h0m-1 16h0m-4 1h0m-2-10h0m-4 7h0m0-4h0m-1-12h0m-1 19h0m0-7h0m-1 3h0m-3-16h0m-9 5h0m-2 0h0m-2-3h0m-2 4h0m-1-7h0m0 18h0m0-10h0m-1 11h0m-3-15h0m-1 12h0m-1-16h0m-1-1h0m-1 4h0m0-2h0m0 17h0m-4 3h0m-1-14h0m-2-4h0m-2 0h0m-1-5h0m-13 1h0m-2-1h0m-8 18h0m0 0h0m-8-17h0m-11 2h0m-7 14h0m-3-11h0m-1 12h0m-1-7h0m-3 8h0m-1-13h0m-1 11h0m-11-16h0m-5 2h0m-1 10h0m-3 9h0m-2-6h0m-6-15h0m-8 10h0m0 2h0m-2 4h0m-7-9h0m0 8h0m-7 6h0m-5-13h0m0-3h0m-12 11h0m-7-1h0m0-10h0m-2 15h0m-5-4h0m-9 4h0m-8-21h0m-2 18h0m-11 3h0m-7-19h0m-23 19h0m-3-3h0m-21-2h0m-5-12h0m-20 18h0m-2-15h0m-1 2h0m-7 14h0m-4-11h0m-1 6h0m-4-1h0m-3 3h0m-18 3h0m-14-2h0m-117-6h0m-14 11h0m39 7h0m44 10h0m8-14h0m48 0h0m1 14h0m9-13h0m10 3h0m0-2h0m15 12h0m7 0h0m3-13h0m3 1h0m14 9h0m6-6h0m6 11h0m14-16h0m9 4h0m17 11h0m1-8h0m6-9h0m16 20h0m1-16h0m1-4h0m6 7h0m4 9h0m3-14h0m3 15h0m3-6h0m8-4h0m1 3h0m9 7h0m0-17h0m5 15h0m3 1h0m2 1h0m2-16h0m4 16h0m2 1h0m9-19h0m8 11h0m9 4h0m2 5h0m0-19h0m1 3h0m4-2h0m3 10h0m2 3h0m1-2h0m7-6h0m4 4h0m1-13h0m0 2h0m0-2h0m1 12h0m0-1h0m1 1h0m3 4h0m1-15h0m8 18h0m2-13h0m4 6h0m1-2h0m11-2h0m0 8h0m0-1h0m2-7h0m3 3h0m1-2h0m1 12h0m4-21h0m0 9h0m1 5h0m2-4h0m0-3h0m9 2h0m2-9h0m7 12h0m1 2h0m2-9h0m9 8h0m4-2h0m1-5h0m1 1h0m0-2h0m1 1h0m6-5h0m1 2h0m1 17h0m1-14h0m3 6h0m0-1h0m0-4h0m1-7h0m1 0h0m3 13h0m1-2h0m3-4h0m1-1h0m3 1h0m0-4h0m3-1h0m5 17h0m3-11h0m0-4h0m1 11h0m0-3h0m3 5h0m0-1h0m0-4h0m1 2h0m0-7h0m4 2h0m1-3h0m1-2h0m1 8h0m5-11h0m2 6h0m414 15h0m0 1h0m0-9h0m0 5h0m0 1h0m1-10h0m0-3h0m1 6h0m0-12h0m0 18h0m1 3h0m0-11h0m0-6h0m0 18h0m0 0h0m0-22h0m0 16h0m0 2h0m0-3h0m1 3h0m0-4h0m0-7h0m0-7h0m1 15h0m0-15h0m1 0h0m0-1h0m0 21h0m0-15h0m0 5h0m0 11h0m0-16h0m1 13h0m0 0h0m0-13h0m0 14h0m0 0h0m1-6h0m0-10h0m0 7h0m0 10h0m1-18h0m0 20h0m1-9h0m0-2h0m0 10h0m0-10h0m1 5h0m0-16h0m0 1h0m0 3h0m0 13h0m0-9h0m1 10h0m0 2h0m2 1h0m0-15h0m0 5h0m1-10h0m0 3h0m0 18h0m0-22h0m1 2h0m0 0h0m1 2h0m0 22h0m0 6h0m-1-5h0m-1-1h0m0-2h0m0-1h0m0 21h0m-1-12h0m0-1h0m0 5h0m0-1h0m0 1h0m-1-4h0m0 9h0m0-8h0m0-8h0m-1 4h0m0 2h0m0 15h0m-1 0h0m0-18h0m0-3h0m0 3h0m0 5h0m-1-5h0m0 13h0m0-1h0m0 0h0m0 0h0m0-2h0m0-11h0m-1 10h0m0 0h0m-1-2h0m-1 8h0m0-9h0m-1-9h0m0 8h0m0 6h0m-1-6h0m0-1h0m-1 6h0m0-10h0m0 2h0m0 9h0m0-7h0m-1 13h0m0-2h0m0-12h0m0 6h0m-1 0h0m0-12h0m0 9h0m0-4h0m-1 15h0m0-13h0m-1-1h0m0-6h0m-524 0h0m-8 4h0m-33 13h0m-2-5h0m0-12h0m-8 6h0m-1 8h0m0-9h0m-4 3h0m-1-10h0m0 13h0m-1-9h0m-2 0h0m-3 7h0m0 3h0m-1-3h0m-5 12h0m-3-23h0m-8 18h0m-2-12h0m-9 7h0m-5 5h0m-4 5h0m-1-21h0m-8 21h0m-1-9h0m-4-3h0m-3 8h0m0-13h0m-2-6h0m-7 11h0m0 5h0m-7-12h0m-2-2h0m-3 2h0m-18 7h0m0-5h0m-5 16h0m-6-9h0m-2-13h0m-2 2h0m-2 9h0m0 7h0m-2-17h0m-3 19h0m-1-6h0m-27 7h0m-3-18h0m-2 1h0m-1 17h0m-3-13h0m-4 13h0m-1-9h0m-23-9h0m-1 3h0m-9 4h0m-2 8h0m-3-6h0m-3 8h0m-2-7h0m-15-1h0m-14-6h0m-2 6h0m-19-2h0m-4-1h0m-37 14h0m-19-19h0m-96-4h0m-19 22h0m-68-14h0m0 12h0m-45 20h0m30 2h0m1-11h0m102-3h0m52 9h0m13 1h0m3 8h0m18-20h0m15 2h0m14 14h0m7 5h0m3-8h0m13-11h0m11 15h0m4-15h0m1 10h0m4-12h0m10 21h0m4-11h0m8 11h0m2-14h0m2 7h0m20 1h0m2-16h0m3 6h0m11 15h0m14-16h0m1 10h0m2 5h0m1-19h0m2 11h0m10-3h0m17-2h0m1 8h0m6-3h0m6-4h0m1 9h0m1-9h0m1 12h0m1-12h0m13 4h0m9 4h0m2-14h0m1 18h0m3-21h0m6 19h0m3-19h0m2 5h0m4-5h0m3 18h0m2-16h0m3-1h0m2 6h0m6-1h0m11 17h0m5-8h0m2-7h0m1 14h0m0-16h0m2 13h0m1 3h0m4-14h0m2-7h0m1 18h0m0-1h0m1-17h0m1 17h0m5-7h0m6-9h0m1 1h0m1 6h0m1-8h0m1 8h0m2-5h0m4 5h0m9-7h0m1 6h0m3-2h0m2 2h0m2 2h0m2 1h0m1-4h0m6 0h0m572-3h0m0-1h0m1 12h0m0 7h0m0 1h0m0-9h0m0-11h0m1 18h0m0-3h0m0-3h0m0-9h0m1-1h0m0-2h0m0 2h0m1 7h0m2-8h0m0 9h0m0-6h0m1 5h0m1 8h0m0 0h0m0 3h0m1-6h0m0-4h0m0-7h0m0 7h0m0 10h0m0-20h0m1 11h0m0-8h0m1 15h0m0 0h0m0-16h0m0 17h0m0-8h0m1 7h0m1-5h0m0-5h0m1-4h0m0 4h0m0 9h0m0-10h0m1 4h0m0 0h0m0-13h0m0 2h0m1 6h0m0 5h0m0-13h0m0 45h0m0-20h0m0 11h0m0-7h0m-1 7h0m0 7h0m0-3h0m0-1h0m0 0h0m-1-5h0m0-8h0m-2 19h0m0-18h0m0-1h0m0 2h0m-2 17h0m0-19h0m0 0h0m-1 20h0m0-7h0m-1-14h0m0 21h0m-1-11h0m0-7h0m0 12h0m-1 3h0m0-8h0m-1-8h0m0 17h0m0 0h0m0-5h0m0-10h0m-1 4h0m0-4h0m0 8h0m0-14h0m0 1h0m-1 2h0m0 20h0m0-1h0m0-13h0m0 7h0m-1-16h0m0 11h0m-1-7h0m0 10h0m0 7h0m-549-8h0m0 10h0m-5 0h0m-2-1h0m-6-6h0m-1-4h0m-7-11h0m-2 20h0m-3-2h0m-2-3h0m-3-14h0m-1 10h0m-1 2h0m-2 1h0m-6 6h0m-4-3h0m-7-3h0m0 5h0m-5 0h0m-4-6h0m-6 7h0m-3-17h0m0 19h0m-3-5h0m-2-10h0m-1 13h0m-7-21h0m0 5h0m-5 3h0m0 15h0m-1-18h0m0 12h0m-1-9h0m-1 5h0m-1-9h0m-4 9h0m-4 0h0m-2 6h0m0-12h0m-1 12h0m-5-9h0m-1-8h0m-1 10h0m-1-1h0m-1 10h0m-1-14h0m-4 1h0m-3 9h0m-1-4h0m0 6h0m-2-13h0m-1-1h0m-4 14h0m0-2h0m-3-2h0m-2 0h0m-1-2h0m0-12h0m-1 22h0m0-5h0m-3-1h0m-5 5h0m-4 1h0m-5-20h0m-11 12h0m-1 1h0m0 1h0m-1 0h0m-1-6h0m0 7h0m-1-18h0m-10 8h0m-2 5h0m0-3h0m-3 13h0m-1-11h0m-10-5h0m-2-2h0m0-2h0m-7 19h0m0-16h0m0 15h0m-11-19h0m-1 19h0m-22-20h0m-2-1h0m-4 12h0m-1-4h0m-3-3h0m-14 18h0m-2-9h0m0 3h0m-3 4h0m-29-13h0m-3 4h0m-2 7h0m-1-7h0m-1 1h0m-2-12h0m-20 4h0m-2 10h0m-4-9h0m-10 3h0m0 0h0m-5 14h0m-13-10h0m-3 8h0m-21-2h0m-1-2h0m-3 4h0m-6-10h0m-19 6h0m-8 5h0m-5-11h0m-34-4h0m-13 5h0m-11-9h0m-37 15h0m-6 20h0m23 8h0m23-19h0m24 17h0m21-2h0m3 0h0m21-1h0m4-15h0m6 5h0m1 14h0m22-19h0m9 12h0m1 0h0m0-11h0m1 6h0m1-3h0m14 14h0m18 0h0m8-20h0m9 10h0m5-5h0m0 16h0m12-2h0m7 3h0m8-9h0m8 1h0m1 8h0m4-14h0m1 8h0m8-9h0m10-1h0m2 9h0m6-6h0m3-6h0m8 7h0m2-6h0m11 12h0m5 0h0m3-2h0m2-3h0m5-1h0m1 1h0m6 7h0m4-9h0m3-7h0m0 18h0m13-1h0m1-15h0m0 19h0m6-5h0m2-16h0m8 9h0m7 12h0m0-6h0m2-15h0m0 15h0m12-10h0m9 5h0m1 5h0m3-11h0m2 15h0m4-10h0m2 0h0m2 6h0m4-15h0m2 11h0m4-12h0m2 17h0m1 3h0m6-21h0m0 4h0m1 14h0m8-7h0m1-9h0m2 3h0m1 12h0m3-12h0m1 3h0m3 9h0m1-12h0m2 16h0m0-18h0m0 3h0m1 10h0m1 0h0m0-3h0m1 8h0m3-13h0m7 5h0m2-7h0m1 0h0m1 5h0m4-8h0m1 6h0m4 9h0m6-17h0m3 17h0m3-8h0m0 9h0m2-4h0m0-4h0m2 6h0m0-12h0m2 15h0m4-17h0m2 6h0m0-4h0m2 17h0m2-12h0m2-7h0m1 19h0m0 0h0m1-5h0m1-15h0m6-2h0m2 20h0m6-17h0m0 6h0m1 11h0m1-3h0m1 0h0m0-11h0m3 10h0m0 1h0m2-16h0m1 20h0m0-21h0m1 9h0m1 1h0m0-9h0m2 8h0m0-7h0m0 14h0m535 1h0m0 1h0m1 1h0m0-17h0m0 4h0m0-5h0m1 0h0m1 20h0m0-10h0m0 8h0m0-16h0m1 0h0m0 12h0m0 0h0m0 6h0m1-21h0m1 18h0m0-15h0m0-1h0m0 10h0m0-9h0m1 15h0m0-13h0m0 8h0m0-11h0m0 4h0m1 4h0m0-9h0m1 16h0m0-16h0m0 21h0m0-11h0m0 9h0m1-11h0m0 3h0m0 6h0m0-14h0m0 10h0m0-4h0m1 4h0m0-2h0m0 3h0m0 6h0m0-17h0m2 0h0m0 10h0m3 9h0m0-5h0m0 3h0m1-7h0m0 1h0m-1 23h0m0 2h0m0-16h0m-1 8h0m-1-5h0m0 3h0m-1 2h0m0 4h0m-1-2h0m-1 3h0m0-10h0m0 14h0m-1 0h0m0 1h0m-1-16h0m0 21h0m0-18h0m0 10h0m-3-12h0m0 14h0m-1-8h0m0 12h0m-1-4h0m0-13h0m0 7h0m-1-11h0m0 4h0m-1 12h0m-1-8h0m0 13h0m-1-8h0m0 7h0m-538 3h0m-1-5h0m-2-10h0m-1-1h0m-6 13h0m-1-20h0m0 12h0m-1 0h0m-1-7h0m-2 8h0m-1-13h0m0 19h0m-5 1h0m-1-5h0m-1-10h0m-2 5h0m-1 1h0m-4-8h0m0 4h0m0 9h0m-1 1h0m-1 3h0m-2-9h0m-3 6h0m0-5h0m-3-11h0m-7 14h0m-1 3h0m0 1h0m-1-17h0m0 7h0m-3 1h0m0 13h0m-3-10h0m-1-9h0m-1 10h0m-5-6h0m0 15h0m0-3h0m-5-2h0m-2-8h0m-1 11h0m-3-12h0m-4-3h0m-3-5h0m0 12h0m-3-10h0m-2 17h0m-17-14h0m-9 7h0m0 10h0m-3-6h0m-8 1h0m-8 1h0m-3-13h0m0-2h0m-4 10h0m-7 8h0m-1-20h0m-1 17h0m-3-3h0m-5 4h0m0-14h0m-10 5h0m-4 8h0m-4 1h0m-1-18h0m-13 8h0m-11 10h0m-3 0h0m-2-4h0m-6 7h0m-1-19h0m-4 1h0m-6 9h0m-7-1h0m-1 8h0m-1-2h0m-13 3h0m-6-10h0m-1 2h0m0 8h0m-8-20h0m-4 17h0m-2-16h0m-6 12h0m-6-13h0m-5 17h0m-3-14h0m-4 17h0m0-12h0m-1 6h0m-3 7h0m-11-9h0m-26 3h0m-2 5h0m-4-5h0m-13-11h0m-19 15h0m-1-9h0m-2 6h0m-23-13h0m-2 13h0m-2-9h0m0 2h0m-10 9h0m-45-10h0m-11 13h0m-1-22h0m-2 7h0m-24 10h0m-26 3h0m-89 0h0m11 17h0m14-5h0m8 11h0m10-9h0m49-10h0m28 11h0m23 8h0m15-8h0m2-8h0m6 16h0m2-6h0m2-10h0m24 17h0m9-9h0m39-3h0m14-3h0m12-2h0m1 5h0m10 8h0m9-7h0m4 9h0m5-15h0m4 2h0m1 12h0m2 0h0m1-9h0m1 9h0m1-7h0m15 9h0m4-15h0m4-4h0m3 16h0m9-5h0m8-10h0m3 7h0m2 7h0m1 7h0m6-5h0m6-6h0m0 0h0m17-8h0m6 14h0m1 5h0m4-2h0m2-17h0m2 2h0m0 6h0m2-8h0m1-3h0m5 0h0m3 17h0m3-2h0m3-11h0m1 2h0m1 1h0m6-8h0m2 8h0m2 13h0m1-15h0m1-1h0m0 0h0m1 1h0m1 10h0m4 6h0m1-18h0m1 4h0m2-3h0m0 8h0m1-1h0m4-4h0m1 15h0m6-4h0m3 4h0m1-11h0m0 3h0m1-4h0m1-11h0m1 4h0m0 4h0m1 4h0m1-3h0m0-4h0m4-2h0m0 0h0m3 9h0m0-11h0m1 9h0m4 10h0m0 1h0m1 0h0m6-17h0m2-4h0m10 22h0m0-7h0m1 1h0m4-16h0m3 13h0m5-13h0m4 2h0m2 19h0m2-14h0m2-2h0m1-2h0m6 4h0m0 1h0m1-5h0m0 6h0m7-5h0m1-3h0m1 15h0m0-11h0m1 1h0m4 7h0m1-2h0m2 11h0m3-17h0m3 4h0m1-5h0m1 6h0m0 12h0m2-5h0m1-2h0m0 0h0m2-12h0m0 11h0m2 0h0m1-1h0m1 1h0m5-11h0m2 0h0m0 12h0m1 6h0m0-17h0m1-4h0m3 4h0m7 12h0m1-3h0m3 10h0m0-1h0m4-3h0m1-5h0m0 7h0m3-4h0m0-2h0m1-3h0m4 7h0m0-15h0m0 0h0m1 5h0m2-4h0m1-2h0m0 17h0m1-19h0m2 20h0m1-1h0m3-15h0m2 1h0m1 6h0m9 3h0m524-14h0m0 10h0m1-3h0m1 1h0m0 6h0m0 7h0m1-17h0m0-5h0m0 22h0m1-22h0m1 19h0m1-15h0m0 5h0m1-7h0m0 19h0m0-16h0m0 1h0m0-1h0m1-4h0m2 17h0m0-9h0m1 4h0m1-11h0m0 11h0m1-9h0m2 15h0m1-12h0m0 4h0m1-3h0m0 3h0m-2 16h0m-2 8h0m0-8h0m0 1h0m0-3h0m-1-1h0m0 0h0m0 14h0m-1 2h0m-2-16h0m0 3h0m0 20h0m-3-12h0m0 0h0m-1 9h0m0-19h0m-1 17h0m0-12h0m-1 5h0m-1 1h0m0 1h0m0 5h0m-1-12h0m-1-3h0m0 8h0m-1 8h0m0-5h0m0-14h0m-522 0h0m-7 4h0m0 19h0m-7-22h0m-2 22h0m-2 0h0m-6-23h0m-11 3h0m-1-2h0m-2 0h0m-1 21h0m0-3h0m-1 0h0m-1-2h0m0 6h0m0-6h0m-1 2h0m0 2h0m-2-20h0m-1 17h0m-1 5h0m0-14h0m-2 13h0m-1-2h0m-1 1h0m-1-19h0m-1 15h0m-3-2h0m0 7h0m-2-11h0m-3-7h0m0 19h0m0-17h0m-3 11h0m-1 1h0m-3-10h0m0 1h0m0-4h0m-1 0h0m0 6h0m-3-7h0m-1-4h0m-3 16h0m-3 2h0m-4 2h0m-3-17h0m-2 20h0m-3-3h0m0-16h0m-1 12h0m0-16h0m-3 6h0m-1 17h0m0-21h0m-1 8h0m-6-3h0m-1 0h0m-2 14h0m-3-21h0m0 5h0m-4 16h0m-1 1h0m-3-6h0m-4 0h0m-2-15h0m-1 5h0m0 16h0m-2-19h0m-1 18h0m-3-8h0m0-7h0m-1-6h0m-5 2h0m0-1h0m0 18h0m-6-11h0m-1-4h0m0-4h0m-6 22h0m-1-9h0m-2 6h0m-2-10h0m-8 5h0m-1-13h0m-1 18h0m-2-14h0m-4-5h0m-4 0h0m-7 11h0m-3 7h0m-3 3h0m-2-4h0m-4 3h0m-10 2h0m0-1h0m-6-14h0m-2-6h0m-1 19h0m-3-8h0m-2-4h0m0 6h0m-3 9h0m-1-5h0m0-10h0m-3 4h0m-2 8h0m-3 1h0m-1-7h0m0 1h0m-5 7h0m-1 1h0m-8-20h0m-4 16h0m-12 3h0m-5-17h0m-5 15h0m-2-8h0m-1-6h0m-4-3h0m-2 0h0m-4 12h0m-4-15h0m-5 9h0m0 2h0m-3-8h0m-5 2h0m-1 12h0m0 4h0m-1-2h0m-12-1h0m-12-9h0m-3 13h0m-3-10h0m-1-12h0m0 22h0m-1-2h0m-4-18h0m-1 6h0m0 12h0m-3-11h0m-1 5h0m-15-3h0m-1-10h0m-9 7h0m-7-5h0m-5 16h0m-2-17h0m-5 2h0m-2 3h0m-8-4h0m-7 8h0m-12 4h0m-5 2h0m-7-11h0m-16-4h0m-9 21h0m-2-21h0m-7 2h0m-2 14h0m-23-3h0m-11 5h0m-3 1h0m-5-21h0m-1 0h0m-13 18h0m-7-7h0m-10 1h0m0 5h0m-2-13h0m-26 19h0m-32-11h0m-8-4h0m-36 27h0m17 8h0m16-2h0m7-10h0m5-3h0m11 14h0m2-8h0m36-7h0m10-2h0m34 7h0m34 1h0m2 13h0m29-20h0m8 2h0m4-3h0m1 6h0m2 11h0m5-1h0m20-12h0m1 18h0m5-19h0m20 5h0m1 3h0m1 7h0m3-1h0m7-12h0m3-1h0m0 1h0m1 1h0m10 7h0m8 7h0m13-3h0m6-14h0m1 3h0m14 1h0m3 6h0m2 3h0m8-14h0m5 16h0m0 3h0m5-2h0m3-1h0m2 4h0m7 0h0m8-22h0m2 5h0m4 17h0m10-23h0m0 11h0m2 0h0m1 7h0m5-11h0m1 10h0m2-13h0m2 11h0m9-9h0m5-6h0m1 2h0m4 9h0m0-8h0m8 16h0m13-9h0m4 8h0m4-13h0m0 18h0m5-22h0m6 16h0m7-14h0m1 12h0m4 8h0m3-20h0m6 6h0m3 14h0m0-21h0m3 13h0m0-8h0m1 15h0m0-3h0m4 3h0m3-20h0m2 11h0m2 7h0m0-5h0m1 0h0m0-1h0m1-11h0m1 11h0m0 3h0m0 6h0m1-12h0m6 12h0m2-23h0m2 19h0m2-2h0m1-3h0m0-11h0m1 13h0m1-15h0m8 16h0m0 0h0m1 0h0m2 5h0m1-14h0m5-2h0m0 3h0m2 3h0m2 5h0m0-16h0m1 8h0m5 7h0m3-6h0m0 9h0m4-12h0m1 12h0m1-13h0m1 11h0m1 6h0m6-1h0m0-12h0m0 1h0m9 12h0m7-19h0m4 15h0m2-8h0m2 10h0m3-6h0m1 2h0m0-17h0m0 23h0m2-9h0m1-4h0m0 4h0m1 0h0m0-4h0m0 2h0m1-4h0m0 13h0m1 1h0m4-13h0m2 9h0m2-8h0m2 5h0m5 3h0m0-16h0m1-1h0m1 11h0m1-11h0m1 15h0m1-5h0m4 2h0m0 0h0m1-10h0m4-3h0m2 10h0m3-4h0m2-2h0m0 7h0m1-5h0m2-6h0m1 13h0m1-2h0m3 5h0m2 4h0m1-19h0m0 0h0m0 2h0m3-2h0m1 3h0m1 3h0m1 5h0m2-12h0m1 1h0m2 21h0m2-1h0m2 1h0m1-16h0m2 2h0m1 13h0m1-18h0m2 5h0m0-6h0m0 3h0m1 11h0m2 3h0m2-2h0m3-7h0m2 13h0m5 0h0m2-7h0m2-5h0m1 5h0m0 0h0m1 3h0m2-7h0m4-1h0m1 2h0m4 3h0m2-6h0m6 8h0m4-9h0m1 8h0m0 3h0m2 3h0m0-6h0m2-5h0m8-2h0m0 3h0m1 2h0m2-5h0m0 6h0m1 5h0m2 0h0m6-8h0m3 10h0m4-9h0m0 7h0m4 2h0m1-1h0m2-1h0m1-10h0m5 6h0m9 5h0m6-8h0m0-3h0m1 12h0m1 0h0m0-7h0m1 2h0m0-3h0m1-3h0m0 1h0m1-1h0m6 3h0m2-1h0m4 0h0m2 8h0m1-4h0m3-4h0m2 1h0m1 4h0m1 2h0m4-3h0m0-1h0m1 6h0m4-8h0m0 3h0m1 3h0m0 2h0m1-5h0m4 0h0m3-2h0m0 7h0m1-8h0m1 3h0m1 4h0m0-2h0m3-7h0m0 5h0m3-5h0m4 10h0m1-4h0m0 2h0m1-3h0m1 1h0m3-7h0m1 7h0m1-2h0m4-4h0m0 9h0m3-12h0m0 11h0m1-4h0m0 0h0m0 1h0m1-1h0m2-3h0m1 5h0m2 4h0m1-5h0m1-4h0m0 6h0m3-1h0m2 4h0m1-13h0m0 4h0m0 5h0m1-3h0m1 7h0m5-12h0m1 8h0m1-4h0m1 8h0m1-6h0m0-4h0m2 1h0m1 7h0m1-3h0m0 5h0m0-12h0m1 0h0m0 4h0m2 1h0m2-4h0m1 6h0m1-7h0m0 7h0m3 1h0m2-4h0m1 7h0m2-1h0m1-9h0m1 7h0m3-2h0m2-2h0m1-4h0m0 12h0m3 0h0m1-10h0m1 1h0m1 3h0m0 5h0m2-1h0m1-2h0m0-3h0m1 2h0m0-5h0m0 1h0m1 8h0m2-8h0m0 9h0m1-2h0m3-7h0m1 6h0m1 1h0m2-2h0m1 4h0m2-11h0m0-2h0m1 1h0m1 7h0m0 1h0m4-1h0m0-3h0m1 8h0m0-2h0m1-7h0m1 4h0m1-8h0m0 5h0m0 5h0m4-3h0m2 5h0m0-8h0m3 5h0m4 1h0m1-2h0m2-8h0m0 11h0m0 2h0m1-5h0m1-2h0m0-2h0m1 6h0m0-9h0m0 8h0m0 0h0m1-4h0m1 0h0m0-2h0m0 6h0m0-1h0m1-8h0m1 4h0m5 5h0m2-4h0m2-4h0m1 6h0m2 0h0m0 2h0m1 3h0m0-1h0m1-11h0m3 7h0m1-7h0m0 1h0m0 10h0m1-6h0m1-2h0m2 6h0m1-4h0m1-3h0m0 2h0m2 0h0m0 4h0m0 1h0m0 2h0m1-9h0m5 1h0m1 7h0m1-6h0m1 4h0m1 1h0m1 2h0m0-2h0m3-7h0m0 0h0m1 4h0m3-3h0m0-1h0m2 4h0m0-4h0m0 7h0m1 3h0m9-9h0m1 7h0m2-8h0m1 8h0m0 0h0m1-7h0m1 9h0m0-2h0m3 1h0m1 1h0m2-5h0m1 4h0m0 2h0m1-9h0m1-1h0m2 0h0m7 6h0m0 0h0m0-4h0m2 3h0m1 5h0m1-2h0m2 0h0m2-9h0m3 8h0m0-4h0m1 3h0m1-6h0m3 10h0m1-3h0m0 0h0m2 2h0m1 0h0m1-7h0m4 4h0m0 2h0m4-2h0m0-6h0m1 9h0m2-7h0m2-3h0m5 4h0m0-3h0m1 0h0m0-2h0m1 8h0m2-5h0m0 8h0m2-3h0m1-2h0m0 1h0m1 5h0m1-8h0m0 5h0m0 1h0m1-8h0m1 4h0m1-2h0m1 1h0m1-2h0m1-2h0m1 6h0m1 5h0m0-1h0m1-1h0m1 0h0m1-5h0m5 5h0m1-6h0m2-2h0m1 9h0m0 1h0m1-7h0m0 7h0m1-11h0m0 3h0m2-1h0m1 7h0m0-6h0m1 0h0m0-1h0m0 5h0m2-1h0m0-2h0m3 0h0m0 3h0m1-6h0m1 4h0m1 0h0m0 0h0m1-2h0m2 3h0m6 2h0m1-8h0m3 3h0m0 0h0m2 6h0m4-2h0m3-8h0m2 4h0m2-3h0m0 5h0m2-2h0m2-1h0m0-3h0m1 9h0m0-8h0m4 5h0m4-13h0m0-3h0m0 0h0m1 1h0m2-2h0m0 22h0m0-5h0m1 3h0m0-10h0m0-1h0m1 8h0m0-8h0m1 0h0m0-3h0m1 8h0m0-2h0m1 3h0m0-15h0m1 22h0m0-13h0m1 4h0m1-12h0m3 4h0m0 18h0m1-1h0m2-9h0m0 13h0m-15 0h0m-1 1h0m-6 1h0m-3-2h0m-1-2h0m0 2h0m-10-2h0m-2 3h0m-1-2h0m-2 2h0m0-2h0m-7 1h0m-6 2h0m-2-2h0m-6 0h0m-3-2h0m-6 1h0m-1 2h0m-5 1h0m-3-3h0m-7 0h0m-2-1h0m-7 0h0m0 4h0m-1-3h0m-3-1h0m-9 2h0m0 2h0m-2-3h0m-5-1h0m-4 1h0m-3-1h0m-1 0h0m-5 2h0m0-1h0m-6 2h0m-7-2h0m-5 2h0m0 1h0m-1 0h0m-5-4h0m-3 1h0m-1 2h0m-4 1h0m-13-1h0m-5 0h0m-9-1h0m-1 0h0m-3-1h0m-7 1h0m0-1h0m-2 1h0m-3-1h0m-4-1h0m-14 3h0m-5-2h0m-2 0h0m-14-1h0m0 2h0m-4 1h0m-14-3h0m-7 1h0m-1 1h0m-5 2h0m-4-2h0m-1 2h0m-2-4h0m-5 2h0m-7 0h0m-5-2h0m-4 1h0m-8 0h0m-15 1h0m-4 2h0m-2-4h0m-3 1h0m-1-1h0m-2 2h0m-2 1h0m-3 1h0m0-2h0m-5 1h0m-4 0h0m-2-1h0m0 1h0m-3-2h0m0 0h0m-4 1h0m-4 2h0m-1-1h0m-2-2h0m0 0h0m-3 2h0m-9 1h0m-6 0h0m-9-4h0m-2 1h0m-4 3h0m-7-1h0m-5-3h0m-2 1h0m-3-1h0m-5 3h0m-6-2h0m-1 1h0m-10-2h0m-6 2h0m-1 0h0m-7-1h0m-11-1h0m-8 0h0m-16 0h0m-8 4h0m-9 0h0m-4 0h0m-5-4h0m-7 3h0m-4 1h0m-1-3h0m-1 2h0m-1-3h0m-10 4h0m-4-1h0m-3 0h0m-4-2h0m-5 2h0m-18-2h0m-14-1h0m-3 0h0m-23 1h0m-1-1h0m-8 0h0m-2 2h0m-20-2h0m-4 0h0m-11 3h0m-11 0h0m-9 1h0m-2-4h0m-27 3h0m-22-2h0m-7 2h0m-8-3h0m-2 4h0m-16-3h0m-19 0h0m-10 2h0m-2 0h0m-9-3h0m-10 1h0m-89 1h0m0 0h0m0-1h0m-43 1h0m-71 0h0m-51-2h0m-4 1h0m-29-1h0m-39 0h0" stroke="#a0a0a4" stroke-width="14" stroke-linecap="round" fill="none"/><path transform="scale(.5)" d="M3163 3358h0m83 2h0m-350 70h0m201-17h0m436 13h0m-183 25h0m-488 11h0m390 17h0m80-17h0m-166 20h0m-98 20h0m-77-12h0m-221 2h0m-3 30h0m31-1h0m48-1h0m148-15h0m31 15h0m160-13h0m86 18h0m342 0h0m-228 3h0m-107 1h0m-3 16h0m-39-4h0m-1 6h0m-18-2h0m-103 2h0m-30-3h0m-24-2h0m-27 3h0m-281 15h0m157-2h0m39 8h0m108-6h0m18 4h0m36 9h0m96 2h0m3-5h0m2-7h0m27 9h0m39-1h0m5-5h0m35-12h0m477 23h0m-111 20h0m-358-4h0m-6-4h0m-56-13h0m-11 11h0m-9 0h0m-40-2h0m-40-9h0m-81 22h0m-107-20h0m-45 13h0m-93-4h0m-43 8h0m-53-8h0m67 28h0m20-7h0m32-1h0m14 8h0m45-9h0m9 3h0m38 3h0m3-3h0m34-2h0m60-7h0m11 8h0m6 13h0m53 2h0m10 0h0m10-7h0m10-9h0m21 3h0m41 3h0m7-7h0m16 7h0m31 7h0m5-12h0m14 8h0m45 5h0m18-14h0m40-4h0m47 1h0m38 4h0m209 2h0m194 30h0m-308-1h0m-2-3h0m-47-1h0m-114-9h0m-70 7h0m-1 7h0m-2-3h0m-7-11h0m0 20h0m-12-1h0m-10-19h0m-61 9h0m-29 7h0m-11-17h0m-16 6h0m-3 4h0m-46-8h0m-1 14h0m-10 1h0m-4 4h0m-39-4h0m-10-5h0m-12-2h0m-7 3h0m-5-13h0m-13 12h0m-8 1h0m-27 1h0m-24 6h0m-46-10h0m-10 3h0m-3 5h0m-32-3h0m-48 0h0m-64-7h0m-22 9h0m-13-6h0m51 25h0m19-5h0m35-2h0m6 12h0m19 1h0m11-16h0m10-1h0m9 6h0m39-3h0m9 0h0m0 10h0m6 7h0m33-6h0m8-8h0m4 15h0m14-20h0m5 6h0m7-1h0m10 2h0m17 3h0m33 9h0m29-17h0m4-5h0m24 6h0m1 17h0m11-12h0m4-7h0m9 12h0m15-5h0m3 3h0m11 0h0m2 3h0m4-3h0m8 2h0m23 7h0m3-11h0m6 10h0m45-19h0m46 12h0m34-14h0m15 9h0m1 6h0m7-1h0m87-8h0m42 8h0m8 6h0m158-18h0m111 43h0m-218-2h0m-2 2h0m-55-5h0m-26-2h0m-26-15h0m-44 21h0m-47-1h0m-77-7h0m-53-5h0m-28 5h0m-9-2h0m-2 2h0m-3-4h0m-23 11h0m-57-7h0m-21 9h0m-12-7h0m-17-15h0m-9 9h0m-7-5h0m-6 1h0m-4 12h0m-22-2h0m-8 3h0m-5-4h0m-5 2h0m-1-14h0m-3 1h0m-17 8h0m-18-8h0m-49-2h0m-3 18h0m-63-15h0m-1 17h0m-19 2h0m-30-8h0m-11 4h0m-3-5h0m-1-14h0m-25 30h0m21 13h0m32-7h0m36 9h0m60-16h0m43 10h0m2-8h0m0 0h0m5 4h0m4 8h0m0-9h0m7 0h0m9-5h0m8 9h0m10-14h0m9 9h0m10-7h0m2 18h0m0-10h0m42 7h0m12 4h0m78-19h0m3 18h0m10 0h0m4 0h0m2-18h0m5 12h0m4 4h0m19-11h0m21 9h0m7-14h0m2 10h0m13 9h0m8 2h0m11-5h0m3-9h0m15-8h0m5 4h0m13 8h0m14 1h0m7 0h0m53-11h0m13 5h0m16 14h0m14-19h0m1 15h0m26-12h0m7 0h0m3 7h0m18-7h0m21 8h0m116-1h0m42-9h0m87 43h0m-174-9h0m-26 2h0m-24-3h0m-52 5h0m-2-7h0m-14 3h0m-11 7h0m-29 1h0m-12-2h0m-32-7h0m-9-1h0m-3 8h0m-27-7h0m-9-6h0m-7 1h0m-4-1h0m-9-1h0m-12 15h0m-15-17h0m-9 13h0m-17-4h0m-23-12h0m-1 19h0m-12-11h0m-31 6h0m-3-10h0m-12 13h0m-2-17h0m-4 18h0m-5-2h0m-5-15h0m-15 15h0m-1-2h0m-4-14h0m-2 12h0m-22 1h0m-4 9h0m-6-4h0m0-12h0m-19 2h0m-1-3h0m-8 1h0m-6 4h0m-10 2h0m-6 8h0m-25-21h0m-27 11h0m-19 1h0m-18 4h0m-1-1h0m-49-9h0m-14-6h0m-3 11h0m-20 0h0m-9 1h0m-3 9h0m-25-13h0m-12 9h0m-4-9h0m-14 8h0m-20-12h0m-4 12h0m0 5h0m-3-18h0m-14 14h0m-19 24h0m8 3h0m9-9h0m32 0h0m1-2h0m30-8h0m4 20h0m20-14h0m2-4h0m2 20h0m21-2h0m35-1h0m1 0h0m18-8h0m10 1h0m22 10h0m37-7h0m21 0h0m8-13h0m2 19h0m21-17h0m50 6h0m24 4h0m5 6h0m2 2h0m15-17h0m3 12h0m4-8h0m7 8h0m19 2h0m6-3h0m1 5h0m16-15h0m4-2h0m6 2h0m15-5h0m14 0h0m1 12h0m33 4h0m6-5h0m16 7h0m14-13h0m5 15h0m8-5h0m1-4h0m11 3h0m1-16h0m12 8h0m32 2h0m3 9h0m48-8h0m14 4h0m5 2h0m5 5h0m10-6h0m9 7h0m12 0h0m37-10h0m6 3h0m133-4h0m27 9h0m183-14h0m-157 32h0m-129-15h0m-119 3h0m-27 17h0m-3-1h0m-3 0h0m-6 4h0m-38-13h0m-8-9h0m-45 8h0m-9-3h0m-3 10h0m-9-6h0m-12 6h0m-13-15h0m-14 13h0m-4 7h0m-13 0h0m0-7h0m-6-4h0m-41-9h0m-8 15h0m-11 3h0m-13 2h0m-33-10h0m-11-11h0m-9 23h0m-8 0h0m-2-9h0m-1-13h0m-4 1h0m-3 5h0m-15-4h0m-6 20h0m-13 0h0m-1-12h0m-6 8h0m-18 3h0m-6-17h0m-3 3h0m-28 10h0m-6-14h0m-8 0h0m0-3h0m-14 19h0m-5 2h0m0-1h0m-16-14h0m-1 4h0m-2-9h0m0 10h0m-9-11h0m-3 11h0m-4-3h0m-10-4h0m-11 16h0m-7-5h0m-9 4h0m-5-20h0m-15 20h0m-9-10h0m-13 1h0m-1 4h0m-4-14h0m-13 19h0m-4-13h0m-9 6h0m0-9h0m-17 4h0m-6 12h0m-1-8h0m-60-7h0m-3 10h0m-9-14h0m-1 9h0m-1 3h0m-7 15h0m14 5h0m8 2h0m20 1h0m26-3h0m21 6h0m17 4h0m11-1h0m12-15h0m7 8h0m3 7h0m38-14h0m5-3h0m9 16h0m6 5h0m4-20h0m31 11h0m2-4h0m1 3h0m5 3h0m2-1h0m4 1h0m10-6h0m1 6h0m0 8h0m7-20h0m5-3h0m2 18h0m13-16h0m1 17h0m1-12h0m13-3h0m3 10h0m23-3h0m1 12h0m11-18h0m4-4h0m32 21h0m2-18h0m7-2h0m9-2h0m10 18h0m4-10h0m15 13h0m13-3h0m4-3h0m18-4h0m1-5h0m9 7h0m1 4h0m2-8h0m5-8h0m1 22h0m10-15h0m3 10h0m4 2h0m7-15h0m6 14h0m4-18h0m40 11h0m1 7h0m6 4h0m1 0h0m9-12h0m1 8h0m16-15h0m7 3h0m9-5h0m9 10h0m19-3h0m0-4h0m17 6h0m33-9h0m15 14h0m25-1h0m48-9h0m49 7h0m127 7h0m18 9h0m-130-4h0m-34 4h0m-24 18h0m-34-23h0m-7 2h0m-13 9h0m-17-8h0m-16 2h0m-18 2h0m-5 11h0m-38-11h0m-8-2h0m-37-1h0m-5 9h0m-3 7h0m-13-12h0m-23 10h0m-13 5h0m-10-15h0m-4 2h0m-36-2h0m-26-6h0m-2 16h0m-9 5h0m-7-7h0m-2-4h0m-10-8h0m-3-4h0m-6 1h0m-2 6h0m-12 4h0m-16-3h0m-2-6h0m-1 12h0m-10 9h0m-7-20h0m-1 8h0m-1 10h0m-1-3h0m-4-2h0m-6-1h0m-5-13h0m-12 4h0m-13 13h0m-14-2h0m-2 0h0m0-6h0m-11 12h0m0-21h0m-20 5h0m-5 0h0m-9 13h0m0-4h0m-1-3h0m-1-7h0m-8-1h0m-1 1h0m-10 11h0m-1-8h0m0-5h0m-24 10h0m-3-8h0m-3 1h0m-1 2h0m-8-7h0m-2 1h0m-14 0h0m0 8h0m-2 0h0m-2-11h0m-12 8h0m-17 0h0m-7-8h0m-3 7h0m-13-1h0m-23-2h0m-6 7h0m-28 5h0m-3 2h0m0-13h0m-6 15h0m-6-20h0m-8 3h0m-1 10h0m-9 4h0m-18-6h0m3 35h0m12-7h0m20 5h0m3-6h0m14-4h0m6 4h0m11 6h0m3-1h0m16-9h0m6-3h0m8 10h0m3 1h0m1-8h0m22-7h0m1-2h0m20 5h0m6 14h0m5-19h0m10 12h0m8 1h0m3 8h0m1-9h0m1-10h0m3 3h0m1 9h0m14-9h0m9 15h0m1-15h0m24-2h0m2 17h0m1-3h0m2 2h0m4-18h0m4 11h0m9-5h0m15-8h0m3 22h0m22-14h0m17 10h0m1 3h0m11-5h0m8-13h0m20 9h0m5-3h0m3 1h0m8 9h0m9-11h0m9-5h0m0 17h0m8-10h0m2 12h0m16-6h0m4-7h0m6-5h0m5 3h0m5 6h0m6-11h0m12 5h0m9-3h0m6 9h0m6 0h0m2-8h0m7 2h0m3-5h0m2 8h0m5-10h0m4 9h0m16 1h0m4 7h0m19 1h0m19-1h0m3-16h0m3 20h0m24-11h0m20-2h0m28 3h0m8 1h0m1-10h0m45 15h0m13 5h0m1-11h0m5-8h0m9 10h0m5-3h0m1 4h0m86 2h0m20 7h0m38-11h0m120 4h0m-122 22h0m-25-6h0m-1 15h0m-39-19h0m-10 7h0m-30 5h0m-9-11h0m-39 17h0m-17-13h0m-2 6h0m-1-15h0m-15 14h0m-12-2h0m-25-12h0m-7 12h0m-12 8h0m-30-2h0m-47-14h0m-8 4h0m-9 8h0m-6-12h0m-6 8h0m-17 2h0m-10 8h0m-2-13h0m-1 3h0m0-3h0m0-5h0m-7 0h0m-2-4h0m-5 1h0m-2 11h0m0-2h0m-5 10h0m-1-8h0m-3-2h0m-8-7h0m-6 19h0m-13-1h0m-8-13h0m-17 8h0m-12-4h0m-1 3h0m-19 6h0m-1-7h0m-6-12h0m-14 12h0m-5-5h0m-4-2h0m-1 7h0m-8 8h0m-3-4h0m-4-7h0m-7-11h0m-9 15h0m-9-1h0m-2-2h0m-7-5h0m-2-2h0m-1 14h0m-11-3h0m-6-10h0m-1 12h0m-6 3h0m-2-13h0m-4-2h0m-2 14h0m-13-3h0m-3 3h0m-6-16h0m-2 15h0m-4-18h0m-3 11h0m-8-8h0m-6-1h0m-7 10h0m-3-8h0m-31-5h0m-19 4h0m-7 5h0m-5 9h0m-2-4h0m-1 8h0m-8-21h0m-3 0h0m-2 9h0m-27-4h0m-9 13h0m-4-17h0m-1 12h0m-6-7h0m-20 0h0m-1-2h0m0 1h0m-4 6h0m-13-9h0m-8 20h0m-5-11h0m-8 5h0m-1-3h0m-9-7h0m-17 23h0m12 15h0m2-16h0m3 14h0m1-10h0m23-7h0m53 6h0m9 5h0m11 9h0m0-15h0m8-5h0m1 10h0m7 4h0m7-14h0m0 12h0m3-14h0m7 9h0m15 7h0m3-6h0m4 5h0m1-10h0m1 4h0m9-5h0m1-4h0m5 4h0m2 17h0m5-7h0m6-6h0m3 2h0m3-10h0m12 18h0m1 5h0m4-21h0m5 10h0m8 8h0m14-1h0m3-8h0m1 4h0m17-13h0m0 0h0m2 9h0m8 4h0m3-13h0m15 2h0m4 8h0m7-6h0m4 16h0m9-4h0m4-6h0m4-6h0m2 4h0m2 0h0m7 5h0m10-6h0m9 6h0m21-9h0m10 16h0m3-9h0m5-12h0m3 12h0m7 4h0m9-5h0m5 7h0m5-12h0m0 16h0m6-22h0m3 19h0m14-16h0m6 12h0m7-7h0m6-4h0m0 3h0m3-8h0m17 9h0m38-9h0m8 2h0m9-2h0m1 8h0m1 5h0m9 4h0m35 2h0m1-12h0m5 13h0m5-5h0m17-15h0m3 6h0m18-2h0m26 11h0m24 1h0m15-2h0m4 9h0m7-9h0m63-6h0m8-1h0m9-1h0m42 0h0m279 18h0m-269 0h0m-17 9h0m-7-3h0m-10 9h0m-4-9h0m-7 15h0m-43-9h0m-8-9h0m-22 18h0m-26-5h0m-50 2h0m-31-2h0m-1 3h0m-12-5h0m-2-14h0m-30 0h0m-23 20h0m-26-18h0m-13 1h0m-5 7h0m-2 8h0m-15 2h0m-7-1h0m-12-10h0m-3 5h0m-2 2h0m-8-2h0m-4-12h0m-8-2h0m-32 20h0m-1 0h0m-9-7h0m-14 4h0m-5-13h0m-4 0h0m-10-4h0m-3 2h0m-6-2h0m-23 8h0m-1 15h0m-9 0h0m-1-3h0m-1 1h0m-17-2h0m-2-16h0m-4 18h0m-2-12h0m-4 12h0m-3-18h0m-1 7h0m-23 5h0m-2-13h0m-7 8h0m-26-8h0m-29 7h0m-3 7h0m-4-10h0m-5 3h0m-3-3h0m-4 1h0m-5 13h0m-1-9h0m-1-3h0m-1 11h0m-6-2h0m-2-9h0m-21 13h0m-2-3h0m-3-9h0m-3 5h0m-9-7h0m-9 15h0m-19-7h0m-5-9h0m-8 7h0m-2-12h0m-11 22h0m-10-10h0m-9 5h0m-8-8h0m-18-8h0m-22-1h0m-1 6h0m-2-1h0m-14 22h0m20 0h0m0 17h0m13-5h0m14-2h0m7-4h0m7 7h0m11-9h0m18-5h0m1 5h0m2-6h0m4 14h0m7 4h0m35-2h0m18-9h0m3 9h0m0-14h0m12 5h0m0-6h0m15 18h0m4-7h0m7-12h0m5 5h0m5-1h0m1-3h0m2 7h0m10 10h0m1-7h0m4 8h0m15-3h0m5-18h0m4 21h0m0 1h0m12-18h0m6 5h0m7 11h0m8-19h0m2 9h0m14-8h0m12 19h0m12-7h0m4-10h0m4 0h0m3 14h0m12-9h0m5-2h0m18 7h0m8 4h0m9 4h0m0-3h0m10-9h0m4 10h0m7-20h0m2 18h0m5-18h0m6 4h0m9 0h0m25 0h0m5 18h0m15-20h0m11 4h0m1 4h0m11-1h0m9 3h0m8 3h0m5-11h0m10 15h0m1-3h0m1-13h0m3 6h0m11-4h0m0 1h0m27 13h0m2-14h0m11-4h0m21 8h0m26 0h0m11 7h0m2-9h0m6 4h0m16-7h0m7 6h0m1-8h0m18 15h0m2 6h0m0-14h0m2-4h0m11 2h0m38-3h0m61 17h0m9 2h0m8-14h0m34-1h0m330 38h0m-360-22h0m-11 13h0m-81-9h0m-3 2h0m-19 16h0m-36-14h0m-49 4h0m-16 11h0m-15-6h0m-7-14h0m-2-2h0m-19 4h0m-14-4h0m-11 5h0m-5 14h0m-8-9h0m-2-1h0m-14-2h0m-1-1h0m-8-4h0m-4 2h0m-8 11h0m-19 5h0m-5-3h0m0-11h0m-3 7h0m-3-13h0m-7 15h0m-2-16h0m-9 3h0m-15 18h0m-14-7h0m-12-14h0m-22 22h0m-5-16h0m-9 10h0m-4-3h0m-8-6h0m-2 5h0m-3 7h0m-6-5h0m-3-8h0m0 0h0m-10-1h0m-3 12h0m-3 5h0m-2-5h0m-13-2h0m-7-1h0m-4 5h0m-2-6h0m-7 4h0m-1 3h0m-2-9h0m-2 10h0m-8-8h0m-1 0h0m-2-6h0m-4-1h0m-8 17h0m-13-8h0m-7 7h0m-3-7h0m-15 5h0m-2-17h0m-10 20h0m-13-3h0m-1-6h0m-4 0h0m-2-10h0m-13 12h0m-1-10h0m-2-4h0m-5 7h0m-8 12h0m-4-1h0m-5-16h0m-7 15h0m-10-16h0m-34 11h0m-4 3h0m-4 2h0m-3-12h0m-9-3h0m0 2h0m-5 15h0m-7 1h0m-7-15h0m-8-4h0m-4-1h0m-4 13h0m-5 2h0m0-2h0m-23-10h0m-2 1h0m-1 15h0m-5-5h0m-4 5h0m-3-12h0m-1 9h0m-2-15h0m6 44h0m21-8h0m13 2h0m2-17h0m18 23h0m4-2h0m18-19h0m2 2h0m1 7h0m1-11h0m8 3h0m7 15h0m1-11h0m14 14h0m1-16h0m1 6h0m18 1h0m6 5h0m3-13h0m18 5h0m12 6h0m13-6h0m2 8h0m7-5h0m33-1h0m8 1h0m17-11h0m13 12h0m4 3h0m11-8h0m5 10h0m20-3h0m0-7h0m4 9h0m2 3h0m4-1h0m13-12h0m18 13h0m1-18h0m4-2h0m8 11h0m7-5h0m23 0h0m22 12h0m3-2h0m20 7h0m2-4h0m10 2h0m5-11h0m5 7h0m3-14h0m12 17h0m16-12h0m8-2h0m7-4h0m8 13h0m4-13h0m21 14h0m15-11h0m24 8h0m41-6h0m20 2h0m12 8h0m15 3h0m24-16h0m0 4h0m5 6h0m346 5h0m83 20h0m-422-13h0m-29 15h0m-11 6h0m-6-13h0m0-4h0m-56 1h0m-12 13h0m-4-15h0m-3-2h0m-23 19h0m-33-8h0m-15-5h0m-14-3h0m-16 11h0m-12-3h0m-17 8h0m-23-18h0m-4 3h0m-4-3h0m0 19h0m-11-21h0m-6-2h0m-2 6h0m-14-3h0m-26-1h0m-7-2h0m0 14h0m-11-7h0m-7 13h0m-1-3h0m-12-2h0m-37 1h0m-6 1h0m0-13h0m-27 11h0m-7-2h0m-21-11h0m-3 21h0m-3-21h0m-3 18h0m-3-12h0m-21 6h0m-2 5h0m-31-19h0m-26 6h0m-66-2h0m-5 0h0m-17 11h0m-3 0h0m-44-2h0m16 27h0m48 0h0m3-16h0m4 8h0m14 7h0m1 5h0m9-17h0m6 2h0m53 17h0m2-3h0m43-8h0m5-6h0m2 2h0m4-2h0m9-3h0m1 3h0m7 7h0m14 11h0m7-22h0m25 2h0m1 4h0m9 8h0m4 1h0m1-14h0m6 10h0m7-12h0m0 4h0m1 15h0m62-19h0m1 4h0m20 11h0m30-4h0m12 8h0m15-5h0m2-6h0m33 2h0m29 0h0m4 5h0m19 3h0m23-13h0m610 0h0m24 21h0m-532 5h0m-18 4h0m-63-5h0m-32 3h0m-45-1h0m-42-1h0m-6 3h0m-3-9h0m-2 10h0m-15 10h0m-95-12h0m-11 13h0m-22-20h0m-10 5h0m-31 10h0m-3 0h0m-37-6h0m-16 11h0m0 1h0m-3-8h0m-8-14h0m-4 5h0m-6 12h0m-21-4h0m-19-7h0m-32 16h0m-5-1h0m-4-14h0m-29 13h0m-3-21h0m-4 16h0m-1-15h0m-26 1h0m-37 29h0m27 7h0m12-12h0m7 4h0m24 6h0m12-7h0m10 12h0m3-8h0m4-9h0m1 1h0m13 18h0m8-11h0m23-5h0m0 9h0m14 1h0m28 9h0m14-13h0m15-8h0m10 20h0m9 2h0m10-4h0m13-8h0m4 9h0m20 1h0m30-19h0m29 19h0m5-12h0m7 3h0m4-4h0m6 8h0m37 2h0m4 1h0m12-2h0m86-14h0m42 19h0m30-21h0m16 24h0m-13 2h0m-31 2h0m-2 15h0m-3-2h0m-22-12h0m-28 13h0m-21-5h0m-29 3h0m-12 3h0m-14-8h0m-46-2h0m-20-6h0m-40 11h0m-45-10h0m-6 18h0m-40-15h0m-23 10h0m-20-14h0m-33 8h0m-51-1h0m-12 2h0m-19 10h0m-15-10h0m-24 2h0m-4 6h0m-9-1h0m-9 7h0m15 13h0m1-16h0m25 13h0m8 8h0m9-4h0m24-10h0m41 7h0m21-10h0m1 19h0m14-18h0m0 13h0m3 1h0m9-1h0m10 2h0m8 0h0m10 3h0m10-22h0m17 12h0m27-4h0m1 6h0m57-13h0m3 17h0m3-10h0m1 4h0m19-6h0m10-1h0m3-3h0m28-1h0m34 5h0m16-3h0m4 0h0m25 0h0m17 5h0m31-8h0m22 4h0m11-1h0m589 17h0m-617 6h0m-46 7h0m-2-9h0m-6 11h0m-41 7h0m-35-17h0m-20 16h0m-88-7h0m-52 5h0m-51-12h0m-9-4h0m-10 21h0m-3-8h0m-11 5h0m-43 3h0m-4-6h0m-8 1h0m-4-16h0m-5 9h0m-58 23h0m6 10h0m8-1h0m7-3h0m7 5h0m16-16h0m4-3h0m38 11h0m2 4h0m2-4h0m5 3h0m29 0h0m92 3h0m41-1h0m8-14h0m58 7h0m99-2h0m31-4h0m244 5h0m24 7h0m-345 11h0m-187 2h0m-40 2h0m-73 1h0m-42 11h0m-5 22h0m37 0h0m33 5h0m197-8h0m24-5h0m-99 18h0m-154 14h0m-27-8h0m-36 39h0m19-6h0m69-1h0m19 6h0m141-7h0m-156 14h0m-100 0h0m67 57h0m-24-11h0m-8 37h0m27 13h0m-33 20h0" stroke="#f84444" stroke-width="14" stroke-linecap="round" fill="none"/><path transform="scale(.5)" d="M3914 4265l-4-5l-12-3l-7-14l-9-3l-7 1l-6 4l-3 6l0 29l-7 10l-3-4l-9-3l-13 2l0-37l-3-6l-6-4l-10-2l-9 3l-3 4l-4-13l-14-6l-15 3l-8 10l-19 0l-14 9l-7 2l-6 9l-24-1l-7-6l-18-1l-6 4l-3 6l0 7l-11 11l-25 2l-7 5l-2 5l-8 8l-2 17l-25 0l-12-6l-11 5l-3 6l-2 16l7 10l0 25l-14 7l-4 12l-2-1l0-7l-3-6l-11-8l-10-3l-2-8l-4-5l-9-3l-11 5l-3 6l-1 29l6 9l-8 4l-5 8l2 10l-1 25l-12 5l-5 8l0 33l-26 0l-5-8l4-8l0-10l9-3l6-9l-3-20l-4-5l-6-3l2-10l-3-6l-6-5l-2-5l-6-4l-8-1l-11-5l-9 3l-5 8l0 11l6 10l9 3l-3 5l0 20l6 16l-1 9l6 9l-10 6l-5 12l-10 9l0 12l4 5l9 3l30-3l8-7l6 8l11 4l12-4l25-1l33 4l19-2l8-7l1-15l6-3l4-5l4-11l1-12l25 0l1 19l3 6l6 4l16 1l-2 6l1 9l4 5l9 3l28-1l9 2l16-6l24 1l10 4l19 1l9-3l8-10l30 0l4-2l5-9l4-2l11 5l9-3l10-7l11 5l15-2l8-7l1-9l-2-4l6-9l0-10l-3-6l-6-4l-25-2l0-27l8-7l5-11l3 1l5 9l14 3l4 7l7 5l12 0l13-6l4-5l2-21l6-9l0-18l-2-4l-1-21l-10-11l0-22l4-7l0-7l-7-9l3-4l6 0l6-4l3-6zM3860 4320l5 6l0 26l-3 2l-21-1l-1-27l14-2z" fill="#00fb00" fill-rule="evenodd"/><path transform="scale(.5)" d="M3912 3947h0m-245 36h0m-58 24h0m189-6h0m104 29h0m-42-15h0m-19 8h0m-28 2h0m-25-11h0m-114 21h0m70 20h0m74-8h0m4-5h0m55 0h0m9 19h0m-108 15h0m-1-5h0m-17 5h0m-23-7h0m-17 3h0m-45-3h0m-20-1h0m-188 25h0m57-2h0m66 7h0m59-7h0m25-8h0m6 18h0m34-15h0m2-3h0m41 0h0m33 10h0m16 3h0m8-8h0m22-7h0m9 9h0m4 0h0m4-6h0m15-1h0m5 19h0m28-22h0m8 17h0m10-10h0m-19 40h0m-18-7h0m-28-15h0m-12 17h0m-5 3h0m-2-10h0m-3-1h0m0 11h0m-2-10h0m-10 3h0m-2-4h0m-22 0h0m-8-10h0m-1 13h0m-36 3h0m-20 7h0m-7-16h0m-19-2h0m-43 14h0m-21-6h0m-4 8h0m-1 1h0m0-19h0m-7-3h0m-222 15h0m74 32h0m23-1h0m53-21h0m20 20h0m9-4h0m3 3h0m20-18h0m28 18h0m5 3h0m6-16h0m3-2h0m12 9h0m2-6h0m0 0h0m8 11h0m18-2h0m11-14h0m3 13h0m0 2h0m6-11h0m4-2h0m4-2h0m3 6h0m2-1h0m18 14h0m1-19h0m0 20h0m10-21h0m7-1h0m6 13h0m18-7h0m7-1h0m10-6h0m8 13h0m5-1h0m1 4h0m4 6h0m1-7h0m9-15h0m0 13h0m4-12h0m1 13h0m16-14h0m6 22h0m3-21h0m9 21h0m7-10h0m2 1h0m5-5h0m3 8h0m5 7h0m1-19h0m4 1h0m2-1h0m1 9h0m7 0h0m5 8h0m3-10h0m7 5h0m0-10h0m1-5h0m0 15h0m3 7h0m1-1h0m-3 2h0m-1 12h0m0-2h0m-2-4h0m0 1h0m-6 4h0m-5 6h0m-4-9h0m0 2h0m-2 13h0m-2-22h0m-3 16h0m-3-9h0m-6 6h0m-3-11h0m-4 11h0m-1 4h0m-3 3h0m-11-9h0m0 4h0m-3 7h0m-3-7h0m-1 1h0m0-16h0m-1 22h0m-3-17h0m-4-5h0m-5 21h0m-3-20h0m-2 15h0m-8-5h0m-1 9h0m-3-5h0m-1 5h0m-1-11h0m-5-4h0m0 6h0m-1 7h0m-4-4h0m-13 7h0m-7-16h0m-8 2h0m-7 14h0m-2 0h0m0-22h0m-3 19h0m-4-11h0m0-2h0m-11-2h0m-4 4h0m-1-1h0m-5 7h0m-1-1h0m-3-8h0m-9 10h0m-2 0h0m-4-13h0m-5 9h0m0-4h0m-5 1h0m-2-6h0m-14 6h0m-3 12h0m-5-18h0m-10-2h0m-7 14h0m-1 4h0m-6 3h0m-5-6h0m-2-11h0m-3 9h0m-2-8h0m-19 11h0m-1-10h0m-2 10h0m-1 1h0m-3 1h0m-5 4h0m-30-6h0m-22 2h0m-14-7h0m-19 0h0m-6 11h0m-3-7h0m-34 6h0m-89-19h0m-68 4h0m-9 2h0m-39 28h0m124 0h0m16 11h0m53-22h0m6 6h0m4-2h0m37-2h0m3 20h0m2-23h0m12 18h0m10-8h0m10 8h0m6-15h0m3 8h0m5-6h0m2 2h0m17 12h0m10 0h0m0 0h0m2-5h0m3 8h0m2-14h0m5 15h0m8-10h0m2-12h0m4 15h0m1-16h0m9 0h0m1 14h0m4-4h0m3 4h0m18-2h0m11-3h0m2-7h0m10 12h0m6-6h0m6 4h0m2-3h0m1 13h0m0-21h0m3 22h0m5-8h0m5-10h0m2 15h0m1-11h0m1-2h0m3-4h0m10 1h0m1 6h0m2-7h0m4 9h0m5-5h0m0-2h0m1 18h0m7-23h0m3 0h0m0 23h0m4-21h0m2 16h0m1-2h0m2 2h0m3-17h0m0 17h0m12-11h0m5 14h0m0-14h0m2 14h0m1-7h0m4 3h0m4-3h0m5 3h0m2 4h0m0-12h0m8 10h0m5-15h0m3 11h0m5-5h0m2-9h0m5 15h0m3-3h0m5-3h0m1-6h0m7 16h0m5-2h0m7-3h0m5-3h0m1 9h0m2-13h0m2-6h0m1 0h0m2 16h0m1-6h0m4-6h0m2 9h0m3-5h0m2 8h0m4-1h0m2-2h0m3-10h0m1-4h0m0 2h0m2 0h0m1 13h0m2-1h0m2-3h0m3-1h0m2 8h0m1-18h0m-2 37h0m-6 9h0m-1-20h0m-4 2h0m0 17h0m-2-10h0m-2 9h0m-1-3h0m-1-11h0m-19-2h0m-3 3h0m-1-1h0m-2-5h0m0 16h0m-2 1h0m-2 0h0m-6-3h0m-4-13h0m-3 4h0m-3 6h0m-4-9h0m-6 12h0m-1-4h0m-4 6h0m-1-7h0m-1-5h0m-5 8h0m-2 8h0m0-12h0m0 10h0m-1-12h0m-3 9h0m-2-8h0m-1 13h0m-4 0h0m-1-10h0m-6 8h0m-2-13h0m-1 12h0m0-13h0m-1 17h0m0-10h0m0 0h0m-1 1h0m0-6h0m-2 13h0m-2-4h0m-2-10h0m-2 14h0m-7-15h0m-1 17h0m-4-7h0m-10 7h0m-1-5h0m-2 3h0m0-21h0m-3 9h0m-2-4h0m-3 16h0m0-10h0m-1-9h0m-1 2h0m-5 14h0m-2-1h0m0-15h0m-1 8h0m-2 0h0m-2 9h0m-1 4h0m-1-19h0m-8-3h0m-6 14h0m-1 7h0m0-6h0m0-16h0m-3 4h0m-1 19h0m-6-9h0m-2-11h0m-2 13h0m-1 0h0m-2-7h0m-1 6h0m-4-8h0m-3 10h0m-5-7h0m-7 0h0m-4-4h0m-1 13h0m-10-1h0m-1-3h0m-2 1h0m0-16h0m-6 21h0m0-1h0m-3 3h0m-1-12h0m-1-6h0m-3 1h0m-1-5h0m-5 18h0m-9-12h0m-1 7h0m-1 8h0m-3-15h0m-5 5h0m-1-12h0m-1 12h0m-4 10h0m-1-3h0m-3 1h0m-3 2h0m-2-7h0m-2 7h0m-1-15h0m0 0h0m-6-5h0m0 18h0m-16-1h0m-4-5h0m-9 0h0m-2-5h0m-8 12h0m-11-11h0m0 11h0m-10-21h0m-4 16h0m-4 2h0m-5 2h0m-5-4h0m-4-8h0m-9 15h0m-2 0h0m-22-8h0m-9-6h0m0 0h0m-4 14h0m-16-3h0m-17-10h0m-42 10h0m-93-14h0m-19 32h0m10-14h0m16 15h0m20 6h0m31-10h0m45 7h0m1-1h0m2-10h0m35-6h0m4 5h0m3 0h0m7 0h0m10 10h0m12-14h0m8 12h0m5-12h0m9 3h0m3 18h0m1-21h0m17 19h0m0-10h0m1-7h0m4 2h0m3-2h0m4 11h0m3 2h0m8-7h0m1 0h0m5 2h0m9 6h0m0-6h0m3 1h0m2-5h0m3 10h0m5 2h0m1-3h0m1 1h0m2-9h0m4 9h0m0-7h0m0-3h0m1 3h0m3-9h0m3 0h0m1 14h0m0-5h0m6 6h0m1-7h0m1 6h0m3 2h0m0-6h0m1 1h0m4 6h0m8-13h0m5 3h0m0 2h0m3 6h0m1-16h0m1 20h0m0-12h0m1 4h0m4 3h0m2-12h0m1 19h0m3 0h0m1-19h0m0 11h0m2-10h0m0-2h0m7 11h0m1-1h0m0 5h0m2-1h0m6 0h0m0-14h0m1 17h0m2-5h0m2 6h0m10-2h0m3-15h0m1 19h0m1-11h0m5-4h0m1-2h0m2-4h0m6 12h0m1-8h0m3 1h0m0 1h0m2 7h0m3 6h0m1 2h0m9-18h0m1-2h0m1 2h0m0 6h0m0 3h0m1-13h0m1 7h0m7 5h0m0 4h0m4-9h0m5 3h0m2 5h0m3-12h0m1 3h0m0-4h0m10 12h0m2 3h0m2-15h0m1 11h0m2-6h0m3-2h0m5-1h0m4-2h0m7-2h0m5 13h0m2 1h0m1-11h0m3 2h0m5 1h0m0 9h0m1-1h0m0-3h0m0-3h0m6 8h0m0 2h0m0-9h0m1-10h0m3 3h0m2 17h0m1-20h0m3 3h0m3 3h0m2 6h0m1-6h0m1 14h0m0-20h0m0 23h0m2-18h0m1 8h0m0 4h0m2 5h0m2-8h0m2-3h0m1 6h0m1-2h0m1 6h0m2 2h0m5-2h0m1 0h0m1-17h0m2 5h0m2-8h0m1 6h0m2 10h0m1 3h0m0 1h0m1-6h0m2-5h0m5 5h0m6 5h0m0-18h0m5 20h0m3-8h0m3-9h0m1 8h0m2 1h0m2-1h0m3 4h0m1-11h0m2 15h0m1-11h0m1 7h0m7-7h0m4-2h0m1-2h0m4 4h0m3-7h0m1 13h0m1-14h0m4 11h0m-1 28h0m-1-8h0m-2 3h0m-1-10h0m0 0h0m-1 11h0m-4-4h0m-1-5h0m-1 6h0m-2 13h0m-5-19h0m0-1h0m-1-2h0m-2 3h0m0 9h0m-1-6h0m-9 4h0m-1-9h0m0 9h0m-6-11h0m-11 3h0m0-1h0m-1 0h0m-1 3h0m-3 14h0m0 4h0m-2-13h0m0 10h0m-3-5h0m-1 0h0m0-12h0m0 18h0m0-5h0m0-1h0m-4-11h0m-7 7h0m-5-3h0m-1-1h0m-1 3h0m-3 1h0m-2-3h0m-3-7h0m-1 15h0m-1-2h0m0 6h0m0-1h0m0-5h0m0-6h0m-2 10h0m-6-2h0m-94-13h0m-9 2h0m-1-3h0m-6 9h0m-4-11h0m0 12h0m-4 1h0m-5-1h0m-2-3h0m0-5h0m-5 6h0m-5 0h0m-1-1h0m-1 4h0m0-6h0m0 7h0m-1-3h0m-2-11h0m0 1h0m-2 10h0m-1-11h0m-1 7h0m-2-7h0m-6 2h0m-6 1h0m-1-1h0m-6 21h0m-1-17h0m-2-6h0m0 10h0m-1 13h0m0-19h0m-1 11h0m-2-2h0m-3 10h0m-4-11h0m-1 2h0m-4 2h0m-9-13h0m0 0h0m-7 4h0m-1 1h0m-2-3h0m0 14h0m-2-6h0m-4 5h0m-1 2h0m-1-4h0m-2 3h0m0-19h0m-2 0h0m-1 1h0m-3 10h0m-1-5h0m-2 1h0m-9-7h0m-1 21h0m-3-18h0m-4-1h0m-2 9h0m-1 9h0m-4-1h0m0-18h0m-6 4h0m-2 6h0m0 12h0m-11-2h0m-3 1h0m-16-14h0m-9-1h0m-3-3h0m-4 8h0m-3-1h0m0 12h0m-1-7h0m-14 2h0m-9-2h0m-2-7h0m-1 4h0m-1 3h0m-9 0h0m-1 2h0m-2-4h0m-10 3h0m-6-3h0m-2-12h0m-1 9h0m-2 12h0m-7-4h0m-10-19h0m-5 15h0m-26 0h0m-4 4h0m-13-7h0m-14 3h0m-27-9h0m-83-6h0m-28 42h0m28-1h0m15-17h0m42 10h0m3 5h0m7-15h0m3 10h0m18 1h0m21-4h0m8-3h0m9 8h0m32 1h0m0-9h0m10 16h0m4-10h0m2-10h0m11 19h0m2-10h0m2 5h0m9-13h0m6 13h0m2-7h0m7 12h0m2-5h0m1-14h0m5 6h0m4 6h0m3 8h0m2-17h0m0 4h0m3 14h0m1-20h0m0 12h0m1-12h0m2 14h0m23 8h0m5-10h0m3-5h0m0 3h0m7 3h0m1-8h0m4 7h0m2 0h0m1 9h0m2-7h0m0-10h0m3 3h0m1 10h0m5-2h0m2 7h0m0-8h0m11-3h0m1-12h0m1 19h0m9-3h0m4-2h0m0 6h0m6-4h0m3-5h0m0 11h0m4-21h0m0 9h0m0 13h0m0-12h0m1 3h0m0-10h0m0 15h0m5 3h0m3-18h0m1-2h0m1 10h0m0 6h0m0-5h0m6-8h0m5 3h0m0-8h0m1 5h0m7-4h0m1 7h0m6-2h0m3 4h0m1-9h0m1 9h0m2-2h0m1-8h0m2 4h0m175 9h0m1 6h0m5-7h0m0-12h0m3 0h0m0 7h0m0 12h0m1-10h0m4-5h0m0 12h0m1-7h0m0-3h0m1 10h0m2-2h0m1-1h0m1-1h0m2-2h0m0-7h0m1 6h0m0 14h0m1-15h0m0 5h0m2 10h0m3-7h0m1 1h0m1-9h0m0-8h0m1 5h0m2 16h0m0-2h0m0-9h0m1-8h0m3 1h0m22 19h0m2-11h0m1 0h0m11 10h0m1-15h0m1 0h0m1 9h0m1-9h0m5 5h0m1-10h0m1-1h0m2 7h0m4-1h0m1 6h0m0-9h0m1 2h0m0-2h0m0 23h0m-1 6h0m-1 2h0m-1 11h0m0-9h0m-4 5h0m0-13h0m0 12h0m-1-3h0m-2-8h0m0-4h0m-2 6h0m-2 4h0m-2 0h0m-1 7h0m-2-8h0m0-5h0m-1 17h0m-1-22h0m-1 11h0m0-2h0m-3 9h0m-1 3h0m0-1h0m-1-4h0m0 4h0m0-19h0m-33 19h0m-2-20h0m-5 22h0m-1-1h0m-1 1h0m-241-21h0m-1 0h0m-3 17h0m-2 3h0m0-1h0m0-17h0m-2 12h0m0-4h0m-1 11h0m0-1h0m-1-19h0m-2 7h0m-1 0h0m-1 4h0m0-2h0m-2-11h0m-2 5h0m0 14h0m-1 0h0m-8 1h0m-4-2h0m-1-9h0m0 13h0m0-15h0m-1 14h0m0-12h0m-2 12h0m0-17h0m-2 3h0m0 4h0m-4-1h0m-1-9h0m-2 7h0m-4 10h0m-3-1h0m0-7h0m-2-2h0m-2-5h0m-1 6h0m-6-9h0m-2 19h0m-1-4h0m-2-1h0m-2 7h0m-2-17h0m-5 2h0m-12 3h0m-5 1h0m-3 11h0m-1-5h0m-6-11h0m-7 1h0m-3-5h0m-11 16h0m0-14h0m-1 12h0m-11-2h0m-1-8h0m-2 15h0m-1-18h0m-1 16h0m0-2h0m-2-15h0m-4 12h0m-4 10h0m-2-4h0m0-13h0m-8 13h0m-4-2h0m-3 2h0m-2-17h0m-3 7h0m-1-8h0m-2 5h0m-8-4h0m0 4h0m-3 12h0m-2-1h0m-3-9h0m-11-4h0m-12 1h0m-13 10h0m-1-13h0m-7 20h0m-4-18h0m-10 5h0m-2 10h0m-58-10h0m-81 35h0m20-12h0m51-3h0m1 15h0m19-16h0m4 19h0m9-10h0m31-12h0m3 10h0m18 2h0m14-9h0m1 12h0m5-10h0m5 9h0m6-10h0m0 16h0m1-2h0m1-5h0m8-5h0m10 2h0m2 10h0m4-12h0m8 3h0m2 4h0m6-7h0m1-6h0m1 5h0m7 4h0m6-1h0m3-10h0m2 22h0m3-2h0m1-11h0m1 6h0m3-16h0m2 8h0m3-2h0m0 6h0m6-7h0m5-3h0m0 19h0m1-14h0m3-5h0m2-2h0m4 18h0m4 2h0m0 0h0m3 3h0m1-13h0m1 7h0m2-6h0m3-7h0m1 18h0m1-6h0m0 5h0m5 0h0m3-18h0m0 16h0m2-12h0m2 5h0m4 4h0m0-13h0m0 11h0m6-5h0m1-7h0m1 15h0m1-4h0m4 5h0m2-14h0m0 6h0m0 11h0m2-3h0m1-3h0m2-13h0m1 20h0m1 1h0m25-22h0m249 9h0m1 8h0m0-13h0m0 9h0m2 5h0m0-11h0m2 8h0m0-8h0m3 9h0m0 3h0m1-8h0m2-12h0m0 13h0m2-9h0m2 6h0m1 1h0m0-9h0m2 3h0m2 2h0m2-2h0m4 6h0m3 8h0m1-10h0m2 0h0m0 5h0m3-2h0m0-10h0m2 21h0m22-10h0m0-10h0m3 6h0m5 12h0m1-17h0m1 1h0m1 13h0m1-6h0m1 3h0m1-6h0m0-6h0m3 17h0m1 3h0m0-10h0m2 9h0m1-7h0m1 3h0m2-3h0m1-1h0m1 7h0m0-5h0m4-5h0m1 6h0m-3 8h0m0 2h0m-1 2h0m-2 9h0m-1 1h0m-2-6h0m-3 12h0m-3-11h0m-2 3h0m0 6h0m-1-15h0m0 3h0m-1 4h0m-34-3h0m-2-3h0m0 5h0m0-8h0m-4 1h0m-2 9h0m-6 0h0m-4-2h0m-2-7h0m-1 4h0m-2 0h0m-1 8h0m-2-12h0m-1 1h0m-1 7h0m0-11h0m-2 2h0m-2 11h0m0-1h0m0-7h0m-1 4h0m-1 3h0m0-5h0m-1 2h0m0-1h0m0 2h0m-2-1h0m0 1h0m0 1h0m-1-7h0m-271 4h0m-1 7h0m-2 5h0m0 3h0m-1-17h0m0 0h0m-1 0h0m-1 9h0m0-13h0m-1 8h0m0 13h0m0 0h0m0-14h0m-2-5h0m-1 14h0m0-10h0m-1 11h0m0-11h0m-4-3h0m-1-4h0m-2 0h0m-7 19h0m0 3h0m-3 0h0m-2-17h0m-2 8h0m-1-4h0m0 4h0m-2 2h0m-2-11h0m-3-4h0m-1 1h0m0-2h0m-2 13h0m-1-12h0m-1 2h0m0-2h0m-2 3h0m-1-3h0m0 3h0m-1-1h0m-7 15h0m-1-2h0m-2-8h0m-1-7h0m-1 7h0m-6-7h0m-2 5h0m-1 2h0m0-3h0m-1-3h0m-1 8h0m-1 8h0m0-17h0m0 15h0m-1 7h0m-4-6h0m-2-4h0m-1 10h0m0-17h0m-6 10h0m-3-4h0m-5-4h0m-3 9h0m0-16h0m-11 5h0m-1 9h0m-3-4h0m-1-1h0m-1-4h0m-6 1h0m-12 1h0m-3-6h0m-1 19h0m0-8h0m-4 4h0m-2 2h0m-4 3h0m-2-1h0m0 0h0m-4-4h0m-1-17h0m-4 7h0m-4-2h0m-5 8h0m-8 5h0m-2 3h0m-6-2h0m-3-2h0m-4 3h0m-2-13h0m-3 15h0m-17 0h0m-10-19h0m-20 13h0m-94-8h0m-2-5h0m-84-1h0m-35 37h0m9 8h0m30-21h0m11 19h0m73-14h0m36 6h0m1-13h0m16 6h0m19 1h0m9 11h0m1 2h0m3-4h0m0-4h0m6 2h0m20 4h0m2-7h0m8 12h0m8-8h0m0 3h0m3-10h0m6 8h0m2 6h0m2-16h0m7 15h0m3-11h0m4-4h0m2 15h0m11-17h0m0 7h0m1-10h0m2 6h0m1 10h0m2 3h0m5-16h0m1 12h0m1-9h0m1 16h0m1-12h0m1 11h0m2-4h0m2-15h0m4 15h0m3 2h0m4 0h0m2-3h0m2 5h0m1-8h0m2-7h0m5 7h0m8-12h0m7 17h0m1-15h0m2 17h0m1-10h0m2 2h0m1 5h0m2-11h0m3 3h0m1-3h0m2 11h0m5-7h0m1 1h0m1-4h0m0 9h0m4-8h0m0 13h0m4 0h0m2-10h0m1-3h0m3 12h0m1 0h0m21-18h0m2 0h0m6 1h0m3-2h0m2-1h0m0 6h0m4 5h0m5 1h0m0 0h0m3-7h0m0 1h0m2 6h0m0-5h0m1 2h0m0 1h0m1 2h0m3-12h0m3 11h0m0-4h0m2-1h0m3 3h0m4-8h0m1 2h0m0-3h0m1 6h0m0-4h0m348 17h0m6-11h0m0 5h0m1-7h0m5 6h0m1 2h0m0-7h0m1-4h0m0 19h0m2-23h0m1 8h0m0 26h0m-3-9h0m-7 9h0m-1 6h0m0 2h0m-5-10h0m0 8h0m-2 4h0m-2-19h0m-1 4h0m-2-1h0m0 19h0m-34 0h0m-1-1h0m-2-3h0m-2 1h0m-2 2h0m-1-4h0m-5 3h0m-3-12h0m-5 13h0m-2-16h0m-9 8h0m-4 7h0m-1 1h0m-287-20h0m-47 3h0m-6 7h0m-11-11h0m0 0h0m-2 10h0m-1-3h0m0 7h0m-1-3h0m-3-7h0m-1-3h0m-5 13h0m-1 7h0m-1-5h0m0-3h0m-3 7h0m-2-6h0m0 1h0m0-3h0m-1-7h0m-2 13h0m0-8h0m-1 12h0m0-2h0m-5-7h0m-1 6h0m0-12h0m0 2h0m-5 0h0m0 8h0m0 1h0m-2-1h0m-1 2h0m-4-15h0m-3 3h0m-1 2h0m-1 1h0m-1 9h0m0-10h0m-2-5h0m-1 7h0m-1-11h0m-1 7h0m-3 8h0m-3-6h0m-15-7h0m-12-1h0m-1 1h0m-4 18h0m0-19h0m-3 7h0m0 1h0m-3-5h0m-1 3h0m0 0h0m-5 12h0m-7-4h0m-1 2h0m-2-3h0m-4 2h0m-6-9h0m-3-2h0m-4 7h0m-1-4h0m-8-4h0m-5 14h0m-10-8h0m-4-3h0m-20 10h0m-4-10h0m-30-5h0m-13 17h0m-17 0h0m-6-12h0m-5 6h0m-9-4h0m-25-1h0m18 24h0m13 0h0m23-2h0m6-5h0m16 0h0m19 19h0m7-6h0m9-13h0m2 6h0m9 14h0m1-15h0m18 9h0m1 3h0m14-16h0m1-2h0m0 17h0m1-3h0m0 7h0m1-17h0m2 17h0m6-7h0m1-10h0m0-1h0m5 7h0m1 3h0m0 9h0m7-2h0m3-17h0m3 15h0m8-11h0m1-3h0m0 9h0m4 5h0m1-13h0m3 9h0m4-1h0m0 1h0m4 0h0m2-1h0m0-13h0m23 6h0m7-7h0m1 16h0m3 1h0m2-2h0m0 8h0m1-8h0m0-12h0m0-1h0m2 16h0m0-3h0m5 0h0m2 3h0m2 4h0m1-14h0m13-3h0m2 16h0m0-14h0m1 4h0m2 4h0m2-5h0m2 6h0m1 5h0m0-19h0m1 16h0m1-3h0m1 2h0m0-5h0m1 7h0m1-14h0m2-4h0m338 21h0m1-8h0m0-6h0m2 11h0m0 0h0m0 2h0m6-11h0m2 10h0m1-1h0m3-7h0m1-2h0m1-3h0m1 0h0m2-7h0m3 2h0m1 8h0m3-1h0m2-4h0m1-3h0m9 21h0m2-9h0m1-8h0m0 3h0m1 11h0m1 1h0m6 1h0m1-16h0m0-3h0m0 13h0m1-10h0m2 2h0m4 14h0m7-15h0m0 10h0m3 5h0m2-3h0m8-9h0m1 3h0m1 8h0m2-3h0m2-10h0m0 13h0m4-3h0m0-16h0m5 19h0m5-17h0m0 12h0m3 18h0m-6-8h0m0 2h0m-2-4h0m-5 19h0m-3-13h0m-1 11h0m-1-11h0m-3 9h0m0-2h0m-2-8h0m-2 3h0m-2-8h0m-3 13h0m0-9h0m0 16h0m-4-5h0m-1 8h0m-2-7h0m-11-4h0m-5-4h0m-2 15h0m0-18h0m-1 12h0m-1-3h0m-4-5h0m-6-9h0m-2 12h0m-3-6h0m-1-1h0m0 8h0m-2 5h0m-3-14h0m-3 12h0m0-11h0m-1 13h0m-2-2h0m0-11h0m-2 8h0m-3 0h0m-2 4h0m-1-2h0m-1-5h0m0 3h0m-3-3h0m-2 3h0m-3-12h0m-343 6h0m-6 5h0m-5 1h0m-1-2h0m-1-5h0m0 0h0m-1 13h0m-1-19h0m0 18h0m-1-13h0m-1 17h0m0-14h0m-3-7h0m0 22h0m-1-5h0m-1-17h0m0 13h0m-2 8h0m-2-8h0m0-13h0m-3 9h0m-2 13h0m-1-2h0m-3 1h0m-1-8h0m0 6h0m0-4h0m-3 0h0m-1-11h0m0 15h0m-1-4h0m0 3h0m-1 1h0m-31-19h0m-1 16h0m-4-8h0m-4-2h0m-4 15h0m-1-4h0m-5 0h0m-2-9h0m-7 7h0m0 6h0m-3-16h0m-1 10h0m-2-8h0m-3 12h0m-5 2h0m-1-6h0m-9-2h0m-8 2h0m-1-12h0m-13 16h0m-2 1h0m-1-15h0m-3-5h0m-1 18h0m-2-2h0m-2-8h0m0 11h0m-2 1h0m-7-15h0m-2 4h0m-11-8h0m-1 10h0m-1-10h0m-6 12h0m-5 0h0m-6 7h0m-4-17h0m-5-1h0m-8 17h0m-5-14h0m-5 8h0m-6-11h0m-2-2h0m-21 1h0m-12 8h0m-10 8h0m-11-16h0m-4 14h0m-11 6h0m-9-21h0m-9 22h0m-132-14h0m-56 13h0m160 12h0m27 1h0m57-3h0m3-3h0m3 1h0m10 0h0m42 12h0m0-11h0m8 11h0m5-11h0m8-1h0m4 15h0m14-10h0m8-9h0m2 15h0m11-5h0m4 2h0m1-13h0m1 14h0m0 5h0m7-11h0m3 9h0m3-3h0m1-15h0m7 17h0m1-8h0m3-6h0m1 3h0m1 7h0m1 1h0m1-8h0m5-6h0m1 11h0m6-7h0m4 6h0m1 0h0m5 9h0m1-9h0m4 10h0m0 3h0m0-19h0m0 8h0m5-6h0m1 8h0m13-2h0m2 8h0m6-1h0m4-7h0m1 6h0m1-17h0m0 10h0m4-3h0m2 10h0m2-9h0m1-6h0m2 7h0m6 12h0m1-21h0m1 2h0m3 19h0m2-2h0m3-1h0m1-6h0m0 10h0m1-13h0m1 2h0m2 9h0m1-21h0m0 16h0m1-5h0m0-8h0m2 20h0m2-23h0m0 23h0m93-4h0m0 0h0m2-12h0m0 1h0m1 11h0m1 3h0m0-2h0m1-12h0m0 11h0m1-9h0m0-3h0m1 1h0m4-1h0m0 12h0m0-13h0m2 10h0m3-5h0m2-3h0m2 5h0m1-9h0m3 3h0m1 9h0m1 4h0m1-1h0m3-10h0m2-1h0m3 3h0m0 7h0m0-1h0m2 6h0m1-7h0m1-4h0m1 5h0m263-17h0m1 4h0m2 18h0m1-20h0m2 9h0m5 5h0m3-11h0m1 1h0m14 8h0m2 7h0m5-2h0m12-18h0m2 5h0m0 1h0m5-2h0m3 0h0m1 25h0m-6 5h0m-5 4h0m-1 2h0m-2-14h0m-4 2h0m-17-4h0m0 3h0m-4 7h0m-2-4h0m-2-2h0m-6-1h0m-1-1h0m-5 13h0m-4-4h0m0 5h0m-4 4h0m0-15h0m-2-6h0m-3 10h0m-1-4h0m0 14h0m0-18h0m-6 5h0m0 1h0m-1 4h0m-9 1h0m-5 4h0m-3-13h0m-4 15h0m-6-11h0m-9 7h0m0 5h0m-4-1h0m-2-3h0m-2 5h0m-9-12h0m0 0h0m-5 14h0m-2-3h0m-1-2h0m-1 1h0m-8 2h0m0 1h0m-2-1h0m-1 1h0m-4 1h0m-144-9h0m-9-3h0m-9 12h0m-3-12h0m-3 12h0m-1-23h0m-2 12h0m-1 5h0m0-11h0m-1 9h0m-1 0h0m-1 3h0m-1 1h0m-1-19h0m0 4h0m-3 16h0m-1-20h0m-1 14h0m-1 8h0m0-5h0m-1-1h0m-1-5h0m-1 8h0m-1 2h0m0-8h0m-3 5h0m-2-1h0m-1 0h0m-1 0h0m0-10h0m-2 5h0m-2-9h0m-5 5h0m-2-1h0m-6 0h0m-1 7h0m-2 3h0m-1-5h0m-2 9h0m-1-3h0m-1 2h0m-1 1h0m-1-4h0m-3 6h0m-82-20h0m-2 1h0m-4 0h0m-2-4h0m-1 0h0m-1 1h0m-2 7h0m-6-8h0m-2 4h0m-5-4h0m-1 1h0m-5 3h0m-3-1h0m-22-1h0m-5 1h0m-4 7h0m-4-3h0m-5 12h0m-1 1h0m-1-14h0m-2 6h0m-1 10h0m-2-2h0m-4-7h0m-1 6h0m-2-7h0m-2-7h0m-2-1h0m-1 18h0m-1-21h0m-13 18h0m0-9h0m-4 3h0m0 2h0m-1-9h0m-4 8h0m-3-5h0m-2 2h0m-4-3h0m-1 13h0m-5-1h0m-2-10h0m-2 2h0m-11 5h0m-1-8h0m-2 5h0m-3 1h0m-1 1h0m-9-12h0m-11-3h0m-5 19h0m-5 2h0m-8 1h0m-5-14h0m-1 3h0m-46-7h0m-11 1h0m-40-4h0m0 17h0m-130 13h0m58-3h0m39 0h0m54-3h0m23-1h0m6 18h0m2-10h0m5 6h0m13 8h0m8-17h0m3-2h0m15-3h0m1 9h0m4 0h0m1 13h0m11-11h0m2-8h0m2 3h0m2 5h0m2-2h0m12-7h0m4 6h0m4 7h0m2-8h0m1-1h0m1 7h0m15-6h0m2-5h0m1 10h0m4-2h0m6 3h0m1 6h0m1-4h0m1-15h0m2 8h0m4 9h0m7-17h0m9 1h0m2 3h0m1 5h0m3-7h0m4 0h0m6 13h0m1 0h0m2 4h0m2-8h0m3 9h0m3-12h0m1 10h0m2-5h0m3 4h0m1 5h0m2-9h0m4-3h0m7 4h0m2-5h0m1 4h0m7-4h0m1 4h0m4 7h0m1-16h0m1 7h0m0 7h0m4-1h0m1-2h0m9-5h0m3 12h0m0-9h0m4-3h0m10 0h0m1 9h0m1-11h0m1 11h0m7-9h0m1 10h0m6-1h0m4-4h0m2-8h0m2 2h0m0 3h0m5 10h0m0-10h0m2 5h0m1-10h0m0 13h0m1-8h0m6-2h0m5 4h0m0 0h0m2-6h0m3 13h0m0-9h0m5 7h0m1 0h0m0-7h0m7 2h0m2 6h0m0-4h0m1-5h0m6 3h0m2 1h0m0-3h0m1 7h0m1-5h0m5 0h0m1 0h0m1-11h0m2 16h0m4-7h0m1-10h0m0 20h0m3-18h0m1 13h0m0-13h0m1 11h0m3-11h0m2 9h0m0-13h0m7 15h0m0 0h0m1 0h0m0-16h0m2 14h0m0-14h0m1 12h0m1 7h0m2-18h0m1 8h0m1 3h0m0-2h0m0-4h0m1 8h0m1-11h0m1 19h0m2-20h0m0 1h0m3 9h0m1 0h0m0 7h0m3-15h0m0 6h0m2 3h0m1-7h0m1 7h0m1 7h0m1-4h0m2-12h0m0 4h0m2-3h0m0 16h0m5-6h0m1-11h0m2 15h0m1 2h0m0-19h0m0 6h0m2 0h0m1 12h0m3 3h0m0-10h0m0-1h0m3 11h0m1-20h0m2 12h0m0-4h0m0 6h0m1-4h0m1-13h0m0 14h0m3-7h0m1 14h0m1-11h0m0 6h0m0 1h0m1-9h0m3 15h0m1-3h0m1-12h0m4 10h0m2-5h0m0 9h0m2-8h0m9 3h0m0 6h0m0-12h0m1 4h0m0 5h0m3-7h0m3-4h0m4 0h0m3 13h0m2-4h0m1-1h0m0 4h0m3-10h0m2 4h0m1 8h0m1-14h0m1-1h0m7-3h0m4 5h0m3 4h0m5-8h0m2 12h0m0-10h0m3 8h0m6-1h0m2-1h0m2 1h0m2-8h0m1 16h0m2-8h0m1 5h0m3 3h0m4-11h0m1 4h0m2 4h0m2-5h0m1 5h0m0-8h0m2 3h0m5 2h0m0 5h0m3-9h0m1-3h0m1 12h0m1-13h0m0 11h0m3 3h0m1-9h0m0 6h0m0-11h0m1 0h0m2-4h0m0 6h0m1 3h0m3 7h0m0-18h0m2 11h0m2-8h0m4-1h0m1 6h0m4-3h0m4 4h0m8 11h0m2-3h0m0-3h0m1-10h0m1 6h0m1-4h0m2-4h0m0 6h0m1 4h0m1 2h0m1-7h0m5-3h0m4 1h0m0 7h0m2-2h0m3-11h0m5-2h0m2 13h0m0-6h0m0-2h0m1 1h0m4 6h0m0-4h0m5-2h0m1 3h0m3-9h0m3 16h0m7-7h0m2 8h0m5-9h0m1-5h0m3 4h0m1-5h0m19 0h0m0 7h0m2 1h0m2-7h0m0 0h0m6 3h0m1 0h0m2 16h0m4-9h0m4-11h0m0-2h0m3 20h0m4-11h0m3 6h0m11-2h0m3-11h0m0 10h0m9-11h0m1 22h0m4-13h0m-9 15h0m-14 3h0m-32-1h0m-28 0h0m-10-3h0m-2 2h0m-12-2h0m-1 2h0m-2 1h0m-12-1h0m-9-2h0m-9 4h0m-3-4h0m-20 4h0m-5-3h0m0 0h0m-4 1h0m-2 1h0m-2 1h0m-15 0h0m-20-2h0m-7-2h0m-20 3h0m0 0h0m-2 1h0m-1-1h0m-1-2h0m-6-1h0m-9 0h0m-3 1h0m-1 3h0m-7-4h0m-18 1h0m-6 0h0m-8 1h0m-6 0h0m-7-2h0m-6 1h0m-20 1h0m0-2h0m-1 0h0m-8 2h0m-3 1h0m-3-3h0m-2 2h0m-18-1h0m-7-1h0m-7 3h0m-6 0h0m-7-3h0m-6 0h0m0 0h0m-2 0h0m0 0h0m-1 3h0m-15-2h0m-8 2h0m-1-1h0m-3-2h0m-16 1h0m-4-1h0m-2 3h0m-3-2h0m-9-1h0m0 0h0m-1 4h0m-11-1h0m-18-3h0m-6 1h0m-1 1h0m-1-2h0m-7 3h0m-16-2h0m-12 3h0m-5-4h0m-21 3h0m-10 1h0m-1 0h0m-73-3h0" stroke="#00fb00" stroke-width="14" stroke-linecap="round" fill="none"/><path transform="scale(.5)" d="M3877 3528h0m-226 14h0m-178 77h0m352 18h0m-154-4h0m235 23h0m-242 26h0m-656-1h0m707 29h0m186 27h0m-8-3h0m-25 9h0m-59-15h0m-98 14h0m-30 5h0m58 15h0m47 1h0m3-6h0m55-8h0m30 18h0m3-16h0m20-3h0m13 15h0m-143 17h0m-78 5h0m-199 10h0m320 9h0m2 1h0m25 10h0m3-14h0m67-6h0m18 40h0m-40 0h0m0-2h0m-1-2h0m-13-12h0m-21 9h0m-8 0h0m-195-12h0m4 26h0m6 13h0m73-12h0m39 3h0m20-3h0m48 20h0m2 0h0m28-12h0m22 7h0m-34 13h0m-16-2h0m-3 18h0m-15-17h0m-5 0h0m-3 2h0m-29-5h0m-10-1h0m-43 5h0m-53 16h0m-72-18h0m-15-2h0m-39 14h0m-108-5h0m-295 9h0m362 5h0m72 3h0m0 4h0m67-8h0m20 9h0m20-6h0m2 6h0m4-4h0m85 17h0m17-20h0m20 3h0m-35 27h0m-35 3h0m-14 9h0m-13-11h0m-7 4h0m-2-11h0m-43 3h0m-1 2h0m-35 4h0m-103 9h0m-280-2h0m199 11h0m79 0h0m84 8h0m5 7h0m28-10h0m10 10h0m1-8h0m23 8h0m40 1h0m2-1h0m3-5h0m-7 10h0m-10 2h0m-13 12h0m-8-4h0m-24-2h0m-18 8h0m-8 4h0m-3-6h0m-1 6h0m-32-19h0m-44 3h0m-267 15h0m13 4h0m274 3h0m1 0h0m29 18h0m32-15h0m-28 25h0m-30-7h0m-27 8h0m-29 13h0m-407-19h0m301 27h0m32 17h0m52-18h0m21 15h0m49-15h0m-32 27h0m-36-8h0m-55 23h0m-4-4h0m0 1h0m-20 3h0m-42-15h0m-27-3h0m-160 9h0m4 33h0m47-19h0m19 8h0m89-4h0m66 4h0m3-12h0m68 0h0m-31 32h0m-48 4h0m-1 6h0m-63-2h0m-44-4h0m-165 20h0m102 2h0m2 2h0m22-7h0m46 7h0m22 10h0m30-5h0m3 2h0m38-11h0m28-8h0m-82 45h0m-3-4h0m-1-7h0m-106-5h0m-191 29h0m172 5h0m74 3h0m4-4h0m7-10h0m16-4h0m-22 24h0m-25 8h0m-32 1h0m-125 7h0m29 27h0m51 18h0m-3-10h0m-30 20h0m-19-16h0m-149 15h0m-36-10h0m35 14h0m77 10h0m69-8h0m-30 28h0m-62 1h0m-86 29h0m96-7h0m-44 24h0m-15 6h0m-172 15h0m131 21h0m-13 20h0m-11-13h0m-25 15h0m-47 13h0m36 28h0m-99 44h0" stroke="#0505c0" stroke-width="20.4" stroke-linecap="round" fill="none"/>
<text x="1349.2" y="2209.3" font-size="25.3" text-anchor="end">0.00</text>
<text x="1349.2" y="2034.8" font-size="25.3" text-anchor="end">0.25</text>
<text x="1349.2" y="1860.3" font-size="25.3" text-anchor="end">0.50</text>
<text x="1349.2" y="1685.8" font-size="25.3" text-anchor="end">0.75</text>
<text x="1375.7" y="2309.5" font-size="24.8" text-anchor="end" transform="rotate(-45 1375.7 2309.5)">-0.4</text>
<text x="1613.8" y="2309.5" font-size="24.8" text-anchor="end" transform="rotate(-45 1613.8 2309.5)">-0.2</text>
<text x="1851.9" y="2309.5" font-size="24.8" text-anchor="end" transform="rotate(-45 1851.9 2309.5)">0.0</text>
<text x="1658.7" y="1645" font-size="41.7" text-anchor="middle">Screen 2 Hits</text>
<text x="1149.5" y="1658.5" font-size="52.5" text-anchor="start">f</text>
<text x="1664" y="2368" font-size="32.2" text-anchor="middle">Normalized log<tspan font-size="24.5" dy="9">2</tspan><tspan dy="-9"> </tspan><tspan font-style="italic">f</tspan>LUC</text>
<text x="1276.4" y="1974" font-size="32.2" text-anchor="middle" transform="rotate(-90 1276.4 1974)">Normalized log<tspan font-size="24.5" dy="9">2</tspan><tspan dy="-9"> </tspan><tspan font-style="italic">n</tspan>BIT</text>
<rect x="424.5" y="2416.7" width="1287" height="82" fill="#fff" stroke="#1a1a1a" stroke-width="2.2"/>
<circle cx="473.3" cy="2455.5" r="12.2" fill="#00fb00"/>
<text x="512" y="2466" font-size="32.2" text-anchor="start">Negative Control</text>
<circle cx="877.6" cy="2455.5" r="12.2" fill="#a0a0a4"/>
<text x="915.5" y="2466" font-size="32.2" text-anchor="start">Compound Field</text>
<circle cx="1295.7" cy="2455.5" r="12.2" fill="#0505c0"/>
<text x="1333.4" y="2466" font-size="32.2" text-anchor="start">Hits</text>
<circle cx="1518.3" cy="2455.5" r="12.2" fill="#f84444"/>
<text x="1556.5" y="2466" font-size="32.2" text-anchor="start">SR-1815</text>
</svg></body></html>
